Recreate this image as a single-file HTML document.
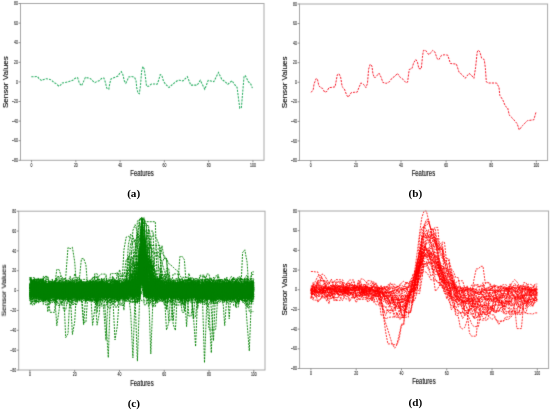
<!DOCTYPE html><html><head><meta charset="utf-8"><style>html,body{margin:0;padding:0;background:#fff;width:550px;height:411px;overflow:hidden}svg{display:block;will-change:transform}</style></head><body>
<svg width="550" height="411" viewBox="0 0 550 411" font-family="Liberation Sans, sans-serif">
<defs><filter id="bl" color-interpolation-filters="sRGB" filterUnits="userSpaceOnUse" x="0" y="0" width="550" height="411"><feConvolveMatrix order="3" kernelMatrix="0.01 0.08 0.01 0.08 0.64 0.08 0.01 0.08 0.01" divisor="1" edgeMode="duplicate"/></filter></defs><g filter="url(#bl)">
<rect width="550" height="411" fill="#fff"/>
<polyline points="31.3,76.8 34.6,76.7 37.5,76.5 39.3,78.9 41.5,80.5 43.7,79.5 46.2,78.7 49.2,79.2 51.4,80.0 53.9,82.4 56.1,83.6 58.7,86.0 60.5,85.1 62.3,82.9 65.2,82.5 68.4,81.7 72.7,80.3 75.6,78.0 77.6,77.7 79.5,83.4 81.6,85.7 83.3,82.1 85.4,77.4 88.0,77.9 90.5,78.6 92.7,80.9 94.8,82.6 97.3,81.3 99.9,80.4 101.5,78.5 103.9,78.0 105.4,82.4 106.8,88.2 108.8,89.2 109.7,83.8 110.9,79.0 113.1,78.0 115.6,77.0 118.0,76.1 119.5,73.6 121.4,71.7 122.9,74.6 124.3,80.9 125.8,83.2 127.3,80.4 128.7,77.0 131.1,76.5 134.5,77.3 136.0,80.4 136.8,88.2 138.0,93.1 139.3,93.8 140.5,85.7 141.6,71.4 142.9,66.5 144.3,69.2 145.4,76.9 146.5,86.2 148.7,86.2 151.4,84.0 154.7,84.0 156.9,84.4 158.5,80.7 160.2,74.7 161.8,75.3 163.5,81.3 165.7,84.4 169.0,87.6 171.7,85.1 174.4,82.9 177.7,80.4 179.9,80.2 182.9,80.9 187.3,76.6 190.8,85.1 197.2,85.1 200.3,80.4 204.8,89.3 208.2,80.4 213.8,81.7 218.5,72.5 221.7,79.3 224.7,81.4 227.8,84.3 232.0,80.7 234.7,84.7 237.1,87.4 238.7,100.1 239.8,108.2 241.4,107.5 242.7,92.1 244.1,76.0 245.4,75.8 248.1,81.4 250.8,84.1 252.4,88.1" fill="none" stroke="#2aae62" stroke-width="1.05" stroke-dasharray="2.2,1.1"/>
<polyline points="311.1,92.4 313.2,89.7 314.1,83.8 316.2,78.5 317.5,79.5 318.8,85.5 320.5,87.6 322.6,88.4 324.7,92.3 326.9,91.4 329.0,87.6 331.8,87.4 335.1,86.8 337.3,74.8 338.9,73.7 340.6,77.0 342.2,86.8 344.4,89.0 346.6,95.0 348.2,97.2 351.0,92.8 354.2,92.3 357.1,92.2 359.3,86.7 360.9,82.9 363.7,84.5 365.9,87.6 367.5,83.4 368.6,69.2 370.2,64.3 371.9,65.9 373.0,74.1 374.6,78.0 376.8,75.8 379.0,73.1 381.2,77.4 382.8,82.4 386.1,83.4 389.4,81.8 392.1,78.0 394.9,76.3 397.4,73.4 400.5,77.7 403.2,79.4 405.9,82.7 407.6,82.1 409.2,69.5 412.0,68.4 413.6,63.0 415.8,59.5 417.4,61.9 418.9,68.7 421.3,68.7 422.4,57.5 423.4,50.4 425.6,50.4 428.9,54.8 432.7,50.4 434.9,52.0 437.1,58.6 438.8,59.7 441.5,55.3 444.2,54.8 447.7,55.1 450.4,63.5 456.4,64.1 459.1,72.3 461.9,74.5 465.2,78.3 469.0,73.4 471.2,75.0 473.9,78.3 475.6,67.4 477.2,52.0 478.3,50.1 479.9,52.0 481.6,58.1 484.3,59.7 485.4,68.4 486.3,81.9 488.7,83.0 496.6,83.0 499.0,87.4 499.8,95.3 502.9,100.1 505.3,106.1 507.7,108.0 509.3,115.1 513.2,119.0 517.2,123.8 519.2,129.8 522.7,125.4 527.5,120.6 533.8,119.8 536.2,111.5" fill="none" stroke="#f71c2c" stroke-width="1.0" stroke-dasharray="2.2,1.1"/>
<g fill="none" stroke="#008000" stroke-width="0.9" stroke-dasharray="2,1">
<polyline points="29.9,289.0 32.1,291.5 34.4,292.4 36.6,289.3 38.9,288.2 41.1,291.5 43.3,291.5 45.6,291.5 47.8,295.0 50.0,297.1 52.3,291.6 54.5,294.9 56.8,294.9 59.0,294.9 61.2,294.9 63.5,294.9 65.7,294.9 68.0,291.6 70.2,291.6 72.4,292.0 74.7,292.0 76.9,292.0 79.2,288.7 81.4,291.4 83.6,288.8 85.9,288.8 88.1,291.8 90.4,294.1 92.6,290.5 94.8,289.3 97.1,288.2 99.3,288.2 101.5,288.2 103.8,288.2 106.0,288.2 108.3,288.2 110.5,288.2 112.7,292.4 115.0,292.4 117.2,286.8 119.5,288.1 121.7,288.1 123.9,288.1 126.2,294.8 128.4,289.7 130.7,290.1 132.9,296.8 135.1,296.8 137.4,291.3 139.6,283.6 141.8,270.9 144.1,290.8 146.3,290.8 148.6,293.7 150.8,289.9 153.0,289.9 155.3,289.9 157.5,291.9 159.8,287.4 162.0,287.4 164.2,290.9 166.5,288.2 168.7,284.9 171.0,284.9 173.2,284.9 175.4,284.9 177.7,289.0 179.9,289.0 182.2,289.0 184.4,289.0 186.6,294.4 188.9,294.4 191.1,287.5 193.3,287.5 195.6,294.6 197.8,296.0 200.1,290.3 202.3,284.2 204.5,284.2 206.8,296.5 209.0,294.2 211.3,294.2 213.5,294.2 215.7,289.1 218.0,289.1 220.2,290.8 222.5,290.8 224.7,292.6 226.9,293.8 229.2,290.3 231.4,290.0 233.7,291.6 235.9,293.2 238.1,293.2 240.4,293.2 242.6,287.6 244.8,287.6 247.1,295.5 249.3,287.2 251.6,286.7 253.8,286.7"/>
<polyline points="29.9,290.8 32.1,290.8 34.4,290.8 36.6,290.8 38.9,290.8 41.1,290.8 43.3,300.8 45.6,300.8 47.8,283.6 50.0,283.6 52.3,286.8 54.5,286.8 56.8,276.8 59.0,276.8 61.2,276.4 63.5,285.1 65.7,285.1 68.0,283.2 70.2,282.6 72.4,283.1 74.7,283.1 76.9,288.1 79.2,288.1 81.4,291.1 83.6,289.8 85.9,288.1 88.1,287.1 90.4,287.1 92.6,287.1 94.8,283.3 97.1,284.6 99.3,284.6 101.5,284.6 103.8,284.6 106.0,284.6 108.3,285.8 110.5,285.1 112.7,286.4 115.0,289.3 117.2,289.3 119.5,289.5 121.7,289.5 123.9,289.5 126.2,288.8 128.4,287.6 130.7,290.4 132.9,292.9 135.1,289.5 137.4,289.5 139.6,289.5 141.8,272.6 144.1,272.6 146.3,289.9 148.6,289.9 150.8,288.8 153.0,286.4 155.3,286.4 157.5,290.5 159.8,286.0 162.0,281.6 164.2,282.4 166.5,283.0 168.7,282.0 171.0,283.7 173.2,283.7 175.4,283.7 177.7,285.8 179.9,285.8 182.2,286.1 184.4,289.1 186.6,289.1 188.9,284.1 191.1,278.0 193.3,278.0 195.6,285.5 197.8,285.5 200.1,285.5 202.3,285.5 204.5,290.5 206.8,295.3 209.0,295.3 211.3,295.3 213.5,295.3 215.7,295.3 218.0,296.6 220.2,291.4 222.5,282.4 224.7,278.7 226.9,278.7 229.2,282.9 231.4,282.9 233.7,282.9 235.9,288.6 238.1,288.6 240.4,286.9 242.6,285.2 244.8,285.6 247.1,285.6 249.3,294.1 251.6,294.1 253.8,288.5"/>
<polyline points="29.9,288.0 32.1,281.1 34.4,286.1 36.6,286.1 38.9,284.8 41.1,293.2 43.3,291.1 45.6,279.3 47.8,279.3 50.0,288.7 52.3,288.7 54.5,289.8 56.8,286.3 59.0,290.8 61.2,290.8 63.5,295.4 65.7,295.4 68.0,295.4 70.2,296.2 72.4,296.2 74.7,296.2 76.9,287.1 79.2,287.1 81.4,284.5 83.6,284.5 85.9,284.5 88.1,284.5 90.4,284.5 92.6,287.1 94.8,297.5 97.1,294.1 99.3,285.4 101.5,286.9 103.8,286.9 106.0,286.9 108.3,286.9 110.5,286.9 112.7,286.9 115.0,292.5 117.2,292.5 119.5,287.4 121.7,282.9 123.9,282.9 126.2,291.4 128.4,285.7 130.7,272.7 132.9,280.6 135.1,280.6 137.4,280.6 139.6,280.6 141.8,220.3 144.1,280.3 146.3,276.8 148.6,276.8 150.8,276.8 153.0,286.1 155.3,286.1 157.5,285.2 159.8,280.2 162.0,284.2 164.2,284.2 166.5,280.6 168.7,286.0 171.0,288.0 173.2,291.9 175.4,291.9 177.7,292.0 179.9,302.3 182.2,302.3 184.4,302.3 186.6,288.0 188.9,288.0 191.1,284.6 193.3,286.1 195.6,300.7 197.8,289.3 200.1,289.3 202.3,278.0 204.5,276.5 206.8,279.5 209.0,279.5 211.3,299.4 213.5,285.1 215.7,286.8 218.0,282.3 220.2,287.7 222.5,286.8 224.7,286.8 226.9,285.7 229.2,285.7 231.4,285.5 233.7,284.9 235.9,284.9 238.1,285.8 240.4,287.1 242.6,283.2 244.8,284.7 247.1,284.7 249.3,290.2 251.6,278.3 253.8,287.0"/>
<polyline points="29.9,280.5 32.1,280.5 34.4,280.5 36.6,288.1 38.9,288.1 41.1,288.4 43.3,284.9 45.6,288.4 47.8,293.6 50.0,293.6 52.3,293.6 54.5,293.6 56.8,294.2 59.0,294.2 61.2,289.7 63.5,289.7 65.7,289.7 68.0,284.7 70.2,280.9 72.4,288.1 74.7,288.1 76.9,288.9 79.2,291.1 81.4,291.1 83.6,292.0 85.9,292.0 88.1,292.0 90.4,292.0 92.6,292.3 94.8,292.3 97.1,292.3 99.3,287.6 101.5,293.9 103.8,293.9 106.0,286.7 108.3,286.7 110.5,286.7 112.7,288.8 115.0,290.8 117.2,290.8 119.5,290.8 121.7,290.8 123.9,282.1 126.2,279.9 128.4,284.9 130.7,287.6 132.9,288.8 135.1,294.5 137.4,294.5 139.6,285.8 141.8,257.7 144.1,257.7 146.3,286.8 148.6,292.0 150.8,296.7 153.0,286.7 155.3,286.7 157.5,287.5 159.8,287.5 162.0,286.5 164.2,286.5 166.5,286.5 168.7,281.5 171.0,281.5 173.2,281.5 175.4,281.5 177.7,292.6 179.9,292.6 182.2,292.6 184.4,289.9 186.6,286.7 188.9,286.7 191.1,296.6 193.3,292.7 195.6,291.7 197.8,289.8 200.1,289.8 202.3,289.8 204.5,289.8 206.8,288.5 209.0,290.2 211.3,288.4 213.5,283.8 215.7,286.3 218.0,286.3 220.2,291.7 222.5,291.7 224.7,284.2 226.9,284.2 229.2,289.1 231.4,293.1 233.7,294.4 235.9,294.4 238.1,287.6 240.4,287.5 242.6,287.5 244.8,285.2 247.1,285.2 249.3,285.2 251.6,284.3 253.8,287.8"/>
<polyline points="29.9,298.2 32.1,298.2 34.4,298.2 36.6,284.1 38.9,284.8 41.1,284.8 43.3,291.5 45.6,291.5 47.8,292.1 50.0,288.7 52.3,288.7 54.5,292.5 56.8,292.5 59.0,292.5 61.2,292.5 63.5,288.1 65.7,289.6 68.0,289.0 70.2,299.5 72.4,296.3 74.7,291.3 76.9,291.3 79.2,291.3 81.4,298.6 83.6,298.6 85.9,298.6 88.1,296.3 90.4,296.3 92.6,282.2 94.8,290.1 97.1,290.1 99.3,290.1 101.5,290.1 103.8,290.1 106.0,290.1 108.3,290.1 110.5,295.8 112.7,284.6 115.0,288.5 117.2,300.7 119.5,287.3 121.7,287.3 123.9,293.6 126.2,287.5 128.4,287.5 130.7,291.8 132.9,299.2 135.1,290.6 137.4,301.5 139.6,301.5 141.8,241.8 144.1,269.3 146.3,269.3 148.6,269.3 150.8,290.2 153.0,292.3 155.3,287.1 157.5,287.1 159.8,287.1 162.0,287.1 164.2,287.1 166.5,287.1 168.7,287.1 171.0,280.6 173.2,280.6 175.4,282.6 177.7,282.6 179.9,282.6 182.2,283.3 184.4,283.3 186.6,283.3 188.9,282.3 191.1,283.0 193.3,283.0 195.6,298.7 197.8,298.7 200.1,286.7 202.3,295.1 204.5,295.1 206.8,295.1 209.0,295.1 211.3,296.8 213.5,296.8 215.7,295.4 218.0,292.4 220.2,292.4 222.5,285.8 224.7,297.7 226.9,297.7 229.2,291.8 231.4,288.2 233.7,288.6 235.9,288.6 238.1,290.3 240.4,290.3 242.6,288.9 244.8,288.9 247.1,294.5 249.3,291.4 251.6,287.9 253.8,279.4"/>
<polyline points="29.9,290.5 32.1,290.5 34.4,285.2 36.6,285.2 38.9,298.0 41.1,298.0 43.3,283.6 45.6,283.6 47.8,283.6 50.0,283.6 52.3,283.6 54.5,293.9 56.8,284.9 59.0,284.9 61.2,291.6 63.5,291.6 65.7,292.4 68.0,288.0 70.2,288.0 72.4,294.1 74.7,294.1 76.9,294.1 79.2,294.1 81.4,292.2 83.6,282.5 85.9,282.5 88.1,282.5 90.4,290.8 92.6,297.4 94.8,295.8 97.1,295.8 99.3,293.8 101.5,293.8 103.8,293.8 106.0,293.8 108.3,287.8 110.5,287.8 112.7,287.8 115.0,287.8 117.2,293.3 119.5,284.8 121.7,285.3 123.9,293.7 126.2,293.7 128.4,291.1 130.7,288.5 132.9,287.4 135.1,291.0 137.4,285.7 139.6,284.8 141.8,278.4 144.1,278.4 146.3,291.4 148.6,291.4 150.8,291.4 153.0,282.9 155.3,287.8 157.5,287.8 159.8,293.8 162.0,293.8 164.2,293.8 166.5,296.6 168.7,296.6 171.0,296.6 173.2,296.6 175.4,295.8 177.7,296.7 179.9,296.5 182.2,296.5 184.4,290.9 186.6,290.9 188.9,290.9 191.1,290.9 193.3,288.2 195.6,291.4 197.8,291.4 200.1,291.4 202.3,294.3 204.5,294.3 206.8,301.1 209.0,286.4 211.3,296.2 213.5,295.4 215.7,286.3 218.0,290.8 220.2,292.9 222.5,292.9 224.7,301.1 226.9,292.2 229.2,292.2 231.4,295.7 233.7,287.3 235.9,298.2 238.1,297.1 240.4,290.8 242.6,290.8 244.8,289.9 247.1,296.9 249.3,299.9 251.6,303.9 253.8,303.9"/>
<polyline points="29.9,294.3 32.1,290.2 34.4,289.4 36.6,289.4 38.9,296.3 41.1,290.5 43.3,292.3 45.6,288.3 47.8,297.5 50.0,297.5 52.3,295.1 54.5,283.7 56.8,289.8 59.0,292.9 61.2,292.9 63.5,289.9 65.7,290.8 68.0,294.7 70.2,292.6 72.4,292.2 74.7,292.2 76.9,297.8 79.2,297.8 81.4,288.3 83.6,289.3 85.9,289.3 88.1,289.0 90.4,289.0 92.6,289.0 94.8,289.0 97.1,289.0 99.3,289.0 101.5,291.1 103.8,287.3 106.0,287.3 108.3,290.4 110.5,291.0 112.7,292.8 115.0,292.8 117.2,288.8 119.5,288.8 121.7,288.8 123.9,288.8 126.2,288.8 128.4,288.8 130.7,288.8 132.9,288.8 135.1,289.5 137.4,289.5 139.6,290.5 141.8,269.1 144.1,280.1 146.3,280.1 148.6,291.2 150.8,291.2 153.0,292.3 155.3,292.3 157.5,294.6 159.8,294.6 162.0,292.7 164.2,292.7 166.5,292.7 168.7,292.7 171.0,294.2 173.2,291.9 175.4,291.1 177.7,289.8 179.9,290.3 182.2,290.2 184.4,289.1 186.6,289.1 188.9,294.1 191.1,294.1 193.3,294.1 195.6,298.1 197.8,298.1 200.1,292.7 202.3,286.5 204.5,289.4 206.8,290.4 209.0,287.1 211.3,297.1 213.5,302.3 215.7,295.8 218.0,293.5 220.2,293.5 222.5,283.7 224.7,283.7 226.9,283.7 229.2,284.3 231.4,284.3 233.7,289.4 235.9,282.2 238.1,291.3 240.4,294.6 242.6,293.1 244.8,293.1 247.1,291.5 249.3,292.8 251.6,291.2 253.8,291.6"/>
<polyline points="29.9,284.2 32.1,284.2 34.4,286.8 36.6,294.2 38.9,294.2 41.1,286.7 43.3,286.7 45.6,289.7 47.8,289.7 50.0,289.7 52.3,289.7 54.5,284.9 56.8,288.5 59.0,285.6 61.2,285.6 63.5,288.3 65.7,283.9 68.0,287.0 70.2,287.0 72.4,287.0 74.7,287.0 76.9,288.9 79.2,288.9 81.4,292.1 83.6,294.3 85.9,294.3 88.1,296.0 90.4,283.1 92.6,287.9 94.8,287.9 97.1,285.1 99.3,288.5 101.5,288.5 103.8,294.3 106.0,290.5 108.3,290.6 110.5,287.9 112.7,289.8 115.0,296.7 117.2,299.2 119.5,294.7 121.7,294.7 123.9,286.8 126.2,286.8 128.4,299.8 130.7,302.8 132.9,295.0 135.1,292.1 137.4,292.1 139.6,263.9 141.8,254.4 144.1,276.4 146.3,288.8 148.6,288.8 150.8,289.2 153.0,289.2 155.3,281.0 157.5,281.0 159.8,281.0 162.0,281.0 164.2,291.5 166.5,291.5 168.7,291.5 171.0,291.5 173.2,288.2 175.4,288.2 177.7,300.1 179.9,300.1 182.2,300.1 184.4,284.2 186.6,290.7 188.9,290.7 191.1,290.7 193.3,288.3 195.6,299.6 197.8,299.6 200.1,299.6 202.3,287.5 204.5,286.6 206.8,286.6 209.0,281.3 211.3,292.7 213.5,295.7 215.7,295.7 218.0,283.8 220.2,287.5 222.5,287.5 224.7,291.8 226.9,293.4 229.2,283.7 231.4,280.6 233.7,282.5 235.9,282.5 238.1,295.7 240.4,295.7 242.6,295.7 244.8,287.1 247.1,288.5 249.3,288.5 251.6,288.5 253.8,289.3"/>
<polyline points="29.9,280.9 32.1,280.9 34.4,294.3 36.6,294.3 38.9,290.4 41.1,285.2 43.3,286.7 45.6,288.0 47.8,288.0 50.0,288.0 52.3,288.0 54.5,288.0 56.8,295.8 59.0,295.8 61.2,294.5 63.5,294.5 65.7,294.5 68.0,294.5 70.2,294.5 72.4,293.6 74.7,289.8 76.9,292.7 79.2,292.7 81.4,289.9 83.6,291.4 85.9,291.4 88.1,293.6 90.4,299.1 92.6,302.0 94.8,302.0 97.1,302.0 99.3,288.9 101.5,293.6 103.8,288.8 106.0,288.8 108.3,286.3 110.5,286.3 112.7,286.3 115.0,285.0 117.2,285.0 119.5,287.0 121.7,285.5 123.9,285.5 126.2,293.9 128.4,286.3 130.7,286.3 132.9,286.3 135.1,291.1 137.4,279.8 139.6,277.1 141.8,276.4 144.1,273.7 146.3,274.5 148.6,274.5 150.8,274.5 153.0,274.5 155.3,286.2 157.5,286.2 159.8,288.4 162.0,288.4 164.2,288.4 166.5,286.0 168.7,286.0 171.0,290.2 173.2,290.2 175.4,290.2 177.7,286.1 179.9,284.9 182.2,284.9 184.4,284.9 186.6,284.9 188.9,285.9 191.1,285.9 193.3,279.9 195.6,279.9 197.8,288.4 200.1,282.1 202.3,282.1 204.5,286.7 206.8,285.6 209.0,291.5 211.3,291.5 213.5,291.9 215.7,291.9 218.0,291.9 220.2,290.9 222.5,290.9 224.7,292.3 226.9,292.3 229.2,292.3 231.4,290.1 233.7,290.1 235.9,290.1 238.1,290.1 240.4,291.8 242.6,291.8 244.8,290.1 247.1,290.1 249.3,295.1 251.6,295.1 253.8,295.1"/>
<polyline points="29.9,299.1 32.1,290.4 34.4,288.3 36.6,288.3 38.9,285.3 41.1,286.3 43.3,286.3 45.6,292.9 47.8,292.9 50.0,292.9 52.3,284.2 54.5,284.2 56.8,290.3 59.0,289.8 61.2,289.3 63.5,289.3 65.7,289.3 68.0,289.3 70.2,289.3 72.4,289.3 74.7,289.5 76.9,288.4 79.2,294.4 81.4,282.8 83.6,282.7 85.9,282.7 88.1,281.6 90.4,281.6 92.6,281.6 94.8,281.6 97.1,281.6 99.3,281.3 101.5,281.3 103.8,281.3 106.0,288.3 108.3,288.3 110.5,293.5 112.7,293.5 115.0,281.2 117.2,281.2 119.5,280.7 121.7,287.8 123.9,293.9 126.2,279.4 128.4,289.8 130.7,284.0 132.9,279.2 135.1,279.2 137.4,279.2 139.6,279.2 141.8,261.5 144.1,282.5 146.3,282.5 148.6,282.5 150.8,280.2 153.0,280.2 155.3,283.2 157.5,283.2 159.8,283.2 162.0,283.2 164.2,281.8 166.5,281.8 168.7,283.0 171.0,283.0 173.2,283.0 175.4,294.8 177.7,297.7 179.9,297.7 182.2,297.7 184.4,297.7 186.6,293.5 188.9,291.0 191.1,285.4 193.3,288.7 195.6,288.7 197.8,281.7 200.1,281.7 202.3,281.7 204.5,281.7 206.8,287.0 209.0,287.0 211.3,287.2 213.5,290.9 215.7,290.9 218.0,290.9 220.2,289.4 222.5,289.4 224.7,283.4 226.9,292.2 229.2,286.3 231.4,289.1 233.7,286.4 235.9,286.4 238.1,294.5 240.4,294.5 242.6,294.5 244.8,294.5 247.1,298.8 249.3,293.4 251.6,294.5 253.8,290.1"/>
<polyline points="29.9,296.3 32.1,300.7 34.4,291.6 36.6,293.4 38.9,293.4 41.1,294.8 43.3,295.0 45.6,295.0 47.8,294.1 50.0,304.1 52.3,295.9 54.5,302.7 56.8,297.0 59.0,291.5 61.2,296.3 63.5,297.4 65.7,297.4 68.0,297.4 70.2,297.4 72.4,297.4 74.7,297.4 76.9,297.4 79.2,297.4 81.4,300.8 83.6,292.5 85.9,301.4 88.1,293.2 90.4,300.1 92.6,285.8 94.8,302.9 97.1,289.1 99.3,289.1 101.5,289.1 103.8,289.1 106.0,289.1 108.3,289.1 110.5,303.4 112.7,298.4 115.0,301.4 117.2,300.7 119.5,300.7 121.7,285.8 123.9,294.0 126.2,296.3 128.4,296.7 130.7,291.6 132.9,291.6 135.1,291.6 137.4,288.1 139.6,288.1 141.8,275.3 144.1,275.3 146.3,286.4 148.6,296.4 150.8,293.4 153.0,293.4 155.3,291.4 157.5,289.0 159.8,289.0 162.0,289.0 164.2,289.0 166.5,290.3 168.7,294.6 171.0,294.6 173.2,305.0 175.4,305.0 177.7,305.0 179.9,305.0 182.2,305.0 184.4,305.0 186.6,289.6 188.9,297.5 191.1,291.4 193.3,295.6 195.6,295.6 197.8,295.2 200.1,289.7 202.3,300.6 204.5,297.1 206.8,297.1 209.0,297.1 211.3,303.3 213.5,303.3 215.7,303.3 218.0,303.3 220.2,294.6 222.5,294.6 224.7,294.6 226.9,294.6 229.2,294.6 231.4,302.5 233.7,297.2 235.9,287.4 238.1,294.5 240.4,292.2 242.6,292.2 244.8,292.2 247.1,294.1 249.3,294.1 251.6,294.1 253.8,296.6"/>
<polyline points="29.9,301.1 32.1,301.1 34.4,291.5 36.6,291.5 38.9,291.5 41.1,290.9 43.3,290.9 45.6,290.9 47.8,290.9 50.0,290.9 52.3,296.3 54.5,296.3 56.8,296.3 59.0,283.7 61.2,283.7 63.5,289.1 65.7,285.9 68.0,285.9 70.2,285.9 72.4,284.0 74.7,284.8 76.9,284.8 79.2,289.9 81.4,289.9 83.6,289.9 85.9,291.5 88.1,291.5 90.4,288.9 92.6,291.0 94.8,291.0 97.1,291.0 99.3,291.5 101.5,291.5 103.8,279.4 106.0,276.4 108.3,289.0 110.5,291.2 112.7,292.3 115.0,292.3 117.2,292.3 119.5,292.3 121.7,290.1 123.9,290.1 126.2,295.4 128.4,287.8 130.7,278.7 132.9,273.9 135.1,273.9 137.4,273.9 139.6,279.3 141.8,269.7 144.1,269.7 146.3,290.2 148.6,290.2 150.8,295.7 153.0,293.6 155.3,290.9 157.5,290.9 159.8,295.9 162.0,294.5 164.2,294.5 166.5,286.0 168.7,290.6 171.0,290.6 173.2,295.7 175.4,292.1 177.7,289.8 179.9,290.4 182.2,290.4 184.4,290.4 186.6,290.4 188.9,290.4 191.1,288.6 193.3,292.0 195.6,289.4 197.8,289.4 200.1,297.1 202.3,294.8 204.5,283.9 206.8,283.9 209.0,283.9 211.3,288.4 213.5,288.4 215.7,283.5 218.0,296.6 220.2,293.0 222.5,290.3 224.7,290.3 226.9,290.3 229.2,287.7 231.4,287.7 233.7,290.9 235.9,290.6 238.1,291.3 240.4,288.5 242.6,288.5 244.8,288.5 247.1,294.2 249.3,283.5 251.6,283.5 253.8,285.4"/>
<polyline points="29.9,286.8 32.1,286.8 34.4,286.8 36.6,286.8 38.9,285.6 41.1,291.2 43.3,293.6 45.6,294.0 47.8,296.5 50.0,296.5 52.3,296.5 54.5,289.3 56.8,289.3 59.0,289.3 61.2,292.0 63.5,292.0 65.7,297.5 68.0,297.5 70.2,294.3 72.4,294.3 74.7,295.3 76.9,293.8 79.2,295.9 81.4,291.5 83.6,291.5 85.9,295.5 88.1,291.4 90.4,291.4 92.6,289.7 94.8,289.7 97.1,289.7 99.3,289.7 101.5,287.1 103.8,287.1 106.0,293.6 108.3,293.6 110.5,286.0 112.7,286.0 115.0,286.0 117.2,286.0 119.5,284.7 121.7,284.7 123.9,284.2 126.2,284.2 128.4,284.2 130.7,288.8 132.9,289.8 135.1,289.8 137.4,290.7 139.6,289.9 141.8,279.0 144.1,290.7 146.3,289.1 148.6,289.1 150.8,295.8 153.0,295.8 155.3,289.9 157.5,289.9 159.8,286.1 162.0,286.1 164.2,286.1 166.5,286.1 168.7,286.2 171.0,286.2 173.2,286.2 175.4,297.0 177.7,297.0 179.9,287.8 182.2,285.0 184.4,292.9 186.6,287.5 188.9,287.5 191.1,287.8 193.3,287.8 195.6,288.9 197.8,286.0 200.1,287.4 202.3,287.4 204.5,290.2 206.8,292.8 209.0,292.8 211.3,292.8 213.5,290.2 215.7,290.2 218.0,295.8 220.2,298.8 222.5,290.8 224.7,290.8 226.9,290.8 229.2,290.8 231.4,290.8 233.7,291.8 235.9,295.1 238.1,301.9 240.4,296.2 242.6,291.8 244.8,299.0 247.1,289.0 249.3,289.0 251.6,289.0 253.8,282.1"/>
<polyline points="29.9,277.2 32.1,284.6 34.4,287.6 36.6,288.7 38.9,287.3 41.1,287.3 43.3,287.3 45.6,287.3 47.8,292.3 50.0,290.4 52.3,292.3 54.5,295.4 56.8,295.4 59.0,295.4 61.2,296.1 63.5,287.6 65.7,287.6 68.0,288.6 70.2,288.1 72.4,288.1 74.7,288.1 76.9,293.6 79.2,293.6 81.4,293.6 83.6,292.6 85.9,291.8 88.1,291.8 90.4,291.8 92.6,291.8 94.8,290.5 97.1,292.5 99.3,285.6 101.5,285.6 103.8,285.6 106.0,285.6 108.3,285.6 110.5,285.6 112.7,285.6 115.0,282.4 117.2,286.7 119.5,290.6 121.7,288.7 123.9,295.4 126.2,291.0 128.4,291.0 130.7,288.6 132.9,296.1 135.1,296.1 137.4,296.1 139.6,291.9 141.8,260.2 144.1,289.1 146.3,290.4 148.6,290.4 150.8,290.4 153.0,285.0 155.3,285.0 157.5,285.0 159.8,286.2 162.0,290.6 164.2,290.0 166.5,290.0 168.7,290.0 171.0,289.3 173.2,293.2 175.4,293.2 177.7,293.2 179.9,292.3 182.2,291.7 184.4,286.4 186.6,286.4 188.9,288.4 191.1,288.4 193.3,302.3 195.6,302.3 197.8,303.5 200.1,293.2 202.3,293.2 204.5,293.2 206.8,293.2 209.0,293.2 211.3,283.9 213.5,283.9 215.7,292.7 218.0,295.3 220.2,295.3 222.5,295.3 224.7,293.0 226.9,290.2 229.2,290.2 231.4,290.2 233.7,287.6 235.9,294.9 238.1,296.3 240.4,296.3 242.6,296.3 244.8,296.3 247.1,292.5 249.3,291.8 251.6,291.8 253.8,297.7"/>
<polyline points="29.9,297.8 32.1,289.7 34.4,294.7 36.6,293.1 38.9,293.1 41.1,287.3 43.3,287.3 45.6,287.3 47.8,295.7 50.0,293.9 52.3,293.9 54.5,292.4 56.8,290.4 59.0,290.4 61.2,296.1 63.5,285.5 65.7,300.0 68.0,291.1 70.2,292.3 72.4,292.3 74.7,290.3 76.9,290.3 79.2,290.3 81.4,290.3 83.6,290.3 85.9,286.3 88.1,289.7 90.4,283.5 92.6,287.0 94.8,287.0 97.1,287.0 99.3,294.3 101.5,293.9 103.8,293.9 106.0,288.6 108.3,284.3 110.5,285.9 112.7,290.4 115.0,290.4 117.2,292.8 119.5,292.8 121.7,292.8 123.9,287.7 126.2,293.5 128.4,293.2 130.7,293.2 132.9,293.2 135.1,293.2 137.4,301.2 139.6,283.2 141.8,261.1 144.1,285.6 146.3,285.6 148.6,299.0 150.8,281.0 153.0,289.9 155.3,289.9 157.5,289.9 159.8,289.9 162.0,289.2 164.2,292.5 166.5,289.7 168.7,285.3 171.0,285.3 173.2,294.7 175.4,294.7 177.7,289.4 179.9,290.9 182.2,280.5 184.4,289.5 186.6,289.5 188.9,289.5 191.1,289.5 193.3,317.0 195.6,317.0 197.8,293.8 200.1,292.1 202.3,292.1 204.5,288.9 206.8,287.9 209.0,287.1 211.3,289.4 213.5,288.6 215.7,292.5 218.0,291.9 220.2,291.9 222.5,299.4 224.7,288.9 226.9,277.1 229.2,318.8 231.4,285.2 233.7,298.4 235.9,298.4 238.1,283.2 240.4,283.2 242.6,295.1 244.8,297.6 247.1,297.6 249.3,288.5 251.6,288.5 253.8,291.2"/>
<polyline points="29.9,290.6 32.1,290.6 34.4,295.5 36.6,295.5 38.9,295.5 41.1,295.5 43.3,295.5 45.6,299.5 47.8,288.4 50.0,296.8 52.3,295.2 54.5,295.2 56.8,291.6 59.0,291.6 61.2,292.3 63.5,292.3 65.7,291.6 68.0,297.5 70.2,307.9 72.4,297.3 74.7,297.3 76.9,297.3 79.2,298.0 81.4,290.7 83.6,286.9 85.9,286.9 88.1,286.9 90.4,286.9 92.6,294.0 94.8,294.0 97.1,291.0 99.3,291.0 101.5,291.0 103.8,294.8 106.0,294.8 108.3,295.9 110.5,285.6 112.7,277.4 115.0,286.8 117.2,286.8 119.5,292.4 121.7,292.4 123.9,283.8 126.2,283.8 128.4,283.8 130.7,293.5 132.9,291.0 135.1,291.0 137.4,291.8 139.6,295.3 141.8,274.9 144.1,285.1 146.3,285.1 148.6,285.1 150.8,287.4 153.0,290.0 155.3,290.0 157.5,303.5 159.8,295.5 162.0,300.7 164.2,300.9 166.5,291.9 168.7,288.9 171.0,288.9 173.2,300.5 175.4,300.5 177.7,295.7 179.9,298.5 182.2,298.5 184.4,289.6 186.6,289.6 188.9,289.6 191.1,281.4 193.3,281.4 195.6,294.2 197.8,291.5 200.1,291.5 202.3,298.9 204.5,296.4 206.8,296.4 209.0,296.4 211.3,297.3 213.5,301.1 215.7,301.1 218.0,291.7 220.2,291.7 222.5,301.1 224.7,301.1 226.9,285.7 229.2,292.1 231.4,296.3 233.7,296.3 235.9,296.3 238.1,296.3 240.4,296.3 242.6,293.9 244.8,293.9 247.1,293.9 249.3,299.0 251.6,290.2 253.8,290.2"/>
<polyline points="29.9,277.7 32.1,277.7 34.4,277.7 36.6,293.8 38.9,294.9 41.1,292.8 43.3,291.6 45.6,288.8 47.8,285.3 50.0,285.3 52.3,283.6 54.5,292.6 56.8,292.6 59.0,283.8 61.2,283.8 63.5,285.9 65.7,285.9 68.0,285.9 70.2,285.9 72.4,285.5 74.7,285.5 76.9,290.3 79.2,287.3 81.4,285.8 83.6,291.3 85.9,284.6 88.1,285.4 90.4,285.4 92.6,277.9 94.8,277.9 97.1,287.8 99.3,287.8 101.5,287.8 103.8,287.8 106.0,288.8 108.3,287.4 110.5,282.5 112.7,284.1 115.0,289.1 117.2,281.6 119.5,285.3 121.7,285.3 123.9,283.6 126.2,283.6 128.4,284.2 130.7,284.2 132.9,284.2 135.1,294.6 137.4,294.6 139.6,293.4 141.8,263.6 144.1,294.2 146.3,289.9 148.6,283.0 150.8,282.3 153.0,281.8 155.3,281.8 157.5,281.8 159.8,278.6 162.0,278.6 164.2,278.6 166.5,291.2 168.7,287.9 171.0,289.5 173.2,298.9 175.4,298.9 177.7,289.1 179.9,289.1 182.2,284.1 184.4,284.1 186.6,284.1 188.9,284.1 191.1,284.1 193.3,280.7 195.6,282.3 197.8,290.9 200.1,296.8 202.3,291.3 204.5,291.3 206.8,291.3 209.0,278.2 211.3,278.2 213.5,285.4 215.7,286.1 218.0,286.1 220.2,286.1 222.5,286.1 224.7,302.4 226.9,302.4 229.2,302.4 231.4,288.8 233.7,288.8 235.9,295.7 238.1,295.7 240.4,283.9 242.6,283.9 244.8,287.8 247.1,287.8 249.3,286.1 251.6,286.1 253.8,286.1"/>
<polyline points="29.9,286.8 32.1,286.1 34.4,291.7 36.6,294.1 38.9,294.1 41.1,293.6 43.3,293.6 45.6,291.0 47.8,294.2 50.0,293.6 52.3,293.6 54.5,293.6 56.8,292.1 59.0,291.3 61.2,291.3 63.5,291.3 65.7,291.3 68.0,291.3 70.2,291.3 72.4,293.1 74.7,289.8 76.9,290.1 79.2,290.1 81.4,290.1 83.6,291.2 85.9,292.0 88.1,299.1 90.4,299.1 92.6,299.1 94.8,299.1 97.1,299.1 99.3,290.9 101.5,292.4 103.8,292.4 106.0,295.5 108.3,290.7 110.5,291.9 112.7,291.9 115.0,290.4 117.2,290.4 119.5,290.4 121.7,293.2 123.9,290.9 126.2,283.6 128.4,281.3 130.7,281.3 132.9,284.4 135.1,277.5 137.4,276.7 139.6,267.3 141.8,235.7 144.1,263.2 146.3,266.0 148.6,271.4 150.8,278.5 153.0,278.5 155.3,284.6 157.5,280.9 159.8,280.9 162.0,289.5 164.2,293.6 166.5,293.6 168.7,293.6 171.0,293.6 173.2,297.4 175.4,296.5 177.7,296.5 179.9,296.5 182.2,290.9 184.4,290.9 186.6,290.9 188.9,301.6 191.1,291.7 193.3,291.7 195.6,290.6 197.8,290.6 200.1,292.3 202.3,289.9 204.5,289.9 206.8,289.9 209.0,293.5 211.3,290.5 213.5,287.4 215.7,287.4 218.0,287.4 220.2,294.3 222.5,289.1 224.7,289.1 226.9,289.1 229.2,289.1 231.4,299.1 233.7,299.1 235.9,299.1 238.1,299.1 240.4,299.1 242.6,299.1 244.8,299.1 247.1,294.7 249.3,294.7 251.6,288.1 253.8,288.4"/>
<polyline points="29.9,282.9 32.1,287.6 34.4,288.6 36.6,288.6 38.9,291.9 41.1,291.9 43.3,291.9 45.6,291.9 47.8,294.5 50.0,294.5 52.3,295.0 54.5,292.4 56.8,288.7 59.0,280.2 61.2,280.2 63.5,280.2 65.7,287.8 68.0,287.8 70.2,284.7 72.4,289.5 74.7,289.5 76.9,294.8 79.2,294.8 81.4,298.2 83.6,289.8 85.9,289.8 88.1,300.5 90.4,299.8 92.6,299.8 94.8,299.8 97.1,289.9 99.3,288.0 101.5,288.0 103.8,288.0 106.0,288.0 108.3,288.0 110.5,288.0 112.7,288.0 115.0,288.7 117.2,285.6 119.5,288.1 121.7,290.8 123.9,295.2 126.2,288.5 128.4,288.5 130.7,288.5 132.9,280.1 135.1,276.6 137.4,276.6 139.6,252.0 141.8,228.7 144.1,228.7 146.3,257.4 148.6,263.7 150.8,280.2 153.0,280.2 155.3,284.2 157.5,288.6 159.8,278.4 162.0,278.4 164.2,287.0 166.5,294.3 168.7,294.3 171.0,284.8 173.2,287.3 175.4,278.7 177.7,278.7 179.9,278.7 182.2,290.5 184.4,292.7 186.6,290.2 188.9,285.0 191.1,285.0 193.3,291.1 195.6,291.1 197.8,291.1 200.1,288.4 202.3,288.4 204.5,288.4 206.8,290.9 209.0,290.9 211.3,290.9 213.5,292.9 215.7,284.4 218.0,284.4 220.2,284.4 222.5,284.4 224.7,294.3 226.9,294.3 229.2,291.0 231.4,287.1 233.7,290.3 235.9,293.7 238.1,293.7 240.4,290.5 242.6,294.1 244.8,291.3 247.1,291.3 249.3,291.3 251.6,289.9 253.8,290.7"/>
<polyline points="29.9,290.4 32.1,290.4 34.4,288.5 36.6,290.1 38.9,290.1 41.1,294.0 43.3,294.0 45.6,298.2 47.8,298.2 50.0,295.2 52.3,289.3 54.5,291.7 56.8,292.2 59.0,294.8 61.2,294.8 63.5,294.8 65.7,294.8 68.0,294.8 70.2,295.7 72.4,295.7 74.7,283.1 76.9,283.1 79.2,283.1 81.4,283.1 83.6,283.1 85.9,297.1 88.1,292.2 90.4,295.0 92.6,295.0 94.8,300.0 97.1,300.0 99.3,293.8 101.5,289.9 103.8,289.9 106.0,297.3 108.3,296.1 110.5,295.2 112.7,299.5 115.0,299.5 117.2,299.5 119.5,298.7 121.7,305.4 123.9,305.4 126.2,293.4 128.4,293.4 130.7,293.4 132.9,301.5 135.1,301.5 137.4,301.5 139.6,301.5 141.8,244.4 144.1,269.5 146.3,269.5 148.6,272.4 150.8,273.5 153.0,290.3 155.3,290.3 157.5,293.8 159.8,288.6 162.0,288.6 164.2,291.9 166.5,293.6 168.7,293.6 171.0,293.6 173.2,287.2 175.4,287.2 177.7,290.4 179.9,283.0 182.2,288.7 184.4,295.8 186.6,295.8 188.9,295.8 191.1,295.8 193.3,289.5 195.6,288.1 197.8,286.7 200.1,290.8 202.3,293.4 204.5,293.4 206.8,293.4 209.0,292.4 211.3,292.4 213.5,292.8 215.7,292.8 218.0,292.8 220.2,292.8 222.5,289.7 224.7,290.8 226.9,290.8 229.2,288.6 231.4,293.2 233.7,298.6 235.9,298.6 238.1,298.6 240.4,298.6 242.6,298.6 244.8,298.6 247.1,292.6 249.3,292.6 251.6,290.8 253.8,290.8"/>
<polyline points="29.9,279.1 32.1,283.3 34.4,283.3 36.6,283.3 38.9,293.1 41.1,293.1 43.3,289.7 45.6,288.6 47.8,290.1 50.0,288.2 52.3,279.6 54.5,289.7 56.8,289.8 59.0,289.8 61.2,289.8 63.5,293.4 65.7,295.6 68.0,291.1 70.2,289.7 72.4,289.7 74.7,292.7 76.9,292.7 79.2,292.7 81.4,292.7 83.6,292.7 85.9,292.7 88.1,287.5 90.4,289.4 92.6,294.0 94.8,290.3 97.1,290.3 99.3,290.3 101.5,290.3 103.8,290.3 106.0,290.5 108.3,290.5 110.5,290.5 112.7,290.5 115.0,292.0 117.2,292.0 119.5,286.2 121.7,291.0 123.9,294.3 126.2,294.3 128.4,287.4 130.7,284.5 132.9,284.5 135.1,284.5 137.4,284.5 139.6,284.5 141.8,274.5 144.1,289.8 146.3,288.1 148.6,288.5 150.8,288.9 153.0,292.7 155.3,291.1 157.5,291.5 159.8,291.5 162.0,291.5 164.2,291.5 166.5,291.5 168.7,289.9 171.0,289.9 173.2,293.8 175.4,293.8 177.7,290.6 179.9,288.5 182.2,287.1 184.4,289.8 186.6,293.1 188.9,289.1 191.1,289.1 193.3,289.1 195.6,289.1 197.8,289.1 200.1,289.1 202.3,282.3 204.5,282.3 206.8,282.3 209.0,282.3 211.3,290.6 213.5,290.6 215.7,290.6 218.0,279.7 220.2,279.7 222.5,288.3 224.7,290.1 226.9,288.6 229.2,288.6 231.4,288.6 233.7,285.0 235.9,288.1 238.1,284.0 240.4,290.5 242.6,290.5 244.8,290.5 247.1,290.5 249.3,290.5 251.6,290.5 253.8,290.5"/>
<polyline points="29.9,292.7 32.1,287.4 34.4,286.3 36.6,286.5 38.9,288.4 41.1,284.8 43.3,284.8 45.6,288.8 47.8,285.5 50.0,282.7 52.3,284.0 54.5,284.0 56.8,284.0 59.0,284.0 61.2,284.0 63.5,284.0 65.7,284.0 68.0,290.3 70.2,285.7 72.4,285.7 74.7,297.1 76.9,290.9 79.2,290.9 81.4,290.9 83.6,295.1 85.9,292.6 88.1,288.9 90.4,288.8 92.6,292.6 94.8,292.1 97.1,291.4 99.3,291.4 101.5,289.1 103.8,289.1 106.0,286.7 108.3,289.3 110.5,289.3 112.7,290.5 115.0,290.5 117.2,290.5 119.5,286.9 121.7,285.0 123.9,285.1 126.2,286.3 128.4,286.3 130.7,286.3 132.9,290.7 135.1,281.2 137.4,286.3 139.6,261.7 141.8,227.7 144.1,227.7 146.3,264.7 148.6,264.7 150.8,287.2 153.0,284.8 155.3,281.8 157.5,281.8 159.8,285.4 162.0,285.4 164.2,291.9 166.5,291.9 168.7,293.7 171.0,287.4 173.2,287.4 175.4,290.0 177.7,290.0 179.9,290.0 182.2,281.8 184.4,281.8 186.6,284.3 188.9,291.1 191.1,291.1 193.3,291.1 195.6,284.7 197.8,290.6 200.1,285.7 202.3,293.4 204.5,293.4 206.8,293.4 209.0,290.1 211.3,290.1 213.5,279.1 215.7,286.2 218.0,286.1 220.2,288.3 222.5,294.2 224.7,290.8 226.9,286.1 229.2,286.1 231.4,287.4 233.7,287.4 235.9,287.7 238.1,287.6 240.4,287.6 242.6,287.6 244.8,287.6 247.1,293.0 249.3,293.0 251.6,293.0 253.8,293.0"/>
<polyline points="29.9,290.3 32.1,293.4 34.4,293.4 36.6,296.1 38.9,285.8 41.1,285.8 43.3,285.5 45.6,285.5 47.8,291.2 50.0,290.7 52.3,290.7 54.5,290.7 56.8,290.7 59.0,287.9 61.2,287.9 63.5,288.1 65.7,280.1 68.0,280.1 70.2,283.0 72.4,282.5 74.7,282.5 76.9,285.5 79.2,285.5 81.4,285.5 83.6,285.5 85.9,289.1 88.1,293.7 90.4,293.7 92.6,293.7 94.8,290.2 97.1,290.2 99.3,297.4 101.5,297.4 103.8,285.3 106.0,292.6 108.3,292.6 110.5,292.6 112.7,292.6 115.0,287.8 117.2,287.8 119.5,282.9 121.7,290.0 123.9,299.0 126.2,299.0 128.4,299.0 130.7,289.9 132.9,286.0 135.1,292.4 137.4,291.2 139.6,291.2 141.8,262.2 144.1,287.8 146.3,287.8 148.6,294.7 150.8,294.7 153.0,284.6 155.3,284.6 157.5,284.6 159.8,289.8 162.0,288.3 164.2,288.3 166.5,294.0 168.7,294.0 171.0,289.0 173.2,290.5 175.4,291.0 177.7,295.1 179.9,295.5 182.2,292.4 184.4,287.1 186.6,287.8 188.9,287.8 191.1,287.8 193.3,287.8 195.6,287.8 197.8,279.4 200.1,285.4 202.3,283.0 204.5,290.3 206.8,290.3 209.0,293.9 211.3,293.9 213.5,293.9 215.7,293.9 218.0,293.9 220.2,284.3 222.5,285.6 224.7,285.6 226.9,285.6 229.2,285.6 231.4,289.7 233.7,289.7 235.9,289.7 238.1,289.7 240.4,289.7 242.6,293.4 244.8,293.4 247.1,286.7 249.3,292.2 251.6,292.2 253.8,292.2"/>
<polyline points="29.9,290.6 32.1,290.3 34.4,290.3 36.6,285.7 38.9,297.5 41.1,288.1 43.3,288.1 45.6,296.2 47.8,296.2 50.0,293.4 52.3,293.4 54.5,293.4 56.8,296.6 59.0,296.6 61.2,296.6 63.5,287.0 65.7,287.0 68.0,287.0 70.2,292.0 72.4,292.0 74.7,295.3 76.9,287.9 79.2,291.3 81.4,291.3 83.6,289.7 85.9,293.8 88.1,290.4 90.4,300.3 92.6,300.3 94.8,292.0 97.1,291.9 99.3,290.8 101.5,290.8 103.8,290.8 106.0,291.1 108.3,289.6 110.5,300.7 112.7,295.5 115.0,294.6 117.2,292.6 119.5,292.6 121.7,299.5 123.9,299.5 126.2,301.9 128.4,297.7 130.7,296.3 132.9,296.3 135.1,296.3 137.4,296.3 139.6,293.2 141.8,222.5 144.1,288.4 146.3,288.4 148.6,288.4 150.8,282.2 153.0,282.9 155.3,282.9 157.5,292.2 159.8,297.2 162.0,297.2 164.2,297.2 166.5,297.2 168.7,297.2 171.0,297.2 173.2,294.1 175.4,294.1 177.7,299.4 179.9,299.4 182.2,303.9 184.4,293.3 186.6,294.4 188.9,286.8 191.1,286.8 193.3,286.8 195.6,287.8 197.8,295.4 200.1,295.4 202.3,295.4 204.5,293.3 206.8,289.8 209.0,292.7 211.3,292.7 213.5,288.5 215.7,288.5 218.0,288.5 220.2,287.9 222.5,287.9 224.7,288.2 226.9,293.6 229.2,293.0 231.4,291.5 233.7,291.5 235.9,294.2 238.1,294.2 240.4,294.2 242.6,294.2 244.8,294.2 247.1,294.2 249.3,295.6 251.6,295.6 253.8,295.6"/>
<polyline points="29.9,279.6 32.1,279.6 34.4,279.6 36.6,287.7 38.9,287.7 41.1,287.7 43.3,296.2 45.6,292.5 47.8,293.5 50.0,295.2 52.3,286.5 54.5,285.0 56.8,287.4 59.0,285.7 61.2,283.9 63.5,283.9 65.7,283.9 68.0,297.0 70.2,289.9 72.4,289.9 74.7,289.9 76.9,287.7 79.2,287.7 81.4,287.7 83.6,287.7 85.9,287.7 88.1,293.0 90.4,293.0 92.6,293.0 94.8,293.7 97.1,288.4 99.3,286.4 101.5,286.4 103.8,289.9 106.0,291.1 108.3,291.4 110.5,287.6 112.7,287.6 115.0,286.6 117.2,286.6 119.5,295.4 121.7,291.5 123.9,298.8 126.2,298.8 128.4,294.2 130.7,294.2 132.9,294.2 135.1,294.2 137.4,294.2 139.6,294.2 141.8,257.8 144.1,257.8 146.3,257.8 148.6,257.8 150.8,257.8 153.0,291.9 155.3,291.9 157.5,291.9 159.8,284.6 162.0,284.6 164.2,284.6 166.5,284.6 168.7,289.7 171.0,289.7 173.2,297.2 175.4,294.9 177.7,294.9 179.9,294.9 182.2,296.9 184.4,296.9 186.6,292.3 188.9,295.4 191.1,295.4 193.3,287.5 195.6,287.5 197.8,302.0 200.1,302.0 202.3,302.0 204.5,282.9 206.8,288.2 209.0,296.3 211.3,287.1 213.5,287.1 215.7,287.3 218.0,287.3 220.2,293.2 222.5,291.1 224.7,291.1 226.9,291.1 229.2,293.9 231.4,297.1 233.7,297.1 235.9,290.9 238.1,289.7 240.4,286.3 242.6,286.3 244.8,286.3 247.1,290.6 249.3,290.6 251.6,290.6 253.8,287.6"/>
<polyline points="29.9,287.0 32.1,287.0 34.4,287.1 36.6,287.1 38.9,285.4 41.1,280.7 43.3,289.6 45.6,290.2 47.8,285.8 50.0,283.4 52.3,284.5 54.5,284.5 56.8,284.5 59.0,289.5 61.2,289.5 63.5,285.1 65.7,285.1 68.0,283.3 70.2,283.3 72.4,287.6 74.7,292.3 76.9,292.3 79.2,292.3 81.4,289.6 83.6,289.6 85.9,294.6 88.1,293.7 90.4,291.3 92.6,294.8 94.8,294.8 97.1,288.8 99.3,288.8 101.5,288.0 103.8,289.8 106.0,289.8 108.3,293.5 110.5,288.6 112.7,285.3 115.0,288.2 117.2,288.2 119.5,289.8 121.7,296.3 123.9,294.0 126.2,294.0 128.4,289.7 130.7,289.7 132.9,289.7 135.1,289.7 137.4,291.8 139.6,291.8 141.8,257.2 144.1,257.2 146.3,290.2 148.6,283.4 150.8,284.8 153.0,282.1 155.3,283.4 157.5,283.4 159.8,290.3 162.0,290.3 164.2,290.3 166.5,268.5 168.7,268.5 171.0,286.0 173.2,286.9 175.4,287.9 177.7,287.2 179.9,287.2 182.2,291.9 184.4,293.4 186.6,293.4 188.9,284.6 191.1,287.6 193.3,289.2 195.6,286.0 197.8,286.0 200.1,286.0 202.3,295.2 204.5,297.6 206.8,291.4 209.0,290.6 211.3,290.6 213.5,290.6 215.7,290.0 218.0,289.6 220.2,289.6 222.5,300.2 224.7,294.0 226.9,292.0 229.2,292.0 231.4,292.8 233.7,292.8 235.9,292.8 238.1,289.5 240.4,292.9 242.6,292.6 244.8,292.6 247.1,292.6 249.3,292.6 251.6,292.4 253.8,292.4"/>
<polyline points="29.9,295.1 32.1,289.7 34.4,289.7 36.6,289.7 38.9,289.7 41.1,289.7 43.3,289.7 45.6,289.6 47.8,289.6 50.0,292.1 52.3,291.0 54.5,292.9 56.8,292.9 59.0,290.8 61.2,290.8 63.5,284.4 65.7,289.3 68.0,294.5 70.2,290.4 72.4,292.2 74.7,287.0 76.9,287.0 79.2,296.2 81.4,296.2 83.6,296.2 85.9,296.2 88.1,299.7 90.4,300.5 92.6,291.8 94.8,285.6 97.1,285.9 99.3,285.9 101.5,285.9 103.8,296.3 106.0,297.9 108.3,287.8 110.5,287.8 112.7,287.8 115.0,287.8 117.2,287.8 119.5,290.7 121.7,290.7 123.9,291.3 126.2,291.3 128.4,294.3 130.7,294.3 132.9,289.2 135.1,294.3 137.4,296.3 139.6,296.3 141.8,255.7 144.1,281.7 146.3,292.2 148.6,292.3 150.8,298.0 153.0,298.0 155.3,298.0 157.5,292.7 159.8,291.0 162.0,291.0 164.2,292.8 166.5,298.5 168.7,298.5 171.0,295.5 173.2,295.5 175.4,295.5 177.7,292.8 179.9,294.2 182.2,294.2 184.4,294.2 186.6,288.6 188.9,289.3 191.1,293.7 193.3,287.7 195.6,296.8 197.8,290.9 200.1,291.4 202.3,291.4 204.5,298.8 206.8,298.8 209.0,296.3 211.3,292.7 213.5,292.7 215.7,292.4 218.0,293.8 220.2,296.1 222.5,298.5 224.7,294.6 226.9,290.1 229.2,288.4 231.4,293.4 233.7,289.2 235.9,296.9 238.1,296.9 240.4,296.9 242.6,296.9 244.8,296.7 247.1,297.1 249.3,294.4 251.6,294.4 253.8,294.4"/>
<polyline points="29.9,292.8 32.1,292.8 34.4,292.6 36.6,292.6 38.9,291.5 41.1,291.5 43.3,290.9 45.6,289.2 47.8,289.2 50.0,292.9 52.3,284.7 54.5,284.7 56.8,284.7 59.0,296.3 61.2,296.3 63.5,296.0 65.7,287.7 68.0,287.7 70.2,287.7 72.4,287.7 74.7,289.1 76.9,289.1 79.2,287.9 81.4,287.9 83.6,287.9 85.9,287.9 88.1,287.9 90.4,287.9 92.6,287.9 94.8,287.9 97.1,295.1 99.3,292.9 101.5,292.9 103.8,292.9 106.0,292.9 108.3,292.9 110.5,291.1 112.7,291.1 115.0,289.1 117.2,295.2 119.5,299.8 121.7,297.4 123.9,297.4 126.2,289.6 128.4,295.5 130.7,288.6 132.9,292.2 135.1,292.2 137.4,293.2 139.6,284.6 141.8,257.4 144.1,257.4 146.3,292.2 148.6,292.2 150.8,284.9 153.0,293.5 155.3,293.5 157.5,293.5 159.8,295.6 162.0,284.8 164.2,295.7 166.5,295.7 168.7,295.6 171.0,295.6 173.2,295.6 175.4,295.6 177.7,295.6 179.9,290.1 182.2,291.2 184.4,291.2 186.6,291.2 188.9,288.9 191.1,288.9 193.3,291.9 195.6,291.9 197.8,292.5 200.1,296.8 202.3,292.8 204.5,292.8 206.8,286.4 209.0,294.2 211.3,292.8 213.5,292.8 215.7,287.6 218.0,287.6 220.2,290.0 222.5,282.5 224.7,290.1 226.9,290.1 229.2,280.4 231.4,293.1 233.7,287.2 235.9,289.2 238.1,289.2 240.4,289.2 242.6,289.2 244.8,289.2 247.1,289.2 249.3,287.3 251.6,291.4 253.8,290.1"/>
<polyline points="29.9,289.9 32.1,287.9 34.4,287.9 36.6,287.9 38.9,292.0 41.1,288.4 43.3,280.8 45.6,288.6 47.8,288.6 50.0,294.9 52.3,285.2 54.5,285.3 56.8,285.6 59.0,289.7 61.2,287.6 63.5,289.2 65.7,289.2 68.0,288.9 70.2,288.9 72.4,294.5 74.7,291.1 76.9,300.9 79.2,290.0 81.4,286.0 83.6,289.7 85.9,289.7 88.1,292.9 90.4,290.8 92.6,293.0 94.8,291.4 97.1,291.3 99.3,291.3 101.5,293.0 103.8,293.0 106.0,293.0 108.3,293.0 110.5,293.0 112.7,289.7 115.0,289.7 117.2,289.8 119.5,289.8 121.7,290.0 123.9,290.0 126.2,290.0 128.4,284.2 130.7,294.7 132.9,294.0 135.1,263.5 137.4,263.5 139.6,263.5 141.8,244.3 144.1,249.2 146.3,237.4 148.6,237.4 150.8,276.3 153.0,276.3 155.3,276.3 157.5,288.1 159.8,295.7 162.0,290.6 164.2,288.5 166.5,289.6 168.7,289.6 171.0,289.6 173.2,282.5 175.4,283.8 177.7,289.3 179.9,282.1 182.2,282.1 184.4,282.1 186.6,290.2 188.9,295.2 191.1,295.2 193.3,295.2 195.6,291.9 197.8,291.9 200.1,285.7 202.3,295.5 204.5,296.5 206.8,296.5 209.0,296.5 211.3,296.5 213.5,291.6 215.7,295.7 218.0,295.7 220.2,295.7 222.5,295.7 224.7,285.3 226.9,291.2 229.2,287.5 231.4,287.5 233.7,287.5 235.9,287.5 238.1,286.1 240.4,286.0 242.6,286.0 244.8,290.8 247.1,290.8 249.3,287.5 251.6,283.8 253.8,283.8"/>
<polyline points="29.9,289.0 32.1,296.0 34.4,296.0 36.6,294.9 38.9,290.5 41.1,290.5 43.3,295.2 45.6,295.2 47.8,288.8 50.0,283.4 52.3,283.4 54.5,283.4 56.8,283.4 59.0,292.8 61.2,292.8 63.5,292.8 65.7,292.8 68.0,292.8 70.2,286.3 72.4,285.1 74.7,296.3 76.9,296.3 79.2,283.3 81.4,289.7 83.6,283.5 85.9,283.5 88.1,283.5 90.4,283.5 92.6,283.5 94.8,290.8 97.1,290.8 99.3,294.5 101.5,294.5 103.8,296.0 106.0,297.7 108.3,297.7 110.5,297.7 112.7,291.9 115.0,291.9 117.2,297.8 119.5,297.8 121.7,295.3 123.9,286.2 126.2,286.2 128.4,290.2 130.7,292.0 132.9,288.0 135.1,286.2 137.4,292.0 139.6,292.0 141.8,259.4 144.1,286.0 146.3,286.0 148.6,288.4 150.8,290.5 153.0,296.8 155.3,296.8 157.5,296.8 159.8,296.8 162.0,296.8 164.2,291.9 166.5,294.9 168.7,294.9 171.0,294.9 173.2,294.9 175.4,297.9 177.7,297.9 179.9,290.5 182.2,290.5 184.4,290.5 186.6,290.5 188.9,290.5 191.1,292.7 193.3,298.2 195.6,299.5 197.8,284.8 200.1,275.2 202.3,275.2 204.5,275.2 206.8,285.1 209.0,285.1 211.3,285.1 213.5,285.1 215.7,293.1 218.0,290.4 220.2,288.0 222.5,288.0 224.7,288.0 226.9,288.0 229.2,289.7 231.4,291.3 233.7,301.3 235.9,301.3 238.1,301.3 240.4,296.5 242.6,296.5 244.8,288.3 247.1,288.3 249.3,293.5 251.6,293.5 253.8,293.5"/>
<polyline points="29.9,290.3 32.1,290.7 34.4,290.7 36.6,287.2 38.9,292.9 41.1,292.9 43.3,292.9 45.6,284.3 47.8,284.3 50.0,290.4 52.3,292.6 54.5,292.5 56.8,292.5 59.0,292.5 61.2,289.7 63.5,289.7 65.7,289.7 68.0,288.1 70.2,288.1 72.4,287.1 74.7,288.4 76.9,289.7 79.2,289.7 81.4,289.7 83.6,288.3 85.9,288.3 88.1,291.2 90.4,290.7 92.6,289.7 94.8,292.6 97.1,292.6 99.3,285.6 101.5,285.0 103.8,287.2 106.0,295.7 108.3,289.9 110.5,289.9 112.7,289.9 115.0,289.9 117.2,289.9 119.5,286.7 121.7,286.7 123.9,286.7 126.2,286.7 128.4,286.7 130.7,292.6 132.9,292.6 135.1,282.4 137.4,280.8 139.6,278.2 141.8,250.0 144.1,270.5 146.3,270.5 148.6,270.5 150.8,275.3 153.0,282.2 155.3,282.2 157.5,292.3 159.8,292.3 162.0,286.6 164.2,289.9 166.5,294.8 168.7,294.8 171.0,284.6 173.2,293.0 175.4,293.0 177.7,292.4 179.9,287.6 182.2,291.2 184.4,288.0 186.6,289.1 188.9,293.6 191.1,293.6 193.3,294.4 195.6,294.4 197.8,287.3 200.1,290.8 202.3,290.8 204.5,290.8 206.8,290.6 209.0,290.8 211.3,290.8 213.5,290.8 215.7,290.8 218.0,289.8 220.2,289.7 222.5,289.7 224.7,290.7 226.9,290.7 229.2,289.3 231.4,287.0 233.7,287.0 235.9,287.0 238.1,287.0 240.4,291.0 242.6,291.0 244.8,291.0 247.1,289.9 249.3,289.9 251.6,284.9 253.8,284.9"/>
<polyline points="29.9,284.2 32.1,284.2 34.4,282.2 36.6,282.2 38.9,288.9 41.1,292.3 43.3,292.3 45.6,292.3 47.8,292.3 50.0,287.1 52.3,287.9 54.5,287.9 56.8,287.9 59.0,289.1 61.2,289.1 63.5,286.1 65.7,286.1 68.0,293.4 70.2,290.7 72.4,287.9 74.7,292.1 76.9,284.7 79.2,282.3 81.4,282.3 83.6,282.3 85.9,296.6 88.1,296.6 90.4,281.1 92.6,281.1 94.8,285.3 97.1,285.3 99.3,285.3 101.5,285.3 103.8,285.3 106.0,283.4 108.3,280.1 110.5,280.1 112.7,280.2 115.0,291.5 117.2,291.5 119.5,286.1 121.7,286.1 123.9,286.5 126.2,289.8 128.4,281.4 130.7,292.6 132.9,292.6 135.1,292.6 137.4,281.6 139.6,282.8 141.8,246.3 144.1,246.3 146.3,286.2 148.6,290.8 150.8,278.1 153.0,278.1 155.3,291.5 157.5,288.4 159.8,283.7 162.0,283.7 164.2,278.6 166.5,278.6 168.7,288.3 171.0,288.3 173.2,288.3 175.4,288.3 177.7,288.3 179.9,288.3 182.2,288.3 184.4,288.3 186.6,288.3 188.9,288.3 191.1,288.3 193.3,319.2 195.6,290.0 197.8,290.0 200.1,290.0 202.3,290.0 204.5,290.0 206.8,288.2 209.0,293.9 211.3,290.9 213.5,290.9 215.7,290.9 218.0,286.0 220.2,283.6 222.5,283.6 224.7,283.6 226.9,283.6 229.2,283.6 231.4,287.9 233.7,287.9 235.9,285.8 238.1,285.8 240.4,285.6 242.6,285.6 244.8,282.3 247.1,284.8 249.3,284.8 251.6,284.8 253.8,289.2"/>
<polyline points="29.9,282.8 32.1,282.8 34.4,279.4 36.6,279.4 38.9,279.4 41.1,279.4 43.3,278.6 45.6,291.1 47.8,286.1 50.0,286.1 52.3,286.1 54.5,287.9 56.8,285.7 59.0,286.4 61.2,286.4 63.5,286.4 65.7,293.7 68.0,293.7 70.2,286.1 72.4,287.7 74.7,287.7 76.9,287.7 79.2,291.9 81.4,295.6 83.6,295.6 85.9,284.3 88.1,284.3 90.4,295.9 92.6,295.4 94.8,290.3 97.1,290.7 99.3,289.1 101.5,292.5 103.8,296.6 106.0,296.6 108.3,284.7 110.5,284.4 112.7,291.3 115.0,285.7 117.2,286.3 119.5,286.3 121.7,286.3 123.9,287.4 126.2,287.4 128.4,287.4 130.7,292.9 132.9,292.9 135.1,284.2 137.4,284.2 139.6,282.5 141.8,256.8 144.1,256.8 146.3,256.8 148.6,272.1 150.8,279.6 153.0,279.6 155.3,279.6 157.5,294.4 159.8,294.4 162.0,286.5 164.2,286.5 166.5,286.5 168.7,285.6 171.0,293.3 173.2,293.3 175.4,293.3 177.7,288.4 179.9,288.4 182.2,284.5 184.4,284.5 186.6,295.7 188.9,289.4 191.1,289.4 193.3,288.7 195.6,288.7 197.8,288.7 200.1,288.7 202.3,281.5 204.5,289.2 206.8,281.4 209.0,285.1 211.3,285.1 213.5,285.1 215.7,285.1 218.0,291.6 220.2,284.5 222.5,282.6 224.7,291.7 226.9,291.7 229.2,291.7 231.4,288.6 233.7,288.6 235.9,288.6 238.1,277.9 240.4,279.4 242.6,279.4 244.8,279.4 247.1,279.4 249.3,284.3 251.6,285.5 253.8,285.5"/>
<polyline points="29.9,283.8 32.1,289.0 34.4,285.2 36.6,290.1 38.9,293.5 41.1,293.5 43.3,288.9 45.6,288.6 47.8,288.9 50.0,291.0 52.3,291.0 54.5,291.0 56.8,291.0 59.0,291.0 61.2,293.9 63.5,289.2 65.7,289.2 68.0,289.2 70.2,282.3 72.4,290.3 74.7,290.3 76.9,290.1 79.2,291.9 81.4,291.9 83.6,291.9 85.9,291.9 88.1,287.2 90.4,287.2 92.6,292.4 94.8,273.7 97.1,273.7 99.3,282.5 101.5,294.8 103.8,294.8 106.0,283.4 108.3,294.4 110.5,294.4 112.7,294.4 115.0,292.7 117.2,292.7 119.5,288.3 121.7,288.3 123.9,288.1 126.2,288.1 128.4,288.1 130.7,267.2 132.9,267.2 135.1,248.4 137.4,232.8 139.6,240.6 141.8,218.2 144.1,241.1 146.3,241.1 148.6,232.9 150.8,249.0 153.0,249.0 155.3,249.0 157.5,249.0 159.8,249.0 162.0,289.0 164.2,289.0 166.5,290.5 168.7,284.1 171.0,284.1 173.2,284.1 175.4,292.1 177.7,287.3 179.9,287.3 182.2,289.3 184.4,289.3 186.6,289.3 188.9,289.3 191.1,293.0 193.3,288.7 195.6,287.7 197.8,292.1 200.1,292.1 202.3,289.3 204.5,289.3 206.8,291.5 209.0,291.5 211.3,291.5 213.5,291.5 215.7,291.5 218.0,291.5 220.2,291.5 222.5,291.5 224.7,291.5 226.9,291.5 229.2,291.5 231.4,291.5 233.7,291.5 235.9,291.5 238.1,290.3 240.4,277.6 242.6,297.8 244.8,297.8 247.1,297.8 249.3,297.8 251.6,292.8 253.8,282.4"/>
<polyline points="29.9,290.3 32.1,290.6 34.4,285.9 36.6,285.9 38.9,285.9 41.1,284.8 43.3,284.8 45.6,297.6 47.8,292.7 50.0,292.7 52.3,284.6 54.5,280.6 56.8,285.8 59.0,293.9 61.2,293.9 63.5,293.9 65.7,286.5 68.0,290.5 70.2,297.0 72.4,295.1 74.7,293.9 76.9,296.9 79.2,292.2 81.4,292.2 83.6,285.4 85.9,285.4 88.1,285.4 90.4,290.0 92.6,290.0 94.8,286.6 97.1,293.8 99.3,293.8 101.5,280.7 103.8,282.3 106.0,284.4 108.3,281.4 110.5,281.4 112.7,293.7 115.0,290.9 117.2,290.9 119.5,288.9 121.7,286.9 123.9,287.4 126.2,284.0 128.4,287.6 130.7,287.6 132.9,287.6 135.1,293.4 137.4,290.8 139.6,290.8 141.8,256.1 144.1,284.2 146.3,295.0 148.6,292.1 150.8,292.1 153.0,292.1 155.3,292.1 157.5,282.7 159.8,289.6 162.0,292.9 164.2,291.1 166.5,291.1 168.7,295.3 171.0,295.3 173.2,295.3 175.4,297.5 177.7,297.5 179.9,297.5 182.2,297.5 184.4,289.5 186.6,286.5 188.9,286.5 191.1,291.3 193.3,291.3 195.6,291.3 197.8,291.3 200.1,291.3 202.3,284.2 204.5,293.5 206.8,291.3 209.0,291.3 211.3,295.9 213.5,289.3 215.7,285.9 218.0,285.9 220.2,295.5 222.5,295.5 224.7,295.5 226.9,289.0 229.2,289.0 231.4,284.7 233.7,282.4 235.9,282.5 238.1,278.3 240.4,278.3 242.6,286.2 244.8,285.6 247.1,285.6 249.3,285.6 251.6,285.6 253.8,297.3"/>
<polyline points="29.9,304.3 32.1,303.0 34.4,294.7 36.6,295.1 38.9,291.7 41.1,290.7 43.3,290.7 45.6,290.7 47.8,290.7 50.0,290.7 52.3,294.2 54.5,294.2 56.8,297.8 59.0,282.0 61.2,289.8 63.5,296.2 65.7,296.2 68.0,296.2 70.2,293.8 72.4,293.8 74.7,293.8 76.9,293.8 79.2,293.8 81.4,293.8 83.6,293.8 85.9,293.8 88.1,301.1 90.4,301.1 92.6,301.1 94.8,291.4 97.1,291.4 99.3,291.4 101.5,288.0 103.8,288.0 106.0,288.0 108.3,288.0 110.5,294.1 112.7,286.7 115.0,286.7 117.2,300.9 119.5,298.6 121.7,298.6 123.9,287.1 126.2,287.1 128.4,281.1 130.7,281.6 132.9,294.5 135.1,302.3 137.4,302.3 139.6,292.7 141.8,265.3 144.1,293.2 146.3,293.2 148.6,293.2 150.8,293.2 153.0,293.7 155.3,293.7 157.5,282.8 159.8,294.9 162.0,294.9 164.2,291.8 166.5,288.3 168.7,288.2 171.0,287.1 173.2,284.9 175.4,282.5 177.7,282.5 179.9,282.5 182.2,282.5 184.4,282.5 186.6,280.7 188.9,283.6 191.1,283.6 193.3,282.6 195.6,282.6 197.8,280.4 200.1,291.1 202.3,291.1 204.5,286.6 206.8,286.6 209.0,286.6 211.3,299.2 213.5,299.2 215.7,294.9 218.0,291.2 220.2,291.2 222.5,288.5 224.7,288.5 226.9,288.5 229.2,288.5 231.4,286.4 233.7,289.9 235.9,289.9 238.1,289.9 240.4,296.9 242.6,296.9 244.8,292.3 247.1,293.9 249.3,297.4 251.6,297.4 253.8,293.3"/>
<polyline points="29.9,295.1 32.1,289.2 34.4,286.6 36.6,289.1 38.9,291.5 41.1,291.5 43.3,291.5 45.6,284.0 47.8,284.0 50.0,291.3 52.3,283.1 54.5,293.6 56.8,291.0 59.0,291.0 61.2,291.0 63.5,291.0 65.7,298.2 68.0,296.4 70.2,296.4 72.4,291.0 74.7,293.6 76.9,293.6 79.2,293.6 81.4,298.5 83.6,298.5 85.9,298.5 88.1,298.5 90.4,293.5 92.6,287.2 94.8,287.2 97.1,288.1 99.3,288.1 101.5,282.1 103.8,284.5 106.0,293.6 108.3,289.4 110.5,285.9 112.7,285.2 115.0,287.7 117.2,287.7 119.5,287.7 121.7,287.7 123.9,292.0 126.2,292.0 128.4,292.4 130.7,292.4 132.9,292.4 135.1,274.4 137.4,274.4 139.6,274.4 141.8,231.1 144.1,231.1 146.3,231.1 148.6,231.1 150.8,231.1 153.0,231.1 155.3,288.3 157.5,288.3 159.8,287.1 162.0,286.7 164.2,287.3 166.5,288.6 168.7,286.8 171.0,288.5 173.2,288.5 175.4,287.9 177.7,284.9 179.9,287.8 182.2,287.8 184.4,287.8 186.6,288.3 188.9,288.0 191.1,288.0 193.3,288.3 195.6,288.3 197.8,288.3 200.1,294.9 202.3,294.9 204.5,287.1 206.8,287.1 209.0,287.1 211.3,284.0 213.5,284.0 215.7,284.0 218.0,289.8 220.2,289.8 222.5,300.2 224.7,289.2 226.9,287.0 229.2,289.1 231.4,288.5 233.7,285.2 235.9,285.2 238.1,285.2 240.4,290.1 242.6,287.1 244.8,284.0 247.1,307.3 249.3,307.3 251.6,289.9 253.8,289.9"/>
<polyline points="29.9,289.9 32.1,289.9 34.4,289.9 36.6,289.9 38.9,294.9 41.1,294.9 43.3,292.2 45.6,292.2 47.8,285.2 50.0,284.2 52.3,286.0 54.5,290.7 56.8,290.8 59.0,290.8 61.2,286.8 63.5,292.9 65.7,292.9 68.0,287.3 70.2,287.3 72.4,287.3 74.7,288.2 76.9,291.7 79.2,285.7 81.4,289.7 83.6,290.5 85.9,290.5 88.1,291.7 90.4,291.7 92.6,290.7 94.8,285.3 97.1,285.3 99.3,288.0 101.5,288.0 103.8,288.0 106.0,288.0 108.3,288.9 110.5,294.9 112.7,292.4 115.0,289.3 117.2,287.9 119.5,289.7 121.7,290.2 123.9,283.3 126.2,283.3 128.4,283.3 130.7,274.6 132.9,274.6 135.1,274.6 137.4,274.6 139.6,274.6 141.8,259.8 144.1,275.0 146.3,285.5 148.6,285.5 150.8,287.9 153.0,290.4 155.3,290.4 157.5,290.4 159.8,290.4 162.0,293.9 164.2,293.9 166.5,293.9 168.7,290.7 171.0,290.3 173.2,290.3 175.4,290.3 177.7,290.3 179.9,288.0 182.2,288.0 184.4,288.0 186.6,288.0 188.9,284.3 191.1,283.1 193.3,283.1 195.6,283.1 197.8,290.6 200.1,292.3 202.3,292.3 204.5,292.3 206.8,289.4 209.0,289.4 211.3,292.9 213.5,288.3 215.7,288.3 218.0,288.3 220.2,298.4 222.5,298.4 224.7,289.6 226.9,285.7 229.2,285.7 231.4,286.7 233.7,289.7 235.9,289.7 238.1,289.7 240.4,289.1 242.6,287.7 244.8,287.7 247.1,287.7 249.3,288.7 251.6,288.0 253.8,295.2"/>
<polyline points="29.9,291.7 32.1,288.8 34.4,287.3 36.6,289.3 38.9,289.3 41.1,286.8 43.3,278.0 45.6,277.2 47.8,277.2 50.0,289.0 52.3,289.0 54.5,289.4 56.8,286.3 59.0,285.9 61.2,285.9 63.5,282.4 65.7,288.9 68.0,288.9 70.2,293.5 72.4,288.2 74.7,292.0 76.9,296.1 79.2,296.1 81.4,296.1 83.6,282.8 85.9,284.0 88.1,284.0 90.4,284.0 92.6,284.0 94.8,284.0 97.1,282.4 99.3,282.0 101.5,282.0 103.8,292.0 106.0,296.0 108.3,296.0 110.5,291.0 112.7,289.9 115.0,289.9 117.2,283.4 119.5,286.6 121.7,285.8 123.9,287.1 126.2,287.1 128.4,286.4 130.7,286.4 132.9,286.4 135.1,286.4 137.4,286.4 139.6,277.1 141.8,264.8 144.1,281.3 146.3,281.3 148.6,281.3 150.8,285.0 153.0,285.7 155.3,285.7 157.5,285.7 159.8,285.7 162.0,287.3 164.2,287.1 166.5,287.1 168.7,285.7 171.0,285.7 173.2,285.7 175.4,285.7 177.7,288.7 179.9,287.8 182.2,284.1 184.4,284.1 186.6,284.1 188.9,282.8 191.1,285.3 193.3,280.3 195.6,280.3 197.8,280.3 200.1,280.3 202.3,280.3 204.5,280.3 206.8,283.6 209.0,283.4 211.3,283.4 213.5,283.4 215.7,283.4 218.0,293.1 220.2,290.0 222.5,287.7 224.7,290.7 226.9,293.0 229.2,293.0 231.4,293.0 233.7,290.8 235.9,292.7 238.1,292.7 240.4,283.3 242.6,283.3 244.8,304.0 247.1,304.0 249.3,304.0 251.6,284.2 253.8,280.8"/>
<polyline points="29.9,294.4 32.1,294.3 34.4,294.3 36.6,287.0 38.9,287.6 41.1,295.2 43.3,299.6 45.6,299.5 47.8,299.2 50.0,299.2 52.3,296.5 54.5,297.1 56.8,293.0 59.0,288.2 61.2,289.6 63.5,294.1 65.7,294.1 68.0,294.1 70.2,294.1 72.4,295.4 74.7,295.4 76.9,295.7 79.2,295.7 81.4,296.5 83.6,293.4 85.9,293.4 88.1,293.2 90.4,293.2 92.6,294.5 94.8,294.2 97.1,294.2 99.3,294.2 101.5,291.7 103.8,294.6 106.0,294.6 108.3,308.0 110.5,308.0 112.7,297.2 115.0,297.2 117.2,295.6 119.5,296.6 121.7,296.4 123.9,296.3 126.2,296.3 128.4,294.7 130.7,294.1 132.9,287.4 135.1,287.2 137.4,288.7 139.6,279.5 141.8,259.0 144.1,259.0 146.3,287.0 148.6,287.0 150.8,287.0 153.0,300.4 155.3,300.4 157.5,291.1 159.8,295.7 162.0,297.2 164.2,286.1 166.5,286.1 168.7,286.1 171.0,286.1 173.2,286.1 175.4,295.2 177.7,295.2 179.9,288.1 182.2,288.1 184.4,288.1 186.6,288.1 188.9,288.1 191.1,288.1 193.3,297.7 195.6,295.3 197.8,295.3 200.1,295.3 202.3,291.8 204.5,291.8 206.8,287.1 209.0,288.4 211.3,288.4 213.5,300.1 215.7,300.1 218.0,287.1 220.2,284.7 222.5,284.7 224.7,284.7 226.9,288.8 229.2,292.8 231.4,291.7 233.7,296.0 235.9,296.4 238.1,293.0 240.4,291.8 242.6,290.1 244.8,289.9 247.1,289.9 249.3,289.9 251.6,289.9 253.8,291.4"/>
<polyline points="29.9,288.4 32.1,289.7 34.4,289.7 36.6,284.0 38.9,287.0 41.1,287.0 43.3,287.0 45.6,287.0 47.8,291.4 50.0,295.6 52.3,294.7 54.5,291.4 56.8,291.4 59.0,288.9 61.2,291.2 63.5,291.2 65.7,291.2 68.0,293.7 70.2,293.7 72.4,287.8 74.7,287.8 76.9,287.8 79.2,287.8 81.4,287.8 83.6,286.4 85.9,286.4 88.1,286.4 90.4,292.2 92.6,291.1 94.8,289.5 97.1,287.9 99.3,291.7 101.5,293.2 103.8,291.6 106.0,288.4 108.3,286.7 110.5,285.5 112.7,285.5 115.0,287.1 117.2,287.6 119.5,287.6 121.7,286.9 123.9,286.9 126.2,286.9 128.4,295.1 130.7,295.7 132.9,294.9 135.1,294.9 137.4,294.9 139.6,280.7 141.8,263.2 144.1,263.2 146.3,263.2 148.6,263.2 150.8,263.2 153.0,292.1 155.3,288.9 157.5,287.2 159.8,287.2 162.0,287.9 164.2,287.9 166.5,294.4 168.7,294.4 171.0,291.7 173.2,291.7 175.4,291.7 177.7,291.2 179.9,291.2 182.2,291.2 184.4,294.4 186.6,293.0 188.9,290.7 191.1,293.8 193.3,293.8 195.6,296.2 197.8,296.2 200.1,295.2 202.3,295.2 204.5,287.2 206.8,290.4 209.0,284.6 211.3,284.6 213.5,291.2 215.7,290.9 218.0,290.9 220.2,290.9 222.5,297.6 224.7,297.6 226.9,290.0 229.2,288.1 231.4,290.2 233.7,296.5 235.9,293.6 238.1,293.6 240.4,293.6 242.6,284.6 244.8,287.0 247.1,290.4 249.3,290.4 251.6,290.4 253.8,289.0"/>
<polyline points="29.9,287.8 32.1,284.0 34.4,284.0 36.6,282.7 38.9,288.1 41.1,284.7 43.3,284.7 45.6,280.3 47.8,282.4 50.0,282.4 52.3,294.0 54.5,294.0 56.8,294.0 59.0,294.0 61.2,294.0 63.5,293.5 65.7,293.5 68.0,285.4 70.2,285.4 72.4,285.4 74.7,285.4 76.9,301.3 79.2,301.3 81.4,284.5 83.6,284.5 85.9,288.6 88.1,288.6 90.4,292.9 92.6,290.0 94.8,288.6 97.1,288.6 99.3,288.0 101.5,279.0 103.8,287.8 106.0,287.8 108.3,283.6 110.5,283.6 112.7,292.5 115.0,297.7 117.2,295.9 119.5,287.4 121.7,286.0 123.9,310.2 126.2,284.8 128.4,282.6 130.7,282.6 132.9,275.9 135.1,275.1 137.4,275.1 139.6,275.1 141.8,268.3 144.1,268.3 146.3,268.3 148.6,293.2 150.8,293.2 153.0,290.3 155.3,279.0 157.5,279.0 159.8,287.8 162.0,290.7 164.2,281.0 166.5,281.0 168.7,296.7 171.0,294.2 173.2,288.0 175.4,288.0 177.7,288.0 179.9,288.0 182.2,294.5 184.4,294.5 186.6,286.7 188.9,286.7 191.1,288.3 193.3,288.3 195.6,288.3 197.8,282.6 200.1,295.0 202.3,287.1 204.5,291.5 206.8,291.5 209.0,291.5 211.3,291.5 213.5,285.4 215.7,285.0 218.0,286.3 220.2,289.9 222.5,285.2 224.7,285.2 226.9,285.2 229.2,285.2 231.4,288.0 233.7,288.0 235.9,293.6 238.1,293.6 240.4,283.8 242.6,283.8 244.8,288.3 247.1,288.3 249.3,288.3 251.6,283.9 253.8,283.9"/>
<polyline points="29.9,293.5 32.1,291.1 34.4,291.3 36.6,287.6 38.9,287.6 41.1,287.6 43.3,284.7 45.6,287.5 47.8,287.5 50.0,292.2 52.3,292.2 54.5,292.5 56.8,292.5 59.0,292.5 61.2,292.5 63.5,301.0 65.7,297.7 68.0,297.7 70.2,297.7 72.4,300.8 74.7,300.8 76.9,295.7 79.2,295.7 81.4,295.7 83.6,285.7 85.9,285.7 88.1,285.8 90.4,285.8 92.6,285.6 94.8,285.8 97.1,290.0 99.3,290.0 101.5,285.2 103.8,288.5 106.0,288.5 108.3,288.5 110.5,297.4 112.7,295.4 115.0,289.4 117.2,289.4 119.5,289.4 121.7,289.4 123.9,289.4 126.2,289.4 128.4,289.4 130.7,302.4 132.9,302.4 135.1,302.4 137.4,302.4 139.6,282.5 141.8,260.3 144.1,279.6 146.3,293.5 148.6,293.5 150.8,293.5 153.0,293.5 155.3,293.5 157.5,293.5 159.8,294.2 162.0,294.2 164.2,286.4 166.5,283.7 168.7,289.2 171.0,289.2 173.2,289.2 175.4,289.6 177.7,290.5 179.9,296.3 182.2,295.4 184.4,295.4 186.6,290.0 188.9,290.7 191.1,290.7 193.3,284.6 195.6,284.6 197.8,284.6 200.1,284.6 202.3,284.7 204.5,284.7 206.8,284.7 209.0,284.7 211.3,287.5 213.5,292.4 215.7,292.4 218.0,292.4 220.2,291.7 222.5,293.6 224.7,293.6 226.9,293.6 229.2,293.6 231.4,299.2 233.7,299.2 235.9,292.8 238.1,286.1 240.4,293.8 242.6,293.8 244.8,296.7 247.1,296.2 249.3,287.9 251.6,287.9 253.8,287.9"/>
<polyline points="29.9,280.2 32.1,280.2 34.4,284.2 36.6,290.2 38.9,290.2 41.1,290.2 43.3,290.2 45.6,300.5 47.8,286.8 50.0,295.8 52.3,286.8 54.5,281.5 56.8,289.0 59.0,289.0 61.2,289.0 63.5,289.2 65.7,289.2 68.0,289.2 70.2,289.9 72.4,289.9 74.7,294.6 76.9,285.9 79.2,286.6 81.4,286.6 83.6,286.6 85.9,286.9 88.1,289.2 90.4,285.0 92.6,285.0 94.8,288.8 97.1,288.8 99.3,285.4 101.5,289.5 103.8,295.2 106.0,286.5 108.3,286.9 110.5,286.9 112.7,286.6 115.0,286.6 117.2,289.3 119.5,289.3 121.7,292.2 123.9,292.2 126.2,284.4 128.4,284.4 130.7,272.3 132.9,272.3 135.1,272.3 137.4,271.0 139.6,271.0 141.8,244.3 144.1,244.3 146.3,279.5 148.6,279.5 150.8,279.5 153.0,279.5 155.3,279.5 157.5,279.5 159.8,279.5 162.0,295.6 164.2,284.5 166.5,288.8 168.7,290.7 171.0,295.1 173.2,285.7 175.4,285.7 177.7,285.7 179.9,285.7 182.2,291.2 184.4,291.2 186.6,294.5 188.9,294.7 191.1,294.7 193.3,285.1 195.6,285.1 197.8,285.1 200.1,288.7 202.3,287.7 204.5,289.2 206.8,290.0 209.0,286.9 211.3,290.0 213.5,288.8 215.7,283.9 218.0,287.2 220.2,287.2 222.5,286.0 224.7,286.0 226.9,286.0 229.2,291.5 231.4,291.5 233.7,293.4 235.9,284.2 238.1,282.2 240.4,283.2 242.6,283.2 244.8,283.2 247.1,283.2 249.3,286.4 251.6,289.2 253.8,291.7"/>
<polyline points="29.9,294.8 32.1,294.8 34.4,291.6 36.6,291.6 38.9,291.6 41.1,291.6 43.3,289.2 45.6,291.6 47.8,291.6 50.0,286.5 52.3,290.3 54.5,290.4 56.8,282.3 59.0,282.3 61.2,292.1 63.5,291.7 65.7,285.2 68.0,285.2 70.2,285.2 72.4,285.7 74.7,285.7 76.9,285.7 79.2,294.4 81.4,294.4 83.6,294.4 85.9,294.4 88.1,294.4 90.4,291.9 92.6,285.9 94.8,290.3 97.1,290.3 99.3,286.8 101.5,289.0 103.8,292.0 106.0,292.0 108.3,292.0 110.5,292.0 112.7,291.1 115.0,291.1 117.2,294.8 119.5,283.3 121.7,283.3 123.9,283.3 126.2,294.1 128.4,294.1 130.7,285.9 132.9,289.9 135.1,287.2 137.4,287.2 139.6,279.4 141.8,249.7 144.1,249.7 146.3,296.4 148.6,292.2 150.8,286.6 153.0,286.6 155.3,286.6 157.5,286.6 159.8,290.7 162.0,295.1 164.2,295.1 166.5,288.8 168.7,294.9 171.0,294.9 173.2,290.9 175.4,293.0 177.7,293.0 179.9,296.7 182.2,287.5 184.4,293.3 186.6,289.7 188.9,289.7 191.1,286.8 193.3,289.1 195.6,289.1 197.8,298.3 200.1,299.4 202.3,287.7 204.5,287.7 206.8,298.6 209.0,288.5 211.3,286.0 213.5,284.0 215.7,284.0 218.0,284.0 220.2,299.5 222.5,281.5 224.7,281.5 226.9,286.2 229.2,292.0 231.4,291.9 233.7,291.9 235.9,291.9 238.1,292.6 240.4,292.6 242.6,292.6 244.8,292.6 247.1,290.5 249.3,293.4 251.6,282.6 253.8,282.6"/>
<polyline points="29.9,300.8 32.1,290.0 34.4,290.0 36.6,290.0 38.9,292.3 41.1,296.8 43.3,291.6 45.6,291.6 47.8,291.6 50.0,291.3 52.3,291.3 54.5,291.3 56.8,291.3 59.0,292.9 61.2,292.9 63.5,291.6 65.7,291.6 68.0,291.1 70.2,294.4 72.4,294.4 74.7,289.3 76.9,293.5 79.2,288.9 81.4,293.7 83.6,293.2 85.9,291.6 88.1,297.1 90.4,297.1 92.6,297.1 94.8,290.6 97.1,288.9 99.3,281.8 101.5,281.8 103.8,281.8 106.0,292.9 108.3,291.7 110.5,290.9 112.7,287.1 115.0,287.1 117.2,289.1 119.5,280.2 121.7,294.5 123.9,298.3 126.2,298.3 128.4,291.3 130.7,291.3 132.9,288.7 135.1,288.7 137.4,293.5 139.6,285.4 141.8,263.4 144.1,293.5 146.3,293.5 148.6,293.5 150.8,290.4 153.0,296.7 155.3,298.8 157.5,286.1 159.8,290.6 162.0,290.6 164.2,290.6 166.5,290.6 168.7,289.1 171.0,289.1 173.2,289.5 175.4,290.0 177.7,290.0 179.9,290.0 182.2,287.6 184.4,287.6 186.6,287.6 188.9,293.4 191.1,286.7 193.3,289.8 195.6,292.8 197.8,292.8 200.1,292.8 202.3,292.5 204.5,292.5 206.8,287.9 209.0,289.5 211.3,294.1 213.5,293.7 215.7,290.0 218.0,294.7 220.2,290.5 222.5,290.5 224.7,296.2 226.9,300.3 229.2,294.4 231.4,291.0 233.7,291.0 235.9,291.0 238.1,291.0 240.4,291.0 242.6,289.5 244.8,292.2 247.1,284.5 249.3,284.5 251.6,294.4 253.8,292.8"/>
<polyline points="29.9,293.8 32.1,293.8 34.4,293.8 36.6,297.2 38.9,297.2 41.1,294.9 43.3,294.9 45.6,297.2 47.8,290.4 50.0,290.4 52.3,284.4 54.5,287.5 56.8,292.1 59.0,292.1 61.2,292.1 63.5,292.1 65.7,292.1 68.0,292.1 70.2,292.1 72.4,293.9 74.7,293.9 76.9,293.9 79.2,289.6 81.4,289.6 83.6,288.1 85.9,288.1 88.1,291.3 90.4,293.0 92.6,293.0 94.8,293.0 97.1,293.0 99.3,293.0 101.5,292.5 103.8,292.5 106.0,292.5 108.3,292.5 110.5,292.5 112.7,292.5 115.0,293.2 117.2,293.2 119.5,293.2 121.7,291.2 123.9,291.2 126.2,291.2 128.4,293.5 130.7,289.9 132.9,287.7 135.1,287.7 137.4,287.7 139.6,287.7 141.8,258.0 144.1,269.4 146.3,266.5 148.6,266.5 150.8,266.5 153.0,266.5 155.3,300.4 157.5,300.4 159.8,295.3 162.0,295.3 164.2,292.7 166.5,289.1 168.7,289.1 171.0,294.6 173.2,294.6 175.4,296.2 177.7,296.2 179.9,296.2 182.2,296.2 184.4,296.2 186.6,296.2 188.9,296.2 191.1,296.2 193.3,296.2 195.6,289.1 197.8,293.1 200.1,289.6 202.3,289.6 204.5,289.6 206.8,297.8 209.0,291.9 211.3,290.5 213.5,290.5 215.7,289.1 218.0,287.7 220.2,287.7 222.5,288.7 224.7,290.8 226.9,296.4 229.2,296.4 231.4,291.5 233.7,288.0 235.9,288.0 238.1,293.2 240.4,291.0 242.6,294.7 244.8,294.7 247.1,299.4 249.3,293.6 251.6,294.3 253.8,291.6"/>
<polyline points="29.9,282.6 32.1,282.4 34.4,285.3 36.6,279.5 38.9,279.5 41.1,279.5 43.3,279.5 45.6,276.5 47.8,289.1 50.0,289.1 52.3,289.1 54.5,281.4 56.8,279.6 59.0,278.6 61.2,291.9 63.5,291.9 65.7,291.9 68.0,288.6 70.2,288.6 72.4,288.6 74.7,288.6 76.9,288.6 79.2,290.7 81.4,290.7 83.6,290.7 85.9,284.5 88.1,289.4 90.4,286.8 92.6,286.8 94.8,286.8 97.1,289.3 99.3,289.3 101.5,289.3 103.8,289.3 106.0,284.6 108.3,282.3 110.5,279.4 112.7,279.4 115.0,281.3 117.2,281.3 119.5,288.5 121.7,288.5 123.9,288.5 126.2,292.7 128.4,286.7 130.7,286.7 132.9,285.7 135.1,281.4 137.4,281.2 139.6,274.2 141.8,272.1 144.1,277.7 146.3,285.2 148.6,288.9 150.8,288.9 153.0,290.1 155.3,290.1 157.5,277.2 159.8,282.3 162.0,282.3 164.2,282.3 166.5,282.3 168.7,278.3 171.0,283.6 173.2,281.8 175.4,280.6 177.7,280.6 179.9,285.8 182.2,285.8 184.4,285.8 186.6,279.7 188.9,279.7 191.1,278.2 193.3,288.0 195.6,288.0 197.8,281.8 200.1,276.5 202.3,276.5 204.5,276.5 206.8,282.2 209.0,282.2 211.3,282.2 213.5,295.2 215.7,291.0 218.0,291.0 220.2,284.0 222.5,285.1 224.7,280.5 226.9,280.5 229.2,280.5 231.4,287.2 233.7,282.7 235.9,286.5 238.1,289.5 240.4,292.1 242.6,284.9 244.8,284.9 247.1,286.7 249.3,288.6 251.6,288.9 253.8,288.9"/>
<polyline points="29.9,293.2 32.1,288.4 34.4,288.4 36.6,291.4 38.9,291.4 41.1,291.4 43.3,291.4 45.6,292.4 47.8,292.4 50.0,294.2 52.3,294.2 54.5,288.2 56.8,295.0 59.0,295.0 61.2,290.6 63.5,290.6 65.7,290.6 68.0,294.7 70.2,295.0 72.4,295.0 74.7,295.0 76.9,286.3 79.2,286.3 81.4,295.4 83.6,297.9 85.9,288.8 88.1,288.8 90.4,293.3 92.6,293.3 94.8,291.7 97.1,293.4 99.3,295.8 101.5,285.3 103.8,288.6 106.0,296.2 108.3,296.2 110.5,296.2 112.7,286.4 115.0,286.4 117.2,290.1 119.5,291.1 121.7,291.1 123.9,291.1 126.2,291.2 128.4,291.2 130.7,291.2 132.9,291.2 135.1,281.2 137.4,286.4 139.6,281.1 141.8,256.5 144.1,270.6 146.3,282.9 148.6,278.2 150.8,278.2 153.0,292.0 155.3,293.3 157.5,287.6 159.8,287.6 162.0,287.6 164.2,287.6 166.5,287.6 168.7,287.6 171.0,287.6 173.2,289.5 175.4,290.7 177.7,290.7 179.9,290.7 182.2,301.7 184.4,289.4 186.6,289.4 188.9,289.4 191.1,289.4 193.3,289.4 195.6,289.4 197.8,289.4 200.1,289.4 202.3,299.2 204.5,295.8 206.8,298.3 209.0,298.2 211.3,296.0 213.5,294.1 215.7,292.9 218.0,296.4 220.2,295.5 222.5,293.1 224.7,291.1 226.9,291.1 229.2,291.1 231.4,289.9 233.7,289.9 235.9,289.9 238.1,291.2 240.4,291.2 242.6,295.0 244.8,295.0 247.1,288.7 249.3,292.2 251.6,288.2 253.8,291.5"/>
<polyline points="29.9,296.9 32.1,296.9 34.4,302.7 36.6,302.7 38.9,302.7 41.1,288.2 43.3,280.4 45.6,288.6 47.8,294.6 50.0,296.2 52.3,290.9 54.5,284.5 56.8,284.5 59.0,297.5 61.2,297.5 63.5,293.9 65.7,293.9 68.0,293.9 70.2,293.9 72.4,293.9 74.7,291.0 76.9,291.0 79.2,298.9 81.4,301.8 83.6,300.4 85.9,294.2 88.1,294.2 90.4,289.7 92.6,289.7 94.8,289.7 97.1,301.4 99.3,296.1 101.5,296.1 103.8,296.1 106.0,295.3 108.3,294.6 110.5,294.6 112.7,297.1 115.0,301.1 117.2,301.1 119.5,301.1 121.7,288.5 123.9,288.5 126.2,293.9 128.4,293.9 130.7,293.9 132.9,282.9 135.1,282.9 137.4,290.4 139.6,290.4 141.8,243.3 144.1,243.3 146.3,243.3 148.6,243.3 150.8,243.3 153.0,285.9 155.3,285.9 157.5,285.9 159.8,285.9 162.0,282.5 164.2,292.4 166.5,303.1 168.7,300.5 171.0,300.5 173.2,300.5 175.4,293.0 177.7,293.0 179.9,287.4 182.2,287.4 184.4,287.4 186.6,287.4 188.9,287.4 191.1,290.2 193.3,297.1 195.6,291.7 197.8,291.7 200.1,286.4 202.3,285.6 204.5,285.6 206.8,301.0 209.0,291.9 211.3,291.9 213.5,291.0 215.7,291.0 218.0,290.5 220.2,297.2 222.5,288.2 224.7,288.2 226.9,291.2 229.2,291.2 231.4,291.2 233.7,289.3 235.9,289.3 238.1,289.3 240.4,293.3 242.6,284.9 244.8,297.6 247.1,287.3 249.3,296.2 251.6,296.2 253.8,296.2"/>
<polyline points="29.9,285.1 32.1,285.1 34.4,291.5 36.6,288.7 38.9,288.8 41.1,289.2 43.3,287.2 45.6,287.2 47.8,311.9 50.0,296.7 52.3,296.7 54.5,296.7 56.8,282.3 59.0,282.3 61.2,282.3 63.5,282.3 65.7,281.2 68.0,281.2 70.2,281.2 72.4,281.2 74.7,281.2 76.9,281.2 79.2,281.2 81.4,281.2 83.6,295.9 85.9,289.9 88.1,289.9 90.4,281.0 92.6,281.0 94.8,281.7 97.1,289.6 99.3,290.8 101.5,279.0 103.8,279.0 106.0,279.0 108.3,285.2 110.5,285.2 112.7,285.2 115.0,293.5 117.2,291.8 119.5,291.8 121.7,290.1 123.9,293.5 126.2,293.5 128.4,293.5 130.7,293.5 132.9,285.2 135.1,285.2 137.4,285.2 139.6,285.2 141.8,218.9 144.1,218.9 146.3,283.3 148.6,283.8 150.8,282.5 153.0,282.5 155.3,294.3 157.5,296.5 159.8,296.5 162.0,280.4 164.2,280.4 166.5,287.6 168.7,287.6 171.0,287.9 173.2,287.9 175.4,287.0 177.7,287.3 179.9,287.3 182.2,287.3 184.4,287.3 186.6,287.3 188.9,287.3 191.1,287.3 193.3,287.3 195.6,281.9 197.8,284.5 200.1,291.9 202.3,296.8 204.5,299.6 206.8,299.6 209.0,287.0 211.3,287.5 213.5,287.5 215.7,287.5 218.0,288.8 220.2,282.7 222.5,287.8 224.7,287.8 226.9,287.8 229.2,291.4 231.4,287.4 233.7,287.4 235.9,284.1 238.1,284.1 240.4,284.1 242.6,285.4 244.8,281.3 247.1,281.3 249.3,281.3 251.6,281.3 253.8,281.3"/>
<polyline points="29.9,286.5 32.1,286.5 34.4,284.4 36.6,286.7 38.9,292.3 41.1,292.3 43.3,292.3 45.6,292.3 47.8,288.3 50.0,288.3 52.3,283.2 54.5,283.2 56.8,289.6 59.0,289.6 61.2,289.6 63.5,289.6 65.7,295.3 68.0,295.3 70.2,289.6 72.4,289.6 74.7,293.6 76.9,293.6 79.2,298.1 81.4,297.2 83.6,297.6 85.9,293.3 88.1,291.5 90.4,291.5 92.6,288.2 94.8,287.7 97.1,291.0 99.3,291.0 101.5,291.0 103.8,298.7 106.0,299.6 108.3,293.9 110.5,291.8 112.7,295.4 115.0,293.2 117.2,293.2 119.5,293.2 121.7,288.3 123.9,288.8 126.2,291.8 128.4,291.3 130.7,291.3 132.9,298.1 135.1,289.1 137.4,289.1 139.6,289.9 141.8,254.3 144.1,254.3 146.3,254.3 148.6,291.8 150.8,291.8 153.0,291.8 155.3,300.1 157.5,296.6 159.8,296.8 162.0,296.8 164.2,296.8 166.5,296.8 168.7,292.8 171.0,294.9 173.2,294.9 175.4,300.0 177.7,300.0 179.9,289.5 182.2,289.5 184.4,289.5 186.6,287.1 188.9,289.8 191.1,294.7 193.3,294.7 195.6,294.2 197.8,308.2 200.1,293.2 202.3,293.2 204.5,293.2 206.8,297.5 209.0,298.3 211.3,294.0 213.5,285.9 215.7,285.9 218.0,285.9 220.2,289.8 222.5,291.2 224.7,291.2 226.9,291.2 229.2,288.6 231.4,279.3 233.7,279.3 235.9,279.3 238.1,279.3 240.4,279.3 242.6,290.6 244.8,294.6 247.1,307.0 249.3,293.2 251.6,293.2 253.8,291.1"/>
<polyline points="29.9,287.7 32.1,287.7 34.4,282.9 36.6,279.2 38.9,281.8 41.1,281.8 43.3,288.0 45.6,294.2 47.8,294.2 50.0,295.3 52.3,295.3 54.5,288.3 56.8,292.7 59.0,292.7 61.2,298.1 63.5,298.1 65.7,298.1 68.0,288.6 70.2,287.3 72.4,283.6 74.7,283.6 76.9,283.6 79.2,287.0 81.4,289.2 83.6,289.2 85.9,299.0 88.1,293.3 90.4,293.3 92.6,293.3 94.8,293.3 97.1,293.3 99.3,288.3 101.5,294.4 103.8,294.4 106.0,294.4 108.3,284.3 110.5,284.3 112.7,284.3 115.0,293.5 117.2,284.2 119.5,283.2 121.7,289.2 123.9,289.2 126.2,289.2 128.4,275.4 130.7,275.4 132.9,275.4 135.1,275.4 137.4,275.4 139.6,275.4 141.8,245.5 144.1,275.0 146.3,288.2 148.6,288.2 150.8,288.2 153.0,288.2 155.3,288.2 157.5,289.6 159.8,291.6 162.0,287.9 164.2,287.9 166.5,282.4 168.7,286.1 171.0,286.1 173.2,273.9 175.4,273.9 177.7,273.9 179.9,283.0 182.2,292.9 184.4,291.4 186.6,291.4 188.9,284.6 191.1,284.6 193.3,283.3 195.6,283.3 197.8,289.1 200.1,289.1 202.3,293.3 204.5,293.3 206.8,292.7 209.0,290.6 211.3,290.2 213.5,290.2 215.7,290.0 218.0,288.9 220.2,288.9 222.5,288.9 224.7,288.9 226.9,288.9 229.2,288.9 231.4,288.9 233.7,288.9 235.9,285.3 238.1,285.3 240.4,285.3 242.6,282.7 244.8,283.6 247.1,283.6 249.3,299.1 251.6,299.1 253.8,299.1"/>
<polyline points="29.9,286.9 32.1,285.4 34.4,286.2 36.6,289.7 38.9,286.3 41.1,289.5 43.3,289.5 45.6,289.5 47.8,289.5 50.0,294.1 52.3,294.1 54.5,292.9 56.8,297.2 59.0,297.5 61.2,303.7 63.5,296.6 65.7,292.5 68.0,283.9 70.2,283.9 72.4,292.2 74.7,292.2 76.9,292.2 79.2,292.2 81.4,285.5 83.6,285.5 85.9,285.5 88.1,290.3 90.4,290.7 92.6,290.6 94.8,287.7 97.1,287.7 99.3,287.7 101.5,292.8 103.8,285.5 106.0,292.1 108.3,292.1 110.5,281.5 112.7,281.5 115.0,281.5 117.2,299.1 119.5,296.1 121.7,286.7 123.9,286.7 126.2,286.7 128.4,286.7 130.7,288.5 132.9,288.5 135.1,294.5 137.4,294.5 139.6,294.5 141.8,237.4 144.1,237.4 146.3,285.9 148.6,285.9 150.8,284.3 153.0,284.2 155.3,284.2 157.5,287.9 159.8,287.9 162.0,291.6 164.2,289.4 166.5,290.4 168.7,283.7 171.0,283.0 173.2,283.0 175.4,283.0 177.7,283.0 179.9,291.8 182.2,295.0 184.4,291.0 186.6,283.7 188.9,285.9 191.1,286.5 193.3,286.5 195.6,286.5 197.8,286.5 200.1,284.1 202.3,287.1 204.5,289.5 206.8,296.4 209.0,296.0 211.3,301.1 213.5,293.9 215.7,293.9 218.0,293.9 220.2,292.6 222.5,286.9 224.7,290.8 226.9,290.8 229.2,281.4 231.4,285.3 233.7,285.3 235.9,285.3 238.1,285.9 240.4,285.0 242.6,285.0 244.8,288.2 247.1,292.6 249.3,292.5 251.6,289.5 253.8,289.5"/>
<polyline points="29.9,292.1 32.1,292.1 34.4,292.1 36.6,289.4 38.9,289.4 41.1,297.7 43.3,297.7 45.6,297.7 47.8,297.7 50.0,286.7 52.3,286.7 54.5,286.7 56.8,286.7 59.0,286.7 61.2,292.9 63.5,295.0 65.7,291.4 68.0,292.2 70.2,292.2 72.4,292.2 74.7,292.2 76.9,292.2 79.2,292.2 81.4,296.5 83.6,291.0 85.9,291.0 88.1,291.0 90.4,291.0 92.6,291.0 94.8,283.8 97.1,284.6 99.3,287.8 101.5,293.5 103.8,294.8 106.0,294.8 108.3,289.7 110.5,289.7 112.7,289.7 115.0,289.7 117.2,289.7 119.5,293.6 121.7,298.5 123.9,298.5 126.2,295.3 128.4,294.2 130.7,294.4 132.9,294.4 135.1,278.1 137.4,280.9 139.6,272.4 141.8,260.3 144.1,260.3 146.3,260.3 148.6,260.3 150.8,281.4 153.0,285.6 155.3,291.0 157.5,290.4 159.8,290.4 162.0,290.4 164.2,288.4 166.5,288.4 168.7,288.4 171.0,288.4 173.2,294.2 175.4,290.8 177.7,290.8 179.9,296.6 182.2,296.6 184.4,289.1 186.6,291.3 188.9,296.7 191.1,290.8 193.3,290.8 195.6,290.8 197.8,290.8 200.1,292.9 202.3,292.9 204.5,292.9 206.8,281.1 209.0,281.1 211.3,281.1 213.5,281.1 215.7,281.1 218.0,289.5 220.2,292.0 222.5,292.0 224.7,292.0 226.9,293.8 229.2,290.7 231.4,286.7 233.7,290.3 235.9,298.9 238.1,290.0 240.4,289.3 242.6,289.3 244.8,286.6 247.1,286.6 249.3,286.6 251.6,286.6 253.8,296.5"/>
<polyline points="29.9,287.3 32.1,287.3 34.4,287.3 36.6,290.5 38.9,289.2 41.1,289.2 43.3,280.8 45.6,286.7 47.8,293.4 50.0,291.8 52.3,291.8 54.5,291.8 56.8,290.0 59.0,290.0 61.2,290.0 63.5,291.4 65.7,292.5 68.0,292.5 70.2,293.9 72.4,296.3 74.7,299.6 76.9,292.5 79.2,292.5 81.4,280.6 83.6,284.7 85.9,286.9 88.1,288.3 90.4,280.8 92.6,277.4 94.8,277.4 97.1,277.4 99.3,287.3 101.5,285.0 103.8,285.0 106.0,288.0 108.3,288.0 110.5,293.9 112.7,293.9 115.0,284.6 117.2,282.0 119.5,282.0 121.7,291.3 123.9,291.3 126.2,299.1 128.4,285.0 130.7,284.2 132.9,276.4 135.1,261.8 137.4,220.9 139.6,220.9 141.8,217.3 144.1,225.5 146.3,225.5 148.6,225.5 150.8,287.1 153.0,287.1 155.3,289.4 157.5,288.4 159.8,291.8 162.0,299.2 164.2,299.2 166.5,290.9 168.7,281.3 171.0,281.0 173.2,281.0 175.4,281.0 177.7,284.6 179.9,286.6 182.2,284.0 184.4,284.0 186.6,284.2 188.9,273.3 191.1,280.3 193.3,287.2 195.6,288.7 197.8,288.7 200.1,288.7 202.3,282.9 204.5,282.9 206.8,282.9 209.0,298.3 211.3,298.3 213.5,292.2 215.7,289.1 218.0,289.1 220.2,289.6 222.5,294.1 224.7,296.5 226.9,296.5 229.2,296.5 231.4,295.6 233.7,297.6 235.9,302.9 238.1,298.6 240.4,298.6 242.6,300.5 244.8,300.5 247.1,294.5 249.3,294.5 251.6,282.1 253.8,282.1"/>
<polyline points="29.9,287.4 32.1,291.0 34.4,291.0 36.6,284.4 38.9,285.8 41.1,285.8 43.3,285.8 45.6,285.8 47.8,284.2 50.0,284.2 52.3,284.0 54.5,286.7 56.8,287.1 59.0,282.9 61.2,278.8 63.5,278.8 65.7,278.8 68.0,287.6 70.2,287.6 72.4,287.6 74.7,292.3 76.9,290.6 79.2,292.2 81.4,284.6 83.6,287.0 85.9,286.3 88.1,286.7 90.4,288.6 92.6,288.6 94.8,288.6 97.1,288.6 99.3,279.3 101.5,279.3 103.8,279.3 106.0,285.1 108.3,285.1 110.5,288.8 112.7,295.0 115.0,294.4 117.2,293.1 119.5,292.2 121.7,292.2 123.9,284.2 126.2,284.7 128.4,286.3 130.7,281.5 132.9,281.0 135.1,281.0 137.4,282.2 139.6,246.6 141.8,256.3 144.1,268.5 146.3,278.6 148.6,282.6 150.8,285.6 153.0,291.5 155.3,291.5 157.5,291.5 159.8,293.4 162.0,293.4 164.2,293.4 166.5,284.0 168.7,280.5 171.0,284.7 173.2,284.7 175.4,284.7 177.7,285.0 179.9,285.0 182.2,285.0 184.4,286.2 186.6,286.2 188.9,286.2 191.1,286.2 193.3,289.6 195.6,289.6 197.8,289.6 200.1,289.6 202.3,287.3 204.5,287.3 206.8,283.7 209.0,283.7 211.3,283.7 213.5,290.3 215.7,290.3 218.0,284.5 220.2,283.1 222.5,286.7 224.7,278.6 226.9,281.8 229.2,281.8 231.4,281.8 233.7,281.8 235.9,281.8 238.1,284.2 240.4,285.6 242.6,285.5 244.8,285.5 247.1,290.5 249.3,290.5 251.6,287.7 253.8,287.7"/>
<polyline points="29.9,291.5 32.1,291.5 34.4,291.2 36.6,291.2 38.9,280.7 41.1,280.7 43.3,280.7 45.6,280.7 47.8,288.7 50.0,285.0 52.3,285.0 54.5,285.0 56.8,303.2 59.0,303.2 61.2,303.2 63.5,303.2 65.7,303.2 68.0,303.2 70.2,296.6 72.4,296.6 74.7,296.6 76.9,299.2 79.2,299.2 81.4,299.2 83.6,290.7 85.9,300.1 88.1,288.2 90.4,288.2 92.6,287.9 94.8,287.9 97.1,296.6 99.3,296.6 101.5,285.0 103.8,295.6 106.0,295.6 108.3,295.6 110.5,295.6 112.7,292.7 115.0,294.0 117.2,289.7 119.5,289.7 121.7,289.7 123.9,295.7 126.2,295.6 128.4,295.6 130.7,295.6 132.9,288.7 135.1,288.7 137.4,290.4 139.6,290.4 141.8,252.5 144.1,288.1 146.3,288.1 148.6,288.1 150.8,288.1 153.0,296.0 155.3,296.0 157.5,293.1 159.8,293.1 162.0,293.1 164.2,289.7 166.5,289.7 168.7,293.1 171.0,299.1 173.2,299.1 175.4,291.9 177.7,286.3 179.9,300.0 182.2,300.0 184.4,291.9 186.6,291.9 188.9,293.0 191.1,292.5 193.3,287.4 195.6,284.5 197.8,284.5 200.1,284.5 202.3,290.6 204.5,292.0 206.8,295.8 209.0,329.3 211.3,329.3 213.5,329.3 215.7,329.3 218.0,291.2 220.2,291.2 222.5,295.6 224.7,296.7 226.9,296.7 229.2,297.1 231.4,297.1 233.7,283.2 235.9,290.3 238.1,284.8 240.4,284.8 242.6,296.7 244.8,289.5 247.1,289.5 249.3,293.8 251.6,301.4 253.8,301.2"/>
<polyline points="29.9,289.2 32.1,289.8 34.4,289.8 36.6,289.8 38.9,285.4 41.1,288.0 43.3,287.2 45.6,287.2 47.8,287.2 50.0,293.2 52.3,293.2 54.5,289.9 56.8,289.9 59.0,285.3 61.2,285.5 63.5,285.5 65.7,293.1 68.0,297.2 70.2,297.2 72.4,290.6 74.7,290.6 76.9,284.7 79.2,286.0 81.4,285.2 83.6,291.3 85.9,291.3 88.1,291.3 90.4,295.3 92.6,295.3 94.8,295.3 97.1,288.5 99.3,288.5 101.5,287.9 103.8,287.9 106.0,287.9 108.3,287.9 110.5,298.2 112.7,298.2 115.0,295.6 117.2,300.0 119.5,299.0 121.7,299.0 123.9,287.5 126.2,287.9 128.4,287.9 130.7,290.3 132.9,288.0 135.1,288.0 137.4,288.0 139.6,300.7 141.8,273.1 144.1,293.3 146.3,292.5 148.6,287.9 150.8,287.9 153.0,292.0 155.3,291.3 157.5,291.3 159.8,293.0 162.0,289.5 164.2,289.9 166.5,289.9 168.7,287.8 171.0,287.1 173.2,288.2 175.4,292.5 177.7,291.9 179.9,298.3 182.2,298.3 184.4,298.3 186.6,298.3 188.9,298.3 191.1,288.0 193.3,289.4 195.6,296.9 197.8,295.2 200.1,295.2 202.3,295.2 204.5,289.9 206.8,288.1 209.0,288.1 211.3,287.4 213.5,287.4 215.7,287.4 218.0,289.1 220.2,284.3 222.5,284.3 224.7,284.3 226.9,284.3 229.2,285.8 231.4,285.8 233.7,286.6 235.9,290.0 238.1,290.3 240.4,296.3 242.6,296.3 244.8,288.0 247.1,288.0 249.3,288.0 251.6,288.4 253.8,290.2"/>
<polyline points="29.9,280.1 32.1,281.4 34.4,281.4 36.6,281.4 38.9,281.4 41.1,301.1 43.3,299.9 45.6,299.9 47.8,284.5 50.0,284.5 52.3,284.5 54.5,284.5 56.8,284.5 59.0,284.5 61.2,284.5 63.5,284.5 65.7,287.8 68.0,287.4 70.2,287.1 72.4,288.3 74.7,288.3 76.9,281.8 79.2,282.7 81.4,282.7 83.6,286.5 85.9,288.7 88.1,288.9 90.4,288.9 92.6,283.5 94.8,283.5 97.1,283.1 99.3,283.1 101.5,283.1 103.8,289.4 106.0,287.7 108.3,282.8 110.5,286.1 112.7,290.0 115.0,292.7 117.2,291.2 119.5,290.4 121.7,284.4 123.9,284.4 126.2,287.4 128.4,287.4 130.7,292.9 132.9,293.0 135.1,293.0 137.4,293.0 139.6,293.0 141.8,260.1 144.1,290.1 146.3,290.1 148.6,290.1 150.8,288.3 153.0,286.9 155.3,287.9 157.5,287.9 159.8,289.6 162.0,289.6 164.2,289.6 166.5,284.7 168.7,286.8 171.0,286.8 173.2,287.7 175.4,283.7 177.7,287.8 179.9,286.4 182.2,280.7 184.4,280.7 186.6,280.7 188.9,280.7 191.1,280.7 193.3,280.7 195.6,282.0 197.8,296.2 200.1,296.2 202.3,296.2 204.5,288.5 206.8,291.4 209.0,291.4 211.3,291.4 213.5,290.9 215.7,290.9 218.0,290.9 220.2,289.7 222.5,289.7 224.7,289.7 226.9,293.4 229.2,286.9 231.4,284.6 233.7,291.6 235.9,291.6 238.1,287.7 240.4,287.7 242.6,302.3 244.8,302.3 247.1,287.8 249.3,287.8 251.6,286.4 253.8,294.5"/>
<polyline points="29.9,278.6 32.1,278.6 34.4,294.2 36.6,294.2 38.9,294.2 41.1,294.2 43.3,294.2 45.6,300.3 47.8,294.6 50.0,294.6 52.3,294.4 54.5,294.4 56.8,294.4 59.0,294.4 61.2,294.4 63.5,294.4 65.7,294.4 68.0,292.1 70.2,292.1 72.4,292.9 74.7,292.9 76.9,294.6 79.2,290.3 81.4,289.6 83.6,289.6 85.9,291.1 88.1,284.3 90.4,299.1 92.6,287.3 94.8,287.7 97.1,287.7 99.3,287.7 101.5,287.7 103.8,287.7 106.0,294.6 108.3,291.9 110.5,291.4 112.7,291.4 115.0,291.4 117.2,291.4 119.5,297.4 121.7,290.7 123.9,289.0 126.2,289.0 128.4,291.4 130.7,295.1 132.9,298.6 135.1,298.6 137.4,288.4 139.6,288.4 141.8,270.0 144.1,270.0 146.3,294.0 148.6,306.5 150.8,298.5 153.0,303.8 155.3,303.8 157.5,278.4 159.8,278.4 162.0,290.4 164.2,290.4 166.5,298.0 168.7,298.0 171.0,298.0 173.2,298.0 175.4,291.1 177.7,291.1 179.9,291.1 182.2,302.0 184.4,302.0 186.6,302.0 188.9,302.0 191.1,302.0 193.3,296.2 195.6,293.4 197.8,293.4 200.1,290.1 202.3,290.1 204.5,287.1 206.8,287.1 209.0,297.2 211.3,294.4 213.5,294.4 215.7,294.3 218.0,296.3 220.2,296.3 222.5,286.8 224.7,286.7 226.9,286.7 229.2,286.7 231.4,286.7 233.7,293.9 235.9,291.1 238.1,291.1 240.4,291.6 242.6,300.9 244.8,300.9 247.1,300.9 249.3,300.9 251.6,300.9 253.8,300.9"/>
<polyline points="29.9,287.9 32.1,287.9 34.4,287.9 36.6,284.6 38.9,296.5 41.1,296.5 43.3,296.5 45.6,286.4 47.8,289.1 50.0,286.4 52.3,282.8 54.5,295.1 56.8,291.2 59.0,291.2 61.2,291.2 63.5,310.1 65.7,310.1 68.0,296.7 70.2,293.3 72.4,293.3 74.7,293.3 76.9,293.3 79.2,293.3 81.4,284.6 83.6,284.6 85.9,284.6 88.1,284.6 90.4,300.5 92.6,286.7 94.8,286.7 97.1,301.2 99.3,301.2 101.5,301.2 103.8,298.8 106.0,295.3 108.3,302.3 110.5,302.3 112.7,292.5 115.0,292.5 117.2,295.6 119.5,288.8 121.7,291.2 123.9,291.2 126.2,284.3 128.4,284.3 130.7,284.3 132.9,284.3 135.1,288.9 137.4,288.9 139.6,292.5 141.8,280.5 144.1,294.2 146.3,293.3 148.6,293.3 150.8,293.3 153.0,293.3 155.3,293.3 157.5,293.3 159.8,293.3 162.0,293.3 164.2,293.3 166.5,293.3 168.7,293.3 171.0,293.3 173.2,287.8 175.4,293.9 177.7,293.9 179.9,293.9 182.2,304.1 184.4,304.1 186.6,294.4 188.9,294.4 191.1,296.6 193.3,296.8 195.6,296.8 197.8,296.8 200.1,296.8 202.3,296.8 204.5,296.8 206.8,286.3 209.0,290.5 211.3,290.5 213.5,290.5 215.7,290.5 218.0,291.8 220.2,291.8 222.5,291.8 224.7,291.8 226.9,298.9 229.2,298.9 231.4,291.8 233.7,297.6 235.9,297.6 238.1,297.6 240.4,299.2 242.6,296.3 244.8,288.0 247.1,288.0 249.3,288.0 251.6,288.0 253.8,288.0"/>
<polyline points="29.9,286.5 32.1,286.5 34.4,282.2 36.6,290.7 38.9,290.7 41.1,290.7 43.3,290.7 45.6,289.7 47.8,288.4 50.0,294.8 52.3,294.8 54.5,293.4 56.8,290.6 59.0,290.6 61.2,290.4 63.5,290.4 65.7,282.4 68.0,284.4 70.2,284.4 72.4,286.9 74.7,286.9 76.9,286.9 79.2,286.9 81.4,286.9 83.6,288.0 85.9,288.0 88.1,284.9 90.4,284.9 92.6,291.7 94.8,291.7 97.1,290.0 99.3,290.9 101.5,290.9 103.8,285.8 106.0,294.6 108.3,291.8 110.5,290.0 112.7,295.5 115.0,295.5 117.2,295.5 119.5,295.5 121.7,285.2 123.9,285.1 126.2,289.4 128.4,289.4 130.7,287.2 132.9,287.2 135.1,296.5 137.4,289.6 139.6,290.7 141.8,254.2 144.1,275.9 146.3,275.9 148.6,287.7 150.8,291.4 153.0,286.9 155.3,286.9 157.5,292.7 159.8,285.6 162.0,285.6 164.2,285.6 166.5,289.3 168.7,286.0 171.0,286.0 173.2,287.7 175.4,287.7 177.7,287.7 179.9,285.9 182.2,296.6 184.4,296.6 186.6,296.6 188.9,288.6 191.1,284.5 193.3,284.5 195.6,284.5 197.8,284.5 200.1,280.7 202.3,280.7 204.5,280.7 206.8,279.1 209.0,285.2 211.3,285.5 213.5,285.5 215.7,285.5 218.0,285.5 220.2,286.6 222.5,289.2 224.7,289.2 226.9,289.2 229.2,286.5 231.4,286.5 233.7,286.8 235.9,291.6 238.1,283.9 240.4,289.0 242.6,289.0 244.8,289.0 247.1,284.6 249.3,284.6 251.6,284.6 253.8,287.3"/>
<polyline points="29.9,287.4 32.1,286.1 34.4,285.6 36.6,285.6 38.9,296.5 41.1,292.6 43.3,289.0 45.6,289.0 47.8,289.0 50.0,296.3 52.3,291.4 54.5,291.4 56.8,293.8 59.0,293.8 61.2,284.9 63.5,282.1 65.7,280.7 68.0,292.0 70.2,292.0 72.4,292.5 74.7,296.8 76.9,296.8 79.2,296.8 81.4,288.7 83.6,288.0 85.9,293.4 88.1,293.4 90.4,290.8 92.6,290.8 94.8,283.5 97.1,283.5 99.3,289.6 101.5,289.6 103.8,293.4 106.0,293.1 108.3,293.1 110.5,293.1 112.7,298.9 115.0,291.4 117.2,290.6 119.5,290.6 121.7,287.7 123.9,287.7 126.2,287.7 128.4,287.6 130.7,289.6 132.9,295.0 135.1,295.0 137.4,292.2 139.6,292.2 141.8,231.3 144.1,256.8 146.3,266.0 148.6,268.4 150.8,265.5 153.0,274.1 155.3,287.3 157.5,287.3 159.8,287.3 162.0,284.3 164.2,284.3 166.5,284.3 168.7,284.3 171.0,295.3 173.2,295.3 175.4,291.8 177.7,290.5 179.9,291.4 182.2,291.4 184.4,291.2 186.6,291.1 188.9,293.0 191.1,282.8 193.3,286.1 195.6,294.6 197.8,294.4 200.1,287.1 202.3,281.9 204.5,286.8 206.8,286.8 209.0,284.3 211.3,289.4 213.5,289.4 215.7,289.4 218.0,289.4 220.2,294.0 222.5,294.0 224.7,289.8 226.9,285.0 229.2,290.3 231.4,292.7 233.7,292.7 235.9,284.6 238.1,284.6 240.4,285.0 242.6,285.0 244.8,285.0 247.1,285.0 249.3,294.3 251.6,293.2 253.8,293.2"/>
<polyline points="29.9,295.7 32.1,295.7 34.4,282.2 36.6,286.7 38.9,283.4 41.1,283.4 43.3,283.4 45.6,283.4 47.8,283.4 50.0,283.3 52.3,283.3 54.5,287.7 56.8,285.5 59.0,298.6 61.2,298.6 63.5,293.7 65.7,291.7 68.0,289.6 70.2,293.8 72.4,293.9 74.7,295.4 76.9,295.3 79.2,295.3 81.4,295.3 83.6,295.7 85.9,295.7 88.1,294.3 90.4,298.3 92.6,289.0 94.8,287.9 97.1,296.9 99.3,292.9 101.5,292.9 103.8,285.8 106.0,293.7 108.3,291.8 110.5,291.8 112.7,291.8 115.0,291.8 117.2,272.6 119.5,283.6 121.7,287.9 123.9,288.5 126.2,297.9 128.4,297.9 130.7,297.9 132.9,288.7 135.1,288.7 137.4,288.7 139.6,288.7 141.8,247.7 144.1,274.6 146.3,285.2 148.6,285.2 150.8,292.1 153.0,292.1 155.3,293.4 157.5,293.4 159.8,293.4 162.0,289.6 164.2,300.1 166.5,293.7 168.7,293.7 171.0,291.7 173.2,291.7 175.4,291.7 177.7,285.0 179.9,285.0 182.2,285.0 184.4,298.3 186.6,298.3 188.9,296.4 191.1,284.6 193.3,284.6 195.6,284.6 197.8,284.6 200.1,288.3 202.3,288.3 204.5,288.3 206.8,292.9 209.0,285.2 211.3,290.5 213.5,281.1 215.7,275.9 218.0,275.9 220.2,286.8 222.5,286.8 224.7,287.2 226.9,287.2 229.2,293.0 231.4,293.0 233.7,293.0 235.9,293.0 238.1,293.0 240.4,285.8 242.6,285.8 244.8,286.2 247.1,292.8 249.3,290.4 251.6,290.4 253.8,284.9"/>
<polyline points="29.9,280.9 32.1,281.1 34.4,279.0 36.6,279.5 38.9,279.5 41.1,287.7 43.3,287.7 45.6,287.7 47.8,287.7 50.0,284.6 52.3,284.6 54.5,284.2 56.8,283.2 59.0,283.0 61.2,279.8 63.5,282.0 65.7,282.0 68.0,295.2 70.2,295.2 72.4,290.6 74.7,285.2 76.9,285.2 79.2,285.2 81.4,289.3 83.6,287.9 85.9,292.1 88.1,291.1 90.4,295.3 92.6,295.3 94.8,297.2 97.1,297.2 99.3,287.2 101.5,288.6 103.8,289.8 106.0,287.1 108.3,285.1 110.5,283.1 112.7,279.1 115.0,279.1 117.2,289.1 119.5,291.4 121.7,291.4 123.9,285.6 126.2,280.2 128.4,280.2 130.7,284.3 132.9,284.3 135.1,284.3 137.4,291.3 139.6,291.3 141.8,273.1 144.1,273.1 146.3,273.1 148.6,285.9 150.8,285.9 153.0,285.9 155.3,285.9 157.5,285.9 159.8,276.7 162.0,276.7 164.2,276.7 166.5,276.7 168.7,286.8 171.0,286.8 173.2,287.4 175.4,290.3 177.7,290.3 179.9,283.4 182.2,288.5 184.4,293.0 186.6,295.3 188.9,295.3 191.1,295.3 193.3,295.3 195.6,295.3 197.8,283.8 200.1,283.8 202.3,287.4 204.5,287.4 206.8,288.0 209.0,293.2 211.3,288.8 213.5,288.8 215.7,288.8 218.0,284.0 220.2,286.6 222.5,287.1 224.7,287.3 226.9,287.3 229.2,280.4 231.4,279.5 233.7,278.3 235.9,282.0 238.1,286.4 240.4,286.4 242.6,279.6 244.8,283.5 247.1,284.5 249.3,287.2 251.6,287.2 253.8,287.2"/>
<polyline points="29.9,294.0 32.1,294.0 34.4,294.0 36.6,290.9 38.9,287.9 41.1,289.1 43.3,289.1 45.6,293.9 47.8,294.9 50.0,294.9 52.3,291.8 54.5,297.5 56.8,297.5 59.0,290.1 61.2,284.8 63.5,287.4 65.7,287.4 68.0,282.8 70.2,282.8 72.4,282.8 74.7,282.8 76.9,287.5 79.2,289.6 81.4,289.6 83.6,290.8 85.9,290.8 88.1,290.8 90.4,297.7 92.6,289.3 94.8,286.5 97.1,288.2 99.3,289.9 101.5,289.9 103.8,289.9 106.0,289.9 108.3,290.3 110.5,293.2 112.7,293.2 115.0,287.3 117.2,287.3 119.5,296.0 121.7,296.0 123.9,296.3 126.2,301.3 128.4,301.3 130.7,272.5 132.9,288.1 135.1,288.1 137.4,274.1 139.6,275.7 141.8,265.1 144.1,265.1 146.3,287.3 148.6,283.4 150.8,283.4 153.0,302.1 155.3,298.5 157.5,298.5 159.8,298.5 162.0,298.5 164.2,298.5 166.5,291.4 168.7,291.4 171.0,291.4 173.2,292.8 175.4,292.8 177.7,292.8 179.9,290.2 182.2,289.6 184.4,289.6 186.6,289.6 188.9,293.8 191.1,293.5 193.3,296.5 195.6,295.7 197.8,292.9 200.1,292.9 202.3,287.2 204.5,281.5 206.8,281.5 209.0,281.5 211.3,281.5 213.5,281.5 215.7,290.8 218.0,289.4 220.2,289.4 222.5,282.7 224.7,282.7 226.9,282.7 229.2,282.7 231.4,282.7 233.7,292.9 235.9,297.0 238.1,297.0 240.4,287.4 242.6,288.6 244.8,288.6 247.1,288.6 249.3,288.6 251.6,281.5 253.8,290.5"/>
<polyline points="29.9,287.3 32.1,287.3 34.4,289.6 36.6,294.3 38.9,294.3 41.1,295.6 43.3,295.6 45.6,290.7 47.8,287.5 50.0,296.0 52.3,292.2 54.5,292.2 56.8,305.4 59.0,305.4 61.2,305.4 63.5,288.0 65.7,295.7 68.0,295.7 70.2,290.4 72.4,290.4 74.7,296.2 76.9,285.1 79.2,292.0 81.4,293.8 83.6,288.0 85.9,288.0 88.1,288.0 90.4,294.3 92.6,294.3 94.8,286.5 97.1,286.5 99.3,294.9 101.5,284.5 103.8,284.5 106.0,292.9 108.3,292.9 110.5,282.6 112.7,294.3 115.0,294.3 117.2,295.9 119.5,295.9 121.7,286.5 123.9,295.2 126.2,295.2 128.4,289.0 130.7,292.2 132.9,286.5 135.1,286.5 137.4,285.7 139.6,282.1 141.8,221.9 144.1,276.7 146.3,290.0 148.6,290.0 150.8,298.4 153.0,289.1 155.3,284.9 157.5,286.5 159.8,289.3 162.0,289.3 164.2,289.3 166.5,296.5 168.7,294.1 171.0,296.6 173.2,296.6 175.4,293.9 177.7,292.5 179.9,292.5 182.2,289.6 184.4,289.6 186.6,298.8 188.9,289.9 191.1,294.2 193.3,294.2 195.6,297.9 197.8,295.3 200.1,295.3 202.3,282.1 204.5,282.1 206.8,282.1 209.0,279.2 211.3,279.2 213.5,280.8 215.7,280.8 218.0,280.8 220.2,280.8 222.5,280.8 224.7,289.4 226.9,289.4 229.2,287.8 231.4,291.4 233.7,285.2 235.9,291.2 238.1,290.7 240.4,290.7 242.6,289.2 244.8,284.9 247.1,293.7 249.3,295.3 251.6,295.3 253.8,288.7"/>
<polyline points="29.9,287.7 32.1,287.7 34.4,295.5 36.6,295.1 38.9,295.1 41.1,295.1 43.3,295.1 45.6,299.0 47.8,299.0 50.0,302.8 52.3,299.7 54.5,299.7 56.8,299.7 59.0,293.3 61.2,293.3 63.5,293.6 65.7,289.7 68.0,289.7 70.2,289.7 72.4,289.7 74.7,293.4 76.9,291.3 79.2,287.3 81.4,287.3 83.6,287.3 85.9,287.4 88.1,292.6 90.4,298.5 92.6,296.8 94.8,294.1 97.1,294.1 99.3,287.9 101.5,289.3 103.8,289.3 106.0,289.7 108.3,289.7 110.5,289.7 112.7,294.1 115.0,297.6 117.2,297.6 119.5,297.6 121.7,288.9 123.9,288.9 126.2,288.9 128.4,293.8 130.7,287.1 132.9,287.1 135.1,294.9 137.4,294.9 139.6,283.8 141.8,259.3 144.1,287.1 146.3,294.4 148.6,294.4 150.8,294.4 153.0,294.4 155.3,282.1 157.5,282.1 159.8,291.0 162.0,285.1 164.2,285.1 166.5,289.8 168.7,289.8 171.0,290.0 173.2,290.0 175.4,296.5 177.7,296.5 179.9,290.1 182.2,294.3 184.4,294.3 186.6,295.6 188.9,300.1 191.1,300.1 193.3,294.0 195.6,294.0 197.8,298.7 200.1,293.7 202.3,291.7 204.5,298.3 206.8,304.8 209.0,304.8 211.3,296.0 213.5,291.1 215.7,291.1 218.0,291.1 220.2,279.5 222.5,279.5 224.7,279.5 226.9,279.5 229.2,282.8 231.4,282.8 233.7,282.8 235.9,282.8 238.1,303.7 240.4,300.0 242.6,297.6 244.8,297.6 247.1,301.2 249.3,297.3 251.6,297.3 253.8,292.1"/>
<polyline points="29.9,288.9 32.1,291.1 34.4,291.1 36.6,291.1 38.9,279.8 41.1,279.8 43.3,284.5 45.6,287.3 47.8,285.4 50.0,280.4 52.3,282.7 54.5,286.5 56.8,298.3 59.0,298.3 61.2,298.3 63.5,298.3 65.7,298.3 68.0,287.9 70.2,294.7 72.4,289.8 74.7,293.3 76.9,299.0 79.2,294.5 81.4,294.5 83.6,286.1 85.9,286.1 88.1,285.6 90.4,287.7 92.6,289.6 94.8,289.3 97.1,289.3 99.3,289.3 101.5,289.3 103.8,281.9 106.0,281.9 108.3,288.2 110.5,288.0 112.7,287.4 115.0,287.4 117.2,287.4 119.5,292.0 121.7,292.0 123.9,282.5 126.2,282.5 128.4,289.5 130.7,294.8 132.9,290.7 135.1,289.9 137.4,289.9 139.6,289.9 141.8,261.8 144.1,280.9 146.3,280.9 148.6,281.8 150.8,289.7 153.0,289.7 155.3,283.9 157.5,283.9 159.8,283.9 162.0,283.9 164.2,283.9 166.5,283.9 168.7,291.2 171.0,294.2 173.2,288.1 175.4,289.8 177.7,289.8 179.9,288.3 182.2,285.9 184.4,285.9 186.6,285.9 188.9,287.6 191.1,287.6 193.3,287.6 195.6,287.3 197.8,287.3 200.1,287.3 202.3,287.3 204.5,279.4 206.8,283.9 209.0,283.9 211.3,286.3 213.5,286.3 215.7,281.8 218.0,280.4 220.2,280.4 222.5,290.5 224.7,287.8 226.9,287.8 229.2,295.4 231.4,295.4 233.7,292.0 235.9,292.0 238.1,292.0 240.4,292.0 242.6,292.0 244.8,285.7 247.1,285.4 249.3,285.4 251.6,288.6 253.8,288.3"/>
<polyline points="29.9,296.7 32.1,292.7 34.4,292.7 36.6,292.7 38.9,291.7 41.1,290.7 43.3,297.0 45.6,300.7 47.8,294.0 50.0,287.0 52.3,287.0 54.5,286.0 56.8,292.7 59.0,292.7 61.2,292.7 63.5,292.7 65.7,289.0 68.0,289.0 70.2,289.0 72.4,293.0 74.7,288.0 76.9,299.0 79.2,295.6 81.4,295.6 83.6,292.9 85.9,292.1 88.1,292.1 90.4,292.1 92.6,290.6 94.8,296.2 97.1,292.8 99.3,292.8 101.5,292.8 103.8,298.2 106.0,301.0 108.3,287.6 110.5,287.6 112.7,294.2 115.0,291.6 117.2,285.3 119.5,286.3 121.7,284.7 123.9,284.7 126.2,288.6 128.4,291.1 130.7,285.3 132.9,285.9 135.1,291.3 137.4,291.3 139.6,276.7 141.8,227.0 144.1,244.6 146.3,244.6 148.6,250.7 150.8,275.2 153.0,289.2 155.3,289.2 157.5,289.2 159.8,289.2 162.0,289.2 164.2,289.2 166.5,292.2 168.7,298.7 171.0,292.3 173.2,296.1 175.4,288.1 177.7,288.1 179.9,293.5 182.2,296.6 184.4,296.6 186.6,296.6 188.9,296.6 191.1,296.6 193.3,295.3 195.6,295.3 197.8,287.9 200.1,286.8 202.3,286.8 204.5,297.4 206.8,288.4 209.0,284.8 211.3,284.8 213.5,285.4 215.7,285.4 218.0,285.4 220.2,293.5 222.5,293.5 224.7,293.5 226.9,293.5 229.2,293.5 231.4,294.9 233.7,294.9 235.9,289.9 238.1,291.8 240.4,291.8 242.6,291.8 244.8,291.8 247.1,288.2 249.3,289.2 251.6,296.9 253.8,295.0"/>
<polyline points="29.9,287.5 32.1,287.5 34.4,294.8 36.6,294.8 38.9,294.8 41.1,297.9 43.3,294.4 45.6,294.4 47.8,292.0 50.0,292.2 52.3,291.0 54.5,291.5 56.8,290.0 59.0,286.2 61.2,286.2 63.5,293.9 65.7,293.9 68.0,298.2 70.2,288.2 72.4,283.7 74.7,283.7 76.9,286.5 79.2,291.6 81.4,292.2 83.6,287.6 85.9,287.6 88.1,287.6 90.4,289.4 92.6,289.4 94.8,295.6 97.1,290.4 99.3,290.4 101.5,294.3 103.8,294.3 106.0,291.0 108.3,291.0 110.5,291.0 112.7,291.0 115.0,287.4 117.2,287.4 119.5,287.4 121.7,290.1 123.9,290.1 126.2,298.4 128.4,294.1 130.7,294.1 132.9,294.1 135.1,294.1 137.4,294.1 139.6,258.8 141.8,227.1 144.1,267.2 146.3,271.6 148.6,265.9 150.8,265.9 153.0,281.1 155.3,281.1 157.5,281.1 159.8,281.1 162.0,281.1 164.2,293.9 166.5,293.9 168.7,302.8 171.0,302.8 173.2,302.8 175.4,302.8 177.7,282.5 179.9,282.5 182.2,283.8 184.4,290.7 186.6,295.2 188.9,292.6 191.1,292.6 193.3,292.6 195.6,292.6 197.8,289.0 200.1,293.8 202.3,293.1 204.5,293.1 206.8,286.7 209.0,287.6 211.3,287.6 213.5,287.6 215.7,289.5 218.0,289.5 220.2,289.5 222.5,288.7 224.7,290.9 226.9,290.9 229.2,290.9 231.4,294.8 233.7,292.8 235.9,292.8 238.1,288.3 240.4,291.7 242.6,291.7 244.8,295.3 247.1,295.3 249.3,311.6 251.6,311.6 253.8,311.6"/>
<polyline points="29.9,292.4 32.1,292.4 34.4,292.4 36.6,290.8 38.9,290.8 41.1,291.3 43.3,289.0 45.6,292.0 47.8,291.3 50.0,291.3 52.3,291.3 54.5,285.7 56.8,284.5 59.0,287.0 61.2,287.0 63.5,287.0 65.7,287.0 68.0,287.0 70.2,287.0 72.4,292.2 74.7,292.2 76.9,287.7 79.2,292.2 81.4,292.5 83.6,290.9 85.9,289.9 88.1,289.9 90.4,289.9 92.6,295.3 94.8,295.3 97.1,295.3 99.3,295.3 101.5,287.8 103.8,289.4 106.0,292.7 108.3,292.7 110.5,292.7 112.7,292.7 115.0,292.7 117.2,292.7 119.5,292.7 121.7,289.3 123.9,289.3 126.2,289.3 128.4,289.3 130.7,292.9 132.9,292.9 135.1,292.9 137.4,292.9 139.6,276.3 141.8,255.2 144.1,275.5 146.3,275.5 148.6,275.5 150.8,275.5 153.0,275.5 155.3,288.4 157.5,285.6 159.8,284.5 162.0,286.1 164.2,286.1 166.5,286.1 168.7,286.1 171.0,292.0 173.2,292.0 175.4,292.0 177.7,293.6 179.9,295.1 182.2,295.1 184.4,295.1 186.6,295.1 188.9,295.1 191.1,286.7 193.3,291.0 195.6,290.8 197.8,288.7 200.1,288.7 202.3,286.7 204.5,286.7 206.8,286.7 209.0,287.5 211.3,287.5 213.5,287.5 215.7,287.5 218.0,287.5 220.2,287.5 222.5,287.5 224.7,293.6 226.9,292.5 229.2,294.3 231.4,294.3 233.7,294.3 235.9,294.3 238.1,294.3 240.4,292.0 242.6,291.5 244.8,285.6 247.1,289.1 249.3,296.4 251.6,296.4 253.8,288.7"/>
<polyline points="29.9,293.6 32.1,290.5 34.4,285.4 36.6,285.4 38.9,285.4 41.1,285.4 43.3,285.4 45.6,285.4 47.8,287.3 50.0,287.3 52.3,287.3 54.5,288.6 56.8,288.6 59.0,288.6 61.2,283.1 63.5,301.1 65.7,301.1 68.0,301.1 70.2,292.6 72.4,292.6 74.7,292.6 76.9,283.3 79.2,283.3 81.4,291.4 83.6,291.4 85.9,291.4 88.1,288.0 90.4,288.0 92.6,291.6 94.8,292.1 97.1,292.1 99.3,292.1 101.5,292.9 103.8,296.0 106.0,302.5 108.3,302.5 110.5,298.6 112.7,304.4 115.0,295.8 117.2,295.8 119.5,295.8 121.7,295.8 123.9,295.8 126.2,295.0 128.4,294.7 130.7,288.4 132.9,288.4 135.1,288.4 137.4,288.4 139.6,284.4 141.8,262.1 144.1,262.1 146.3,284.9 148.6,289.1 150.8,289.1 153.0,293.9 155.3,293.9 157.5,289.6 159.8,289.6 162.0,289.6 164.2,289.6 166.5,289.6 168.7,289.6 171.0,290.4 173.2,290.4 175.4,290.4 177.7,290.4 179.9,291.4 182.2,291.4 184.4,291.4 186.6,291.4 188.9,295.2 191.1,279.5 193.3,288.8 195.6,288.8 197.8,288.8 200.1,288.8 202.3,288.8 204.5,291.0 206.8,291.0 209.0,281.5 211.3,281.5 213.5,304.0 215.7,304.0 218.0,293.4 220.2,293.4 222.5,289.6 224.7,289.6 226.9,282.6 229.2,291.5 231.4,291.5 233.7,285.9 235.9,285.5 238.1,285.5 240.4,293.0 242.6,293.0 244.8,279.0 247.1,279.0 249.3,284.8 251.6,284.8 253.8,289.1"/>
<polyline points="29.9,295.9 32.1,295.9 34.4,290.0 36.6,290.0 38.9,290.0 41.1,290.0 43.3,290.0 45.6,298.5 47.8,298.5 50.0,298.5 52.3,291.7 54.5,289.4 56.8,290.9 59.0,294.3 61.2,294.3 63.5,287.1 65.7,292.5 68.0,292.5 70.2,288.9 72.4,279.8 74.7,279.8 76.9,279.8 79.2,279.8 81.4,279.8 83.6,293.2 85.9,293.2 88.1,295.0 90.4,295.0 92.6,291.1 94.8,293.7 97.1,293.7 99.3,293.9 101.5,293.9 103.8,293.9 106.0,294.2 108.3,294.2 110.5,289.6 112.7,284.9 115.0,284.9 117.2,291.6 119.5,296.4 121.7,294.4 123.9,294.4 126.2,294.4 128.4,294.4 130.7,287.9 132.9,285.7 135.1,285.7 137.4,285.7 139.6,285.7 141.8,276.0 144.1,291.5 146.3,291.5 148.6,291.5 150.8,291.5 153.0,295.5 155.3,295.5 157.5,294.0 159.8,296.1 162.0,292.6 164.2,288.7 166.5,288.7 168.7,288.7 171.0,290.4 173.2,290.4 175.4,290.4 177.7,290.4 179.9,287.3 182.2,287.3 184.4,285.3 186.6,285.3 188.9,285.3 191.1,291.1 193.3,291.1 195.6,287.1 197.8,287.1 200.1,287.1 202.3,289.4 204.5,291.0 206.8,291.0 209.0,291.0 211.3,291.0 213.5,291.0 215.7,286.5 218.0,288.1 220.2,288.1 222.5,288.1 224.7,292.2 226.9,288.9 229.2,288.9 231.4,288.9 233.7,287.0 235.9,299.0 238.1,297.4 240.4,291.0 242.6,291.0 244.8,291.0 247.1,292.1 249.3,292.1 251.6,292.1 253.8,292.1"/>
<polyline points="29.9,280.0 32.1,280.9 34.4,280.9 36.6,280.9 38.9,294.2 41.1,294.2 43.3,288.5 45.6,287.6 47.8,287.6 50.0,287.6 52.3,288.9 54.5,292.2 56.8,300.0 59.0,292.9 61.2,292.9 63.5,292.9 65.7,285.6 68.0,285.6 70.2,285.6 72.4,285.6 74.7,290.8 76.9,293.2 79.2,293.7 81.4,296.1 83.6,296.1 85.9,291.3 88.1,300.2 90.4,296.3 92.6,296.3 94.8,300.9 97.1,300.9 99.3,290.7 101.5,290.7 103.8,292.5 106.0,292.5 108.3,298.4 110.5,289.0 112.7,289.7 115.0,298.6 117.2,298.6 119.5,298.6 121.7,298.6 123.9,297.1 126.2,291.0 128.4,291.0 130.7,288.3 132.9,294.2 135.1,294.2 137.4,294.2 139.6,294.2 141.8,265.8 144.1,265.8 146.3,265.8 148.6,289.8 150.8,289.0 153.0,289.0 155.3,293.3 157.5,288.6 159.8,291.2 162.0,291.2 164.2,292.1 166.5,293.3 168.7,293.3 171.0,292.9 173.2,296.1 175.4,296.1 177.7,290.3 179.9,286.3 182.2,286.3 184.4,286.3 186.6,294.0 188.9,288.7 191.1,288.2 193.3,288.2 195.6,299.3 197.8,293.9 200.1,292.3 202.3,292.3 204.5,292.3 206.8,285.5 209.0,289.4 211.3,289.4 213.5,289.4 215.7,295.7 218.0,295.7 220.2,295.7 222.5,291.0 224.7,300.3 226.9,300.3 229.2,292.9 231.4,292.9 233.7,295.7 235.9,295.7 238.1,295.7 240.4,298.5 242.6,298.5 244.8,297.2 247.1,297.5 249.3,297.5 251.6,288.9 253.8,290.1"/>
<polyline points="29.9,286.3 32.1,286.3 34.4,286.3 36.6,291.0 38.9,291.0 41.1,293.0 43.3,293.0 45.6,293.0 47.8,297.3 50.0,297.3 52.3,281.5 54.5,284.2 56.8,284.2 59.0,284.2 61.2,284.2 63.5,284.2 65.7,286.4 68.0,286.4 70.2,288.4 72.4,283.5 74.7,288.1 76.9,289.7 79.2,289.7 81.4,296.4 83.6,296.4 85.9,285.8 88.1,285.8 90.4,284.1 92.6,284.1 94.8,291.1 97.1,291.1 99.3,296.1 101.5,296.1 103.8,296.1 106.0,293.5 108.3,293.9 110.5,293.9 112.7,293.9 115.0,293.5 117.2,293.5 119.5,299.3 121.7,295.2 123.9,291.5 126.2,291.5 128.4,291.5 130.7,281.9 132.9,291.3 135.1,286.6 137.4,289.5 139.6,287.6 141.8,266.7 144.1,266.7 146.3,266.7 148.6,281.1 150.8,281.1 153.0,293.3 155.3,293.3 157.5,293.3 159.8,284.1 162.0,286.9 164.2,286.9 166.5,286.9 168.7,286.9 171.0,286.9 173.2,290.5 175.4,290.1 177.7,286.7 179.9,291.3 182.2,286.7 184.4,286.7 186.6,286.7 188.9,290.3 191.1,287.9 193.3,285.5 195.6,285.5 197.8,294.8 200.1,294.5 202.3,294.4 204.5,294.4 206.8,294.4 209.0,290.0 211.3,291.5 213.5,292.2 215.7,292.8 218.0,286.5 220.2,286.5 222.5,292.5 224.7,292.5 226.9,292.5 229.2,292.5 231.4,292.5 233.7,284.2 235.9,291.4 238.1,294.4 240.4,292.3 242.6,292.3 244.8,292.3 247.1,290.0 249.3,294.4 251.6,290.6 253.8,289.1"/>
<polyline points="29.9,292.0 32.1,289.6 34.4,289.6 36.6,299.0 38.9,298.8 41.1,294.1 43.3,294.1 45.6,289.4 47.8,289.4 50.0,289.4 52.3,295.1 54.5,288.1 56.8,288.1 59.0,291.6 61.2,291.6 63.5,288.9 65.7,290.6 68.0,290.6 70.2,302.3 72.4,304.3 74.7,296.3 76.9,296.3 79.2,296.3 81.4,296.3 83.6,296.3 85.9,296.3 88.1,289.0 90.4,289.0 92.6,289.0 94.8,290.4 97.1,290.4 99.3,300.4 101.5,299.4 103.8,294.7 106.0,294.7 108.3,295.8 110.5,292.4 112.7,295.2 115.0,295.2 117.2,294.4 119.5,304.9 121.7,304.9 123.9,298.2 126.2,300.8 128.4,291.1 130.7,291.1 132.9,281.1 135.1,281.1 137.4,267.6 139.6,267.6 141.8,249.0 144.1,266.8 146.3,266.8 148.6,289.0 150.8,289.0 153.0,289.0 155.3,301.9 157.5,301.1 159.8,296.0 162.0,290.3 164.2,290.9 166.5,292.3 168.7,292.3 171.0,299.8 173.2,299.8 175.4,292.5 177.7,294.2 179.9,299.1 182.2,299.1 184.4,311.0 186.6,298.9 188.9,295.8 191.1,295.8 193.3,295.8 195.6,298.3 197.8,298.3 200.1,298.3 202.3,298.6 204.5,298.6 206.8,298.6 209.0,298.6 211.3,299.7 213.5,286.2 215.7,302.1 218.0,302.1 220.2,302.1 222.5,297.7 224.7,300.8 226.9,300.8 229.2,295.3 231.4,295.3 233.7,287.9 235.9,286.3 238.1,286.3 240.4,293.2 242.6,293.2 244.8,291.2 247.1,291.2 249.3,293.2 251.6,290.4 253.8,290.4"/>
<polyline points="29.9,298.2 32.1,298.2 34.4,289.9 36.6,289.9 38.9,287.7 41.1,290.0 43.3,290.0 45.6,290.0 47.8,297.0 50.0,297.0 52.3,297.0 54.5,297.0 56.8,284.9 59.0,285.1 61.2,284.6 63.5,284.6 65.7,284.6 68.0,291.7 70.2,295.4 72.4,295.4 74.7,287.8 76.9,286.9 79.2,289.5 81.4,286.6 83.6,290.3 85.9,290.3 88.1,290.3 90.4,290.3 92.6,290.3 94.8,285.7 97.1,285.7 99.3,293.3 101.5,293.1 103.8,293.1 106.0,293.1 108.3,290.1 110.5,295.4 112.7,295.4 115.0,295.4 117.2,295.4 119.5,295.4 121.7,292.3 123.9,289.0 126.2,288.7 128.4,290.3 130.7,290.3 132.9,289.5 135.1,289.5 137.4,289.5 139.6,289.5 141.8,240.0 144.1,277.5 146.3,277.5 148.6,296.6 150.8,296.6 153.0,296.6 155.3,296.6 157.5,287.5 159.8,287.5 162.0,292.3 164.2,292.3 166.5,298.5 168.7,296.4 171.0,296.4 173.2,296.4 175.4,296.4 177.7,296.4 179.9,291.9 182.2,289.0 184.4,292.9 186.6,287.8 188.9,287.8 191.1,297.3 193.3,297.3 195.6,286.8 197.8,296.4 200.1,296.4 202.3,296.4 204.5,290.0 206.8,290.0 209.0,290.0 211.3,290.0 213.5,290.0 215.7,287.0 218.0,287.0 220.2,287.0 222.5,297.3 224.7,290.5 226.9,290.5 229.2,290.5 231.4,293.2 233.7,294.3 235.9,291.8 238.1,287.8 240.4,287.9 242.6,287.9 244.8,287.9 247.1,287.9 249.3,287.6 251.6,297.4 253.8,296.2"/>
<polyline points="29.9,295.5 32.1,290.2 34.4,298.4 36.6,298.4 38.9,298.4 41.1,290.2 43.3,290.2 45.6,290.7 47.8,290.7 50.0,300.8 52.3,291.7 54.5,291.7 56.8,299.0 59.0,295.1 61.2,295.1 63.5,297.9 65.7,297.9 68.0,289.9 70.2,289.9 72.4,289.9 74.7,296.6 76.9,297.8 79.2,297.8 81.4,294.3 83.6,294.3 85.9,294.3 88.1,294.3 90.4,295.5 92.6,295.0 94.8,295.0 97.1,295.0 99.3,294.6 101.5,294.6 103.8,294.6 106.0,287.0 108.3,287.0 110.5,287.0 112.7,297.0 115.0,289.5 117.2,294.3 119.5,294.3 121.7,294.3 123.9,291.8 126.2,291.8 128.4,291.1 130.7,290.8 132.9,290.8 135.1,303.3 137.4,303.3 139.6,289.7 141.8,256.6 144.1,282.9 146.3,286.7 148.6,276.2 150.8,276.2 153.0,290.6 155.3,290.6 157.5,290.6 159.8,275.2 162.0,285.3 164.2,285.3 166.5,286.4 168.7,291.0 171.0,291.0 173.2,291.0 175.4,291.0 177.7,294.1 179.9,296.9 182.2,296.9 184.4,290.5 186.6,290.5 188.9,285.9 191.1,293.2 193.3,293.2 195.6,293.2 197.8,292.7 200.1,292.7 202.3,292.7 204.5,291.7 206.8,291.7 209.0,291.7 211.3,291.7 213.5,289.1 215.7,287.7 218.0,286.3 220.2,287.1 222.5,287.1 224.7,287.1 226.9,295.5 229.2,295.5 231.4,301.4 233.7,296.5 235.9,296.5 238.1,291.4 240.4,291.4 242.6,288.9 244.8,290.8 247.1,292.6 249.3,292.6 251.6,292.6 253.8,292.6"/>
<polyline points="29.9,288.8 32.1,285.8 34.4,285.8 36.6,289.4 38.9,283.6 41.1,283.6 43.3,283.6 45.6,283.6 47.8,289.4 50.0,289.2 52.3,284.5 54.5,285.1 56.8,288.3 59.0,288.3 61.2,288.3 63.5,291.7 65.7,291.7 68.0,288.5 70.2,281.0 72.4,281.0 74.7,283.2 76.9,283.2 79.2,286.7 81.4,291.1 83.6,286.7 85.9,286.7 88.1,286.7 90.4,290.9 92.6,292.1 94.8,292.1 97.1,283.9 99.3,283.9 101.5,291.8 103.8,291.8 106.0,290.3 108.3,290.3 110.5,284.3 112.7,285.4 115.0,290.7 117.2,290.7 119.5,289.8 121.7,287.9 123.9,285.2 126.2,285.2 128.4,289.5 130.7,286.2 132.9,285.4 135.1,288.9 137.4,288.9 139.6,288.9 141.8,256.3 144.1,256.3 146.3,256.3 148.6,256.3 150.8,287.9 153.0,289.1 155.3,289.1 157.5,289.1 159.8,290.7 162.0,287.3 164.2,288.2 166.5,308.9 168.7,292.4 171.0,287.4 173.2,282.7 175.4,291.8 177.7,288.1 179.9,288.1 182.2,287.1 184.4,285.7 186.6,290.1 188.9,285.1 191.1,285.1 193.3,289.1 195.6,285.8 197.8,285.8 200.1,282.9 202.3,282.9 204.5,285.2 206.8,285.2 209.0,285.2 211.3,279.4 213.5,283.6 215.7,283.6 218.0,283.6 220.2,283.6 222.5,283.6 224.7,281.2 226.9,289.5 229.2,289.5 231.4,284.7 233.7,284.7 235.9,284.7 238.1,286.8 240.4,286.8 242.6,286.8 244.8,286.8 247.1,284.8 249.3,285.6 251.6,286.5 253.8,287.5"/>
<polyline points="29.9,289.4 32.1,284.7 34.4,284.7 36.6,296.6 38.9,296.6 41.1,297.8 43.3,287.9 45.6,287.9 47.8,287.9 50.0,292.7 52.3,292.7 54.5,280.8 56.8,280.8 59.0,280.8 61.2,280.8 63.5,290.2 65.7,284.3 68.0,290.6 70.2,290.6 72.4,290.2 74.7,286.6 76.9,288.8 79.2,290.4 81.4,290.4 83.6,289.3 85.9,289.0 88.1,289.0 90.4,289.0 92.6,290.0 94.8,290.0 97.1,283.0 99.3,294.2 101.5,288.2 103.8,288.2 106.0,296.9 108.3,297.1 110.5,284.9 112.7,276.0 115.0,282.2 117.2,282.2 119.5,292.1 121.7,293.1 123.9,293.1 126.2,293.1 128.4,293.1 130.7,293.1 132.9,293.1 135.1,293.1 137.4,293.1 139.6,293.1 141.8,272.3 144.1,288.0 146.3,288.0 148.6,286.1 150.8,286.1 153.0,286.1 155.3,289.4 157.5,289.4 159.8,289.4 162.0,294.1 164.2,294.1 166.5,294.1 168.7,294.1 171.0,294.1 173.2,292.0 175.4,297.3 177.7,290.1 179.9,290.2 182.2,286.6 184.4,286.6 186.6,286.6 188.9,286.6 191.1,286.6 193.3,286.6 195.6,285.6 197.8,285.6 200.1,285.6 202.3,289.1 204.5,290.9 206.8,290.9 209.0,290.9 211.3,290.9 213.5,288.7 215.7,292.3 218.0,293.6 220.2,287.3 222.5,287.3 224.7,287.3 226.9,287.3 229.2,281.1 231.4,284.2 233.7,286.7 235.9,286.7 238.1,284.2 240.4,284.2 242.6,284.2 244.8,284.2 247.1,282.6 249.3,282.6 251.6,302.7 253.8,289.3"/>
<polyline points="29.9,288.5 32.1,288.5 34.4,288.5 36.6,283.9 38.9,283.9 41.1,291.7 43.3,290.6 45.6,290.6 47.8,294.3 50.0,291.2 52.3,290.5 54.5,290.5 56.8,289.8 59.0,283.3 61.2,283.3 63.5,283.3 65.7,283.3 68.0,293.4 70.2,286.7 72.4,286.7 74.7,273.8 76.9,278.1 79.2,278.1 81.4,290.5 83.6,290.1 85.9,293.6 88.1,299.9 90.4,299.9 92.6,299.9 94.8,299.9 97.1,285.1 99.3,281.6 101.5,281.4 103.8,279.5 106.0,287.7 108.3,285.7 110.5,290.8 112.7,288.6 115.0,282.2 117.2,282.2 119.5,282.2 121.7,282.2 123.9,282.5 126.2,279.8 128.4,279.8 130.7,279.8 132.9,279.8 135.1,272.1 137.4,272.1 139.6,278.8 141.8,248.8 144.1,276.7 146.3,291.1 148.6,291.1 150.8,295.5 153.0,288.6 155.3,288.6 157.5,288.6 159.8,288.6 162.0,286.2 164.2,284.0 166.5,274.0 168.7,274.0 171.0,282.9 173.2,282.9 175.4,282.9 177.7,282.9 179.9,282.9 182.2,281.0 184.4,281.0 186.6,300.6 188.9,296.2 191.1,287.3 193.3,286.6 195.6,286.6 197.8,287.1 200.1,286.1 202.3,286.1 204.5,286.1 206.8,291.0 209.0,291.8 211.3,291.8 213.5,286.7 215.7,283.0 218.0,287.0 220.2,291.9 222.5,294.9 224.7,294.9 226.9,286.9 229.2,286.9 231.4,281.4 233.7,281.4 235.9,288.1 238.1,288.1 240.4,279.6 242.6,279.6 244.8,279.6 247.1,289.4 249.3,286.6 251.6,289.7 253.8,298.9"/>
<polyline points="29.9,287.8 32.1,287.8 34.4,289.6 36.6,286.6 38.9,292.1 41.1,288.0 43.3,297.7 45.6,297.7 47.8,297.7 50.0,286.1 52.3,295.4 54.5,291.6 56.8,291.6 59.0,291.6 61.2,299.1 63.5,298.6 65.7,298.6 68.0,298.6 70.2,289.7 72.4,297.8 74.7,284.3 76.9,284.3 79.2,293.0 81.4,293.0 83.6,295.2 85.9,292.9 88.1,292.9 90.4,297.0 92.6,297.0 94.8,297.0 97.1,297.0 99.3,297.0 101.5,297.0 103.8,286.8 106.0,289.7 108.3,286.7 110.5,289.6 112.7,294.6 115.0,279.0 117.2,287.2 119.5,287.2 121.7,287.2 123.9,287.2 126.2,287.2 128.4,287.2 130.7,291.1 132.9,291.1 135.1,291.1 137.4,295.2 139.6,295.2 141.8,279.4 144.1,294.4 146.3,297.9 148.6,297.9 150.8,297.9 153.0,292.6 155.3,285.1 157.5,288.7 159.8,284.9 162.0,284.9 164.2,295.7 166.5,295.7 168.7,295.7 171.0,295.7 173.2,295.7 175.4,294.0 177.7,296.2 179.9,286.6 182.2,286.9 184.4,286.9 186.6,286.9 188.9,286.9 191.1,290.3 193.3,290.3 195.6,290.3 197.8,286.9 200.1,293.2 202.3,302.1 204.5,304.9 206.8,289.1 209.0,289.1 211.3,300.3 213.5,296.6 215.7,280.9 218.0,280.9 220.2,290.8 222.5,284.4 224.7,284.4 226.9,289.1 229.2,290.6 231.4,290.6 233.7,290.6 235.9,293.2 238.1,298.8 240.4,298.2 242.6,298.2 244.8,298.2 247.1,278.7 249.3,293.8 251.6,293.8 253.8,283.2"/>
<polyline points="29.9,298.1 32.1,293.5 34.4,293.5 36.6,293.5 38.9,293.2 41.1,288.0 43.3,281.1 45.6,291.2 47.8,297.0 50.0,300.6 52.3,300.6 54.5,291.5 56.8,291.5 59.0,291.5 61.2,291.5 63.5,289.4 65.7,293.3 68.0,293.3 70.2,289.3 72.4,296.2 74.7,296.2 76.9,296.2 79.2,295.6 81.4,282.8 83.6,283.0 85.9,283.0 88.1,294.9 90.4,294.9 92.6,294.9 94.8,289.9 97.1,284.9 99.3,293.3 101.5,292.8 103.8,294.3 106.0,298.1 108.3,298.1 110.5,292.6 112.7,295.8 115.0,293.2 117.2,287.2 119.5,286.5 121.7,287.9 123.9,287.9 126.2,285.7 128.4,291.2 130.7,293.9 132.9,291.3 135.1,291.1 137.4,291.1 139.6,291.1 141.8,262.2 144.1,279.0 146.3,284.9 148.6,278.3 150.8,283.1 153.0,288.7 155.3,283.8 157.5,286.0 159.8,290.5 162.0,294.3 164.2,294.3 166.5,295.3 168.7,295.3 171.0,291.6 173.2,287.6 175.4,290.0 177.7,291.6 179.9,291.6 182.2,288.9 184.4,288.9 186.6,288.9 188.9,279.7 191.1,279.7 193.3,296.3 195.6,298.6 197.8,297.3 200.1,295.7 202.3,289.9 204.5,285.9 206.8,285.9 209.0,285.9 211.3,290.0 213.5,290.0 215.7,290.0 218.0,290.0 220.2,290.0 222.5,290.0 224.7,290.0 226.9,293.1 229.2,293.1 231.4,285.1 233.7,285.1 235.9,285.1 238.1,285.1 240.4,284.9 242.6,284.9 244.8,287.2 247.1,292.7 249.3,294.9 251.6,290.4 253.8,291.6"/>
<polyline points="29.9,284.0 32.1,293.6 34.4,293.6 36.6,294.8 38.9,294.8 41.1,287.9 43.3,287.9 45.6,292.0 47.8,289.3 50.0,289.3 52.3,295.1 54.5,290.7 56.8,290.7 59.0,290.7 61.2,290.7 63.5,292.6 65.7,292.6 68.0,294.3 70.2,294.3 72.4,291.3 74.7,295.1 76.9,299.9 79.2,299.9 81.4,298.5 83.6,294.4 85.9,294.4 88.1,288.0 90.4,288.0 92.6,293.5 94.8,293.5 97.1,303.2 99.3,296.0 101.5,300.4 103.8,286.5 106.0,286.5 108.3,286.5 110.5,286.5 112.7,289.9 115.0,290.7 117.2,290.7 119.5,289.1 121.7,289.1 123.9,284.7 126.2,298.0 128.4,298.0 130.7,298.0 132.9,289.6 135.1,289.6 137.4,287.4 139.6,287.4 141.8,253.3 144.1,291.4 146.3,291.4 148.6,293.5 150.8,291.5 153.0,289.8 155.3,295.1 157.5,294.5 159.8,285.6 162.0,297.3 164.2,290.7 166.5,287.1 168.7,286.5 171.0,286.5 173.2,297.6 175.4,297.6 177.7,295.6 179.9,293.4 182.2,293.4 184.4,293.4 186.6,293.4 188.9,293.4 191.1,293.4 193.3,293.4 195.6,294.3 197.8,294.3 200.1,294.3 202.3,295.8 204.5,293.6 206.8,293.6 209.0,293.5 211.3,293.5 213.5,293.5 215.7,293.5 218.0,292.7 220.2,292.7 222.5,300.3 224.7,300.3 226.9,294.2 229.2,290.6 231.4,290.6 233.7,292.4 235.9,297.6 238.1,297.6 240.4,294.5 242.6,291.4 244.8,291.4 247.1,289.6 249.3,293.8 251.6,293.8 253.8,293.8"/>
<polyline points="29.9,294.0 32.1,289.3 34.4,289.3 36.6,288.4 38.9,288.4 41.1,286.9 43.3,291.3 45.6,291.3 47.8,291.3 50.0,292.9 52.3,292.9 54.5,292.9 56.8,295.5 59.0,295.5 61.2,297.1 63.5,297.1 65.7,291.3 68.0,299.5 70.2,294.4 72.4,294.4 74.7,294.4 76.9,294.4 79.2,294.4 81.4,292.5 83.6,295.5 85.9,291.5 88.1,291.5 90.4,291.5 92.6,291.5 94.8,291.5 97.1,291.6 99.3,291.6 101.5,291.6 103.8,291.6 106.0,292.7 108.3,292.7 110.5,292.0 112.7,292.0 115.0,299.0 117.2,299.0 119.5,286.2 121.7,286.2 123.9,286.2 126.2,292.6 128.4,292.6 130.7,292.6 132.9,286.2 135.1,287.9 137.4,287.9 139.6,287.9 141.8,252.7 144.1,252.7 146.3,284.3 148.6,289.0 150.8,289.0 153.0,296.4 155.3,291.2 157.5,291.2 159.8,290.2 162.0,290.2 164.2,290.2 166.5,290.2 168.7,294.5 171.0,291.2 173.2,291.2 175.4,292.0 177.7,293.8 179.9,295.0 182.2,312.3 184.4,312.3 186.6,289.4 188.9,294.1 191.1,294.1 193.3,294.1 195.6,282.9 197.8,287.7 200.1,295.5 202.3,296.7 204.5,296.7 206.8,296.7 209.0,296.7 211.3,296.7 213.5,299.5 215.7,299.5 218.0,299.5 220.2,289.5 222.5,289.5 224.7,290.5 226.9,286.1 229.2,289.4 231.4,291.6 233.7,285.9 235.9,290.2 238.1,294.6 240.4,294.6 242.6,294.6 244.8,288.1 247.1,288.1 249.3,288.1 251.6,288.1 253.8,289.9"/>
<polyline points="29.9,283.7 32.1,283.7 34.4,283.7 36.6,285.1 38.9,283.3 41.1,288.3 43.3,288.3 45.6,290.1 47.8,290.1 50.0,290.1 52.3,283.9 54.5,283.9 56.8,291.9 59.0,292.2 61.2,292.2 63.5,287.3 65.7,287.8 68.0,287.8 70.2,286.5 72.4,289.4 74.7,289.4 76.9,292.1 79.2,291.9 81.4,291.9 83.6,282.1 85.9,282.1 88.1,282.1 90.4,282.5 92.6,289.1 94.8,291.5 97.1,291.5 99.3,285.1 101.5,284.5 103.8,284.5 106.0,294.3 108.3,294.3 110.5,284.6 112.7,286.3 115.0,290.6 117.2,293.5 119.5,289.9 121.7,289.9 123.9,289.3 126.2,289.4 128.4,291.6 130.7,292.2 132.9,292.2 135.1,292.2 137.4,275.6 139.6,276.5 141.8,254.7 144.1,254.7 146.3,278.4 148.6,287.8 150.8,287.8 153.0,287.2 155.3,287.2 157.5,285.2 159.8,285.2 162.0,287.4 164.2,290.9 166.5,290.9 168.7,290.9 171.0,292.7 173.2,292.7 175.4,291.6 177.7,291.6 179.9,291.6 182.2,291.6 184.4,295.1 186.6,295.1 188.9,288.1 191.1,288.1 193.3,286.3 195.6,285.9 197.8,285.9 200.1,290.8 202.3,290.8 204.5,293.6 206.8,293.6 209.0,291.0 211.3,291.0 213.5,285.2 215.7,289.5 218.0,289.5 220.2,289.5 222.5,289.5 224.7,285.1 226.9,285.1 229.2,285.1 231.4,288.3 233.7,291.6 235.9,295.2 238.1,290.9 240.4,290.9 242.6,295.8 244.8,295.8 247.1,284.5 249.3,282.5 251.6,284.2 253.8,284.2"/>
<polyline points="29.9,284.7 32.1,289.5 34.4,290.6 36.6,295.8 38.9,297.7 41.1,291.3 43.3,291.0 45.6,291.0 47.8,297.5 50.0,297.5 52.3,288.6 54.5,295.5 56.8,295.5 59.0,295.5 61.2,295.5 63.5,295.5 65.7,288.7 68.0,299.0 70.2,292.6 72.4,296.4 74.7,295.3 76.9,295.3 79.2,292.0 81.4,292.0 83.6,292.0 85.9,288.5 88.1,288.5 90.4,288.5 92.6,294.2 94.8,294.2 97.1,294.2 99.3,293.2 101.5,295.3 103.8,291.8 106.0,291.8 108.3,291.8 110.5,294.0 112.7,286.7 115.0,286.7 117.2,281.7 119.5,292.3 121.7,292.3 123.9,294.0 126.2,293.6 128.4,290.0 130.7,290.0 132.9,284.8 135.1,284.8 137.4,294.9 139.6,294.9 141.8,223.5 144.1,273.6 146.3,287.4 148.6,287.4 150.8,290.2 153.0,287.2 155.3,287.2 157.5,287.9 159.8,287.9 162.0,287.9 164.2,292.5 166.5,289.9 168.7,289.7 171.0,289.7 173.2,289.7 175.4,283.0 177.7,297.9 179.9,297.9 182.2,297.8 184.4,289.1 186.6,289.1 188.9,285.7 191.1,285.7 193.3,289.5 195.6,289.5 197.8,289.5 200.1,294.5 202.3,294.5 204.5,288.7 206.8,294.6 209.0,294.4 211.3,294.7 213.5,294.7 215.7,279.9 218.0,279.9 220.2,296.4 222.5,296.4 224.7,295.1 226.9,287.5 229.2,290.0 231.4,290.0 233.7,300.5 235.9,300.1 238.1,294.4 240.4,294.4 242.6,294.4 244.8,292.3 247.1,292.3 249.3,292.3 251.6,288.5 253.8,289.9"/>
<polyline points="29.9,285.7 32.1,281.2 34.4,281.2 36.6,281.2 38.9,289.8 41.1,287.4 43.3,287.4 45.6,287.4 47.8,287.4 50.0,288.0 52.3,288.0 54.5,288.0 56.8,286.3 59.0,286.3 61.2,286.3 63.5,287.9 65.7,287.9 68.0,293.1 70.2,293.1 72.4,283.8 74.7,283.8 76.9,283.8 79.2,291.0 81.4,289.2 83.6,289.2 85.9,290.8 88.1,293.6 90.4,293.6 92.6,293.6 94.8,292.7 97.1,292.0 99.3,292.3 101.5,286.3 103.8,286.3 106.0,285.5 108.3,290.0 110.5,293.9 112.7,291.7 115.0,287.0 117.2,287.0 119.5,287.0 121.7,291.4 123.9,284.7 126.2,284.7 128.4,284.7 130.7,257.1 132.9,257.1 135.1,256.7 137.4,256.7 139.6,270.2 141.8,221.7 144.1,281.3 146.3,281.3 148.6,284.4 150.8,283.0 153.0,283.0 155.3,283.0 157.5,283.0 159.8,292.7 162.0,292.7 164.2,292.7 166.5,292.7 168.7,286.7 171.0,289.0 173.2,289.0 175.4,289.7 177.7,289.7 179.9,289.7 182.2,289.7 184.4,289.7 186.6,291.3 188.9,291.3 191.1,291.3 193.3,293.1 195.6,288.5 197.8,288.5 200.1,286.3 202.3,286.3 204.5,289.8 206.8,289.8 209.0,285.8 211.3,285.5 213.5,285.5 215.7,291.3 218.0,291.3 220.2,284.9 222.5,290.6 224.7,290.6 226.9,292.8 229.2,292.8 231.4,290.6 233.7,290.6 235.9,290.6 238.1,290.6 240.4,290.6 242.6,290.8 244.8,288.3 247.1,288.3 249.3,288.3 251.6,288.3 253.8,284.8"/>
<polyline points="29.9,294.4 32.1,294.4 34.4,292.6 36.6,292.2 38.9,294.6 41.1,287.9 43.3,290.7 45.6,290.7 47.8,294.7 50.0,291.0 52.3,291.0 54.5,286.5 56.8,286.5 59.0,291.5 61.2,298.5 63.5,298.5 65.7,290.0 68.0,290.0 70.2,294.6 72.4,294.6 74.7,295.0 76.9,291.2 79.2,289.1 81.4,289.1 83.6,289.1 85.9,294.7 88.1,286.8 90.4,294.5 92.6,294.5 94.8,275.7 97.1,277.3 99.3,285.5 101.5,294.5 103.8,291.6 106.0,290.1 108.3,294.3 110.5,294.3 112.7,294.9 115.0,294.9 117.2,290.5 119.5,293.0 121.7,293.0 123.9,282.4 126.2,284.8 128.4,284.8 130.7,284.8 132.9,295.6 135.1,299.3 137.4,299.3 139.6,299.3 141.8,267.8 144.1,267.8 146.3,297.8 148.6,288.7 150.8,288.7 153.0,288.7 155.3,299.3 157.5,299.3 159.8,299.3 162.0,299.3 164.2,297.2 166.5,301.5 168.7,301.5 171.0,301.5 173.2,293.7 175.4,293.7 177.7,293.7 179.9,290.4 182.2,290.4 184.4,290.4 186.6,292.0 188.9,292.6 191.1,291.5 193.3,279.2 195.6,281.2 197.8,294.3 200.1,294.3 202.3,295.2 204.5,295.2 206.8,289.2 209.0,285.2 211.3,285.2 213.5,294.5 215.7,288.7 218.0,288.0 220.2,288.0 222.5,297.9 224.7,295.2 226.9,291.9 229.2,297.8 231.4,297.8 233.7,297.8 235.9,295.9 238.1,295.9 240.4,295.9 242.6,301.5 244.8,297.0 247.1,287.2 249.3,287.2 251.6,291.2 253.8,296.8"/>
<polyline points="29.9,288.5 32.1,288.5 34.4,295.8 36.6,295.8 38.9,295.8 41.1,296.8 43.3,289.7 45.6,295.3 47.8,286.8 50.0,294.3 52.3,294.3 54.5,294.3 56.8,294.3 59.0,299.2 61.2,288.2 63.5,288.4 65.7,287.5 68.0,288.2 70.2,281.9 72.4,282.8 74.7,282.8 76.9,290.4 79.2,290.4 81.4,290.4 83.6,290.4 85.9,294.1 88.1,285.0 90.4,280.6 92.6,284.9 94.8,284.9 97.1,284.9 99.3,284.9 101.5,284.9 103.8,282.7 106.0,282.7 108.3,294.2 110.5,294.2 112.7,284.5 115.0,296.0 117.2,286.2 119.5,288.9 121.7,288.9 123.9,288.9 126.2,293.9 128.4,293.9 130.7,293.9 132.9,293.9 135.1,293.9 137.4,294.2 139.6,294.2 141.8,263.1 144.1,263.1 146.3,263.1 148.6,263.1 150.8,288.9 153.0,288.9 155.3,285.4 157.5,285.4 159.8,285.4 162.0,288.9 164.2,288.9 166.5,288.4 168.7,287.3 171.0,283.2 173.2,283.2 175.4,295.5 177.7,295.5 179.9,279.4 182.2,292.1 184.4,301.4 186.6,301.4 188.9,301.4 191.1,283.4 193.3,283.4 195.6,286.5 197.8,288.0 200.1,284.7 202.3,284.7 204.5,284.7 206.8,288.2 209.0,288.2 211.3,288.2 213.5,295.4 215.7,283.4 218.0,283.4 220.2,295.7 222.5,295.7 224.7,291.3 226.9,301.5 229.2,291.1 231.4,291.1 233.7,291.1 235.9,291.1 238.1,288.6 240.4,282.0 242.6,282.0 244.8,282.0 247.1,282.0 249.3,285.5 251.6,297.1 253.8,297.1"/>
<polyline points="29.9,287.3 32.1,287.3 34.4,285.3 36.6,285.3 38.9,286.5 41.1,286.5 43.3,290.0 45.6,297.5 47.8,297.5 50.0,297.5 52.3,296.3 54.5,283.5 56.8,282.6 59.0,282.6 61.2,282.6 63.5,291.3 65.7,291.4 68.0,291.4 70.2,291.4 72.4,290.9 74.7,297.4 76.9,297.4 79.2,297.4 81.4,297.4 83.6,294.4 85.9,288.1 88.1,288.1 90.4,292.4 92.6,292.4 94.8,292.4 97.1,292.4 99.3,292.3 101.5,292.3 103.8,284.9 106.0,290.4 108.3,290.4 110.5,288.8 112.7,288.8 115.0,282.8 117.2,291.1 119.5,291.1 121.7,285.2 123.9,284.2 126.2,284.2 128.4,284.2 130.7,284.2 132.9,284.2 135.1,284.2 137.4,284.2 139.6,284.2 141.8,235.4 144.1,257.8 146.3,267.9 148.6,260.4 150.8,260.4 153.0,278.3 155.3,278.3 157.5,278.3 159.8,288.4 162.0,288.4 164.2,288.4 166.5,288.4 168.7,288.1 171.0,288.1 173.2,288.1 175.4,283.0 177.7,291.6 179.9,286.1 182.2,286.1 184.4,286.1 186.6,286.1 188.9,287.0 191.1,287.0 193.3,289.2 195.6,297.0 197.8,290.3 200.1,290.3 202.3,288.7 204.5,288.7 206.8,287.0 209.0,287.0 211.3,287.0 213.5,287.0 215.7,290.7 218.0,290.8 220.2,291.6 222.5,291.6 224.7,294.4 226.9,294.4 229.2,285.0 231.4,291.1 233.7,291.1 235.9,291.1 238.1,290.3 240.4,285.4 242.6,284.1 244.8,278.1 247.1,275.0 249.3,282.3 251.6,290.0 253.8,290.0"/>
<polyline points="29.9,288.8 32.1,288.8 34.4,288.8 36.6,295.3 38.9,295.3 41.1,292.8 43.3,292.8 45.6,292.8 47.8,293.0 50.0,293.0 52.3,293.0 54.5,289.5 56.8,289.5 59.0,289.0 61.2,284.8 63.5,291.2 65.7,291.2 68.0,291.2 70.2,291.2 72.4,286.6 74.7,286.6 76.9,286.6 79.2,292.4 81.4,292.4 83.6,300.7 85.9,300.7 88.1,287.9 90.4,281.5 92.6,281.5 94.8,281.5 97.1,281.5 99.3,295.3 101.5,291.9 103.8,293.2 106.0,291.8 108.3,291.8 110.5,295.5 112.7,295.5 115.0,295.5 117.2,295.5 119.5,295.5 121.7,290.0 123.9,284.7 126.2,284.7 128.4,284.7 130.7,294.7 132.9,268.8 135.1,268.8 137.4,254.5 139.6,254.5 141.8,249.8 144.1,249.8 146.3,245.3 148.6,260.1 150.8,276.9 153.0,281.3 155.3,293.3 157.5,296.4 159.8,297.0 162.0,297.0 164.2,297.0 166.5,289.9 168.7,289.6 171.0,289.6 173.2,289.6 175.4,289.6 177.7,285.1 179.9,285.1 182.2,296.7 184.4,295.0 186.6,296.9 188.9,296.9 191.1,295.3 193.3,297.5 195.6,297.5 197.8,281.2 200.1,285.9 202.3,285.9 204.5,285.9 206.8,285.9 209.0,285.9 211.3,285.9 213.5,289.5 215.7,289.5 218.0,289.5 220.2,292.0 222.5,292.0 224.7,292.0 226.9,289.1 229.2,289.1 231.4,289.1 233.7,295.0 235.9,293.6 238.1,292.1 240.4,296.1 242.6,294.4 244.8,295.3 247.1,295.3 249.3,294.5 251.6,294.5 253.8,294.5"/>
<polyline points="29.9,288.5 32.1,290.1 34.4,291.0 36.6,289.7 38.9,291.0 41.1,291.0 43.3,283.9 45.6,283.9 47.8,289.9 50.0,289.9 52.3,289.9 54.5,289.7 56.8,288.8 59.0,292.3 61.2,290.2 63.5,283.8 65.7,283.6 68.0,283.6 70.2,283.6 72.4,283.6 74.7,292.2 76.9,292.2 79.2,292.2 81.4,292.2 83.6,292.2 85.9,287.8 88.1,287.8 90.4,288.0 92.6,288.0 94.8,288.0 97.1,306.0 99.3,306.0 101.5,306.0 103.8,306.0 106.0,306.0 108.3,296.3 110.5,296.3 112.7,296.3 115.0,296.3 117.2,296.4 119.5,296.4 121.7,296.4 123.9,292.9 126.2,290.0 128.4,290.2 130.7,290.2 132.9,290.2 135.1,288.5 137.4,288.5 139.6,288.5 141.8,268.7 144.1,268.7 146.3,287.7 148.6,287.7 150.8,287.7 153.0,287.7 155.3,287.7 157.5,287.7 159.8,292.3 162.0,292.3 164.2,288.3 166.5,288.3 168.7,285.8 171.0,285.8 173.2,285.8 175.4,288.1 177.7,279.7 179.9,279.7 182.2,279.7 184.4,298.5 186.6,297.0 188.9,297.0 191.1,297.0 193.3,286.5 195.6,282.2 197.8,282.2 200.1,285.4 202.3,296.2 204.5,296.2 206.8,291.7 209.0,289.2 211.3,289.2 213.5,289.2 215.7,289.2 218.0,289.2 220.2,289.2 222.5,289.2 224.7,289.8 226.9,295.9 229.2,288.6 231.4,288.6 233.7,288.6 235.9,288.6 238.1,297.0 240.4,288.8 242.6,286.9 244.8,288.9 247.1,288.9 249.3,292.5 251.6,286.4 253.8,282.0"/>
<polyline points="29.9,292.8 32.1,292.8 34.4,289.0 36.6,287.2 38.9,287.4 41.1,287.4 43.3,294.9 45.6,280.4 47.8,290.5 50.0,290.5 52.3,287.8 54.5,287.8 56.8,290.4 59.0,290.1 61.2,296.4 63.5,290.7 65.7,290.7 68.0,290.7 70.2,290.7 72.4,291.4 74.7,291.6 76.9,289.9 79.2,289.9 81.4,289.9 83.6,292.1 85.9,292.1 88.1,292.1 90.4,284.0 92.6,289.1 94.8,287.9 97.1,291.1 99.3,291.1 101.5,291.1 103.8,291.1 106.0,291.1 108.3,287.4 110.5,286.9 112.7,286.9 115.0,290.3 117.2,290.3 119.5,294.3 121.7,294.3 123.9,287.2 126.2,287.2 128.4,286.1 130.7,283.5 132.9,283.5 135.1,283.5 137.4,283.5 139.6,283.5 141.8,225.9 144.1,225.9 146.3,279.2 148.6,279.2 150.8,279.2 153.0,282.3 155.3,282.3 157.5,282.3 159.8,293.9 162.0,293.9 164.2,293.9 166.5,293.9 168.7,293.9 171.0,279.2 173.2,279.2 175.4,291.7 177.7,286.0 179.9,285.7 182.2,299.9 184.4,290.6 186.6,288.8 188.9,290.5 191.1,295.4 193.3,295.4 195.6,295.4 197.8,295.4 200.1,293.3 202.3,293.3 204.5,293.3 206.8,293.3 209.0,293.3 211.3,293.3 213.5,293.3 215.7,293.3 218.0,289.3 220.2,279.0 222.5,290.1 224.7,292.1 226.9,294.4 229.2,294.4 231.4,287.0 233.7,287.0 235.9,287.0 238.1,287.0 240.4,287.0 242.6,287.0 244.8,286.1 247.1,286.1 249.3,286.1 251.6,298.1 253.8,288.5"/>
<polyline points="29.9,290.3 32.1,291.2 34.4,291.2 36.6,301.5 38.9,301.5 41.1,301.5 43.3,301.5 45.6,294.0 47.8,294.9 50.0,293.0 52.3,295.9 54.5,297.7 56.8,297.7 59.0,292.0 61.2,292.0 63.5,289.9 65.7,289.9 68.0,289.9 70.2,289.9 72.4,294.2 74.7,299.5 76.9,301.8 79.2,291.5 81.4,291.5 83.6,291.5 85.9,290.8 88.1,288.9 90.4,288.9 92.6,291.9 94.8,291.9 97.1,291.9 99.3,295.6 101.5,293.1 103.8,293.1 106.0,292.8 108.3,295.0 110.5,293.4 112.7,293.4 115.0,292.8 117.2,292.8 119.5,291.1 121.7,291.1 123.9,284.5 126.2,284.5 128.4,295.0 130.7,295.0 132.9,288.2 135.1,294.4 137.4,299.1 139.6,295.9 141.8,276.1 144.1,295.0 146.3,296.9 148.6,296.9 150.8,290.7 153.0,290.7 155.3,291.1 157.5,291.1 159.8,291.1 162.0,291.1 164.2,291.1 166.5,294.8 168.7,289.3 171.0,288.8 173.2,288.8 175.4,288.8 177.7,288.8 179.9,295.6 182.2,295.6 184.4,295.6 186.6,295.6 188.9,290.7 191.1,290.7 193.3,290.7 195.6,290.7 197.8,290.7 200.1,290.7 202.3,290.7 204.5,290.7 206.8,290.7 209.0,292.0 211.3,292.0 213.5,283.7 215.7,289.3 218.0,289.3 220.2,292.1 222.5,292.1 224.7,292.1 226.9,288.2 229.2,288.4 231.4,292.4 233.7,292.4 235.9,292.4 238.1,289.2 240.4,289.2 242.6,298.4 244.8,293.8 247.1,293.8 249.3,294.5 251.6,292.6 253.8,291.4"/>
<polyline points="29.9,295.7 32.1,295.7 34.4,295.7 36.6,286.1 38.9,281.0 41.1,288.5 43.3,285.6 45.6,285.6 47.8,283.0 50.0,283.0 52.3,287.1 54.5,283.0 56.8,283.0 59.0,283.0 61.2,291.9 63.5,290.1 65.7,286.6 68.0,288.5 70.2,279.2 72.4,278.3 74.7,292.3 76.9,293.8 79.2,290.9 81.4,290.9 83.6,290.9 85.9,290.9 88.1,290.9 90.4,290.6 92.6,290.6 94.8,291.5 97.1,289.7 99.3,295.7 101.5,290.1 103.8,290.2 106.0,289.5 108.3,289.5 110.5,289.5 112.7,294.8 115.0,298.7 117.2,301.1 119.5,296.7 121.7,289.3 123.9,290.7 126.2,289.6 128.4,289.0 130.7,283.3 132.9,283.3 135.1,283.3 137.4,286.8 139.6,286.8 141.8,260.2 144.1,260.2 146.3,295.3 148.6,297.1 150.8,297.1 153.0,284.7 155.3,279.4 157.5,292.5 159.8,292.5 162.0,292.5 164.2,292.5 166.5,289.0 168.7,289.0 171.0,296.3 173.2,296.3 175.4,283.5 177.7,288.9 179.9,288.9 182.2,291.0 184.4,294.2 186.6,293.4 188.9,293.4 191.1,291.3 193.3,291.3 195.6,289.6 197.8,289.6 200.1,296.0 202.3,296.0 204.5,291.8 206.8,292.1 209.0,293.3 211.3,294.1 213.5,295.8 215.7,295.8 218.0,291.5 220.2,294.6 222.5,294.6 224.7,287.5 226.9,287.5 229.2,288.6 231.4,288.6 233.7,292.6 235.9,292.6 238.1,286.7 240.4,288.6 242.6,289.1 244.8,289.1 247.1,289.1 249.3,289.1 251.6,289.1 253.8,289.1"/>
<polyline points="29.9,290.7 32.1,290.7 34.4,286.8 36.6,286.8 38.9,287.4 41.1,287.4 43.3,287.4 45.6,288.6 47.8,292.6 50.0,298.5 52.3,298.5 54.5,294.9 56.8,291.0 59.0,290.9 61.2,286.7 63.5,285.1 65.7,285.1 68.0,285.1 70.2,287.1 72.4,287.1 74.7,287.1 76.9,287.3 79.2,287.3 81.4,284.4 83.6,283.6 85.9,286.5 88.1,291.1 90.4,293.1 92.6,292.4 94.8,292.4 97.1,293.6 99.3,293.6 101.5,287.0 103.8,286.5 106.0,286.5 108.3,286.5 110.5,286.5 112.7,294.8 115.0,295.3 117.2,295.3 119.5,290.6 121.7,290.6 123.9,290.6 126.2,290.6 128.4,290.6 130.7,288.8 132.9,288.8 135.1,300.6 137.4,301.3 139.6,299.6 141.8,273.2 144.1,273.2 146.3,286.3 148.6,286.3 150.8,296.4 153.0,294.4 155.3,294.4 157.5,290.9 159.8,295.5 162.0,292.3 164.2,292.3 166.5,284.6 168.7,284.6 171.0,284.6 173.2,292.7 175.4,288.5 177.7,294.2 179.9,294.2 182.2,283.6 184.4,288.5 186.6,288.5 188.9,288.5 191.1,291.4 193.3,287.6 195.6,284.1 197.8,288.1 200.1,288.1 202.3,288.1 204.5,293.8 206.8,293.8 209.0,288.8 211.3,288.8 213.5,288.8 215.7,288.8 218.0,288.8 220.2,294.6 222.5,294.6 224.7,290.3 226.9,290.4 229.2,290.4 231.4,288.6 233.7,294.0 235.9,294.4 238.1,286.6 240.4,286.6 242.6,286.6 244.8,300.0 247.1,294.0 249.3,281.1 251.6,281.1 253.8,286.0"/>
<polyline points="29.9,286.5 32.1,289.7 34.4,289.7 36.6,288.4 38.9,290.9 41.1,280.5 43.3,280.5 45.6,288.1 47.8,288.1 50.0,284.3 52.3,284.3 54.5,284.3 56.8,296.3 59.0,294.9 61.2,294.9 63.5,294.9 65.7,281.6 68.0,288.2 70.2,284.0 72.4,288.1 74.7,290.9 76.9,289.6 79.2,289.6 81.4,290.3 83.6,297.8 85.9,282.7 88.1,290.1 90.4,290.1 92.6,290.0 94.8,294.2 97.1,294.2 99.3,292.4 101.5,292.4 103.8,292.4 106.0,288.2 108.3,288.2 110.5,288.2 112.7,281.0 115.0,281.0 117.2,281.0 119.5,295.8 121.7,295.8 123.9,295.8 126.2,294.3 128.4,293.2 130.7,294.1 132.9,290.3 135.1,276.3 137.4,276.3 139.6,267.9 141.8,246.8 144.1,246.8 146.3,283.4 148.6,283.4 150.8,283.4 153.0,288.2 155.3,299.8 157.5,299.8 159.8,283.2 162.0,288.8 164.2,288.1 166.5,284.4 168.7,285.8 171.0,285.8 173.2,288.5 175.4,292.4 177.7,286.6 179.9,285.2 182.2,285.2 184.4,287.6 186.6,287.6 188.9,290.4 191.1,292.7 193.3,285.4 195.6,285.4 197.8,285.4 200.1,291.0 202.3,291.0 204.5,291.0 206.8,282.9 209.0,282.9 211.3,282.9 213.5,288.0 215.7,288.3 218.0,283.5 220.2,283.5 222.5,283.5 224.7,283.5 226.9,283.5 229.2,285.3 231.4,285.3 233.7,284.3 235.9,284.3 238.1,291.7 240.4,291.7 242.6,293.9 244.8,287.7 247.1,289.9 249.3,287.9 251.6,280.7 253.8,280.7"/>
<polyline points="29.9,291.9 32.1,291.9 34.4,291.9 36.6,292.4 38.9,292.4 41.1,292.4 43.3,297.3 45.6,297.3 47.8,295.0 50.0,291.1 52.3,285.0 54.5,292.5 56.8,291.5 59.0,291.7 61.2,291.7 63.5,299.5 65.7,296.1 68.0,301.0 70.2,294.8 72.4,298.6 74.7,292.8 76.9,292.8 79.2,295.2 81.4,291.1 83.6,289.7 85.9,289.7 88.1,289.7 90.4,297.3 92.6,297.3 94.8,297.3 97.1,297.3 99.3,292.3 101.5,290.0 103.8,288.5 106.0,288.5 108.3,288.5 110.5,296.5 112.7,296.5 115.0,296.5 117.2,296.5 119.5,296.7 121.7,296.7 123.9,287.8 126.2,278.8 128.4,278.8 130.7,278.8 132.9,278.8 135.1,278.8 137.4,278.8 139.6,275.4 141.8,260.3 144.1,279.2 146.3,291.0 148.6,290.2 150.8,290.2 153.0,289.5 155.3,297.4 157.5,297.4 159.8,297.4 162.0,291.4 164.2,293.3 166.5,290.6 168.7,295.8 171.0,294.6 173.2,294.6 175.4,294.5 177.7,297.9 179.9,290.1 182.2,297.8 184.4,297.8 186.6,297.8 188.9,289.7 191.1,289.3 193.3,288.6 195.6,289.3 197.8,289.3 200.1,293.0 202.3,294.9 204.5,294.9 206.8,284.6 209.0,288.2 211.3,290.8 213.5,288.3 215.7,288.3 218.0,290.5 220.2,291.6 222.5,291.6 224.7,293.2 226.9,293.2 229.2,293.2 231.4,290.8 233.7,292.9 235.9,292.9 238.1,292.9 240.4,292.9 242.6,297.6 244.8,297.6 247.1,297.1 249.3,297.1 251.6,292.6 253.8,291.4"/>
<polyline points="29.9,293.4 32.1,293.8 34.4,296.5 36.6,296.5 38.9,296.5 41.1,293.0 43.3,293.0 45.6,291.9 47.8,289.6 50.0,296.3 52.3,292.6 54.5,295.0 56.8,293.9 59.0,293.9 61.2,293.9 63.5,287.7 65.7,292.5 68.0,292.5 70.2,295.8 72.4,287.5 74.7,290.2 76.9,292.9 79.2,296.0 81.4,293.5 83.6,287.7 85.9,287.7 88.1,296.0 90.4,296.0 92.6,295.1 94.8,289.8 97.1,289.8 99.3,289.8 101.5,289.8 103.8,289.8 106.0,286.1 108.3,286.1 110.5,290.5 112.7,292.6 115.0,296.9 117.2,294.4 119.5,294.4 121.7,294.4 123.9,294.4 126.2,294.4 128.4,294.4 130.7,286.1 132.9,286.1 135.1,286.1 137.4,286.1 139.6,293.0 141.8,268.2 144.1,268.2 146.3,298.5 148.6,292.2 150.8,290.3 153.0,293.6 155.3,293.6 157.5,293.6 159.8,293.6 162.0,291.4 164.2,293.0 166.5,293.0 168.7,296.5 171.0,296.5 173.2,285.2 175.4,294.1 177.7,294.1 179.9,293.2 182.2,294.8 184.4,294.8 186.6,293.6 188.9,295.0 191.1,294.9 193.3,294.9 195.6,288.8 197.8,288.8 200.1,288.8 202.3,289.4 204.5,286.8 206.8,288.3 209.0,290.6 211.3,290.6 213.5,295.8 215.7,290.1 218.0,289.0 220.2,287.1 222.5,303.4 224.7,298.6 226.9,301.3 229.2,287.8 231.4,287.8 233.7,298.1 235.9,291.0 238.1,291.0 240.4,297.4 242.6,296.3 244.8,293.1 247.1,293.1 249.3,293.1 251.6,293.0 253.8,293.0"/>
<polyline points="29.9,296.0 32.1,293.9 34.4,299.4 36.6,302.4 38.9,298.9 41.1,298.9 43.3,298.9 45.6,298.9 47.8,287.2 50.0,290.6 52.3,290.6 54.5,288.9 56.8,293.3 59.0,293.3 61.2,293.3 63.5,293.3 65.7,292.5 68.0,292.7 70.2,292.7 72.4,292.7 74.7,294.1 76.9,294.1 79.2,294.2 81.4,295.7 83.6,295.7 85.9,296.6 88.1,296.6 90.4,296.6 92.6,296.6 94.8,296.6 97.1,294.5 99.3,298.8 101.5,298.8 103.8,298.8 106.0,290.4 108.3,287.5 110.5,287.7 112.7,287.7 115.0,287.7 117.2,285.3 119.5,288.4 121.7,288.4 123.9,294.2 126.2,292.5 128.4,292.0 130.7,296.7 132.9,296.7 135.1,296.7 137.4,292.3 139.6,292.3 141.8,264.8 144.1,295.3 146.3,295.3 148.6,297.9 150.8,297.9 153.0,298.7 155.3,290.4 157.5,290.4 159.8,298.7 162.0,298.7 164.2,298.7 166.5,287.6 168.7,287.6 171.0,296.3 173.2,294.7 175.4,294.7 177.7,294.7 179.9,294.7 182.2,294.7 184.4,284.4 186.6,284.4 188.9,284.4 191.1,284.4 193.3,284.4 195.6,289.7 197.8,289.7 200.1,293.9 202.3,293.1 204.5,293.1 206.8,291.2 209.0,291.2 211.3,292.4 213.5,298.4 215.7,292.2 218.0,292.2 220.2,299.4 222.5,299.4 224.7,299.4 226.9,299.4 229.2,299.4 231.4,299.4 233.7,299.4 235.9,288.3 238.1,288.3 240.4,290.1 242.6,289.4 244.8,289.4 247.1,289.4 249.3,290.7 251.6,290.7 253.8,291.1"/>
<polyline points="29.9,288.7 32.1,281.4 34.4,281.4 36.6,289.0 38.9,281.7 41.1,281.7 43.3,278.5 45.6,288.2 47.8,294.9 50.0,292.0 52.3,292.0 54.5,288.3 56.8,291.5 59.0,291.5 61.2,294.9 63.5,296.8 65.7,300.8 68.0,297.7 70.2,297.7 72.4,291.9 74.7,291.9 76.9,282.6 79.2,282.6 81.4,285.5 83.6,285.5 85.9,285.5 88.1,291.2 90.4,294.3 92.6,294.3 94.8,294.3 97.1,294.3 99.3,294.3 101.5,294.3 103.8,294.3 106.0,291.4 108.3,291.4 110.5,291.4 112.7,293.1 115.0,293.2 117.2,294.6 119.5,289.2 121.7,289.2 123.9,289.2 126.2,279.5 128.4,287.5 130.7,287.5 132.9,287.5 135.1,287.5 137.4,294.7 139.6,294.7 141.8,259.0 144.1,259.0 146.3,292.2 148.6,292.2 150.8,292.2 153.0,292.2 155.3,292.2 157.5,281.7 159.8,288.6 162.0,288.6 164.2,287.9 166.5,286.6 168.7,286.6 171.0,289.0 173.2,289.0 175.4,294.0 177.7,292.9 179.9,292.9 182.2,292.9 184.4,292.9 186.6,292.9 188.9,292.9 191.1,291.3 193.3,293.9 195.6,293.9 197.8,293.9 200.1,291.4 202.3,294.9 204.5,296.9 206.8,296.9 209.0,296.4 211.3,288.8 213.5,285.7 215.7,291.4 218.0,298.1 220.2,299.8 222.5,299.8 224.7,292.9 226.9,292.9 229.2,292.9 231.4,292.9 233.7,292.9 235.9,284.0 238.1,284.0 240.4,293.4 242.6,292.7 244.8,296.9 247.1,299.5 249.3,299.5 251.6,271.9 253.8,271.9"/>
<polyline points="29.9,295.0 32.1,302.1 34.4,301.3 36.6,301.3 38.9,301.3 41.1,288.1 43.3,291.9 45.6,291.2 47.8,294.3 50.0,289.2 52.3,289.2 54.5,289.2 56.8,298.1 59.0,295.8 61.2,295.8 63.5,292.6 65.7,292.6 68.0,289.4 70.2,291.8 72.4,291.1 74.7,291.1 76.9,297.1 79.2,297.1 81.4,286.7 83.6,281.5 85.9,281.5 88.1,291.3 90.4,291.3 92.6,291.3 94.8,291.3 97.1,291.3 99.3,291.3 101.5,291.3 103.8,296.6 106.0,291.8 108.3,291.8 110.5,285.8 112.7,285.8 115.0,296.8 117.2,296.8 119.5,286.6 121.7,286.6 123.9,286.6 126.2,294.0 128.4,294.0 130.7,294.0 132.9,297.0 135.1,297.0 137.4,297.0 139.6,273.9 141.8,245.0 144.1,276.5 146.3,291.2 148.6,291.2 150.8,291.2 153.0,290.9 155.3,288.1 157.5,286.5 159.8,286.9 162.0,288.8 164.2,288.8 166.5,293.0 168.7,296.9 171.0,293.5 173.2,288.5 175.4,288.5 177.7,288.5 179.9,292.8 182.2,292.8 184.4,292.8 186.6,296.2 188.9,296.2 191.1,296.2 193.3,296.2 195.6,296.2 197.8,296.2 200.1,291.9 202.3,290.2 204.5,290.2 206.8,286.7 209.0,291.5 211.3,291.9 213.5,291.9 215.7,296.0 218.0,296.0 220.2,296.0 222.5,288.9 224.7,289.4 226.9,294.8 229.2,294.3 231.4,294.3 233.7,289.7 235.9,289.7 238.1,289.7 240.4,289.6 242.6,286.4 244.8,289.6 247.1,289.6 249.3,289.6 251.6,289.6 253.8,287.3"/>
<polyline points="29.9,284.2 32.1,282.4 34.4,287.8 36.6,287.8 38.9,288.2 41.1,288.2 43.3,286.6 45.6,289.4 47.8,289.4 50.0,289.4 52.3,289.4 54.5,286.8 56.8,269.5 59.0,269.5 61.2,276.2 63.5,278.5 65.7,278.5 68.0,283.4 70.2,291.7 72.4,291.4 74.7,291.4 76.9,278.4 79.2,276.9 81.4,284.9 83.6,289.5 85.9,288.0 88.1,288.0 90.4,282.6 92.6,282.6 94.8,282.6 97.1,293.0 99.3,292.0 101.5,292.0 103.8,284.5 106.0,284.5 108.3,286.6 110.5,294.7 112.7,292.6 115.0,290.7 117.2,282.4 119.5,283.6 121.7,283.6 123.9,283.6 126.2,273.4 128.4,289.9 130.7,296.0 132.9,286.8 135.1,281.2 137.4,281.2 139.6,269.8 141.8,242.7 144.1,242.7 146.3,281.3 148.6,293.5 150.8,294.2 153.0,294.2 155.3,284.7 157.5,284.7 159.8,274.8 162.0,274.8 164.2,274.8 166.5,283.3 168.7,289.2 171.0,289.2 173.2,282.0 175.4,284.5 177.7,281.7 179.9,281.7 182.2,287.9 184.4,285.1 186.6,285.1 188.9,285.1 191.1,285.1 193.3,285.1 195.6,285.1 197.8,285.1 200.1,285.1 202.3,281.8 204.5,281.2 206.8,278.9 209.0,278.9 211.3,290.0 213.5,290.0 215.7,289.2 218.0,294.9 220.2,294.9 222.5,294.9 224.7,294.9 226.9,294.9 229.2,294.9 231.4,294.9 233.7,294.9 235.9,280.0 238.1,276.9 240.4,276.9 242.6,279.5 244.8,278.9 247.1,278.9 249.3,278.9 251.6,278.9 253.8,278.9"/>
<polyline points="29.9,283.7 32.1,283.7 34.4,283.7 36.6,283.7 38.9,285.7 41.1,285.7 43.3,289.6 45.6,289.6 47.8,289.6 50.0,289.2 52.3,289.2 54.5,289.2 56.8,286.6 59.0,285.2 61.2,291.7 63.5,291.7 65.7,291.7 68.0,291.7 70.2,291.7 72.4,291.7 74.7,291.7 76.9,284.6 79.2,292.4 81.4,292.4 83.6,289.1 85.9,289.1 88.1,288.6 90.4,290.6 92.6,290.6 94.8,290.6 97.1,290.6 99.3,305.9 101.5,295.9 103.8,295.9 106.0,290.9 108.3,290.9 110.5,288.5 112.7,288.5 115.0,288.0 117.2,288.0 119.5,288.0 121.7,288.0 123.9,293.4 126.2,295.1 128.4,299.8 130.7,299.8 132.9,290.4 135.1,286.4 137.4,286.4 139.6,275.0 141.8,234.9 144.1,259.4 146.3,259.4 148.6,259.4 150.8,278.3 153.0,291.2 155.3,289.2 157.5,289.2 159.8,283.2 162.0,283.2 164.2,283.2 166.5,287.3 168.7,287.3 171.0,287.3 173.2,287.3 175.4,287.3 177.7,288.6 179.9,286.5 182.2,292.6 184.4,292.6 186.6,294.2 188.9,283.6 191.1,283.6 193.3,291.2 195.6,291.2 197.8,290.3 200.1,290.3 202.3,290.9 204.5,286.7 206.8,284.4 209.0,299.3 211.3,299.3 213.5,285.3 215.7,285.4 218.0,283.8 220.2,285.9 222.5,289.6 224.7,291.6 226.9,291.6 229.2,291.6 231.4,291.6 233.7,290.6 235.9,290.6 238.1,289.5 240.4,288.8 242.6,286.9 244.8,284.6 247.1,289.2 249.3,289.2 251.6,289.2 253.8,289.2"/>
<polyline points="29.9,285.4 32.1,285.0 34.4,287.2 36.6,288.9 38.9,296.2 41.1,288.3 43.3,288.3 45.6,288.3 47.8,288.3 50.0,288.3 52.3,288.3 54.5,295.8 56.8,295.8 59.0,295.8 61.2,295.8 63.5,295.4 65.7,290.2 68.0,291.2 70.2,285.2 72.4,292.1 74.7,287.2 76.9,285.0 79.2,285.0 81.4,289.0 83.6,289.0 85.9,289.0 88.1,290.0 90.4,293.9 92.6,293.9 94.8,293.9 97.1,293.9 99.3,299.3 101.5,299.3 103.8,286.8 106.0,286.8 108.3,295.4 110.5,295.4 112.7,288.5 115.0,288.8 117.2,292.8 119.5,292.8 121.7,290.3 123.9,290.3 126.2,290.1 128.4,290.1 130.7,292.4 132.9,292.4 135.1,295.8 137.4,286.9 139.6,286.9 141.8,264.6 144.1,278.4 146.3,276.8 148.6,277.8 150.8,277.8 153.0,290.7 155.3,290.7 157.5,286.9 159.8,286.9 162.0,293.6 164.2,293.6 166.5,293.6 168.7,292.6 171.0,296.7 173.2,296.7 175.4,291.1 177.7,294.0 179.9,292.8 182.2,292.8 184.4,288.9 186.6,290.8 188.9,287.0 191.1,287.0 193.3,290.6 195.6,290.6 197.8,301.0 200.1,301.0 202.3,301.0 204.5,289.2 206.8,289.2 209.0,289.2 211.3,303.2 213.5,294.6 215.7,294.4 218.0,294.4 220.2,294.4 222.5,291.3 224.7,291.3 226.9,291.3 229.2,291.3 231.4,291.3 233.7,291.3 235.9,296.9 238.1,298.9 240.4,298.9 242.6,298.9 244.8,283.4 247.1,283.4 249.3,283.4 251.6,283.4 253.8,294.7"/>
<polyline points="29.9,294.3 32.1,294.3 34.4,278.2 36.6,287.2 38.9,291.9 41.1,287.4 43.3,276.4 45.6,276.4 47.8,276.4 50.0,287.2 52.3,287.2 54.5,287.2 56.8,287.2 59.0,288.1 61.2,285.8 63.5,285.8 65.7,285.8 68.0,294.2 70.2,294.2 72.4,282.9 74.7,282.9 76.9,282.9 79.2,282.9 81.4,281.7 83.6,281.7 85.9,288.6 88.1,288.6 90.4,286.5 92.6,286.5 94.8,281.4 97.1,312.6 99.3,287.2 101.5,289.9 103.8,289.8 106.0,289.8 108.3,289.8 110.5,287.2 112.7,287.2 115.0,283.5 117.2,287.7 119.5,287.7 121.7,287.7 123.9,284.1 126.2,283.1 128.4,283.1 130.7,283.1 132.9,286.8 135.1,286.8 137.4,280.9 139.6,278.9 141.8,258.6 144.1,283.0 146.3,283.0 148.6,293.8 150.8,292.2 153.0,292.2 155.3,294.6 157.5,290.3 159.8,290.3 162.0,287.9 164.2,287.1 166.5,282.3 168.7,285.4 171.0,285.4 173.2,285.4 175.4,285.4 177.7,284.8 179.9,289.8 182.2,289.8 184.4,289.8 186.6,289.8 188.9,277.5 191.1,285.2 193.3,285.2 195.6,288.2 197.8,288.2 200.1,286.4 202.3,286.4 204.5,287.7 206.8,286.8 209.0,289.4 211.3,289.4 213.5,292.3 215.7,292.3 218.0,274.5 220.2,281.5 222.5,281.5 224.7,281.5 226.9,285.7 229.2,291.8 231.4,291.8 233.7,291.8 235.9,291.8 238.1,291.8 240.4,286.3 242.6,286.5 244.8,287.9 247.1,288.6 249.3,286.9 251.6,286.9 253.8,284.6"/>
<polyline points="29.9,289.8 32.1,289.1 34.4,297.4 36.6,286.3 38.9,293.3 41.1,293.3 43.3,289.0 45.6,286.6 47.8,285.9 50.0,295.5 52.3,290.0 54.5,290.0 56.8,290.0 59.0,290.0 61.2,290.0 63.5,290.0 65.7,286.1 68.0,288.0 70.2,288.0 72.4,288.0 74.7,288.0 76.9,288.0 79.2,284.8 81.4,284.8 83.6,284.8 85.9,290.5 88.1,290.5 90.4,296.9 92.6,284.5 94.8,286.8 97.1,286.8 99.3,286.8 101.5,281.2 103.8,285.6 106.0,283.5 108.3,283.5 110.5,293.0 112.7,293.0 115.0,285.5 117.2,285.5 119.5,292.4 121.7,300.2 123.9,300.2 126.2,285.6 128.4,289.5 130.7,289.4 132.9,290.3 135.1,290.3 137.4,290.3 139.6,290.0 141.8,273.1 144.1,284.2 146.3,289.8 148.6,289.8 150.8,293.5 153.0,288.8 155.3,288.8 157.5,293.8 159.8,288.1 162.0,288.1 164.2,288.1 166.5,289.8 168.7,289.8 171.0,289.8 173.2,294.5 175.4,295.6 177.7,287.3 179.9,287.3 182.2,292.3 184.4,282.8 186.6,288.0 188.9,289.0 191.1,287.5 193.3,287.5 195.6,292.6 197.8,292.6 200.1,292.6 202.3,292.6 204.5,292.6 206.8,292.6 209.0,292.6 211.3,278.1 213.5,291.8 215.7,284.1 218.0,294.5 220.2,294.5 222.5,294.5 224.7,298.8 226.9,298.8 229.2,298.8 231.4,298.8 233.7,298.8 235.9,288.2 238.1,288.2 240.4,288.2 242.6,290.2 244.8,279.9 247.1,284.1 249.3,292.1 251.6,285.0 253.8,285.0"/>
<polyline points="29.9,279.1 32.1,281.8 34.4,281.8 36.6,289.0 38.9,285.4 41.1,285.4 43.3,285.4 45.6,285.4 47.8,289.5 50.0,286.3 52.3,286.3 54.5,303.0 56.8,303.0 59.0,284.0 61.2,286.7 63.5,286.7 65.7,283.5 68.0,283.5 70.2,283.5 72.4,283.5 74.7,283.5 76.9,283.5 79.2,283.5 81.4,283.5 83.6,286.2 85.9,286.1 88.1,287.6 90.4,287.6 92.6,287.6 94.8,288.2 97.1,290.1 99.3,291.9 101.5,292.0 103.8,287.7 106.0,287.0 108.3,287.0 110.5,287.0 112.7,286.3 115.0,286.3 117.2,285.0 119.5,285.0 121.7,288.1 123.9,286.6 126.2,289.9 128.4,289.5 130.7,285.0 132.9,285.0 135.1,275.2 137.4,273.5 139.6,273.5 141.8,218.7 144.1,246.4 146.3,255.9 148.6,262.5 150.8,262.5 153.0,273.4 155.3,278.4 157.5,281.8 159.8,286.5 162.0,286.5 164.2,288.0 166.5,289.0 168.7,289.0 171.0,290.0 173.2,290.0 175.4,288.5 177.7,286.6 179.9,286.6 182.2,286.6 184.4,291.4 186.6,290.5 188.9,288.9 191.1,282.9 193.3,278.7 195.6,278.7 197.8,278.7 200.1,300.9 202.3,300.9 204.5,288.4 206.8,288.4 209.0,284.8 211.3,284.8 213.5,284.8 215.7,284.8 218.0,284.8 220.2,284.3 222.5,284.3 224.7,284.3 226.9,284.3 229.2,284.3 231.4,280.6 233.7,282.1 235.9,284.7 238.1,284.3 240.4,284.3 242.6,283.2 244.8,283.2 247.1,283.2 249.3,285.9 251.6,285.9 253.8,284.6"/>
<polyline points="29.9,292.0 32.1,294.4 34.4,291.1 36.6,290.2 38.9,290.2 41.1,290.2 43.3,287.8 45.6,287.8 47.8,287.8 50.0,287.8 52.3,291.7 54.5,289.9 56.8,290.2 59.0,290.2 61.2,295.3 63.5,290.7 65.7,290.7 68.0,290.4 70.2,291.2 72.4,293.5 74.7,295.4 76.9,295.4 79.2,297.3 81.4,297.8 83.6,298.2 85.9,291.2 88.1,285.4 90.4,285.4 92.6,291.0 94.8,294.8 97.1,294.8 99.3,292.0 101.5,286.4 103.8,289.9 106.0,289.9 108.3,298.9 110.5,295.3 112.7,298.2 115.0,298.2 117.2,292.8 119.5,292.8 121.7,292.8 123.9,292.8 126.2,288.8 128.4,281.1 130.7,291.5 132.9,291.5 135.1,296.0 137.4,294.1 139.6,282.9 141.8,257.2 144.1,275.3 146.3,275.3 148.6,286.3 150.8,286.3 153.0,286.3 155.3,286.3 157.5,286.3 159.8,286.3 162.0,286.3 164.2,289.4 166.5,290.7 168.7,290.6 171.0,289.9 173.2,289.9 175.4,281.7 177.7,285.9 179.9,285.9 182.2,285.9 184.4,279.8 186.6,279.8 188.9,288.8 191.1,288.9 193.3,288.9 195.6,288.9 197.8,290.9 200.1,290.9 202.3,290.9 204.5,286.3 206.8,284.9 209.0,290.7 211.3,290.7 213.5,290.7 215.7,290.7 218.0,288.2 220.2,299.5 222.5,299.5 224.7,296.5 226.9,296.5 229.2,290.1 231.4,290.1 233.7,290.1 235.9,290.1 238.1,290.1 240.4,289.9 242.6,292.3 244.8,292.3 247.1,292.3 249.3,289.7 251.6,293.9 253.8,293.9"/>
<polyline points="29.9,295.9 32.1,290.7 34.4,290.7 36.6,290.7 38.9,290.5 41.1,290.5 43.3,295.5 45.6,287.4 47.8,299.4 50.0,289.9 52.3,289.9 54.5,289.9 56.8,289.9 59.0,289.9 61.2,296.5 63.5,296.5 65.7,298.7 68.0,289.8 70.2,289.8 72.4,293.2 74.7,291.2 76.9,291.2 79.2,287.3 81.4,287.3 83.6,287.3 85.9,298.4 88.1,293.8 90.4,284.7 92.6,284.7 94.8,300.5 97.1,300.5 99.3,300.5 101.5,290.9 103.8,295.3 106.0,295.3 108.3,295.3 110.5,289.0 112.7,290.8 115.0,290.8 117.2,297.8 119.5,289.3 121.7,290.0 123.9,290.0 126.2,294.1 128.4,289.9 130.7,283.5 132.9,284.8 135.1,281.7 137.4,281.7 139.6,271.9 141.8,238.2 144.1,264.1 146.3,272.6 148.6,288.5 150.8,288.5 153.0,290.7 155.3,290.7 157.5,293.5 159.8,278.0 162.0,278.0 164.2,286.7 166.5,290.4 168.7,287.0 171.0,281.9 173.2,281.9 175.4,294.5 177.7,294.5 179.9,297.0 182.2,295.5 184.4,291.6 186.6,291.6 188.9,293.0 191.1,297.0 193.3,297.3 195.6,297.3 197.8,294.2 200.1,294.2 202.3,294.2 204.5,294.2 206.8,294.2 209.0,293.0 211.3,293.2 213.5,294.0 215.7,294.0 218.0,294.1 220.2,286.3 222.5,291.6 224.7,291.6 226.9,284.2 229.2,292.7 231.4,292.7 233.7,294.8 235.9,295.8 238.1,287.5 240.4,287.4 242.6,288.9 244.8,290.4 247.1,290.4 249.3,290.4 251.6,295.8 253.8,294.9"/>
<polyline points="29.9,292.5 32.1,292.5 34.4,282.1 36.6,282.1 38.9,281.0 41.1,281.0 43.3,292.9 45.6,293.2 47.8,293.2 50.0,286.9 52.3,286.9 54.5,280.7 56.8,294.2 59.0,289.6 61.2,283.8 63.5,283.8 65.7,283.8 68.0,283.8 70.2,283.8 72.4,287.7 74.7,287.7 76.9,288.3 79.2,288.3 81.4,289.2 83.6,288.5 85.9,288.4 88.1,292.4 90.4,296.9 92.6,295.0 94.8,294.2 97.1,294.2 99.3,294.2 101.5,295.3 103.8,291.9 106.0,291.9 108.3,291.9 110.5,286.8 112.7,286.8 115.0,290.9 117.2,290.9 119.5,290.9 121.7,289.0 123.9,289.8 126.2,289.8 128.4,286.6 130.7,286.6 132.9,286.6 135.1,285.8 137.4,286.2 139.6,286.2 141.8,261.3 144.1,281.5 146.3,281.5 148.6,281.5 150.8,287.7 153.0,289.1 155.3,289.1 157.5,284.7 159.8,284.5 162.0,286.6 164.2,286.9 166.5,286.9 168.7,286.9 171.0,286.9 173.2,285.7 175.4,288.4 177.7,288.4 179.9,288.4 182.2,294.8 184.4,294.8 186.6,286.8 188.9,286.4 191.1,286.4 193.3,286.4 195.6,286.4 197.8,288.2 200.1,293.4 202.3,292.4 204.5,292.4 206.8,286.1 209.0,286.1 211.3,286.1 213.5,286.1 215.7,288.1 218.0,289.8 220.2,289.6 222.5,290.2 224.7,292.2 226.9,296.0 229.2,296.0 231.4,296.0 233.7,291.5 235.9,291.5 238.1,292.8 240.4,292.8 242.6,292.7 244.8,292.7 247.1,295.0 249.3,295.0 251.6,288.4 253.8,288.4"/>
<polyline points="29.9,298.7 32.1,292.0 34.4,293.5 36.6,298.1 38.9,294.7 41.1,294.7 43.3,291.3 45.6,291.3 47.8,290.1 50.0,290.1 52.3,286.6 54.5,286.6 56.8,287.3 59.0,287.3 61.2,292.8 63.5,289.6 65.7,289.6 68.0,289.6 70.2,289.6 72.4,289.6 74.7,289.6 76.9,290.3 79.2,290.3 81.4,290.0 83.6,284.5 85.9,284.1 88.1,284.1 90.4,284.1 92.6,291.9 94.8,290.5 97.1,289.6 99.3,289.6 101.5,292.7 103.8,293.8 106.0,293.8 108.3,287.6 110.5,282.0 112.7,282.0 115.0,282.0 117.2,283.6 119.5,287.0 121.7,287.0 123.9,293.7 126.2,289.9 128.4,293.4 130.7,293.4 132.9,293.4 135.1,287.5 137.4,287.0 139.6,287.0 141.8,257.9 144.1,272.8 146.3,272.8 148.6,287.0 150.8,292.9 153.0,292.9 155.3,292.9 157.5,287.9 159.8,287.5 162.0,287.5 164.2,289.8 166.5,292.6 168.7,291.2 171.0,291.2 173.2,291.2 175.4,291.2 177.7,293.1 179.9,284.9 182.2,284.9 184.4,291.1 186.6,288.9 188.9,286.6 191.1,287.7 193.3,290.0 195.6,290.0 197.8,290.0 200.1,290.0 202.3,290.0 204.5,293.3 206.8,291.6 209.0,291.6 211.3,292.3 213.5,288.6 215.7,290.1 218.0,287.4 220.2,292.3 222.5,292.3 224.7,292.3 226.9,283.8 229.2,283.8 231.4,283.8 233.7,283.8 235.9,295.9 238.1,297.2 240.4,297.2 242.6,297.2 244.8,297.2 247.1,286.9 249.3,293.4 251.6,293.4 253.8,294.4"/>
<polyline points="29.9,293.2 32.1,294.4 34.4,294.4 36.6,294.4 38.9,289.6 41.1,289.6 43.3,289.6 45.6,289.6 47.8,289.6 50.0,289.6 52.3,289.6 54.5,289.6 56.8,287.3 59.0,294.0 61.2,290.2 63.5,290.2 65.7,289.8 68.0,296.4 70.2,299.4 72.4,299.4 74.7,294.5 76.9,296.1 79.2,296.1 81.4,291.0 83.6,291.0 85.9,291.0 88.1,288.7 90.4,288.7 92.6,292.2 94.8,292.2 97.1,292.6 99.3,291.9 101.5,291.9 103.8,295.4 106.0,296.4 108.3,289.0 110.5,289.0 112.7,289.0 115.0,291.2 117.2,295.5 119.5,295.5 121.7,295.5 123.9,292.9 126.2,292.9 128.4,292.9 130.7,285.8 132.9,285.8 135.1,288.9 137.4,280.3 139.6,267.6 141.8,240.8 144.1,254.7 146.3,254.7 148.6,267.9 150.8,280.2 153.0,286.9 155.3,286.9 157.5,293.3 159.8,293.3 162.0,294.0 164.2,294.0 166.5,294.0 168.7,295.7 171.0,295.7 173.2,295.7 175.4,295.7 177.7,289.8 179.9,286.9 182.2,286.9 184.4,286.9 186.6,291.9 188.9,285.1 191.1,285.1 193.3,285.1 195.6,288.9 197.8,289.4 200.1,290.9 202.3,290.9 204.5,290.9 206.8,290.9 209.0,290.9 211.3,290.9 213.5,299.9 215.7,296.3 218.0,296.3 220.2,293.3 222.5,289.3 224.7,289.3 226.9,292.8 229.2,298.8 231.4,298.8 233.7,295.1 235.9,287.1 238.1,284.7 240.4,288.7 242.6,288.7 244.8,285.2 247.1,287.1 249.3,294.8 251.6,294.8 253.8,294.8"/>
<polyline points="29.9,290.9 32.1,290.2 34.4,290.2 36.6,289.6 38.9,285.3 41.1,288.8 43.3,288.8 45.6,293.4 47.8,294.1 50.0,289.9 52.3,292.6 54.5,292.6 56.8,290.1 59.0,290.1 61.2,290.1 63.5,290.1 65.7,290.1 68.0,295.8 70.2,292.4 72.4,292.4 74.7,292.4 76.9,288.3 79.2,290.4 81.4,296.5 83.6,298.0 85.9,298.0 88.1,298.0 90.4,289.6 92.6,289.6 94.8,295.6 97.1,295.6 99.3,294.4 101.5,293.8 103.8,293.8 106.0,293.8 108.3,293.8 110.5,293.8 112.7,293.4 115.0,288.4 117.2,288.4 119.5,288.4 121.7,295.5 123.9,294.6 126.2,287.2 128.4,291.4 130.7,291.4 132.9,288.0 135.1,288.0 137.4,264.5 139.6,262.1 141.8,235.7 144.1,235.7 146.3,273.6 148.6,273.6 150.8,287.5 153.0,287.5 155.3,287.1 157.5,281.1 159.8,281.1 162.0,281.1 164.2,288.5 166.5,292.0 168.7,290.8 171.0,290.8 173.2,297.0 175.4,289.5 177.7,281.6 179.9,290.5 182.2,290.5 184.4,290.5 186.6,282.5 188.9,282.5 191.1,282.5 193.3,282.5 195.6,287.4 197.8,284.0 200.1,298.9 202.3,293.5 204.5,293.5 206.8,293.5 209.0,293.5 211.3,289.6 213.5,289.6 215.7,289.6 218.0,290.6 220.2,291.5 222.5,291.5 224.7,287.9 226.9,287.9 229.2,292.0 231.4,292.0 233.7,292.0 235.9,307.0 238.1,291.3 240.4,291.3 242.6,291.3 244.8,289.0 247.1,289.1 249.3,289.1 251.6,288.0 253.8,288.0"/>
<polyline points="29.9,284.2 32.1,291.5 34.4,291.6 36.6,285.4 38.9,289.3 41.1,290.3 43.3,289.0 45.6,292.4 47.8,294.5 50.0,312.3 52.3,312.3 54.5,312.3 56.8,288.6 59.0,288.6 61.2,283.6 63.5,286.4 65.7,291.2 68.0,291.2 70.2,291.2 72.4,291.2 74.7,291.2 76.9,296.8 79.2,296.8 81.4,289.2 83.6,289.2 85.9,289.2 88.1,298.1 90.4,300.3 92.6,300.3 94.8,299.4 97.1,299.4 99.3,291.4 101.5,288.9 103.8,295.5 106.0,295.5 108.3,294.3 110.5,294.3 112.7,294.3 115.0,294.3 117.2,294.3 119.5,291.9 121.7,291.9 123.9,289.8 126.2,288.6 128.4,288.6 130.7,288.6 132.9,278.9 135.1,285.6 137.4,293.0 139.6,275.3 141.8,221.7 144.1,221.7 146.3,221.7 148.6,221.7 150.8,221.7 153.0,221.7 155.3,221.7 157.5,291.1 159.8,291.1 162.0,289.1 164.2,289.1 166.5,289.1 168.7,289.1 171.0,296.4 173.2,292.1 175.4,286.6 177.7,289.6 179.9,296.1 182.2,296.1 184.4,299.2 186.6,299.2 188.9,287.1 191.1,286.1 193.3,286.1 195.6,286.1 197.8,286.1 200.1,281.8 202.3,279.3 204.5,288.5 206.8,288.5 209.0,292.3 211.3,286.4 213.5,286.4 215.7,286.4 218.0,295.7 220.2,290.1 222.5,290.1 224.7,284.9 226.9,284.9 229.2,284.9 231.4,284.9 233.7,292.8 235.9,292.8 238.1,293.5 240.4,293.5 242.6,293.5 244.8,292.2 247.1,293.8 249.3,293.8 251.6,293.8 253.8,290.4"/>
<polyline points="29.9,294.5 32.1,294.5 34.4,283.6 36.6,283.6 38.9,287.5 41.1,287.5 43.3,278.0 45.6,290.2 47.8,288.0 50.0,281.7 52.3,281.7 54.5,297.4 56.8,297.4 59.0,294.5 61.2,289.7 63.5,287.7 65.7,283.0 68.0,282.0 70.2,282.0 72.4,290.6 74.7,290.3 76.9,290.3 79.2,290.3 81.4,290.9 83.6,289.9 85.9,294.1 88.1,291.5 90.4,291.5 92.6,291.5 94.8,291.5 97.1,291.5 99.3,291.5 101.5,291.5 103.8,287.8 106.0,286.2 108.3,286.2 110.5,286.2 112.7,292.1 115.0,292.1 117.2,286.1 119.5,286.1 121.7,284.3 123.9,287.2 126.2,287.3 128.4,292.1 130.7,282.6 132.9,292.0 135.1,292.0 137.4,292.0 139.6,284.1 141.8,272.3 144.1,272.3 146.3,272.3 148.6,286.4 150.8,295.0 153.0,289.1 155.3,293.7 157.5,293.7 159.8,284.5 162.0,284.5 164.2,284.5 166.5,291.3 168.7,283.1 171.0,288.3 173.2,291.8 175.4,286.0 177.7,286.0 179.9,287.6 182.2,287.6 184.4,278.7 186.6,290.0 188.9,290.0 191.1,287.8 193.3,293.4 195.6,288.7 197.8,288.7 200.1,291.7 202.3,295.0 204.5,283.3 206.8,283.3 209.0,294.7 211.3,289.2 213.5,294.2 215.7,289.8 218.0,291.7 220.2,291.7 222.5,291.7 224.7,282.7 226.9,289.0 229.2,289.0 231.4,289.0 233.7,289.7 235.9,291.1 238.1,291.1 240.4,291.1 242.6,291.1 244.8,289.8 247.1,290.9 249.3,285.0 251.6,288.6 253.8,288.6"/>
<polyline points="29.9,287.6 32.1,297.2 34.4,293.5 36.6,293.5 38.9,293.5 41.1,289.7 43.3,289.7 45.6,289.7 47.8,289.7 50.0,289.7 52.3,285.7 54.5,288.2 56.8,294.4 59.0,294.4 61.2,294.4 63.5,294.4 65.7,285.1 68.0,286.5 70.2,292.8 72.4,292.8 74.7,292.8 76.9,286.0 79.2,286.3 81.4,294.0 83.6,290.4 85.9,295.6 88.1,292.8 90.4,292.8 92.6,292.8 94.8,283.3 97.1,283.3 99.3,295.7 101.5,295.7 103.8,291.3 106.0,291.3 108.3,297.7 110.5,300.4 112.7,296.6 115.0,296.6 117.2,295.3 119.5,287.2 121.7,287.2 123.9,287.4 126.2,287.4 128.4,287.4 130.7,289.6 132.9,289.6 135.1,289.6 137.4,289.6 139.6,289.6 141.8,268.6 144.1,288.3 146.3,288.3 148.6,292.9 150.8,292.9 153.0,294.7 155.3,289.2 157.5,289.2 159.8,289.2 162.0,289.2 164.2,289.2 166.5,288.8 168.7,288.8 171.0,288.8 173.2,288.8 175.4,288.8 177.7,288.8 179.9,289.0 182.2,283.0 184.4,283.0 186.6,283.0 188.9,277.9 191.1,289.3 193.3,289.3 195.6,297.7 197.8,297.7 200.1,297.7 202.3,297.7 204.5,297.7 206.8,299.1 209.0,299.1 211.3,299.1 213.5,291.8 215.7,288.5 218.0,288.5 220.2,290.0 222.5,290.0 224.7,289.1 226.9,293.5 229.2,294.6 231.4,297.5 233.7,291.2 235.9,294.2 238.1,294.2 240.4,294.2 242.6,294.2 244.8,294.2 247.1,289.4 249.3,289.4 251.6,289.4 253.8,289.7"/>
<polyline points="29.9,291.6 32.1,293.3 34.4,293.3 36.6,293.3 38.9,295.9 41.1,295.9 43.3,294.8 45.6,294.8 47.8,293.2 50.0,293.6 52.3,292.3 54.5,294.3 56.8,294.3 59.0,294.3 61.2,293.2 63.5,296.9 65.7,296.9 68.0,296.9 70.2,290.9 72.4,289.3 74.7,289.3 76.9,290.2 79.2,290.2 81.4,290.2 83.6,288.1 85.9,286.3 88.1,286.3 90.4,286.3 92.6,293.6 94.8,295.0 97.1,304.7 99.3,296.7 101.5,296.7 103.8,296.7 106.0,286.1 108.3,280.9 110.5,280.9 112.7,280.9 115.0,307.0 117.2,307.0 119.5,297.1 121.7,288.8 123.9,293.4 126.2,293.4 128.4,293.4 130.7,293.4 132.9,291.2 135.1,288.2 137.4,288.2 139.6,288.2 141.8,258.9 144.1,258.9 146.3,258.9 148.6,258.9 150.8,288.9 153.0,291.3 155.3,291.3 157.5,291.4 159.8,291.1 162.0,293.6 164.2,293.6 166.5,288.9 168.7,320.4 171.0,320.4 173.2,294.5 175.4,291.7 177.7,294.6 179.9,293.5 182.2,290.1 184.4,292.6 186.6,292.6 188.9,290.1 191.1,290.1 193.3,290.1 195.6,290.1 197.8,290.1 200.1,290.1 202.3,290.1 204.5,293.4 206.8,293.0 209.0,298.5 211.3,298.5 213.5,292.7 215.7,292.7 218.0,292.7 220.2,292.7 222.5,292.5 224.7,292.5 226.9,292.5 229.2,291.8 231.4,291.8 233.7,291.8 235.9,296.9 238.1,291.1 240.4,291.1 242.6,291.1 244.8,294.2 247.1,298.0 249.3,299.0 251.6,291.5 253.8,291.5"/>
<polyline points="29.9,298.5 32.1,304.9 34.4,304.9 36.6,298.0 38.9,298.0 41.1,294.5 43.3,301.1 45.6,295.0 47.8,292.3 50.0,284.0 52.3,284.0 54.5,286.5 56.8,286.5 59.0,292.5 61.2,292.5 63.5,290.8 65.7,290.8 68.0,290.8 70.2,290.8 72.4,291.4 74.7,291.4 76.9,299.2 79.2,299.2 81.4,292.1 83.6,290.6 85.9,289.1 88.1,284.0 90.4,284.0 92.6,297.4 94.8,297.4 97.1,297.4 99.3,297.4 101.5,297.4 103.8,297.4 106.0,297.4 108.3,302.2 110.5,298.0 112.7,291.7 115.0,291.7 117.2,290.5 119.5,290.5 121.7,285.6 123.9,283.3 126.2,283.3 128.4,284.3 130.7,286.5 132.9,286.5 135.1,297.1 137.4,297.1 139.6,271.9 141.8,244.5 144.1,255.8 146.3,255.8 148.6,255.8 150.8,255.8 153.0,255.8 155.3,294.0 157.5,294.0 159.8,289.0 162.0,289.0 164.2,305.0 166.5,298.9 168.7,293.1 171.0,293.1 173.2,293.1 175.4,293.1 177.7,293.1 179.9,286.9 182.2,286.9 184.4,289.5 186.6,289.5 188.9,289.5 191.1,289.4 193.3,289.4 195.6,285.6 197.8,285.6 200.1,301.9 202.3,301.9 204.5,301.9 206.8,295.9 209.0,295.9 211.3,295.9 213.5,285.9 215.7,289.2 218.0,293.3 220.2,293.3 222.5,293.3 224.7,293.3 226.9,290.5 229.2,291.6 231.4,291.6 233.7,293.8 235.9,295.1 238.1,293.1 240.4,293.1 242.6,293.1 244.8,285.4 247.1,285.0 249.3,285.0 251.6,285.0 253.8,299.6"/>
<polyline points="29.9,295.2 32.1,291.0 34.4,291.0 36.6,286.1 38.9,291.5 41.1,299.4 43.3,293.7 45.6,293.7 47.8,285.2 50.0,285.2 52.3,285.2 54.5,282.8 56.8,282.8 59.0,282.8 61.2,282.8 63.5,282.8 65.7,282.8 68.0,282.8 70.2,287.5 72.4,287.5 74.7,283.8 76.9,286.4 79.2,285.2 81.4,283.9 83.6,292.2 85.9,291.4 88.1,285.8 90.4,285.8 92.6,285.8 94.8,285.8 97.1,285.8 99.3,292.9 101.5,290.1 103.8,291.3 106.0,291.3 108.3,291.3 110.5,289.4 112.7,289.4 115.0,291.7 117.2,290.9 119.5,296.4 121.7,296.4 123.9,294.5 126.2,284.5 128.4,284.5 130.7,294.0 132.9,302.1 135.1,299.8 137.4,299.8 139.6,299.8 141.8,218.9 144.1,218.9 146.3,259.7 148.6,270.3 150.8,273.4 153.0,273.4 155.3,273.4 157.5,293.6 159.8,290.3 162.0,289.8 164.2,289.8 166.5,289.8 168.7,300.2 171.0,300.2 173.2,287.6 175.4,287.6 177.7,289.3 179.9,286.0 182.2,284.1 184.4,291.8 186.6,283.3 188.9,278.0 191.1,282.0 193.3,289.8 195.6,288.1 197.8,288.1 200.1,297.0 202.3,296.5 204.5,294.8 206.8,293.6 209.0,293.6 211.3,300.2 213.5,303.4 215.7,296.1 218.0,286.8 220.2,286.8 222.5,286.8 224.7,286.8 226.9,286.8 229.2,292.0 231.4,289.2 233.7,285.7 235.9,285.7 238.1,285.7 240.4,287.9 242.6,287.9 244.8,295.0 247.1,293.7 249.3,293.7 251.6,293.7 253.8,292.5"/>
<polyline points="29.9,288.0 32.1,287.0 34.4,287.5 36.6,288.9 38.9,288.9 41.1,282.7 43.3,284.8 45.6,284.8 47.8,289.0 50.0,289.0 52.3,289.0 54.5,288.4 56.8,289.0 59.0,289.0 61.2,288.8 63.5,293.9 65.7,293.9 68.0,287.5 70.2,287.5 72.4,289.2 74.7,289.2 76.9,293.6 79.2,293.6 81.4,293.6 83.6,294.6 85.9,294.6 88.1,294.6 90.4,292.3 92.6,292.3 94.8,292.3 97.1,292.3 99.3,292.1 101.5,287.9 103.8,286.2 106.0,286.2 108.3,288.5 110.5,285.8 112.7,285.8 115.0,285.8 117.2,296.1 119.5,289.7 121.7,289.7 123.9,293.8 126.2,293.8 128.4,293.8 130.7,291.6 132.9,287.0 135.1,290.1 137.4,290.1 139.6,290.1 141.8,223.3 144.1,223.3 146.3,223.3 148.6,286.8 150.8,286.8 153.0,281.9 155.3,289.5 157.5,295.1 159.8,295.1 162.0,285.8 164.2,283.1 166.5,283.1 168.7,283.1 171.0,283.1 173.2,283.1 175.4,283.1 177.7,290.8 179.9,287.3 182.2,293.5 184.4,298.4 186.6,294.2 188.9,293.1 191.1,289.8 193.3,289.8 195.6,302.2 197.8,302.2 200.1,302.2 202.3,295.6 204.5,295.6 206.8,295.6 209.0,292.0 211.3,292.0 213.5,286.7 215.7,287.1 218.0,287.1 220.2,292.0 222.5,292.0 224.7,291.6 226.9,291.6 229.2,289.7 231.4,289.7 233.7,289.7 235.9,291.2 238.1,291.2 240.4,291.5 242.6,291.5 244.8,291.5 247.1,292.6 249.3,292.6 251.6,294.5 253.8,287.7"/>
<polyline points="29.9,290.1 32.1,288.3 34.4,288.3 36.6,289.6 38.9,290.8 41.1,293.5 43.3,293.5 45.6,293.5 47.8,286.6 50.0,291.5 52.3,291.5 54.5,280.4 56.8,280.4 59.0,290.6 61.2,289.2 63.5,289.2 65.7,289.2 68.0,288.1 70.2,293.8 72.4,293.8 74.7,293.8 76.9,293.8 79.2,293.8 81.4,295.8 83.6,295.8 85.9,288.9 88.1,289.8 90.4,285.3 92.6,290.0 94.8,292.1 97.1,292.1 99.3,292.1 101.5,292.1 103.8,291.0 106.0,286.8 108.3,289.1 110.5,291.7 112.7,291.7 115.0,291.7 117.2,291.0 119.5,293.3 121.7,295.2 123.9,295.2 126.2,288.8 128.4,288.8 130.7,284.2 132.9,279.0 135.1,279.0 137.4,261.3 139.6,261.3 141.8,270.2 144.1,270.2 146.3,289.4 148.6,289.4 150.8,289.4 153.0,290.4 155.3,290.4 157.5,291.7 159.8,291.7 162.0,292.1 164.2,291.5 166.5,291.5 168.7,294.5 171.0,297.6 173.2,297.6 175.4,297.6 177.7,297.6 179.9,297.6 182.2,287.6 184.4,287.6 186.6,287.6 188.9,287.6 191.1,299.5 193.3,297.1 195.6,287.8 197.8,287.8 200.1,289.1 202.3,289.1 204.5,289.1 206.8,284.7 209.0,284.7 211.3,295.9 213.5,298.6 215.7,291.3 218.0,291.0 220.2,294.1 222.5,293.8 224.7,291.2 226.9,288.2 229.2,288.2 231.4,288.2 233.7,288.2 235.9,291.2 238.1,291.2 240.4,291.2 242.6,291.6 244.8,283.2 247.1,284.4 249.3,284.4 251.6,288.7 253.8,289.4"/>
<polyline points="29.9,283.5 32.1,283.5 34.4,292.7 36.6,290.3 38.9,290.3 41.1,290.3 43.3,290.3 45.6,300.1 47.8,300.1 50.0,296.8 52.3,296.8 54.5,300.6 56.8,300.6 59.0,284.2 61.2,284.2 63.5,287.1 65.7,287.1 68.0,299.9 70.2,299.9 72.4,291.2 74.7,291.2 76.9,292.9 79.2,292.9 81.4,292.9 83.6,289.4 85.9,289.4 88.1,294.1 90.4,294.1 92.6,294.1 94.8,291.4 97.1,290.1 99.3,291.6 101.5,291.6 103.8,291.6 106.0,291.6 108.3,291.4 110.5,296.1 112.7,296.1 115.0,288.3 117.2,288.3 119.5,301.0 121.7,289.8 123.9,289.8 126.2,289.6 128.4,294.0 130.7,289.2 132.9,289.2 135.1,289.2 137.4,293.4 139.6,292.1 141.8,257.6 144.1,257.6 146.3,257.6 148.6,302.8 150.8,302.8 153.0,294.8 155.3,294.8 157.5,294.6 159.8,291.3 162.0,291.4 164.2,291.4 166.5,293.0 168.7,290.3 171.0,290.3 173.2,290.7 175.4,291.3 177.7,291.9 179.9,288.4 182.2,288.4 184.4,296.2 186.6,296.2 188.9,296.2 191.1,289.2 193.3,294.5 195.6,294.5 197.8,297.3 200.1,301.9 202.3,297.2 204.5,297.2 206.8,299.9 209.0,299.2 211.3,293.1 213.5,295.2 215.7,295.2 218.0,295.2 220.2,295.2 222.5,295.2 224.7,295.2 226.9,295.2 229.2,291.0 231.4,295.9 233.7,289.4 235.9,289.4 238.1,289.4 240.4,292.5 242.6,292.6 244.8,290.1 247.1,290.1 249.3,290.1 251.6,290.1 253.8,290.1"/>
<polyline points="29.9,292.0 32.1,296.7 34.4,296.7 36.6,290.2 38.9,287.3 41.1,287.3 43.3,287.3 45.6,290.4 47.8,290.4 50.0,290.4 52.3,290.4 54.5,291.9 56.8,287.8 59.0,284.6 61.2,284.6 63.5,297.1 65.7,291.7 68.0,289.6 70.2,286.9 72.4,286.9 74.7,286.9 76.9,291.9 79.2,291.9 81.4,291.9 83.6,285.4 85.9,285.4 88.1,285.4 90.4,297.3 92.6,297.6 94.8,293.3 97.1,293.3 99.3,293.3 101.5,293.3 103.8,289.1 106.0,284.5 108.3,284.5 110.5,292.5 112.7,291.6 115.0,294.0 117.2,294.0 119.5,281.8 121.7,286.5 123.9,289.5 126.2,289.5 128.4,289.5 130.7,288.2 132.9,283.4 135.1,283.4 137.4,283.4 139.6,273.0 141.8,250.3 144.1,268.7 146.3,268.7 148.6,268.7 150.8,283.9 153.0,293.3 155.3,296.0 157.5,296.0 159.8,296.0 162.0,289.2 164.2,289.2 166.5,290.6 168.7,290.6 171.0,290.6 173.2,320.7 175.4,295.2 177.7,286.7 179.9,286.7 182.2,286.7 184.4,290.0 186.6,290.0 188.9,290.0 191.1,293.7 193.3,296.1 195.6,289.7 197.8,292.9 200.1,292.9 202.3,290.2 204.5,296.0 206.8,296.0 209.0,296.0 211.3,293.0 213.5,284.0 215.7,284.0 218.0,284.0 220.2,284.0 222.5,284.0 224.7,286.7 226.9,286.7 229.2,286.7 231.4,286.7 233.7,286.7 235.9,286.7 238.1,292.0 240.4,288.4 242.6,288.4 244.8,293.9 247.1,293.9 249.3,297.7 251.6,292.5 253.8,296.4"/>
<polyline points="29.9,292.5 32.1,292.4 34.4,300.7 36.6,300.7 38.9,295.6 41.1,292.3 43.3,290.2 45.6,292.4 47.8,289.7 50.0,295.1 52.3,295.1 54.5,295.1 56.8,291.3 59.0,291.3 61.2,287.5 63.5,284.8 65.7,284.8 68.0,284.8 70.2,289.7 72.4,287.0 74.7,295.1 76.9,299.9 79.2,299.9 81.4,286.0 83.6,291.7 85.9,292.5 88.1,296.5 90.4,296.5 92.6,296.5 94.8,296.5 97.1,291.3 99.3,295.8 101.5,295.8 103.8,287.0 106.0,294.7 108.3,294.7 110.5,294.7 112.7,288.4 115.0,288.4 117.2,298.2 119.5,296.2 121.7,296.2 123.9,296.2 126.2,295.5 128.4,292.1 130.7,296.7 132.9,293.3 135.1,288.8 137.4,289.1 139.6,289.1 141.8,239.7 144.1,285.8 146.3,285.8 148.6,285.8 150.8,285.8 153.0,292.2 155.3,292.2 157.5,299.0 159.8,299.0 162.0,299.0 164.2,299.0 166.5,298.6 168.7,294.0 171.0,299.1 173.2,287.8 175.4,287.8 177.7,290.3 179.9,290.3 182.2,297.1 184.4,284.8 186.6,284.8 188.9,295.1 191.1,300.3 193.3,288.3 195.6,295.9 197.8,292.3 200.1,292.3 202.3,286.8 204.5,286.8 206.8,291.6 209.0,289.3 211.3,289.3 213.5,289.3 215.7,293.4 218.0,293.4 220.2,291.3 222.5,291.3 224.7,291.3 226.9,292.9 229.2,292.9 231.4,297.9 233.7,297.9 235.9,297.9 238.1,297.9 240.4,297.9 242.6,297.9 244.8,289.1 247.1,287.9 249.3,287.9 251.6,303.2 253.8,294.6"/>
<polyline points="29.9,289.9 32.1,289.9 34.4,289.9 36.6,292.1 38.9,292.1 41.1,300.4 43.3,300.4 45.6,300.4 47.8,300.4 50.0,294.3 52.3,294.3 54.5,295.6 56.8,295.6 59.0,295.6 61.2,295.3 63.5,299.3 65.7,291.3 68.0,291.3 70.2,286.2 72.4,284.3 74.7,284.3 76.9,288.7 79.2,287.3 81.4,287.3 83.6,289.4 85.9,291.9 88.1,290.2 90.4,289.7 92.6,294.8 94.8,297.5 97.1,297.5 99.3,291.6 101.5,291.3 103.8,290.7 106.0,290.7 108.3,301.2 110.5,300.3 112.7,298.0 115.0,298.0 117.2,298.0 119.5,295.0 121.7,295.0 123.9,293.9 126.2,293.9 128.4,293.9 130.7,293.3 132.9,292.9 135.1,284.2 137.4,247.7 139.6,236.5 141.8,219.6 144.1,219.6 146.3,259.7 148.6,291.3 150.8,291.3 153.0,289.0 155.3,290.1 157.5,294.2 159.8,294.7 162.0,294.7 164.2,294.7 166.5,292.7 168.7,291.0 171.0,287.2 173.2,290.9 175.4,290.9 177.7,290.9 179.9,290.9 182.2,290.9 184.4,290.9 186.6,287.6 188.9,316.1 191.1,316.1 193.3,295.3 195.6,289.2 197.8,291.3 200.1,291.3 202.3,291.3 204.5,290.2 206.8,290.2 209.0,290.2 211.3,291.9 213.5,291.9 215.7,287.5 218.0,287.5 220.2,292.4 222.5,292.4 224.7,293.4 226.9,293.4 229.2,295.3 231.4,287.9 233.7,287.9 235.9,287.9 238.1,296.0 240.4,300.4 242.6,300.4 244.8,300.4 247.1,300.4 249.3,288.8 251.6,286.0 253.8,286.0"/>
<polyline points="29.9,295.2 32.1,295.2 34.4,295.2 36.6,296.9 38.9,296.4 41.1,296.4 43.3,296.4 45.6,296.1 47.8,293.6 50.0,297.0 52.3,297.0 54.5,297.0 56.8,284.8 59.0,288.0 61.2,288.0 63.5,288.0 65.7,288.0 68.0,288.0 70.2,296.0 72.4,294.9 74.7,298.1 76.9,298.1 79.2,290.1 81.4,290.1 83.6,291.8 85.9,294.2 88.1,290.0 90.4,290.2 92.6,292.8 94.8,292.8 97.1,292.8 99.3,289.1 101.5,289.1 103.8,289.1 106.0,295.4 108.3,296.3 110.5,294.8 112.7,293.9 115.0,291.1 117.2,293.5 119.5,292.1 121.7,292.1 123.9,292.1 126.2,294.3 128.4,294.3 130.7,293.7 132.9,293.7 135.1,293.7 137.4,293.7 139.6,293.7 141.8,266.0 144.1,289.7 146.3,289.7 148.6,287.6 150.8,287.6 153.0,293.1 155.3,290.5 157.5,293.1 159.8,294.3 162.0,294.3 164.2,292.1 166.5,295.5 168.7,296.9 171.0,295.6 173.2,295.6 175.4,295.6 177.7,293.4 179.9,293.4 182.2,286.2 184.4,293.8 186.6,298.6 188.9,297.7 191.1,297.7 193.3,297.7 195.6,285.6 197.8,285.6 200.1,294.0 202.3,297.2 204.5,297.8 206.8,297.8 209.0,297.8 211.3,294.3 213.5,294.7 215.7,288.7 218.0,286.0 220.2,286.0 222.5,286.0 224.7,286.0 226.9,286.0 229.2,295.7 231.4,295.7 233.7,289.0 235.9,289.0 238.1,289.0 240.4,289.0 242.6,289.0 244.8,289.5 247.1,287.7 249.3,293.1 251.6,299.2 253.8,299.2"/>
<polyline points="29.9,288.5 32.1,290.2 34.4,290.2 36.6,301.4 38.9,301.4 41.1,288.8 43.3,287.6 45.6,290.6 47.8,290.6 50.0,290.6 52.3,283.3 54.5,283.3 56.8,283.3 59.0,283.3 61.2,296.2 63.5,295.3 65.7,295.3 68.0,301.5 70.2,291.2 72.4,291.2 74.7,287.1 76.9,287.1 79.2,287.1 81.4,296.0 83.6,298.5 85.9,286.7 88.1,286.7 90.4,286.7 92.6,295.0 94.8,293.4 97.1,296.0 99.3,296.0 101.5,295.3 103.8,295.3 106.0,288.8 108.3,291.6 110.5,291.9 112.7,291.9 115.0,298.0 117.2,292.5 119.5,292.5 121.7,294.8 123.9,288.4 126.2,291.6 128.4,291.6 130.7,291.6 132.9,298.3 135.1,289.4 137.4,289.4 139.6,289.4 141.8,265.7 144.1,304.8 146.3,304.8 148.6,286.5 150.8,286.5 153.0,305.7 155.3,306.8 157.5,294.5 159.8,294.5 162.0,294.5 164.2,294.5 166.5,290.2 168.7,295.6 171.0,291.3 173.2,291.3 175.4,291.3 177.7,296.3 179.9,296.3 182.2,296.3 184.4,296.3 186.6,296.3 188.9,295.1 191.1,295.1 193.3,293.6 195.6,294.7 197.8,301.9 200.1,291.1 202.3,291.0 204.5,288.5 206.8,297.1 209.0,293.1 211.3,287.9 213.5,293.3 215.7,293.3 218.0,299.5 220.2,287.1 222.5,288.4 224.7,297.2 226.9,288.3 229.2,288.3 231.4,288.2 233.7,288.2 235.9,307.3 238.1,307.3 240.4,296.5 242.6,296.4 244.8,299.6 247.1,291.0 249.3,293.9 251.6,293.9 253.8,296.8"/>
<polyline points="29.9,284.5 32.1,283.4 34.4,282.5 36.6,282.5 38.9,282.5 41.1,282.5 43.3,282.4 45.6,282.4 47.8,291.2 50.0,291.2 52.3,281.9 54.5,289.5 56.8,291.1 59.0,288.6 61.2,288.6 63.5,292.7 65.7,292.7 68.0,292.7 70.2,292.3 72.4,288.2 74.7,285.8 76.9,285.8 79.2,298.4 81.4,287.6 83.6,295.9 85.9,295.9 88.1,286.2 90.4,286.2 92.6,286.2 94.8,284.2 97.1,282.1 99.3,282.1 101.5,287.2 103.8,283.4 106.0,285.9 108.3,285.9 110.5,285.9 112.7,285.9 115.0,289.1 117.2,289.1 119.5,286.7 121.7,286.5 123.9,286.5 126.2,286.5 128.4,286.5 130.7,289.6 132.9,279.2 135.1,279.2 137.4,294.0 139.6,291.4 141.8,274.3 144.1,274.3 146.3,274.3 148.6,274.3 150.8,279.9 153.0,287.2 155.3,287.2 157.5,284.9 159.8,284.9 162.0,284.9 164.2,286.9 166.5,296.3 168.7,279.9 171.0,287.5 173.2,287.5 175.4,292.3 177.7,292.5 179.9,292.5 182.2,283.1 184.4,285.2 186.6,286.8 188.9,286.8 191.1,293.0 193.3,291.7 195.6,291.7 197.8,285.4 200.1,285.4 202.3,290.1 204.5,287.9 206.8,292.9 209.0,295.7 211.3,295.7 213.5,295.7 215.7,295.7 218.0,290.6 220.2,290.6 222.5,288.6 224.7,288.6 226.9,284.6 229.2,284.6 231.4,284.6 233.7,289.3 235.9,291.3 238.1,291.3 240.4,293.4 242.6,293.6 244.8,288.1 247.1,288.1 249.3,281.5 251.6,287.0 253.8,287.0"/>
<polyline points="29.9,300.6 32.1,296.3 34.4,296.4 36.6,296.4 38.9,291.8 41.1,296.9 43.3,294.0 45.6,292.6 47.8,292.1 50.0,294.5 52.3,292.4 54.5,292.4 56.8,292.4 59.0,292.4 61.2,288.8 63.5,288.6 65.7,288.7 68.0,289.4 70.2,289.4 72.4,296.8 74.7,293.7 76.9,293.7 79.2,300.4 81.4,292.8 83.6,292.8 85.9,292.8 88.1,298.7 90.4,298.7 92.6,291.8 94.8,287.9 97.1,287.9 99.3,293.9 101.5,293.9 103.8,297.0 106.0,297.0 108.3,297.0 110.5,297.0 112.7,297.0 115.0,297.0 117.2,297.0 119.5,293.4 121.7,293.4 123.9,293.4 126.2,290.4 128.4,287.1 130.7,287.1 132.9,270.5 135.1,267.9 137.4,267.9 139.6,244.5 141.8,217.8 144.1,245.5 146.3,245.5 148.6,245.5 150.8,245.5 153.0,245.5 155.3,245.5 157.5,245.5 159.8,245.5 162.0,301.1 164.2,301.1 166.5,287.4 168.7,287.4 171.0,292.7 173.2,292.7 175.4,291.3 177.7,291.3 179.9,291.3 182.2,301.1 184.4,305.3 186.6,297.9 188.9,297.9 191.1,297.9 193.3,297.3 195.6,297.3 197.8,297.7 200.1,293.6 202.3,293.6 204.5,294.6 206.8,294.6 209.0,296.0 211.3,296.0 213.5,303.2 215.7,287.7 218.0,296.2 220.2,296.2 222.5,296.2 224.7,296.2 226.9,296.2 229.2,291.2 231.4,284.7 233.7,277.0 235.9,279.4 238.1,286.9 240.4,286.9 242.6,286.9 244.8,298.6 247.1,298.6 249.3,298.6 251.6,281.1 253.8,281.1"/>
<polyline points="29.9,292.7 32.1,290.2 34.4,289.8 36.6,289.5 38.9,289.5 41.1,288.2 43.3,288.2 45.6,287.9 47.8,292.7 50.0,292.7 52.3,292.7 54.5,292.7 56.8,292.7 59.0,291.4 61.2,291.4 63.5,279.3 65.7,279.3 68.0,281.9 70.2,276.2 72.4,285.3 74.7,285.3 76.9,285.3 79.2,285.3 81.4,280.1 83.6,279.4 85.9,279.4 88.1,280.4 90.4,280.4 92.6,280.4 94.8,280.4 97.1,280.3 99.3,275.5 101.5,274.1 103.8,274.1 106.0,274.1 108.3,297.0 110.5,297.0 112.7,297.0 115.0,284.8 117.2,291.8 119.5,291.8 121.7,297.7 123.9,287.9 126.2,281.9 128.4,290.2 130.7,291.3 132.9,291.3 135.1,291.3 137.4,291.3 139.6,287.3 141.8,240.2 144.1,240.2 146.3,284.0 148.6,284.0 150.8,283.9 153.0,284.2 155.3,288.0 157.5,286.4 159.8,280.7 162.0,285.7 164.2,290.8 166.5,290.8 168.7,290.8 171.0,292.3 173.2,281.0 175.4,285.3 177.7,285.3 179.9,284.7 182.2,291.2 184.4,290.6 186.6,290.6 188.9,290.6 191.1,284.2 193.3,284.2 195.6,280.4 197.8,282.6 200.1,279.7 202.3,279.7 204.5,294.2 206.8,294.2 209.0,292.3 211.3,287.3 213.5,285.9 215.7,285.3 218.0,285.3 220.2,285.3 222.5,288.1 224.7,283.8 226.9,282.4 229.2,282.4 231.4,282.4 233.7,283.4 235.9,290.6 238.1,287.5 240.4,287.5 242.6,291.1 244.8,291.1 247.1,297.0 249.3,297.0 251.6,299.3 253.8,285.6"/>
<polyline points="29.9,291.9 32.1,291.9 34.4,284.5 36.6,284.5 38.9,289.1 41.1,288.7 43.3,287.8 45.6,286.2 47.8,285.0 50.0,286.1 52.3,289.0 54.5,289.0 56.8,292.8 59.0,292.8 61.2,292.8 63.5,296.1 65.7,291.8 68.0,287.3 70.2,287.0 72.4,287.0 74.7,294.0 76.9,293.5 79.2,293.5 81.4,285.4 83.6,285.4 85.9,285.4 88.1,288.0 90.4,290.7 92.6,288.9 94.8,288.9 97.1,289.5 99.3,289.5 101.5,293.1 103.8,293.1 106.0,290.5 108.3,290.5 110.5,290.5 112.7,290.5 115.0,288.5 117.2,288.5 119.5,294.8 121.7,293.1 123.9,293.1 126.2,292.7 128.4,292.7 130.7,289.2 132.9,289.2 135.1,289.2 137.4,293.5 139.6,293.5 141.8,276.1 144.1,276.1 146.3,276.1 148.6,296.2 150.8,301.0 153.0,301.0 155.3,301.0 157.5,301.0 159.8,301.0 162.0,301.0 164.2,289.6 166.5,289.6 168.7,291.1 171.0,291.1 173.2,293.0 175.4,290.9 177.7,290.6 179.9,290.2 182.2,290.2 184.4,289.4 186.6,285.4 188.9,291.4 191.1,291.4 193.3,288.9 195.6,285.8 197.8,285.8 200.1,289.1 202.3,289.1 204.5,294.2 206.8,294.2 209.0,286.6 211.3,286.6 213.5,291.5 215.7,291.5 218.0,291.5 220.2,291.5 222.5,291.5 224.7,289.1 226.9,289.1 229.2,290.2 231.4,287.2 233.7,288.1 235.9,288.1 238.1,288.1 240.4,291.5 242.6,294.9 244.8,292.4 247.1,294.8 249.3,294.8 251.6,294.6 253.8,294.6"/>
<polyline points="29.9,288.4 32.1,288.4 34.4,289.5 36.6,292.0 38.9,292.0 41.1,292.0 43.3,298.4 45.6,298.4 47.8,291.7 50.0,286.9 52.3,283.0 54.5,283.0 56.8,283.0 59.0,295.4 61.2,296.8 63.5,293.7 65.7,296.3 68.0,290.7 70.2,290.7 72.4,289.1 74.7,287.1 76.9,287.1 79.2,287.1 81.4,291.7 83.6,294.4 85.9,299.2 88.1,299.1 90.4,299.1 92.6,299.1 94.8,291.5 97.1,291.5 99.3,289.9 101.5,289.9 103.8,292.0 106.0,290.7 108.3,286.9 110.5,288.2 112.7,291.3 115.0,293.1 117.2,293.1 119.5,287.6 121.7,293.2 123.9,293.2 126.2,285.8 128.4,285.8 130.7,285.8 132.9,293.1 135.1,293.1 137.4,293.1 139.6,293.1 141.8,238.6 144.1,262.3 146.3,262.3 148.6,262.3 150.8,289.3 153.0,288.9 155.3,288.9 157.5,288.9 159.8,296.9 162.0,296.9 164.2,296.9 166.5,292.5 168.7,293.5 171.0,292.5 173.2,294.5 175.4,293.5 177.7,293.5 179.9,293.5 182.2,293.5 184.4,295.7 186.6,294.9 188.9,294.8 191.1,296.2 193.3,294.7 195.6,294.7 197.8,294.7 200.1,291.7 202.3,291.7 204.5,291.2 206.8,291.2 209.0,288.2 211.3,288.2 213.5,291.3 215.7,291.3 218.0,293.8 220.2,293.8 222.5,293.8 224.7,289.8 226.9,288.9 229.2,288.9 231.4,293.9 233.7,293.9 235.9,293.9 238.1,301.9 240.4,299.3 242.6,299.3 244.8,286.2 247.1,290.1 249.3,290.1 251.6,296.0 253.8,296.0"/>
<polyline points="29.9,290.4 32.1,295.7 34.4,295.7 36.6,295.7 38.9,292.4 41.1,292.4 43.3,293.8 45.6,293.8 47.8,287.2 50.0,287.2 52.3,292.4 54.5,290.1 56.8,292.9 59.0,293.2 61.2,293.8 63.5,296.0 65.7,292.2 68.0,291.7 70.2,293.4 72.4,293.4 74.7,293.4 76.9,293.4 79.2,287.0 81.4,287.0 83.6,322.3 85.9,322.3 88.1,291.0 90.4,292.4 92.6,292.4 94.8,289.4 97.1,294.4 99.3,294.4 101.5,295.8 103.8,298.4 106.0,297.1 108.3,297.1 110.5,297.1 112.7,297.1 115.0,297.1 117.2,298.7 119.5,298.7 121.7,291.7 123.9,298.3 126.2,298.3 128.4,298.3 130.7,291.4 132.9,293.1 135.1,290.5 137.4,284.7 139.6,264.9 141.8,237.9 144.1,281.3 146.3,290.7 148.6,290.0 150.8,290.0 153.0,288.4 155.3,288.4 157.5,293.0 159.8,293.4 162.0,293.4 164.2,292.5 166.5,292.1 168.7,293.0 171.0,293.0 173.2,293.0 175.4,291.5 177.7,292.3 179.9,291.3 182.2,290.0 184.4,290.0 186.6,296.1 188.9,296.1 191.1,295.3 193.3,295.3 195.6,295.3 197.8,289.6 200.1,286.8 202.3,287.4 204.5,287.4 206.8,287.4 209.0,287.4 211.3,287.3 213.5,286.2 215.7,286.0 218.0,292.6 220.2,290.7 222.5,290.7 224.7,290.7 226.9,291.7 229.2,285.5 231.4,285.5 233.7,294.0 235.9,294.0 238.1,302.8 240.4,292.0 242.6,292.0 244.8,292.8 247.1,292.8 249.3,295.9 251.6,295.9 253.8,289.7"/>
<polyline points="29.9,284.6 32.1,285.2 34.4,287.2 36.6,286.6 38.9,291.7 41.1,288.4 43.3,289.4 45.6,289.4 47.8,289.4 50.0,290.7 52.3,288.9 54.5,287.5 56.8,287.5 59.0,289.2 61.2,284.7 63.5,284.7 65.7,284.7 68.0,284.7 70.2,286.9 72.4,284.7 74.7,284.7 76.9,289.5 79.2,289.5 81.4,289.5 83.6,289.5 85.9,281.4 88.1,281.4 90.4,290.6 92.6,290.6 94.8,290.6 97.1,286.5 99.3,286.5 101.5,286.5 103.8,296.8 106.0,296.8 108.3,296.8 110.5,296.8 112.7,296.8 115.0,296.8 117.2,295.5 119.5,295.5 121.7,287.3 123.9,287.3 126.2,287.2 128.4,287.2 130.7,287.2 132.9,289.7 135.1,289.7 137.4,289.3 139.6,289.3 141.8,260.0 144.1,268.4 146.3,271.1 148.6,271.1 150.8,281.0 153.0,289.7 155.3,288.9 157.5,287.0 159.8,286.8 162.0,286.8 164.2,290.5 166.5,291.2 168.7,291.2 171.0,291.2 173.2,293.3 175.4,298.9 177.7,294.4 179.9,291.4 182.2,291.4 184.4,292.4 186.6,292.4 188.9,292.4 191.1,297.7 193.3,292.5 195.6,289.6 197.8,289.6 200.1,289.6 202.3,292.1 204.5,285.0 206.8,290.9 209.0,290.2 211.3,283.1 213.5,283.1 215.7,289.0 218.0,289.0 220.2,289.0 222.5,289.0 224.7,294.9 226.9,296.0 229.2,293.3 231.4,294.4 233.7,296.4 235.9,292.8 238.1,289.7 240.4,289.7 242.6,282.9 244.8,282.9 247.1,282.9 249.3,293.3 251.6,296.5 253.8,296.5"/>
<polyline points="29.9,285.5 32.1,287.4 34.4,287.4 36.6,287.4 38.9,295.5 41.1,295.6 43.3,292.3 45.6,292.8 47.8,290.6 50.0,283.2 52.3,279.3 54.5,283.2 56.8,286.9 59.0,286.9 61.2,288.1 63.5,296.8 65.7,298.4 68.0,298.4 70.2,284.7 72.4,284.7 74.7,284.7 76.9,287.9 79.2,289.0 81.4,289.0 83.6,290.8 85.9,290.8 88.1,293.9 90.4,293.9 92.6,291.3 94.8,282.8 97.1,279.8 99.3,285.4 101.5,288.5 103.8,284.0 106.0,282.7 108.3,283.6 110.5,283.0 112.7,283.0 115.0,283.1 117.2,287.5 119.5,287.5 121.7,287.5 123.9,287.5 126.2,294.6 128.4,287.3 130.7,287.3 132.9,287.3 135.1,284.9 137.4,284.9 139.6,254.4 141.8,249.2 144.1,256.0 146.3,265.1 148.6,265.1 150.8,281.0 153.0,281.0 155.3,281.0 157.5,281.0 159.8,293.9 162.0,294.9 164.2,294.9 166.5,291.5 168.7,291.5 171.0,289.1 173.2,289.1 175.4,289.1 177.7,289.1 179.9,279.0 182.2,283.7 184.4,290.4 186.6,288.8 188.9,288.8 191.1,290.9 193.3,292.5 195.6,292.5 197.8,286.2 200.1,291.0 202.3,291.0 204.5,289.3 206.8,289.3 209.0,288.5 211.3,287.7 213.5,285.8 215.7,289.8 218.0,290.5 220.2,289.6 222.5,293.2 224.7,293.2 226.9,293.2 229.2,293.2 231.4,283.0 233.7,284.5 235.9,284.5 238.1,283.6 240.4,288.3 242.6,288.3 244.8,282.2 247.1,282.2 249.3,287.8 251.6,286.3 253.8,286.3"/>
<polyline points="29.9,292.4 32.1,293.6 34.4,296.3 36.6,296.3 38.9,290.1 41.1,290.1 43.3,290.1 45.6,292.4 47.8,292.4 50.0,298.4 52.3,294.1 54.5,292.6 56.8,292.6 59.0,292.6 61.2,292.6 63.5,292.6 65.7,292.6 68.0,292.6 70.2,287.9 72.4,287.3 74.7,287.3 76.9,294.2 79.2,294.2 81.4,301.7 83.6,295.4 85.9,295.4 88.1,295.4 90.4,295.4 92.6,295.4 94.8,294.0 97.1,296.1 99.3,296.1 101.5,296.1 103.8,296.1 106.0,292.1 108.3,292.1 110.5,292.7 112.7,292.7 115.0,292.7 117.2,292.7 119.5,292.3 121.7,292.3 123.9,292.3 126.2,288.9 128.4,292.3 130.7,290.6 132.9,290.1 135.1,291.2 137.4,291.2 139.6,293.2 141.8,264.3 144.1,264.3 146.3,297.1 148.6,297.5 150.8,296.0 153.0,296.0 155.3,296.0 157.5,296.0 159.8,296.0 162.0,296.0 164.2,296.0 166.5,293.9 168.7,293.9 171.0,292.3 173.2,292.3 175.4,293.1 177.7,294.1 179.9,288.4 182.2,288.4 184.4,283.8 186.6,288.4 188.9,292.7 191.1,286.5 193.3,286.5 195.6,293.3 197.8,293.3 200.1,293.3 202.3,294.2 204.5,290.6 206.8,290.6 209.0,291.3 211.3,289.9 213.5,289.9 215.7,290.0 218.0,296.9 220.2,296.9 222.5,291.3 224.7,291.3 226.9,291.3 229.2,289.2 231.4,291.2 233.7,286.3 235.9,286.3 238.1,286.3 240.4,292.9 242.6,292.9 244.8,294.8 247.1,289.7 249.3,294.8 251.6,294.8 253.8,285.8"/>
<polyline points="29.9,290.9 32.1,290.9 34.4,290.9 36.6,278.4 38.9,278.4 41.1,290.9 43.3,304.4 45.6,286.7 47.8,285.2 50.0,285.2 52.3,286.8 54.5,286.8 56.8,286.8 59.0,280.7 61.2,286.7 63.5,294.1 65.7,294.1 68.0,284.0 70.2,284.0 72.4,291.8 74.7,291.8 76.9,284.7 79.2,295.5 81.4,295.5 83.6,289.0 85.9,289.0 88.1,289.0 90.4,280.3 92.6,292.0 94.8,292.0 97.1,291.2 99.3,283.7 101.5,283.7 103.8,283.7 106.0,293.9 108.3,291.5 110.5,286.2 112.7,284.1 115.0,284.1 117.2,284.1 119.5,284.1 121.7,284.1 123.9,286.1 126.2,288.8 128.4,288.8 130.7,291.1 132.9,291.1 135.1,291.1 137.4,269.7 139.6,265.6 141.8,253.6 144.1,253.6 146.3,253.6 148.6,265.5 150.8,265.5 153.0,265.5 155.3,288.4 157.5,288.4 159.8,288.4 162.0,295.1 164.2,287.3 166.5,287.3 168.7,292.3 171.0,291.0 173.2,291.0 175.4,291.0 177.7,291.0 179.9,291.0 182.2,294.4 184.4,294.4 186.6,300.8 188.9,300.8 191.1,287.6 193.3,284.1 195.6,295.3 197.8,295.3 200.1,295.3 202.3,296.6 204.5,303.8 206.8,303.8 209.0,291.6 211.3,291.8 213.5,291.8 215.7,300.8 218.0,294.1 220.2,291.7 222.5,283.8 224.7,283.8 226.9,289.5 229.2,287.4 231.4,287.4 233.7,290.9 235.9,290.5 238.1,290.5 240.4,296.4 242.6,286.5 244.8,290.6 247.1,289.6 249.3,289.6 251.6,286.9 253.8,294.7"/>
<polyline points="29.9,287.4 32.1,291.5 34.4,291.5 36.6,291.5 38.9,291.5 41.1,289.7 43.3,298.0 45.6,298.0 47.8,290.0 50.0,298.0 52.3,281.4 54.5,290.3 56.8,287.0 59.0,285.6 61.2,294.1 63.5,291.8 65.7,291.8 68.0,291.8 70.2,288.5 72.4,288.5 74.7,296.3 76.9,296.3 79.2,296.3 81.4,287.4 83.6,285.4 85.9,285.4 88.1,286.3 90.4,288.8 92.6,296.4 94.8,296.4 97.1,300.6 99.3,295.6 101.5,281.1 103.8,281.1 106.0,281.1 108.3,289.2 110.5,289.2 112.7,288.3 115.0,285.3 117.2,294.9 119.5,288.7 121.7,291.5 123.9,293.0 126.2,289.6 128.4,289.6 130.7,289.6 132.9,276.0 135.1,276.0 137.4,264.5 139.6,252.9 141.8,237.2 144.1,266.6 146.3,266.6 148.6,266.6 150.8,266.6 153.0,285.1 155.3,285.1 157.5,285.0 159.8,294.0 162.0,290.2 164.2,290.2 166.5,290.6 168.7,290.6 171.0,290.6 173.2,290.6 175.4,290.6 177.7,290.6 179.9,290.6 182.2,290.6 184.4,290.4 186.6,290.7 188.9,297.1 191.1,287.1 193.3,281.6 195.6,281.6 197.8,291.1 200.1,287.8 202.3,299.0 204.5,299.0 206.8,285.7 209.0,285.7 211.3,285.7 213.5,285.7 215.7,288.3 218.0,292.6 220.2,292.6 222.5,300.1 224.7,292.8 226.9,292.8 229.2,293.3 231.4,295.1 233.7,286.8 235.9,284.0 238.1,284.0 240.4,294.6 242.6,299.9 244.8,291.1 247.1,291.1 249.3,296.6 251.6,292.3 253.8,296.9"/>
<polyline points="29.9,294.6 32.1,292.5 34.4,298.4 36.6,300.7 38.9,295.6 41.1,297.4 43.3,290.7 45.6,286.5 47.8,289.5 50.0,289.5 52.3,294.1 54.5,289.8 56.8,289.8 59.0,288.7 61.2,296.4 63.5,296.4 65.7,296.4 68.0,285.9 70.2,287.4 72.4,287.4 74.7,293.5 76.9,293.5 79.2,296.0 81.4,296.0 83.6,289.9 85.9,301.2 88.1,291.5 90.4,286.9 92.6,286.9 94.8,286.9 97.1,295.6 99.3,283.1 101.5,283.1 103.8,283.1 106.0,295.9 108.3,295.9 110.5,297.6 112.7,297.6 115.0,297.6 117.2,298.4 119.5,289.5 121.7,289.6 123.9,289.6 126.2,291.5 128.4,291.5 130.7,291.5 132.9,291.5 135.1,286.3 137.4,289.9 139.6,276.2 141.8,246.8 144.1,246.8 146.3,246.8 148.6,288.5 150.8,288.5 153.0,284.7 155.3,284.7 157.5,290.2 159.8,290.2 162.0,289.2 164.2,298.4 166.5,297.2 168.7,280.7 171.0,280.7 173.2,290.9 175.4,285.6 177.7,285.6 179.9,285.6 182.2,285.6 184.4,294.0 186.6,284.7 188.9,284.7 191.1,284.7 193.3,285.3 195.6,286.7 197.8,295.4 200.1,295.4 202.3,294.4 204.5,290.6 206.8,290.6 209.0,290.6 211.3,291.8 213.5,290.7 215.7,290.7 218.0,289.7 220.2,298.7 222.5,297.0 224.7,294.4 226.9,284.5 229.2,296.6 231.4,292.6 233.7,305.6 235.9,305.6 238.1,290.4 240.4,290.4 242.6,290.4 244.8,295.5 247.1,295.5 249.3,292.6 251.6,292.6 253.8,293.8"/>
<polyline points="29.9,281.6 32.1,281.6 34.4,281.6 36.6,281.6 38.9,290.0 41.1,290.0 43.3,290.6 45.6,285.7 47.8,285.7 50.0,285.7 52.3,285.7 54.5,292.3 56.8,292.3 59.0,292.3 61.2,292.3 63.5,292.3 65.7,292.3 68.0,292.4 70.2,295.7 72.4,291.9 74.7,291.9 76.9,279.6 79.2,286.9 81.4,290.7 83.6,293.7 85.9,288.1 88.1,291.5 90.4,288.2 92.6,283.1 94.8,287.5 97.1,287.5 99.3,290.7 101.5,288.7 103.8,288.7 106.0,283.8 108.3,284.4 110.5,287.5 112.7,287.5 115.0,287.5 117.2,287.5 119.5,287.5 121.7,287.5 123.9,287.5 126.2,287.5 128.4,284.9 130.7,284.9 132.9,274.4 135.1,270.2 137.4,263.9 139.6,263.9 141.8,235.5 144.1,252.6 146.3,252.6 148.6,252.6 150.8,252.6 153.0,252.6 155.3,252.6 157.5,252.6 159.8,285.1 162.0,281.6 164.2,288.9 166.5,288.9 168.7,293.3 171.0,287.8 173.2,280.7 175.4,279.8 177.7,279.8 179.9,279.8 182.2,293.7 184.4,293.7 186.6,293.7 188.9,293.7 191.1,290.1 193.3,290.4 195.6,290.4 197.8,289.5 200.1,289.5 202.3,286.1 204.5,286.1 206.8,291.6 209.0,298.7 211.3,298.7 213.5,298.7 215.7,287.9 218.0,285.6 220.2,286.6 222.5,290.7 224.7,290.7 226.9,295.7 229.2,295.7 231.4,295.7 233.7,290.3 235.9,290.3 238.1,291.4 240.4,295.8 242.6,294.1 244.8,286.2 247.1,286.2 249.3,286.2 251.6,286.2 253.8,283.8"/>
<polyline points="29.9,283.0 32.1,283.0 34.4,297.6 36.6,297.6 38.9,285.2 41.1,283.6 43.3,289.2 45.6,289.4 47.8,289.4 50.0,289.4 52.3,289.4 54.5,288.5 56.8,286.4 59.0,290.9 61.2,290.9 63.5,297.1 65.7,295.7 68.0,288.4 70.2,289.3 72.4,288.1 74.7,288.1 76.9,288.0 79.2,287.3 81.4,286.3 83.6,292.1 85.9,286.3 88.1,283.2 90.4,283.2 92.6,283.2 94.8,283.2 97.1,286.3 99.3,286.9 101.5,283.3 103.8,283.9 106.0,283.9 108.3,283.9 110.5,283.9 112.7,288.2 115.0,287.1 117.2,287.1 119.5,286.6 121.7,292.6 123.9,297.0 126.2,297.2 128.4,297.2 130.7,290.1 132.9,290.1 135.1,290.1 137.4,290.1 139.6,276.8 141.8,238.7 144.1,283.0 146.3,292.6 148.6,291.0 150.8,287.0 153.0,292.2 155.3,295.5 157.5,291.9 159.8,291.9 162.0,291.9 164.2,292.8 166.5,287.5 168.7,284.8 171.0,287.5 173.2,287.5 175.4,291.8 177.7,291.8 179.9,289.0 182.2,286.7 184.4,289.3 186.6,287.1 188.9,284.6 191.1,286.4 193.3,290.3 195.6,290.3 197.8,290.7 200.1,287.2 202.3,287.2 204.5,289.9 206.8,289.9 209.0,297.1 211.3,297.1 213.5,297.1 215.7,297.1 218.0,297.1 220.2,297.1 222.5,297.1 224.7,292.3 226.9,291.8 229.2,292.4 231.4,291.6 233.7,289.6 235.9,289.6 238.1,289.6 240.4,286.5 242.6,286.5 244.8,286.5 247.1,286.5 249.3,286.5 251.6,292.9 253.8,292.0"/>
<polyline points="29.9,287.3 32.1,286.9 34.4,285.2 36.6,285.2 38.9,285.2 41.1,290.5 43.3,289.0 45.6,304.8 47.8,304.8 50.0,286.4 52.3,284.6 54.5,284.6 56.8,288.6 59.0,288.6 61.2,288.6 63.5,284.6 65.7,286.4 68.0,286.4 70.2,286.4 72.4,286.4 74.7,286.6 76.9,285.7 79.2,287.4 81.4,291.0 83.6,291.0 85.9,282.1 88.1,282.1 90.4,282.1 92.6,288.5 94.8,291.8 97.1,291.8 99.3,284.4 101.5,284.4 103.8,289.2 106.0,288.4 108.3,288.4 110.5,288.6 112.7,288.8 115.0,288.8 117.2,288.8 119.5,288.8 121.7,287.0 123.9,284.5 126.2,284.5 128.4,287.5 130.7,287.5 132.9,287.5 135.1,287.5 137.4,287.5 139.6,289.8 141.8,267.8 144.1,267.8 146.3,282.8 148.6,282.8 150.8,290.6 153.0,288.7 155.3,288.7 157.5,288.7 159.8,287.8 162.0,287.8 164.2,292.9 166.5,309.9 168.7,290.6 171.0,290.6 173.2,290.6 175.4,290.6 177.7,290.6 179.9,287.1 182.2,287.1 184.4,286.0 186.6,286.0 188.9,288.9 191.1,287.4 193.3,286.5 195.6,288.1 197.8,291.0 200.1,291.0 202.3,284.4 204.5,287.2 206.8,284.9 209.0,280.1 211.3,284.2 213.5,290.8 215.7,285.3 218.0,281.2 220.2,283.4 222.5,283.4 224.7,286.9 226.9,287.5 229.2,287.2 231.4,287.2 233.7,287.2 235.9,279.6 238.1,279.6 240.4,287.7 242.6,287.7 244.8,288.6 247.1,287.0 249.3,286.9 251.6,287.9 253.8,287.9"/>
<polyline points="29.9,288.4 32.1,290.7 34.4,294.7 36.6,291.1 38.9,291.1 41.1,289.0 43.3,289.8 45.6,289.8 47.8,289.8 50.0,289.8 52.3,289.8 54.5,289.8 56.8,289.8 59.0,291.1 61.2,288.5 63.5,288.5 65.7,288.5 68.0,288.5 70.2,291.8 72.4,293.3 74.7,297.1 76.9,295.6 79.2,295.6 81.4,295.6 83.6,291.5 85.9,293.4 88.1,292.9 90.4,295.9 92.6,295.9 94.8,295.9 97.1,289.0 99.3,289.0 101.5,289.0 103.8,289.0 106.0,296.4 108.3,296.8 110.5,296.8 112.7,291.1 115.0,291.1 117.2,294.0 119.5,294.0 121.7,294.0 123.9,294.0 126.2,291.5 128.4,291.5 130.7,291.5 132.9,294.0 135.1,294.0 137.4,279.4 139.6,279.4 141.8,252.5 144.1,252.5 146.3,260.9 148.6,258.8 150.8,264.9 153.0,264.9 155.3,273.5 157.5,276.9 159.8,291.4 162.0,291.4 164.2,296.0 166.5,296.0 168.7,295.1 171.0,292.0 173.2,292.0 175.4,287.3 177.7,287.3 179.9,297.1 182.2,297.1 184.4,300.9 186.6,300.9 188.9,293.6 191.1,293.6 193.3,293.6 195.6,293.6 197.8,293.6 200.1,293.6 202.3,290.5 204.5,290.2 206.8,294.6 209.0,296.7 211.3,290.4 213.5,293.2 215.7,296.9 218.0,296.9 220.2,292.4 222.5,293.9 224.7,297.4 226.9,298.3 229.2,298.3 231.4,293.7 233.7,297.0 235.9,298.1 238.1,296.3 240.4,296.3 242.6,294.6 244.8,294.6 247.1,294.6 249.3,294.6 251.6,296.6 253.8,296.6"/>
<polyline points="29.9,280.5 32.1,280.5 34.4,280.5 36.6,292.0 38.9,292.0 41.1,292.0 43.3,300.6 45.6,289.4 47.8,293.5 50.0,293.5 52.3,293.5 54.5,291.7 56.8,285.9 59.0,291.3 61.2,296.1 63.5,291.7 65.7,291.7 68.0,290.6 70.2,290.6 72.4,304.5 74.7,304.5 76.9,304.5 79.2,287.2 81.4,296.0 83.6,287.5 85.9,287.5 88.1,287.5 90.4,289.7 92.6,281.1 94.8,287.7 97.1,293.6 99.3,290.8 101.5,277.9 103.8,291.7 106.0,300.9 108.3,291.9 110.5,292.0 112.7,292.5 115.0,287.6 117.2,282.3 119.5,280.9 121.7,280.9 123.9,286.9 126.2,286.9 128.4,292.6 130.7,295.3 132.9,295.3 135.1,292.1 137.4,285.8 139.6,281.5 141.8,262.2 144.1,286.1 146.3,286.1 148.6,286.1 150.8,276.9 153.0,287.0 155.3,286.1 157.5,288.6 159.8,288.6 162.0,288.6 164.2,283.9 166.5,293.6 168.7,284.3 171.0,296.3 173.2,296.3 175.4,296.3 177.7,296.3 179.9,294.7 182.2,277.3 184.4,277.3 186.6,277.3 188.9,281.7 191.1,291.2 193.3,289.8 195.6,289.8 197.8,290.7 200.1,290.8 202.3,290.8 204.5,293.0 206.8,293.2 209.0,287.1 211.3,287.1 213.5,294.1 215.7,292.3 218.0,291.2 220.2,288.9 222.5,291.6 224.7,293.4 226.9,293.4 229.2,286.6 231.4,286.6 233.7,292.9 235.9,292.9 238.1,287.8 240.4,292.0 242.6,292.0 244.8,298.5 247.1,288.3 249.3,283.8 251.6,274.5 253.8,274.5"/>
<polyline points="29.9,296.9 32.1,285.0 34.4,282.2 36.6,288.9 38.9,288.9 41.1,286.2 43.3,292.5 45.6,288.9 47.8,293.3 50.0,290.4 52.3,287.2 54.5,301.2 56.8,298.3 59.0,298.3 61.2,298.3 63.5,298.3 65.7,295.9 68.0,288.8 70.2,283.6 72.4,283.6 74.7,283.6 76.9,288.0 79.2,289.2 81.4,289.2 83.6,285.1 85.9,285.1 88.1,285.7 90.4,284.0 92.6,286.9 94.8,286.9 97.1,283.2 99.3,283.2 101.5,280.2 103.8,290.2 106.0,290.2 108.3,288.3 110.5,289.1 112.7,284.6 115.0,279.6 117.2,281.7 119.5,282.4 121.7,282.4 123.9,292.9 126.2,292.9 128.4,292.9 130.7,284.9 132.9,286.7 135.1,285.7 137.4,285.7 139.6,285.7 141.8,268.0 144.1,268.0 146.3,290.6 148.6,290.6 150.8,290.6 153.0,290.6 155.3,290.6 157.5,290.6 159.8,290.6 162.0,284.1 164.2,285.7 166.5,285.7 168.7,285.7 171.0,285.1 173.2,286.6 175.4,284.5 177.7,284.5 179.9,285.8 182.2,291.9 184.4,283.7 186.6,283.7 188.9,283.7 191.1,293.7 193.3,286.7 195.6,286.7 197.8,286.7 200.1,286.7 202.3,286.7 204.5,288.3 206.8,288.3 209.0,288.3 211.3,292.9 213.5,282.0 215.7,282.0 218.0,285.3 220.2,285.6 222.5,285.6 224.7,285.6 226.9,291.9 229.2,291.9 231.4,291.9 233.7,287.5 235.9,281.0 238.1,281.0 240.4,281.0 242.6,281.0 244.8,281.0 247.1,287.9 249.3,287.9 251.6,287.9 253.8,291.7"/>
<polyline points="29.9,295.9 32.1,295.9 34.4,295.9 36.6,294.9 38.9,294.9 41.1,294.9 43.3,299.0 45.6,299.0 47.8,291.7 50.0,296.8 52.3,288.4 54.5,288.4 56.8,288.4 59.0,288.5 61.2,288.5 63.5,288.5 65.7,288.5 68.0,288.5 70.2,283.5 72.4,283.5 74.7,283.5 76.9,283.5 79.2,283.5 81.4,291.1 83.6,291.1 85.9,287.8 88.1,287.8 90.4,287.8 92.6,287.6 94.8,287.7 97.1,285.5 99.3,285.5 101.5,295.7 103.8,291.1 106.0,291.1 108.3,291.0 110.5,291.0 112.7,291.0 115.0,290.9 117.2,290.9 119.5,290.9 121.7,287.8 123.9,287.8 126.2,287.8 128.4,286.4 130.7,282.1 132.9,282.1 135.1,282.1 137.4,282.1 139.6,244.1 141.8,234.8 144.1,254.2 146.3,254.5 148.6,266.0 150.8,282.8 153.0,289.5 155.3,290.7 157.5,295.3 159.8,295.3 162.0,295.3 164.2,286.1 166.5,296.7 168.7,282.4 171.0,298.4 173.2,295.2 175.4,295.2 177.7,289.8 179.9,283.4 182.2,283.4 184.4,281.9 186.6,281.9 188.9,282.0 191.1,282.0 193.3,294.8 195.6,296.4 197.8,296.4 200.1,291.7 202.3,291.7 204.5,296.1 206.8,296.1 209.0,289.7 211.3,289.7 213.5,283.6 215.7,283.6 218.0,292.0 220.2,292.7 222.5,291.3 224.7,283.9 226.9,283.9 229.2,283.9 231.4,288.7 233.7,297.3 235.9,298.1 238.1,298.1 240.4,298.1 242.6,296.4 244.8,295.7 247.1,292.2 249.3,284.4 251.6,282.0 253.8,288.4"/>
<polyline points="29.9,297.1 32.1,296.9 34.4,296.9 36.6,296.9 38.9,288.1 41.1,285.8 43.3,295.8 45.6,291.0 47.8,294.8 50.0,294.8 52.3,291.8 54.5,291.8 56.8,291.8 59.0,291.8 61.2,287.9 63.5,293.2 65.7,293.3 68.0,292.3 70.2,292.3 72.4,292.3 74.7,280.8 76.9,280.8 79.2,280.2 81.4,280.2 83.6,293.8 85.9,297.7 88.1,297.7 90.4,297.6 92.6,297.6 94.8,297.6 97.1,297.6 99.3,297.6 101.5,284.9 103.8,296.4 106.0,292.3 108.3,292.3 110.5,292.3 112.7,285.6 115.0,285.6 117.2,285.6 119.5,269.6 121.7,276.7 123.9,276.7 126.2,259.5 128.4,259.5 130.7,252.3 132.9,252.3 135.1,252.3 137.4,252.3 139.6,249.0 141.8,240.5 144.1,240.5 146.3,258.0 148.6,247.1 150.8,261.6 153.0,261.6 155.3,265.6 157.5,265.6 159.8,268.0 162.0,283.0 164.2,283.0 166.5,297.8 168.7,297.8 171.0,290.2 173.2,290.2 175.4,286.7 177.7,293.9 179.9,284.7 182.2,284.7 184.4,283.6 186.6,283.6 188.9,283.6 191.1,283.6 193.3,283.6 195.6,283.6 197.8,294.7 200.1,294.7 202.3,294.7 204.5,294.7 206.8,294.7 209.0,294.7 211.3,289.3 213.5,289.3 215.7,289.3 218.0,289.3 220.2,291.3 222.5,287.2 224.7,291.7 226.9,292.7 229.2,292.7 231.4,292.7 233.7,294.8 235.9,294.8 238.1,294.8 240.4,283.6 242.6,290.0 244.8,295.9 247.1,295.9 249.3,294.4 251.6,294.4 253.8,289.2"/>
<polyline points="29.9,279.8 32.1,279.8 34.4,297.3 36.6,288.5 38.9,284.1 41.1,284.1 43.3,284.1 45.6,284.1 47.8,294.7 50.0,294.7 52.3,298.0 54.5,298.0 56.8,298.0 59.0,298.0 61.2,286.2 63.5,286.2 65.7,286.2 68.0,286.2 70.2,287.9 72.4,287.9 74.7,287.9 76.9,286.1 79.2,286.1 81.4,286.1 83.6,296.0 85.9,295.4 88.1,290.7 90.4,286.9 92.6,287.0 94.8,285.8 97.1,285.8 99.3,291.9 101.5,287.7 103.8,287.7 106.0,298.5 108.3,291.7 110.5,284.3 112.7,293.9 115.0,293.9 117.2,293.9 119.5,278.8 121.7,274.8 123.9,274.8 126.2,270.2 128.4,270.2 130.7,270.2 132.9,270.6 135.1,270.6 137.4,272.8 139.6,281.6 141.8,244.2 144.1,244.2 146.3,282.3 148.6,282.3 150.8,260.3 153.0,270.2 155.3,270.2 157.5,270.2 159.8,270.2 162.0,270.2 164.2,283.3 166.5,288.4 168.7,288.4 171.0,290.4 173.2,292.1 175.4,292.1 177.7,299.0 179.9,303.1 182.2,303.7 184.4,296.0 186.6,296.0 188.9,296.0 191.1,296.0 193.3,290.0 195.6,290.0 197.8,294.9 200.1,291.2 202.3,290.8 204.5,290.8 206.8,290.8 209.0,290.8 211.3,290.8 213.5,290.8 215.7,290.5 218.0,290.6 220.2,294.3 222.5,294.3 224.7,285.5 226.9,285.3 229.2,285.3 231.4,290.4 233.7,288.2 235.9,290.8 238.1,290.8 240.4,290.8 242.6,293.3 244.8,296.5 247.1,296.5 249.3,298.1 251.6,294.4 253.8,294.4"/>
<polyline points="29.9,294.4 32.1,288.1 34.4,288.1 36.6,288.1 38.9,287.3 41.1,288.9 43.3,288.9 45.6,288.9 47.8,289.6 50.0,289.6 52.3,289.6 54.5,289.6 56.8,289.6 59.0,294.2 61.2,290.7 63.5,290.7 65.7,290.7 68.0,282.1 70.2,283.1 72.4,283.1 74.7,286.7 76.9,282.8 79.2,289.5 81.4,289.5 83.6,294.9 85.9,294.9 88.1,285.9 90.4,285.9 92.6,285.2 94.8,285.2 97.1,285.2 99.3,285.2 101.5,285.2 103.8,296.4 106.0,295.8 108.3,287.9 110.5,287.7 112.7,287.7 115.0,290.5 117.2,288.9 119.5,293.8 121.7,293.9 123.9,297.4 126.2,286.9 128.4,286.9 130.7,280.4 132.9,280.4 135.1,264.6 137.4,264.6 139.6,264.6 141.8,246.1 144.1,246.1 146.3,278.7 148.6,265.6 150.8,265.6 153.0,265.6 155.3,274.1 157.5,274.1 159.8,274.1 162.0,274.1 164.2,286.4 166.5,286.4 168.7,286.4 171.0,290.8 173.2,290.8 175.4,290.8 177.7,290.8 179.9,290.8 182.2,292.1 184.4,286.3 186.6,286.3 188.9,291.9 191.1,288.2 193.3,287.1 195.6,287.1 197.8,287.1 200.1,279.3 202.3,279.4 204.5,279.4 206.8,289.4 209.0,287.1 211.3,289.2 213.5,281.6 215.7,285.6 218.0,288.9 220.2,288.9 222.5,288.9 224.7,285.7 226.9,291.2 229.2,293.5 231.4,295.9 233.7,295.9 235.9,292.8 238.1,292.8 240.4,292.8 242.6,292.8 244.8,292.8 247.1,289.7 249.3,293.1 251.6,293.1 253.8,293.1"/>
<polyline points="29.9,303.3 32.1,303.3 34.4,303.3 36.6,291.1 38.9,299.4 41.1,299.4 43.3,299.4 45.6,291.8 47.8,299.5 50.0,299.5 52.3,301.2 54.5,301.2 56.8,289.7 59.0,290.9 61.2,295.5 63.5,292.8 65.7,293.9 68.0,299.7 70.2,297.6 72.4,297.6 74.7,297.6 76.9,297.6 79.2,297.6 81.4,298.7 83.6,298.7 85.9,300.1 88.1,300.1 90.4,300.1 92.6,293.9 94.8,296.6 97.1,296.7 99.3,296.7 101.5,289.8 103.8,292.3 106.0,289.8 108.3,289.8 110.5,289.8 112.7,295.7 115.0,293.5 117.2,284.6 119.5,284.6 121.7,288.8 123.9,288.5 126.2,288.5 128.4,280.1 130.7,284.6 132.9,261.1 135.1,279.9 137.4,285.7 139.6,285.7 141.8,258.4 144.1,258.4 146.3,283.7 148.6,281.5 150.8,288.0 153.0,288.0 155.3,288.0 157.5,288.0 159.8,288.0 162.0,288.0 164.2,288.0 166.5,288.0 168.7,288.0 171.0,289.9 173.2,289.9 175.4,296.1 177.7,296.1 179.9,296.1 182.2,296.1 184.4,296.1 186.6,288.6 188.9,291.8 191.1,287.7 193.3,298.2 195.6,296.9 197.8,294.6 200.1,303.2 202.3,303.2 204.5,291.3 206.8,284.5 209.0,298.2 211.3,298.2 213.5,298.2 215.7,298.2 218.0,290.5 220.2,294.4 222.5,293.8 224.7,294.8 226.9,294.8 229.2,294.8 231.4,290.7 233.7,290.7 235.9,290.7 238.1,296.0 240.4,296.0 242.6,292.5 244.8,288.8 247.1,288.4 249.3,298.3 251.6,296.3 253.8,294.3"/>
<polyline points="29.9,288.4 32.1,280.5 34.4,280.5 36.6,280.5 38.9,280.5 41.1,280.5 43.3,299.4 45.6,287.1 47.8,287.1 50.0,287.1 52.3,287.1 54.5,287.1 56.8,287.1 59.0,288.5 61.2,288.5 63.5,288.5 65.7,284.1 68.0,280.5 70.2,280.5 72.4,286.5 74.7,286.5 76.9,286.5 79.2,286.5 81.4,284.9 83.6,284.9 85.9,284.9 88.1,291.5 90.4,291.5 92.6,286.8 94.8,286.8 97.1,285.4 99.3,288.5 101.5,288.5 103.8,285.1 106.0,280.6 108.3,280.6 110.5,280.6 112.7,280.6 115.0,280.6 117.2,280.6 119.5,280.6 121.7,280.6 123.9,280.6 126.2,280.6 128.4,265.8 130.7,243.3 132.9,243.3 135.1,239.1 137.4,249.1 139.6,221.9 141.8,249.7 144.1,249.7 146.3,255.8 148.6,255.8 150.8,266.2 153.0,268.5 155.3,255.0 157.5,255.0 159.8,258.2 162.0,245.6 164.2,258.3 166.5,258.3 168.7,282.3 171.0,284.2 173.2,284.1 175.4,284.1 177.7,288.1 179.9,288.1 182.2,288.1 184.4,292.0 186.6,292.0 188.9,287.8 191.1,297.6 193.3,297.6 195.6,289.4 197.8,290.0 200.1,290.0 202.3,290.0 204.5,286.9 206.8,286.9 209.0,298.8 211.3,298.8 213.5,298.8 215.7,290.3 218.0,292.1 220.2,292.1 222.5,288.8 224.7,288.8 226.9,288.8 229.2,285.7 231.4,286.0 233.7,288.5 235.9,288.5 238.1,291.7 240.4,291.7 242.6,289.3 244.8,289.3 247.1,291.5 249.3,291.9 251.6,297.9 253.8,297.9"/>
<polyline points="29.9,292.0 32.1,294.4 34.4,294.4 36.6,294.4 38.9,294.4 41.1,294.4 43.3,298.4 45.6,299.0 47.8,295.1 50.0,295.1 52.3,286.5 54.5,291.7 56.8,296.6 59.0,298.1 61.2,295.2 63.5,290.4 65.7,294.8 68.0,292.1 70.2,287.3 72.4,284.5 74.7,284.5 76.9,284.5 79.2,292.7 81.4,290.5 83.6,290.5 85.9,290.5 88.1,292.9 90.4,289.2 92.6,289.2 94.8,295.1 97.1,297.1 99.3,294.8 101.5,291.5 103.8,294.8 106.0,294.8 108.3,294.8 110.5,294.8 112.7,303.4 115.0,303.4 117.2,293.8 119.5,293.8 121.7,293.8 123.9,293.0 126.2,293.0 128.4,289.1 130.7,281.4 132.9,281.4 135.1,281.4 137.4,281.4 139.6,281.4 141.8,269.9 144.1,269.9 146.3,279.3 148.6,275.3 150.8,275.3 153.0,275.3 155.3,275.3 157.5,284.6 159.8,286.7 162.0,288.5 164.2,288.5 166.5,288.5 168.7,288.5 171.0,292.3 173.2,298.1 175.4,298.1 177.7,298.1 179.9,298.1 182.2,298.1 184.4,298.1 186.6,293.1 188.9,293.4 191.1,293.4 193.3,296.3 195.6,294.1 197.8,296.9 200.1,296.9 202.3,296.9 204.5,296.9 206.8,287.7 209.0,287.8 211.3,282.6 213.5,285.6 215.7,290.6 218.0,290.6 220.2,296.9 222.5,296.9 224.7,296.9 226.9,296.9 229.2,299.6 231.4,299.6 233.7,292.1 235.9,292.1 238.1,281.3 240.4,288.9 242.6,288.9 244.8,296.3 247.1,294.3 249.3,294.3 251.6,295.2 253.8,295.2"/>
<polyline points="29.9,277.5 32.1,286.3 34.4,291.6 36.6,291.6 38.9,288.5 41.1,288.5 43.3,288.5 45.6,295.0 47.8,283.7 50.0,283.7 52.3,285.2 54.5,287.9 56.8,290.8 59.0,290.8 61.2,290.8 63.5,290.8 65.7,290.8 68.0,290.8 70.2,292.9 72.4,291.8 74.7,291.4 76.9,291.4 79.2,291.4 81.4,291.4 83.6,291.4 85.9,291.4 88.1,288.8 90.4,291.8 92.6,291.8 94.8,291.8 97.1,288.9 99.3,288.5 101.5,282.9 103.8,289.8 106.0,294.8 108.3,294.8 110.5,273.6 112.7,273.6 115.0,273.6 117.2,273.2 119.5,274.5 121.7,281.7 123.9,279.4 126.2,279.4 128.4,269.3 130.7,269.3 132.9,263.1 135.1,263.1 137.4,263.1 139.6,271.9 141.8,249.7 144.1,257.7 146.3,257.7 148.6,278.7 150.8,276.0 153.0,274.4 155.3,278.0 157.5,286.2 159.8,291.9 162.0,291.2 164.2,290.8 166.5,287.6 168.7,287.6 171.0,287.6 173.2,286.6 175.4,286.5 177.7,289.2 179.9,289.2 182.2,280.7 184.4,288.8 186.6,291.5 188.9,291.4 191.1,291.4 193.3,291.4 195.6,285.1 197.8,282.2 200.1,282.2 202.3,289.6 204.5,289.6 206.8,274.0 209.0,274.0 211.3,288.3 213.5,277.2 215.7,284.8 218.0,289.0 220.2,289.0 222.5,300.2 224.7,300.2 226.9,300.2 229.2,300.2 231.4,287.7 233.7,287.0 235.9,292.2 238.1,295.6 240.4,295.4 242.6,291.2 244.8,289.4 247.1,288.0 249.3,288.0 251.6,288.0 253.8,288.0"/>
<polyline points="29.9,296.5 32.1,296.5 34.4,298.3 36.6,280.4 38.9,286.1 41.1,291.0 43.3,288.6 45.6,288.6 47.8,296.7 50.0,294.1 52.3,294.1 54.5,289.6 56.8,289.6 59.0,299.4 61.2,289.1 63.5,292.0 65.7,292.0 68.0,292.2 70.2,298.6 72.4,298.6 74.7,292.3 76.9,292.3 79.2,292.3 81.4,288.1 83.6,288.1 85.9,288.1 88.1,288.1 90.4,288.1 92.6,288.1 94.8,290.3 97.1,290.3 99.3,289.7 101.5,305.1 103.8,294.6 106.0,290.0 108.3,293.9 110.5,291.9 112.7,291.9 115.0,291.9 117.2,291.9 119.5,291.9 121.7,284.9 123.9,284.9 126.2,284.9 128.4,256.3 130.7,270.7 132.9,256.1 135.1,256.1 137.4,256.1 139.6,258.8 141.8,248.9 144.1,270.2 146.3,265.5 148.6,265.5 150.8,265.5 153.0,287.1 155.3,287.1 157.5,287.1 159.8,298.1 162.0,294.9 164.2,285.7 166.5,285.4 168.7,288.4 171.0,289.6 173.2,289.6 175.4,287.8 177.7,287.8 179.9,287.8 182.2,289.3 184.4,288.8 186.6,288.8 188.9,293.0 191.1,287.3 193.3,281.5 195.6,284.6 197.8,284.6 200.1,284.6 202.3,291.7 204.5,291.7 206.8,291.7 209.0,291.7 211.3,290.5 213.5,295.2 215.7,295.2 218.0,295.2 220.2,295.2 222.5,285.0 224.7,290.0 226.9,297.7 229.2,298.3 231.4,284.1 233.7,289.2 235.9,291.6 238.1,287.3 240.4,295.1 242.6,295.1 244.8,294.0 247.1,298.6 249.3,298.6 251.6,289.4 253.8,289.4"/>
<polyline points="29.9,284.9 32.1,290.8 34.4,290.8 36.6,290.8 38.9,290.8 41.1,290.6 43.3,291.7 45.6,289.0 47.8,289.0 50.0,289.0 52.3,289.0 54.5,289.0 56.8,289.0 59.0,299.9 61.2,299.9 63.5,291.9 65.7,292.1 68.0,290.6 70.2,289.0 72.4,294.0 74.7,290.8 76.9,292.5 79.2,292.5 81.4,284.4 83.6,283.7 85.9,283.7 88.1,283.7 90.4,289.5 92.6,285.2 94.8,285.2 97.1,287.8 99.3,282.4 101.5,292.1 103.8,297.0 106.0,297.0 108.3,297.0 110.5,294.7 112.7,290.2 115.0,290.2 117.2,289.9 119.5,289.9 121.7,290.9 123.9,294.6 126.2,289.0 128.4,289.0 130.7,276.5 132.9,276.5 135.1,277.5 137.4,277.5 139.6,277.5 141.8,261.2 144.1,285.2 146.3,281.8 148.6,281.8 150.8,281.8 153.0,279.0 155.3,279.0 157.5,279.0 159.8,279.0 162.0,274.5 164.2,274.5 166.5,274.5 168.7,274.5 171.0,286.7 173.2,289.9 175.4,286.7 177.7,291.1 179.9,287.8 182.2,287.8 184.4,287.8 186.6,288.8 188.9,288.8 191.1,288.8 193.3,288.8 195.6,288.8 197.8,291.1 200.1,289.3 202.3,294.0 204.5,293.4 206.8,293.4 209.0,282.4 211.3,282.4 213.5,289.3 215.7,294.1 218.0,293.6 220.2,291.6 222.5,291.6 224.7,291.6 226.9,290.7 229.2,290.7 231.4,290.7 233.7,290.9 235.9,290.9 238.1,287.2 240.4,287.2 242.6,290.0 244.8,294.3 247.1,294.6 249.3,294.6 251.6,290.1 253.8,289.2"/>
<polyline points="29.9,287.1 32.1,285.4 34.4,285.4 36.6,286.7 38.9,287.2 41.1,296.7 43.3,293.8 45.6,293.8 47.8,293.8 50.0,293.8 52.3,293.8 54.5,293.8 56.8,293.8 59.0,293.8 61.2,293.8 63.5,293.8 65.7,293.8 68.0,293.8 70.2,293.8 72.4,284.9 74.7,284.9 76.9,286.8 79.2,281.6 81.4,281.6 83.6,289.9 85.9,289.4 88.1,289.4 90.4,281.8 92.6,291.7 94.8,295.1 97.1,295.1 99.3,295.1 101.5,286.8 103.8,282.3 106.0,283.0 108.3,289.2 110.5,290.6 112.7,286.8 115.0,286.8 117.2,295.1 119.5,295.1 121.7,292.5 123.9,278.6 126.2,274.9 128.4,274.9 130.7,259.0 132.9,259.0 135.1,269.1 137.4,269.0 139.6,269.0 141.8,250.0 144.1,250.0 146.3,268.9 148.6,268.9 150.8,260.6 153.0,269.6 155.3,269.6 157.5,281.3 159.8,294.1 162.0,294.4 164.2,290.4 166.5,290.4 168.7,283.8 171.0,283.8 173.2,283.8 175.4,283.8 177.7,283.8 179.9,283.8 182.2,283.8 184.4,299.5 186.6,299.5 188.9,282.5 191.1,280.8 193.3,280.8 195.6,278.6 197.8,282.4 200.1,284.8 202.3,292.8 204.5,287.7 206.8,280.8 209.0,283.9 211.3,283.9 213.5,283.9 215.7,289.0 218.0,285.9 220.2,284.9 222.5,280.6 224.7,280.6 226.9,285.5 229.2,285.5 231.4,289.5 233.7,285.3 235.9,289.0 238.1,304.4 240.4,296.5 242.6,296.5 244.8,282.4 247.1,282.4 249.3,291.3 251.6,284.3 253.8,282.1"/>
<polyline points="29.9,288.9 32.1,291.2 34.4,296.6 36.6,293.5 38.9,291.4 41.1,284.3 43.3,284.0 45.6,286.0 47.8,288.7 50.0,287.6 52.3,288.0 54.5,291.6 56.8,292.9 59.0,292.5 61.2,293.7 63.5,293.9 65.7,277.5 68.0,247.5 70.2,248.7 72.4,247.3 74.7,261.8 76.9,292.5 79.2,295.0 81.4,296.3 83.6,293.2 85.9,291.5 88.1,290.9 90.4,292.0 92.6,288.6 94.8,283.6 97.1,287.5 99.3,290.8 101.5,288.1 103.8,289.1 106.0,287.9 108.3,288.3 110.5,293.6 112.7,298.3 115.0,293.6 117.2,289.7 119.5,290.6 121.7,288.3 123.9,287.2 126.2,289.6 128.4,284.7 130.7,281.9 132.9,283.1 135.1,283.5 137.4,282.3 139.6,280.9 141.8,260.8 144.1,289.5 146.3,289.7 148.6,295.1 150.8,298.3 153.0,295.3 155.3,290.0 157.5,290.6 159.8,297.8 162.0,299.6 164.2,294.5 166.5,291.8 168.7,290.1 171.0,286.7 173.2,285.1 175.4,287.5 177.7,289.5 179.9,295.2 182.2,295.8 184.4,290.4 186.6,287.1 188.9,286.4 191.1,286.5 193.3,286.1 195.6,289.0 197.8,296.6 200.1,294.8 202.3,289.4 204.5,289.8 206.8,293.7 209.0,288.9 211.3,291.0 213.5,291.5 215.7,289.1 218.0,289.4 220.2,293.4 222.5,288.8 224.7,290.1 226.9,293.7 229.2,295.4 231.4,299.5 233.7,295.5 235.9,291.8 238.1,293.3 240.4,292.8 242.6,291.5 244.8,289.3 247.1,287.0 249.3,289.7 251.6,290.7 253.8,286.4"/>
<polyline points="29.9,285.3 32.1,287.6 34.4,290.9 36.6,291.7 38.9,291.1 41.1,291.3 43.3,298.5 45.6,295.2 47.8,291.7 50.0,294.8 52.3,298.1 54.5,294.7 56.8,292.6 59.0,287.0 61.2,284.7 63.5,291.0 65.7,297.6 68.0,294.9 70.2,293.3 72.4,287.2 74.7,283.3 76.9,284.6 79.2,280.7 81.4,258.9 83.6,258.4 85.9,264.7 88.1,292.3 90.4,293.6 92.6,287.8 94.8,286.4 97.1,284.5 99.3,289.4 101.5,295.3 103.8,288.6 106.0,283.6 108.3,283.9 110.5,292.1 112.7,294.1 115.0,292.1 117.2,295.2 119.5,297.2 121.7,292.1 123.9,282.9 126.2,290.1 128.4,294.6 130.7,292.7 132.9,288.8 135.1,284.1 137.4,284.0 139.6,285.8 141.8,271.5 144.1,290.2 146.3,293.8 148.6,293.5 150.8,285.2 153.0,287.8 155.3,287.3 157.5,290.0 159.8,290.9 162.0,292.4 164.2,295.2 166.5,291.5 168.7,287.8 171.0,285.9 173.2,285.9 175.4,285.4 177.7,287.8 179.9,292.2 182.2,297.6 184.4,292.5 186.6,285.2 188.9,286.7 191.1,287.3 193.3,290.5 195.6,290.0 197.8,283.2 200.1,284.3 202.3,283.6 204.5,286.8 206.8,293.2 209.0,298.3 211.3,294.8 213.5,298.4 215.7,298.3 218.0,287.7 220.2,285.3 222.5,286.8 224.7,289.1 226.9,289.6 229.2,288.4 231.4,288.9 233.7,288.8 235.9,290.5 238.1,296.8 240.4,290.8 242.6,290.2 244.8,286.4 247.1,286.0 249.3,290.5 251.6,287.4 253.8,287.4"/>
<polyline points="29.9,295.4 32.1,290.6 34.4,287.5 36.6,286.6 38.9,289.6 41.1,290.8 43.3,291.0 45.6,294.5 47.8,293.9 50.0,291.1 52.3,294.4 54.5,293.1 56.8,325.8 59.0,310.8 61.2,290.3 63.5,294.2 65.7,292.8 68.0,291.0 70.2,288.3 72.4,288.2 74.7,287.5 76.9,283.1 79.2,286.6 81.4,291.5 83.6,293.1 85.9,292.1 88.1,290.5 90.4,284.7 92.6,286.9 94.8,291.7 97.1,294.5 99.3,295.4 101.5,291.1 103.8,285.2 106.0,285.9 108.3,289.4 110.5,292.3 112.7,295.9 115.0,290.3 117.2,288.6 119.5,286.1 121.7,289.9 123.9,292.0 126.2,291.0 128.4,290.7 130.7,286.1 132.9,287.2 135.1,288.2 137.4,289.1 139.6,290.5 141.8,265.3 144.1,286.9 146.3,283.8 148.6,287.4 150.8,289.4 153.0,291.9 155.3,292.4 157.5,290.2 159.8,285.9 162.0,287.0 164.2,286.9 166.5,290.4 168.7,294.1 171.0,296.2 173.2,287.0 175.4,282.0 177.7,286.3 179.9,284.1 182.2,286.0 184.4,290.3 186.6,289.3 188.9,292.5 191.1,290.6 193.3,286.0 195.6,289.3 197.8,292.1 200.1,287.9 202.3,292.4 204.5,292.3 206.8,291.7 209.0,292.2 211.3,295.2 213.5,294.5 215.7,286.8 218.0,292.3 220.2,297.3 222.5,299.6 224.7,291.1 226.9,283.5 229.2,279.8 231.4,276.4 233.7,280.6 235.9,286.3 238.1,287.4 240.4,284.9 242.6,288.0 244.8,290.4 247.1,292.8 249.3,288.3 251.6,283.0 253.8,287.3"/>
<polyline points="29.9,291.8 32.1,297.6 34.4,294.8 36.6,289.7 38.9,287.4 41.1,288.6 43.3,290.3 45.6,291.8 47.8,293.0 50.0,291.4 52.3,292.0 54.5,291.6 56.8,285.6 59.0,285.2 61.2,289.3 63.5,287.8 65.7,337.6 68.0,333.8 70.2,290.1 72.4,290.6 74.7,297.3 76.9,296.8 79.2,290.0 81.4,287.1 83.6,285.7 85.9,288.9 88.1,285.5 90.4,282.7 92.6,283.0 94.8,291.0 97.1,292.1 99.3,289.5 101.5,290.3 103.8,294.3 106.0,295.1 108.3,292.7 110.5,283.9 112.7,287.7 115.0,291.0 117.2,292.4 119.5,290.0 121.7,287.9 123.9,290.4 126.2,287.9 128.4,281.5 130.7,284.0 132.9,288.7 135.1,291.5 137.4,291.8 139.6,292.7 141.8,268.2 144.1,293.3 146.3,294.3 148.6,294.1 150.8,294.3 153.0,287.9 155.3,282.2 157.5,291.5 159.8,295.8 162.0,289.3 164.2,287.2 166.5,283.1 168.7,285.6 171.0,287.8 173.2,294.2 175.4,297.4 177.7,292.6 179.9,289.9 182.2,295.0 184.4,298.2 186.6,295.6 188.9,293.7 191.1,292.5 193.3,288.4 195.6,282.5 197.8,288.5 200.1,293.8 202.3,294.5 204.5,291.5 206.8,293.8 209.0,287.9 211.3,291.2 213.5,296.0 215.7,292.3 218.0,289.8 220.2,288.7 222.5,294.5 224.7,292.1 226.9,289.8 229.2,289.3 231.4,294.8 233.7,292.6 235.9,284.6 238.1,288.5 240.4,295.1 242.6,292.8 244.8,294.5 247.1,296.0 249.3,295.1 251.6,289.9 253.8,291.5"/>
<polyline points="29.9,290.1 32.1,295.0 34.4,292.2 36.6,289.5 38.9,293.9 41.1,296.8 43.3,292.7 45.6,285.7 47.8,286.5 50.0,285.3 52.3,288.3 54.5,288.5 56.8,294.5 59.0,293.0 61.2,288.4 63.5,283.6 65.7,285.3 68.0,286.5 70.2,291.6 72.4,334.5 74.7,321.8 76.9,282.4 79.2,282.8 81.4,285.2 83.6,288.1 85.9,283.2 88.1,285.6 90.4,284.9 92.6,288.6 94.8,298.3 97.1,301.7 99.3,298.8 101.5,291.5 103.8,287.0 106.0,289.0 108.3,289.4 110.5,294.7 112.7,295.4 115.0,294.6 117.2,293.1 119.5,294.7 121.7,291.7 123.9,289.3 126.2,292.6 128.4,294.9 130.7,295.0 132.9,296.8 135.1,294.8 137.4,288.8 139.6,290.3 141.8,266.0 144.1,292.8 146.3,288.4 148.6,286.3 150.8,286.0 153.0,286.3 155.3,289.4 157.5,290.9 159.8,290.0 162.0,285.8 164.2,283.8 166.5,281.7 168.7,285.4 171.0,293.9 173.2,298.6 175.4,298.5 177.7,294.9 179.9,291.5 182.2,297.4 184.4,299.7 186.6,292.8 188.9,287.0 191.1,284.7 193.3,283.7 195.6,289.3 197.8,293.0 200.1,294.2 202.3,296.6 204.5,293.0 206.8,284.3 209.0,280.0 211.3,283.1 213.5,288.2 215.7,290.9 218.0,292.5 220.2,296.4 222.5,290.1 224.7,287.5 226.9,290.3 229.2,292.9 231.4,295.7 233.7,289.3 235.9,290.7 238.1,300.3 240.4,295.8 242.6,288.4 244.8,285.6 247.1,291.7 249.3,290.0 251.6,285.1 253.8,287.5"/>
<polyline points="29.9,287.4 32.1,285.4 34.4,284.3 36.6,287.4 38.9,289.7 41.1,291.4 43.3,294.4 45.6,295.4 47.8,294.0 50.0,291.8 52.3,293.4 54.5,290.7 56.8,290.0 59.0,298.9 61.2,298.0 63.5,295.5 65.7,294.0 68.0,296.8 70.2,292.1 72.4,285.3 74.7,292.8 76.9,292.4 79.2,290.6 81.4,299.0 83.6,324.8 85.9,294.0 88.1,297.6 90.4,297.0 92.6,293.7 94.8,292.0 97.1,287.8 99.3,288.1 101.5,284.4 103.8,286.6 106.0,284.9 108.3,287.9 110.5,291.6 112.7,291.1 115.0,288.6 117.2,291.9 119.5,293.1 121.7,296.7 123.9,298.7 126.2,291.2 128.4,289.9 130.7,294.0 132.9,291.4 135.1,294.0 137.4,299.4 139.6,296.1 141.8,265.9 144.1,286.0 146.3,284.8 148.6,280.2 150.8,287.3 153.0,295.0 155.3,295.4 157.5,288.3 159.8,291.4 162.0,294.0 164.2,295.5 166.5,295.4 168.7,292.8 171.0,289.1 173.2,287.9 175.4,287.7 177.7,287.7 179.9,292.7 182.2,295.2 184.4,294.9 186.6,297.1 188.9,289.7 191.1,287.3 193.3,289.5 195.6,294.5 197.8,293.9 200.1,292.7 202.3,295.7 204.5,296.1 206.8,292.8 209.0,291.3 211.3,291.4 213.5,285.0 215.7,280.8 218.0,286.0 220.2,290.8 222.5,289.9 224.7,284.9 226.9,286.7 229.2,287.8 231.4,289.7 233.7,290.4 235.9,286.3 238.1,289.5 240.4,292.9 242.6,295.3 244.8,284.7 247.1,285.5 249.3,291.0 251.6,294.4 253.8,296.0"/>
<polyline points="29.9,286.5 32.1,285.6 34.4,290.1 36.6,292.5 38.9,293.1 41.1,291.3 43.3,291.7 45.6,291.2 47.8,290.3 50.0,292.9 52.3,295.1 54.5,294.1 56.8,292.7 59.0,288.4 61.2,286.5 63.5,293.5 65.7,299.1 68.0,292.0 70.2,291.6 72.4,294.4 74.7,290.6 76.9,286.6 79.2,295.2 81.4,297.0 83.6,296.6 85.9,302.5 88.1,295.2 90.4,288.1 92.6,325.3 94.8,308.4 97.1,291.6 99.3,288.3 101.5,281.0 103.8,284.9 106.0,287.2 108.3,293.2 110.5,291.0 112.7,289.3 115.0,292.6 117.2,298.8 119.5,293.2 121.7,285.7 123.9,288.0 126.2,291.8 128.4,291.1 130.7,295.7 132.9,290.7 135.1,289.8 137.4,294.0 139.6,297.4 141.8,273.6 144.1,291.6 146.3,284.0 148.6,285.0 150.8,287.1 153.0,287.7 155.3,291.3 157.5,293.5 159.8,301.2 162.0,296.9 164.2,293.5 166.5,292.0 168.7,290.9 171.0,289.8 173.2,291.2 175.4,288.7 177.7,289.6 179.9,287.9 182.2,288.4 184.4,287.2 186.6,289.0 188.9,292.3 191.1,292.7 193.3,295.3 195.6,292.0 197.8,290.1 200.1,291.7 202.3,290.6 204.5,286.2 206.8,283.8 209.0,285.2 211.3,291.7 213.5,292.1 215.7,287.8 218.0,289.1 220.2,293.7 222.5,284.9 224.7,286.0 226.9,292.4 229.2,289.0 231.4,291.3 233.7,293.2 235.9,295.7 238.1,295.6 240.4,293.3 242.6,292.6 244.8,294.9 247.1,293.5 249.3,294.3 251.6,294.8 253.8,295.4"/>
<polyline points="29.9,293.6 32.1,289.4 34.4,290.3 36.6,292.4 38.9,292.9 41.1,292.7 43.3,289.3 45.6,287.0 47.8,285.3 50.0,289.2 52.3,285.9 54.5,288.8 56.8,293.2 59.0,289.5 61.2,294.7 63.5,293.6 65.7,296.6 68.0,292.7 70.2,292.3 72.4,294.7 74.7,298.8 76.9,294.4 79.2,286.8 81.4,287.1 83.6,290.2 85.9,291.9 88.1,291.2 90.4,286.3 92.6,287.6 94.8,288.6 97.1,296.3 99.3,296.1 101.5,288.8 103.8,292.2 106.0,322.2 108.3,357.6 110.5,291.3 112.7,286.1 115.0,285.4 117.2,283.4 119.5,286.1 121.7,286.6 123.9,288.6 126.2,287.2 128.4,283.8 130.7,292.0 132.9,299.4 135.1,292.9 137.4,287.3 139.6,284.1 141.8,263.0 144.1,294.5 146.3,289.0 148.6,284.0 150.8,287.5 153.0,285.5 155.3,286.2 157.5,288.4 159.8,292.5 162.0,292.3 164.2,293.4 166.5,292.4 168.7,291.7 171.0,288.2 173.2,291.6 175.4,295.0 177.7,300.1 179.9,294.0 182.2,284.0 184.4,291.2 186.6,297.0 188.9,293.3 191.1,292.5 193.3,293.4 195.6,293.2 197.8,291.9 200.1,289.7 202.3,293.7 204.5,290.6 206.8,288.7 209.0,290.1 211.3,283.9 213.5,288.0 215.7,291.7 218.0,292.1 220.2,290.8 222.5,294.8 224.7,288.0 226.9,281.9 229.2,285.7 231.4,288.4 233.7,292.0 235.9,290.1 238.1,293.1 240.4,293.1 242.6,288.8 244.8,284.7 247.1,292.8 249.3,298.0 251.6,291.6 253.8,286.9"/>
<polyline points="29.9,288.3 32.1,290.6 34.4,291.3 36.6,286.9 38.9,288.6 41.1,284.8 43.3,287.1 45.6,289.8 47.8,294.9 50.0,293.5 52.3,294.0 54.5,290.2 56.8,286.0 59.0,287.6 61.2,288.2 63.5,288.5 65.7,293.7 68.0,292.6 70.2,291.5 72.4,288.4 74.7,289.6 76.9,283.3 79.2,284.1 81.4,295.8 83.6,295.8 85.9,295.1 88.1,289.3 90.4,291.4 92.6,289.0 94.8,290.0 97.1,295.3 99.3,295.8 101.5,289.3 103.8,290.9 106.0,288.5 108.3,285.2 110.5,289.3 112.7,294.7 115.0,339.9 117.2,326.7 119.5,295.3 121.7,298.4 123.9,295.8 126.2,295.8 128.4,297.5 130.7,292.5 132.9,287.2 135.1,284.8 137.4,281.1 139.6,283.6 141.8,261.6 144.1,297.1 146.3,290.8 148.6,286.3 150.8,288.1 153.0,286.8 155.3,291.6 157.5,289.5 159.8,285.0 162.0,283.2 164.2,285.9 166.5,284.0 168.7,291.5 171.0,297.3 173.2,291.4 175.4,286.1 177.7,287.8 179.9,285.0 182.2,286.8 184.4,286.5 186.6,293.1 188.9,287.6 191.1,295.2 193.3,294.8 195.6,294.6 197.8,291.2 200.1,291.3 202.3,291.0 204.5,287.4 206.8,286.6 209.0,288.9 211.3,288.7 213.5,296.7 215.7,298.4 218.0,296.3 220.2,289.5 222.5,287.3 224.7,291.8 226.9,294.9 229.2,294.8 231.4,288.2 233.7,286.3 235.9,291.3 238.1,292.4 240.4,292.3 242.6,290.8 244.8,291.9 247.1,298.7 249.3,294.4 251.6,289.6 253.8,291.1"/>
<polyline points="29.9,286.7 32.1,290.4 34.4,290.2 36.6,292.1 38.9,290.2 41.1,290.1 43.3,289.8 45.6,288.5 47.8,286.3 50.0,292.5 52.3,295.5 54.5,293.2 56.8,288.8 59.0,287.5 61.2,290.6 63.5,293.4 65.7,293.5 68.0,292.7 70.2,289.5 72.4,289.5 74.7,289.4 76.9,289.6 79.2,288.5 81.4,286.7 83.6,290.0 85.9,288.8 88.1,289.0 90.4,290.2 92.6,285.3 94.8,288.9 97.1,292.7 99.3,287.7 101.5,286.5 103.8,310.2 106.0,340.3 108.3,293.0 110.5,292.1 112.7,294.8 115.0,291.5 117.2,289.0 119.5,287.5 121.7,289.5 123.9,290.5 126.2,295.6 128.4,293.9 130.7,287.0 132.9,283.6 135.1,287.5 137.4,295.9 139.6,296.7 141.8,264.6 144.1,287.9 146.3,290.9 148.6,289.9 150.8,288.2 153.0,288.6 155.3,290.0 157.5,288.5 159.8,287.1 162.0,289.0 164.2,289.4 166.5,285.9 168.7,281.3 171.0,281.5 173.2,291.0 175.4,290.8 177.7,291.3 179.9,294.6 182.2,293.8 184.4,294.6 186.6,295.5 188.9,293.2 191.1,290.5 193.3,294.1 195.6,293.9 197.8,293.1 200.1,295.9 202.3,298.2 204.5,298.6 206.8,293.7 209.0,289.0 211.3,293.9 213.5,291.1 215.7,294.1 218.0,294.1 220.2,288.6 222.5,287.2 224.7,287.8 226.9,289.0 229.2,288.6 231.4,291.4 233.7,289.1 235.9,287.2 238.1,290.7 240.4,291.7 242.6,286.4 244.8,290.7 247.1,293.5 249.3,288.2 251.6,285.0 253.8,288.7"/>
<polyline points="29.9,288.8 32.1,289.4 34.4,289.7 36.6,287.4 38.9,285.3 41.1,283.7 43.3,289.0 45.6,292.6 47.8,291.7 50.0,284.5 52.3,288.4 54.5,286.7 56.8,287.6 59.0,293.7 61.2,292.5 63.5,288.2 65.7,290.5 68.0,293.9 70.2,289.0 72.4,284.0 74.7,286.0 76.9,285.7 79.2,282.0 81.4,280.7 83.6,287.8 85.9,292.0 88.1,291.6 90.4,293.4 92.6,295.5 94.8,293.4 97.1,292.1 99.3,287.2 101.5,292.3 103.8,300.5 106.0,296.6 108.3,291.2 110.5,293.0 112.7,294.7 115.0,294.5 117.2,293.4 119.5,290.2 121.7,292.6 123.9,293.4 126.2,290.4 128.4,293.6 130.7,312.9 132.9,357.9 135.1,295.1 137.4,294.6 139.6,296.1 141.8,264.0 144.1,287.8 146.3,290.4 148.6,284.1 150.8,283.6 153.0,284.8 155.3,289.2 157.5,287.2 159.8,286.3 162.0,283.9 164.2,288.2 166.5,287.6 168.7,289.6 171.0,287.1 173.2,291.9 175.4,296.9 177.7,297.8 179.9,292.8 182.2,288.0 184.4,294.6 186.6,295.3 188.9,292.3 191.1,290.6 193.3,288.1 195.6,285.3 197.8,291.4 200.1,295.3 202.3,290.7 204.5,291.8 206.8,291.9 209.0,288.6 211.3,283.5 213.5,284.4 215.7,289.4 218.0,291.4 220.2,290.7 222.5,295.2 224.7,298.8 226.9,294.2 229.2,289.2 231.4,292.5 233.7,291.4 235.9,284.4 238.1,281.9 240.4,284.5 242.6,290.7 244.8,288.0 247.1,284.0 249.3,285.8 251.6,290.9 253.8,292.8"/>
<polyline points="29.9,294.5 32.1,290.7 34.4,287.1 36.6,284.1 38.9,284.3 41.1,290.0 43.3,292.8 45.6,289.2 47.8,293.5 50.0,293.0 52.3,293.8 54.5,293.4 56.8,292.1 59.0,294.5 61.2,292.4 63.5,289.6 65.7,285.4 68.0,284.2 70.2,286.1 72.4,287.0 74.7,283.1 76.9,286.4 79.2,293.1 81.4,290.4 83.6,289.5 85.9,292.5 88.1,291.0 90.4,292.4 92.6,293.9 94.8,292.2 97.1,294.2 99.3,295.6 101.5,294.3 103.8,295.6 106.0,289.2 108.3,290.1 110.5,289.2 112.7,285.7 115.0,286.2 117.2,289.7 119.5,288.3 121.7,284.8 123.9,285.2 126.2,291.0 128.4,291.7 130.7,295.1 132.9,295.1 135.1,299.2 137.4,361.1 139.6,298.5 141.8,270.6 144.1,293.9 146.3,295.8 148.6,293.4 150.8,293.0 153.0,287.0 155.3,287.4 157.5,288.2 159.8,289.6 162.0,286.6 164.2,286.6 166.5,287.2 168.7,288.6 171.0,288.4 173.2,289.5 175.4,289.1 177.7,291.4 179.9,292.0 182.2,290.5 184.4,290.3 186.6,291.8 188.9,293.8 191.1,291.4 193.3,287.6 195.6,288.6 197.8,289.8 200.1,290.3 202.3,286.6 204.5,289.0 206.8,288.9 209.0,288.6 211.3,288.5 213.5,297.4 215.7,300.6 218.0,298.0 220.2,301.3 222.5,297.8 224.7,294.9 226.9,292.0 229.2,290.7 231.4,294.2 233.7,289.0 235.9,283.9 238.1,284.9 240.4,293.0 242.6,291.0 244.8,285.7 247.1,290.4 249.3,287.3 251.6,287.3 253.8,290.3"/>
<polyline points="29.9,296.2 32.1,293.8 34.4,292.3 36.6,291.7 38.9,289.9 41.1,287.3 43.3,283.8 45.6,287.2 47.8,291.7 50.0,287.0 52.3,289.6 54.5,295.7 56.8,295.7 59.0,291.8 61.2,290.1 63.5,291.4 65.7,296.1 68.0,291.4 70.2,286.3 72.4,296.1 74.7,297.7 76.9,292.3 79.2,290.7 81.4,292.4 83.6,291.3 85.9,292.3 88.1,294.2 90.4,292.6 92.6,291.7 94.8,289.4 97.1,289.3 99.3,293.5 101.5,293.8 103.8,295.4 106.0,293.4 108.3,290.3 110.5,289.4 112.7,292.1 115.0,289.9 117.2,291.0 119.5,292.4 121.7,292.9 123.9,293.1 126.2,292.1 128.4,294.5 130.7,291.6 132.9,290.6 135.1,287.2 137.4,290.5 139.6,289.5 141.8,270.8 144.1,285.3 146.3,282.4 148.6,292.2 150.8,354.0 153.0,297.7 155.3,285.8 157.5,287.6 159.8,290.3 162.0,289.5 164.2,286.6 166.5,289.3 168.7,297.9 171.0,296.7 173.2,294.8 175.4,293.3 177.7,286.3 179.9,284.9 182.2,287.5 184.4,285.8 186.6,287.8 188.9,284.7 191.1,285.3 193.3,287.5 195.6,288.3 197.8,289.5 200.1,286.8 202.3,289.0 204.5,289.2 206.8,292.7 209.0,293.1 211.3,289.9 213.5,287.3 215.7,285.0 218.0,288.1 220.2,287.9 222.5,285.2 224.7,281.9 226.9,287.9 229.2,295.1 231.4,296.7 233.7,293.1 235.9,291.9 238.1,295.7 240.4,297.0 242.6,295.3 244.8,291.2 247.1,289.6 249.3,293.4 251.6,292.8 253.8,285.2"/>
<polyline points="29.9,286.3 32.1,290.9 34.4,291.2 36.6,291.0 38.9,291.2 41.1,297.7 43.3,293.1 45.6,289.4 47.8,289.5 50.0,294.9 52.3,296.5 54.5,294.9 56.8,288.9 59.0,287.4 61.2,285.9 63.5,286.3 65.7,289.2 68.0,294.4 70.2,291.5 72.4,286.3 74.7,289.4 76.9,294.9 79.2,295.6 81.4,293.8 83.6,292.1 85.9,290.7 88.1,290.0 90.4,287.8 92.6,285.8 94.8,288.3 97.1,290.8 99.3,285.1 101.5,289.7 103.8,291.7 106.0,285.9 108.3,283.7 110.5,285.5 112.7,285.5 115.0,289.7 117.2,292.4 119.5,293.1 121.7,287.9 123.9,286.4 126.2,284.6 128.4,287.9 130.7,286.4 132.9,286.3 135.1,284.0 137.4,286.2 139.6,286.3 141.8,268.0 144.1,293.2 146.3,291.2 148.6,289.7 150.8,297.4 153.0,296.3 155.3,290.9 157.5,290.0 159.8,289.7 162.0,288.9 164.2,291.3 166.5,330.0 168.7,322.9 171.0,290.4 173.2,287.9 175.4,293.0 177.7,295.8 179.9,292.4 182.2,290.7 184.4,291.1 186.6,294.3 188.9,293.0 191.1,291.5 193.3,287.7 195.6,290.0 197.8,294.0 200.1,295.0 202.3,289.9 204.5,286.4 206.8,295.1 209.0,293.6 211.3,286.3 213.5,286.1 215.7,290.4 218.0,292.0 220.2,293.6 222.5,294.7 224.7,292.2 226.9,289.0 229.2,290.7 231.4,295.7 233.7,294.0 235.9,291.9 238.1,289.1 240.4,295.4 242.6,297.7 244.8,292.3 247.1,277.9 249.3,280.4 251.6,287.8 253.8,289.5"/>
<polyline points="29.9,291.5 32.1,290.0 34.4,290.9 36.6,291.0 38.9,289.5 41.1,287.6 43.3,295.4 45.6,290.6 47.8,291.0 50.0,295.5 52.3,296.3 54.5,296.1 56.8,289.6 59.0,286.8 61.2,286.3 63.5,286.5 65.7,296.2 68.0,297.9 70.2,293.1 72.4,288.3 74.7,289.6 76.9,293.8 79.2,291.1 81.4,289.9 83.6,294.3 85.9,289.4 88.1,285.5 90.4,284.5 92.6,286.2 94.8,293.4 97.1,300.6 99.3,299.8 101.5,296.4 103.8,292.2 106.0,288.7 108.3,289.5 110.5,288.2 112.7,287.7 115.0,294.4 117.2,291.1 119.5,286.6 121.7,282.6 123.9,280.1 126.2,285.6 128.4,292.5 130.7,291.1 132.9,292.7 135.1,291.2 137.4,293.2 139.6,293.2 141.8,261.5 144.1,292.6 146.3,291.4 148.6,290.3 150.8,289.8 153.0,293.8 155.3,297.9 157.5,298.0 159.8,290.5 162.0,262.8 164.2,258.0 166.5,259.4 168.7,286.2 171.0,288.9 173.2,287.8 175.4,288.0 177.7,285.7 179.9,287.8 182.2,289.2 184.4,288.8 186.6,293.5 188.9,292.1 191.1,290.8 193.3,291.3 195.6,290.6 197.8,293.8 200.1,294.6 202.3,286.0 204.5,288.9 206.8,293.4 209.0,296.0 211.3,292.8 213.5,293.2 215.7,294.4 218.0,287.3 220.2,288.3 222.5,294.9 224.7,291.1 226.9,291.4 229.2,288.1 231.4,286.5 233.7,285.5 235.9,285.4 238.1,285.0 240.4,290.2 242.6,292.4 244.8,292.5 247.1,289.7 249.3,283.1 251.6,285.4 253.8,285.2"/>
<polyline points="29.9,283.1 32.1,285.5 34.4,282.2 36.6,287.5 38.9,287.4 41.1,286.5 43.3,292.9 45.6,289.4 47.8,285.1 50.0,282.2 52.3,288.7 54.5,292.6 56.8,297.9 59.0,294.7 61.2,296.8 63.5,295.3 65.7,290.1 68.0,293.0 70.2,294.4 72.4,288.8 74.7,289.1 76.9,293.2 79.2,297.0 81.4,296.4 83.6,296.2 85.9,293.4 88.1,292.2 90.4,292.1 92.6,293.2 94.8,291.2 97.1,288.3 99.3,289.9 101.5,286.9 103.8,285.8 106.0,289.0 108.3,294.7 110.5,289.7 112.7,288.6 115.0,289.1 117.2,291.4 119.5,293.4 121.7,296.4 123.9,296.0 126.2,292.4 128.4,294.1 130.7,292.3 132.9,286.5 135.1,285.3 137.4,292.0 139.6,297.3 141.8,261.0 144.1,287.0 146.3,289.7 148.6,293.1 150.8,294.5 153.0,287.8 155.3,279.8 157.5,285.1 159.8,291.7 162.0,293.4 164.2,291.7 166.5,295.3 168.7,294.2 171.0,292.2 173.2,291.1 175.4,289.3 177.7,285.8 179.9,256.5 182.2,256.5 184.4,259.8 186.6,290.3 188.9,296.1 191.1,286.0 193.3,288.7 195.6,287.0 197.8,290.5 200.1,289.0 202.3,286.2 204.5,286.0 206.8,291.4 209.0,294.9 211.3,294.1 213.5,297.8 215.7,296.5 218.0,290.0 220.2,290.8 222.5,285.8 224.7,286.0 226.9,292.4 229.2,293.2 231.4,290.5 233.7,287.0 235.9,287.4 238.1,285.9 240.4,287.2 242.6,286.1 244.8,287.4 247.1,284.2 249.3,283.3 251.6,282.6 253.8,286.4"/>
<polyline points="29.9,287.9 32.1,290.6 34.4,289.6 36.6,293.5 38.9,293.8 41.1,294.6 43.3,290.3 45.6,290.0 47.8,294.2 50.0,300.3 52.3,302.9 54.5,294.9 56.8,289.2 59.0,292.6 61.2,292.2 63.5,293.1 65.7,290.8 68.0,291.7 70.2,288.6 72.4,292.7 74.7,290.7 76.9,284.7 79.2,287.4 81.4,289.9 83.6,290.4 85.9,290.6 88.1,294.8 90.4,293.8 92.6,286.7 94.8,288.4 97.1,289.6 99.3,290.0 101.5,288.5 103.8,285.9 106.0,288.4 108.3,291.2 110.5,292.4 112.7,289.1 115.0,286.8 117.2,291.2 119.5,290.9 121.7,286.3 123.9,286.6 126.2,287.3 128.4,293.5 130.7,295.4 132.9,294.4 135.1,291.9 137.4,294.3 139.6,290.2 141.8,269.5 144.1,287.3 146.3,285.4 148.6,288.5 150.8,296.2 153.0,289.3 155.3,285.9 157.5,289.0 159.8,287.1 162.0,285.9 164.2,287.7 166.5,291.1 168.7,288.1 171.0,292.2 173.2,324.4 175.4,330.4 177.7,286.3 179.9,285.2 182.2,282.5 184.4,284.2 186.6,285.3 188.9,286.2 191.1,293.2 193.3,294.0 195.6,295.6 197.8,294.0 200.1,287.2 202.3,285.7 204.5,283.1 206.8,289.0 209.0,299.7 211.3,295.4 213.5,293.0 215.7,290.9 218.0,285.7 220.2,288.7 222.5,287.2 224.7,289.5 226.9,291.5 229.2,290.5 231.4,285.1 233.7,289.6 235.9,293.8 238.1,292.9 240.4,293.7 242.6,289.1 244.8,293.9 247.1,294.0 249.3,291.8 251.6,291.9 253.8,286.5"/>
<polyline points="29.9,294.9 32.1,293.7 34.4,294.6 36.6,296.6 38.9,295.5 41.1,293.2 43.3,292.9 45.6,290.3 47.8,286.9 50.0,287.6 52.3,294.3 54.5,295.2 56.8,293.7 59.0,292.3 61.2,290.6 63.5,293.2 65.7,299.7 68.0,299.0 70.2,291.3 72.4,286.0 74.7,285.5 76.9,288.1 79.2,291.4 81.4,297.6 83.6,298.5 85.9,290.3 88.1,280.6 90.4,284.8 92.6,292.3 94.8,295.2 97.1,295.1 99.3,293.0 101.5,289.0 103.8,292.9 106.0,291.6 108.3,292.4 110.5,289.5 112.7,286.9 115.0,289.4 117.2,291.6 119.5,294.5 121.7,292.4 123.9,286.9 126.2,291.3 128.4,293.5 130.7,294.7 132.9,291.9 135.1,293.3 137.4,291.6 139.6,292.9 141.8,265.8 144.1,289.5 146.3,289.0 148.6,292.5 150.8,288.4 153.0,287.9 155.3,286.3 157.5,286.6 159.8,291.5 162.0,292.0 164.2,289.0 166.5,289.6 168.7,295.7 171.0,288.4 173.2,291.9 175.4,297.2 177.7,294.8 179.9,292.4 182.2,286.1 184.4,290.9 186.6,294.1 188.9,294.2 191.1,294.6 193.3,314.3 195.6,346.5 197.8,292.7 200.1,292.9 202.3,289.2 204.5,290.7 206.8,290.7 209.0,287.6 211.3,292.6 213.5,299.9 215.7,295.1 218.0,298.7 220.2,298.1 222.5,293.8 224.7,290.7 226.9,290.3 229.2,291.2 231.4,288.4 233.7,289.3 235.9,293.7 238.1,296.7 240.4,293.1 242.6,296.0 244.8,296.4 247.1,295.3 249.3,297.3 251.6,300.3 253.8,295.8"/>
<polyline points="29.9,286.6 32.1,287.8 34.4,290.9 36.6,289.3 38.9,289.9 41.1,292.0 43.3,294.0 45.6,291.1 47.8,291.0 50.0,287.0 52.3,288.9 54.5,289.0 56.8,293.6 59.0,297.2 61.2,293.9 63.5,294.6 65.7,292.9 68.0,290.0 70.2,284.5 72.4,289.3 74.7,291.5 76.9,289.5 79.2,285.0 81.4,288.0 83.6,288.2 85.9,283.0 88.1,284.1 90.4,291.6 92.6,295.7 94.8,290.3 97.1,290.9 99.3,292.9 101.5,289.7 103.8,290.6 106.0,293.3 108.3,288.8 110.5,286.5 112.7,285.2 115.0,287.4 117.2,285.4 119.5,288.7 121.7,290.5 123.9,289.2 126.2,289.0 128.4,291.0 130.7,286.2 132.9,286.1 135.1,285.8 137.4,287.4 139.6,287.7 141.8,266.0 144.1,296.5 146.3,297.6 148.6,291.0 150.8,284.9 153.0,290.8 155.3,288.4 157.5,286.2 159.8,289.4 162.0,288.1 164.2,285.7 166.5,280.2 168.7,285.1 171.0,293.8 173.2,294.2 175.4,295.6 177.7,294.0 179.9,294.9 182.2,293.0 184.4,285.8 186.6,286.3 188.9,286.3 191.1,283.8 193.3,283.7 195.6,289.6 197.8,295.0 200.1,288.4 202.3,293.1 204.5,362.8 206.8,302.5 209.0,296.6 211.3,295.3 213.5,290.1 215.7,292.6 218.0,293.3 220.2,292.5 222.5,289.8 224.7,295.0 226.9,292.3 229.2,288.4 231.4,291.5 233.7,296.2 235.9,296.5 238.1,288.4 240.4,287.2 242.6,289.1 244.8,289.7 247.1,287.7 249.3,290.0 251.6,295.7 253.8,291.9"/>
<polyline points="29.9,292.0 32.1,292.0 34.4,294.1 36.6,287.9 38.9,292.6 41.1,299.7 43.3,293.9 45.6,291.4 47.8,295.8 50.0,295.3 52.3,293.5 54.5,293.4 56.8,295.1 59.0,291.2 61.2,294.8 63.5,301.3 65.7,296.6 68.0,286.2 70.2,282.9 72.4,286.7 74.7,291.0 76.9,295.1 79.2,299.2 81.4,296.8 83.6,291.1 85.9,297.7 88.1,291.2 90.4,283.9 92.6,288.5 94.8,295.5 97.1,293.0 99.3,290.5 101.5,294.0 103.8,292.1 106.0,289.3 108.3,293.4 110.5,291.7 112.7,289.2 115.0,289.6 117.2,289.1 119.5,286.3 121.7,284.0 123.9,282.6 126.2,283.0 128.4,287.2 130.7,292.5 132.9,292.8 135.1,289.1 137.4,293.1 139.6,296.2 141.8,272.5 144.1,293.8 146.3,294.6 148.6,297.8 150.8,293.6 153.0,287.6 155.3,290.5 157.5,295.6 159.8,294.0 162.0,289.4 164.2,289.8 166.5,291.9 168.7,296.3 171.0,293.6 173.2,292.7 175.4,290.2 177.7,285.6 179.9,291.5 182.2,294.5 184.4,294.7 186.6,297.7 188.9,297.6 191.1,297.4 193.3,294.4 195.6,296.2 197.8,299.7 200.1,297.6 202.3,299.2 204.5,300.9 206.8,293.6 209.0,308.9 211.3,352.9 213.5,294.2 215.7,284.3 218.0,282.7 220.2,280.8 222.5,280.1 224.7,283.2 226.9,281.1 229.2,282.6 231.4,290.3 233.7,291.6 235.9,280.6 238.1,281.1 240.4,287.8 242.6,293.3 244.8,294.8 247.1,290.1 249.3,290.4 251.6,292.3 253.8,290.5"/>
<polyline points="29.9,287.3 32.1,291.4 34.4,291.4 36.6,295.8 38.9,295.5 41.1,286.5 43.3,282.6 45.6,283.2 47.8,291.7 50.0,293.7 52.3,294.0 54.5,294.2 56.8,298.4 59.0,297.7 61.2,287.2 63.5,289.2 65.7,293.9 68.0,291.3 70.2,288.2 72.4,290.7 74.7,289.1 76.9,287.7 79.2,286.7 81.4,288.3 83.6,293.2 85.9,291.8 88.1,289.5 90.4,290.0 92.6,294.1 94.8,297.4 97.1,293.0 99.3,291.9 101.5,290.9 103.8,290.8 106.0,292.4 108.3,295.0 110.5,295.6 112.7,294.0 115.0,290.5 117.2,292.3 119.5,292.5 121.7,290.6 123.9,291.4 126.2,292.8 128.4,289.9 130.7,290.3 132.9,291.2 135.1,296.1 137.4,293.4 139.6,283.2 141.8,268.7 144.1,289.8 146.3,289.3 148.6,284.5 150.8,289.6 153.0,289.3 155.3,291.2 157.5,292.5 159.8,286.1 162.0,288.6 164.2,289.2 166.5,290.1 168.7,287.1 171.0,287.7 173.2,294.2 175.4,291.3 177.7,283.3 179.9,287.8 182.2,291.7 184.4,285.8 186.6,285.3 188.9,287.9 191.1,291.6 193.3,288.4 195.6,287.8 197.8,286.7 200.1,287.6 202.3,290.0 204.5,290.4 206.8,286.9 209.0,286.1 211.3,290.8 213.5,288.2 215.7,282.8 218.0,285.9 220.2,283.9 222.5,283.7 224.7,290.7 226.9,294.6 229.2,293.9 231.4,290.3 233.7,287.4 235.9,287.0 238.1,290.9 240.4,299.5 242.6,252.6 244.8,249.8 247.1,262.2 249.3,295.1 251.6,290.2 253.8,285.5"/>
<polyline points="29.9,286.9 32.1,279.6 34.4,285.2 36.6,297.8 38.9,294.2 41.1,293.3 43.3,290.4 45.6,289.6 47.8,292.2 50.0,291.9 52.3,291.9 54.5,290.9 56.8,289.3 59.0,289.8 61.2,289.1 63.5,285.2 65.7,287.3 68.0,290.6 70.2,291.3 72.4,288.0 74.7,283.7 76.9,283.9 79.2,283.9 81.4,291.3 83.6,293.0 85.9,294.7 88.1,294.2 90.4,287.9 92.6,285.9 94.8,285.1 97.1,286.0 99.3,292.3 101.5,292.8 103.8,292.6 106.0,296.2 108.3,294.0 110.5,289.3 112.7,287.0 115.0,288.7 117.2,291.9 119.5,295.1 121.7,293.4 123.9,288.9 126.2,287.8 128.4,287.2 130.7,284.0 132.9,283.3 135.1,287.6 137.4,287.8 139.6,287.5 141.8,266.1 144.1,289.6 146.3,294.5 148.6,294.0 150.8,292.3 153.0,292.4 155.3,293.5 157.5,295.9 159.8,295.2 162.0,292.1 164.2,289.0 166.5,288.9 168.7,289.4 171.0,292.5 173.2,293.0 175.4,287.5 177.7,284.9 179.9,286.8 182.2,293.7 184.4,294.4 186.6,287.0 188.9,287.3 191.1,290.7 193.3,294.7 195.6,296.6 197.8,289.1 200.1,288.0 202.3,285.7 204.5,285.7 206.8,293.6 209.0,297.0 211.3,292.4 213.5,291.8 215.7,296.6 218.0,299.3 220.2,298.9 222.5,290.3 224.7,287.4 226.9,289.9 229.2,290.8 231.4,294.7 233.7,295.8 235.9,293.8 238.1,294.0 240.4,290.8 242.6,289.0 244.8,291.6 247.1,323.2 249.3,351.0 251.6,293.5 253.8,292.5"/>
<polyline points="29.9,285.1 32.1,287.8 34.4,292.1 36.6,294.0 38.9,296.3 41.1,295.5 43.3,284.9 45.6,282.3 47.8,281.5 50.0,280.6 52.3,284.3 54.5,286.7 56.8,288.7 59.0,288.0 61.2,293.1 63.5,297.4 65.7,297.9 68.0,294.0 70.2,288.8 72.4,287.3 74.7,286.4 76.9,285.5 79.2,288.6 81.4,291.2 83.6,288.4 85.9,285.2 88.1,290.5 90.4,289.5 92.6,284.2 94.8,287.4 97.1,292.6 99.3,291.1 101.5,287.0 103.8,285.1 106.0,286.9 108.3,289.1 110.5,286.5 112.7,282.8 115.0,286.4 117.2,293.5 119.5,295.5 121.7,292.7 123.9,287.7 126.2,287.7 128.4,289.1 130.7,288.4 132.9,291.6 135.1,292.3 137.4,290.0 139.6,291.5 141.8,271.2 144.1,288.1 146.3,286.8 148.6,291.3 150.8,290.0 153.0,289.6 155.3,292.5 157.5,290.4 159.8,288.3 162.0,291.1 164.2,293.0 166.5,291.6 168.7,290.0 171.0,292.7 173.2,294.4 175.4,297.2 177.7,296.5 179.9,291.3 182.2,291.9 184.4,292.2 186.6,288.0 188.9,291.9 191.1,288.1 193.3,283.2 195.6,280.8 197.8,287.9 200.1,291.3 202.3,293.7 204.5,290.5 206.8,284.9 209.0,283.5 211.3,308.7 213.5,340.8 215.7,286.9 218.0,289.5 220.2,285.9 222.5,290.1 224.7,293.6 226.9,288.2 229.2,287.7 231.4,290.3 233.7,283.5 235.9,286.8 238.1,294.7 240.4,292.7 242.6,294.7 244.8,296.4 247.1,291.1 249.3,288.9 251.6,291.2 253.8,290.7"/>
<polyline points="29.9,297.1 32.1,293.6 34.4,288.9 36.6,288.9 38.9,291.2 41.1,288.7 43.3,286.7 45.6,283.5 47.8,286.6 50.0,293.6 52.3,291.0 54.5,288.5 56.8,288.7 59.0,290.6 61.2,295.3 63.5,292.7 65.7,292.2 68.0,292.3 70.2,290.6 72.4,293.5 74.7,292.7 76.9,286.3 79.2,283.6 81.4,285.4 83.6,286.2 85.9,284.9 88.1,285.8 90.4,290.5 92.6,294.0 94.8,294.3 97.1,325.2 99.3,313.2 101.5,285.7 103.8,284.8 106.0,285.3 108.3,287.2 110.5,288.6 112.7,287.0 115.0,286.1 117.2,287.1 119.5,289.7 121.7,291.0 123.9,293.9 126.2,287.1 128.4,284.2 130.7,286.8 132.9,288.9 135.1,290.8 137.4,288.9 139.6,297.3 141.8,276.4 144.1,297.1 146.3,294.3 148.6,291.6 150.8,294.4 153.0,293.0 155.3,291.9 157.5,291.0 159.8,290.0 162.0,290.6 164.2,290.2 166.5,291.0 168.7,295.5 171.0,295.4 173.2,286.7 175.4,286.2 177.7,291.1 179.9,290.4 182.2,285.4 184.4,289.8 186.6,296.2 188.9,290.7 191.1,287.7 193.3,293.2 195.6,293.6 197.8,292.9 200.1,288.4 202.3,287.5 204.5,292.3 206.8,292.7 209.0,286.3 211.3,290.7 213.5,293.8 215.7,285.6 218.0,279.9 220.2,284.7 222.5,287.1 224.7,286.9 226.9,288.5 229.2,290.5 231.4,289.5 233.7,288.8 235.9,285.8 238.1,280.9 240.4,287.2 242.6,293.8 244.8,293.9 247.1,289.2 249.3,289.8 251.6,289.0 253.8,290.7"/>
<polyline points="29.9,288.5 32.1,289.8 34.4,289.5 36.6,292.3 38.9,292.2 41.1,292.1 43.3,293.2 45.6,292.9 47.8,296.2 50.0,289.3 52.3,285.1 54.5,291.4 56.8,290.6 59.0,282.0 61.2,283.8 63.5,287.5 65.7,287.3 68.0,284.8 70.2,289.7 72.4,290.2 74.7,291.9 76.9,294.1 79.2,289.0 81.4,290.2 83.6,292.4 85.9,291.5 88.1,287.0 90.4,286.2 92.6,285.8 94.8,283.3 97.1,282.7 99.3,289.5 101.5,288.2 103.8,287.1 106.0,288.2 108.3,293.6 110.5,290.8 112.7,287.8 115.0,293.9 117.2,295.7 119.5,298.8 121.7,296.4 123.9,292.5 126.2,288.5 128.4,290.2 130.7,293.8 132.9,290.9 135.1,291.8 137.4,292.0 139.6,292.9 141.8,268.0 144.1,287.3 146.3,287.4 148.6,290.8 150.8,290.2 153.0,289.2 155.3,290.2 157.5,286.8 159.8,287.4 162.0,292.5 164.2,298.6 166.5,298.6 168.7,294.9 171.0,291.6 173.2,288.7 175.4,291.2 177.7,295.5 179.9,297.4 182.2,290.6 184.4,290.6 186.6,326.7 188.9,288.9 191.1,285.9 193.3,286.5 195.6,282.9 197.8,286.9 200.1,293.4 202.3,291.2 204.5,292.3 206.8,288.8 209.0,289.5 211.3,288.3 213.5,285.4 215.7,286.6 218.0,288.3 220.2,292.2 222.5,294.4 224.7,292.0 226.9,285.6 229.2,281.4 231.4,281.1 233.7,277.9 235.9,288.6 238.1,291.5 240.4,286.9 242.6,288.3 244.8,291.9 247.1,291.4 249.3,288.5 251.6,288.7 253.8,290.0"/>
<polyline points="29.9,284.9 32.1,284.4 34.4,289.8 36.6,293.7 38.9,293.2 41.1,287.1 43.3,288.6 45.6,297.7 47.8,294.9 50.0,293.1 52.3,291.4 54.5,287.5 56.8,285.1 59.0,285.7 61.2,288.8 63.5,291.4 65.7,294.9 68.0,285.4 70.2,288.0 72.4,293.4 74.7,291.8 76.9,290.7 79.2,292.7 81.4,294.6 83.6,288.3 85.9,287.1 88.1,288.4 90.4,291.5 92.6,294.2 94.8,290.2 97.1,294.5 99.3,295.3 101.5,294.4 103.8,292.9 106.0,291.9 108.3,290.2 110.5,285.1 112.7,285.5 115.0,292.6 117.2,292.2 119.5,290.5 121.7,291.7 123.9,290.1 126.2,292.6 128.4,292.4 130.7,284.8 132.9,284.7 135.1,285.1 137.4,284.6 139.6,285.1 141.8,263.5 144.1,286.3 146.3,286.4 148.6,288.4 150.8,289.4 153.0,286.3 155.3,287.6 157.5,293.7 159.8,295.4 162.0,291.2 164.2,291.6 166.5,286.6 168.7,282.7 171.0,287.8 173.2,293.3 175.4,293.9 177.7,295.1 179.9,287.3 182.2,283.1 184.4,279.8 186.6,281.1 188.9,290.6 191.1,297.8 193.3,292.8 195.6,290.9 197.8,292.3 200.1,288.2 202.3,284.9 204.5,285.5 206.8,289.4 209.0,291.7 211.3,290.3 213.5,289.9 215.7,291.4 218.0,288.4 220.2,289.5 222.5,294.1 224.7,325.6 226.9,296.4 229.2,294.7 231.4,289.8 233.7,286.0 235.9,288.3 238.1,293.0 240.4,295.4 242.6,291.8 244.8,296.5 247.1,293.6 249.3,293.2 251.6,291.8 253.8,288.6"/>
<polyline points="29.9,284.7 32.1,282.1 34.4,280.9 36.6,282.1 38.9,288.9 41.1,294.0 43.3,293.1 45.6,292.4 47.8,293.2 50.0,292.4 52.3,290.4 54.5,291.0 56.8,291.6 59.0,291.3 61.2,293.9 63.5,295.5 65.7,295.0 68.0,297.1 70.2,300.1 72.4,301.0 74.7,295.0 76.9,288.4 79.2,287.1 81.4,289.2 83.6,290.8 85.9,293.2 88.1,294.4 90.4,298.1 92.6,301.2 94.8,296.5 97.1,289.1 99.3,287.2 101.5,290.9 103.8,294.4 106.0,295.8 108.3,296.6 110.5,295.3 112.7,291.9 115.0,290.1 117.2,292.9 119.5,297.2 121.7,291.2 123.9,250.0 126.2,237.1 128.4,236.3 130.7,237.5 132.9,245.9 135.1,281.0 137.4,288.0 139.6,291.1 141.8,294.3 144.1,294.0 146.3,290.7 148.6,291.8 150.8,295.5 153.0,298.4 155.3,299.4 157.5,296.5 159.8,291.3 162.0,287.3 164.2,286.8 166.5,290.1 168.7,292.8 171.0,290.4 173.2,289.7 175.4,292.7 177.7,294.0 179.9,291.9 182.2,288.9 184.4,284.9 186.6,280.7 188.9,279.7 191.1,285.1 193.3,288.9 195.6,287.4 197.8,287.2 200.1,290.7 202.3,294.3 204.5,295.5 206.8,293.6 209.0,288.7 211.3,284.1 213.5,284.6 215.7,291.6 218.0,298.1 220.2,298.6 222.5,295.1 224.7,293.4 226.9,296.1 229.2,300.7 231.4,302.0 233.7,299.1 235.9,292.7 238.1,288.8 240.4,288.8 242.6,288.3 244.8,287.2 247.1,289.3 249.3,292.5 251.6,294.2 253.8,293.0"/>
<polyline points="29.9,290.6 32.1,287.7 34.4,282.7 36.6,282.7 38.9,284.1 41.1,285.3 43.3,286.4 45.6,286.8 47.8,287.1 50.0,290.6 52.3,292.8 54.5,290.0 56.8,285.3 59.0,284.2 61.2,286.6 63.5,284.7 65.7,284.1 68.0,285.7 70.2,287.1 72.4,288.9 74.7,289.9 76.9,288.5 79.2,289.8 81.4,295.7 83.6,298.7 85.9,297.3 88.1,294.2 90.4,291.9 92.6,289.4 94.8,284.8 97.1,279.6 99.3,279.3 101.5,284.2 103.8,286.3 106.0,282.9 108.3,278.7 110.5,281.1 112.7,288.0 115.0,291.7 117.2,293.2 119.5,294.4 121.7,297.5 123.9,299.6 126.2,299.7 128.4,297.5 130.7,295.6 132.9,296.2 135.1,296.9 137.4,290.7 139.6,269.0 141.8,219.6 144.1,217.6 146.3,226.0 148.6,267.0 150.8,283.8 153.0,282.0 155.3,283.6 157.5,291.8 159.8,300.2 162.0,302.0 164.2,298.3 166.5,293.6 168.7,290.2 171.0,290.3 173.2,291.7 175.4,289.3 177.7,286.3 179.9,286.1 182.2,288.1 184.4,290.6 186.6,291.3 188.9,291.2 191.1,290.4 193.3,292.0 195.6,296.5 197.8,295.7 200.1,287.9 202.3,282.5 204.5,284.2 206.8,288.9 209.0,291.2 211.3,291.0 213.5,288.4 215.7,285.9 218.0,284.0 220.2,284.9 222.5,287.4 224.7,289.7 226.9,292.6 229.2,294.3 231.4,292.7 233.7,289.2 235.9,287.8 238.1,291.8 240.4,294.6 242.6,292.2 244.8,291.1 247.1,295.4 249.3,298.4 251.6,296.7 253.8,290.1"/>
<polyline points="29.9,287.9 32.1,287.0 34.4,286.4 36.6,284.7 38.9,279.5 41.1,278.6 43.3,286.5 45.6,293.8 47.8,294.5 50.0,293.0 52.3,291.0 54.5,285.9 56.8,278.3 59.0,276.4 61.2,281.0 63.5,284.2 65.7,286.5 68.0,291.2 70.2,296.4 72.4,300.4 74.7,300.9 76.9,297.2 79.2,294.0 81.4,294.1 83.6,294.5 85.9,295.0 88.1,296.0 90.4,295.4 92.6,293.5 94.8,291.7 97.1,289.9 99.3,292.1 101.5,294.7 103.8,296.6 106.0,296.6 108.3,293.8 110.5,291.1 112.7,292.7 115.0,298.5 117.2,300.0 119.5,296.1 121.7,295.4 123.9,296.0 126.2,293.6 128.4,289.8 130.7,287.3 132.9,287.1 135.1,281.2 137.4,236.9 139.6,218.2 141.8,219.0 144.1,234.5 146.3,279.4 148.6,286.4 150.8,288.8 153.0,295.7 155.3,301.0 157.5,296.9 159.8,288.7 162.0,284.4 164.2,284.6 166.5,288.9 168.7,293.2 171.0,294.8 173.2,290.7 175.4,285.7 177.7,288.6 179.9,292.4 182.2,289.7 184.4,288.1 186.6,290.7 188.9,291.4 191.1,288.5 193.3,286.2 195.6,287.9 197.8,292.6 200.1,295.7 202.3,293.7 204.5,289.7 206.8,289.6 209.0,289.3 211.3,284.8 213.5,280.6 215.7,282.1 218.0,288.5 220.2,294.1 222.5,293.9 224.7,291.1 226.9,290.7 229.2,288.2 231.4,284.3 233.7,283.5 235.9,286.1 238.1,289.6 240.4,293.0 242.6,290.9 244.8,285.9 247.1,285.8 249.3,285.7 251.6,286.3 253.8,290.0"/>
<polyline points="29.9,289.7 32.1,291.7 34.4,294.3 36.6,295.4 38.9,293.1 41.1,289.5 43.3,288.9 45.6,290.3 47.8,289.1 50.0,288.5 52.3,292.0 54.5,299.3 56.8,302.6 59.0,300.5 61.2,297.5 63.5,297.6 65.7,297.8 68.0,293.5 70.2,288.2 72.4,284.9 74.7,284.3 76.9,285.9 79.2,291.6 81.4,295.6 83.6,293.4 85.9,291.3 88.1,293.4 90.4,294.0 92.6,290.1 94.8,283.8 97.1,282.6 99.3,287.5 101.5,291.9 103.8,289.5 106.0,289.2 108.3,291.8 110.5,291.1 112.7,292.4 115.0,295.4 117.2,294.6 119.5,291.7 121.7,290.7 123.9,289.1 126.2,286.3 128.4,288.7 130.7,266.5 132.9,230.5 135.1,224.7 137.4,231.9 139.6,273.5 141.8,288.9 144.1,293.7 146.3,296.3 148.6,298.5 150.8,303.0 153.0,306.6 155.3,303.1 157.5,297.4 159.8,294.5 162.0,291.0 164.2,289.0 166.5,287.7 168.7,288.0 171.0,285.9 173.2,281.1 175.4,282.0 177.7,284.3 179.9,283.4 182.2,286.3 184.4,290.0 186.6,289.8 188.9,288.9 191.1,287.6 193.3,288.6 195.6,291.8 197.8,291.4 200.1,290.1 202.3,289.9 204.5,287.7 206.8,285.0 209.0,288.4 211.3,293.6 213.5,293.6 215.7,292.4 218.0,293.1 220.2,294.9 222.5,295.4 224.7,291.6 226.9,284.8 229.2,283.9 231.4,291.7 233.7,297.6 235.9,295.4 238.1,291.9 240.4,290.7 242.6,290.5 244.8,290.0 247.1,290.0 249.3,290.8 251.6,288.5 253.8,288.9"/>
<polyline points="29.9,293.5 32.1,298.6 34.4,297.7 36.6,292.4 38.9,291.0 41.1,291.1 43.3,289.9 45.6,291.4 47.8,295.5 50.0,293.7 52.3,288.9 54.5,291.3 56.8,294.9 59.0,296.0 61.2,295.2 63.5,292.8 65.7,291.7 68.0,289.6 70.2,285.9 72.4,281.5 74.7,280.3 76.9,282.5 79.2,284.1 81.4,287.9 83.6,291.1 85.9,289.3 88.1,286.6 90.4,286.7 92.6,288.3 94.8,287.6 97.1,283.1 99.3,282.2 101.5,289.0 103.8,296.4 106.0,297.0 108.3,294.2 110.5,289.8 112.7,287.0 115.0,286.9 117.2,284.6 119.5,286.1 121.7,289.8 123.9,289.0 126.2,287.3 128.4,286.5 130.7,285.7 132.9,289.0 135.1,291.8 137.4,286.6 139.6,286.2 141.8,293.5 144.1,281.8 146.3,239.2 148.6,228.8 150.8,237.0 153.0,279.8 155.3,294.6 157.5,296.3 159.8,289.1 162.0,286.5 164.2,292.2 166.5,298.4 168.7,299.8 171.0,298.7 173.2,301.5 175.4,305.0 177.7,303.2 179.9,300.5 182.2,296.5 184.4,290.0 186.6,286.3 188.9,287.3 191.1,292.1 193.3,298.6 195.6,300.8 197.8,297.9 200.1,297.5 202.3,297.4 204.5,294.2 206.8,289.1 209.0,283.1 211.3,283.0 213.5,289.8 215.7,291.1 218.0,287.4 220.2,287.3 222.5,289.2 224.7,289.1 226.9,290.1 229.2,295.4 231.4,298.1 233.7,295.7 235.9,295.9 238.1,296.9 240.4,292.2 242.6,287.4 244.8,284.5 247.1,284.3 249.3,287.1 251.6,288.7 253.8,286.4"/>
<polyline points="29.9,294.5 32.1,296.8 34.4,292.7 36.6,290.8 38.9,291.6 41.1,292.1 43.3,295.5 45.6,296.2 47.8,294.5 50.0,292.8 52.3,290.2 54.5,291.3 56.8,289.1 59.0,284.2 61.2,286.6 63.5,288.7 65.7,285.3 68.0,287.8 70.2,295.7 72.4,302.2 74.7,303.7 76.9,298.2 79.2,293.2 81.4,291.6 83.6,287.8 85.9,289.7 88.1,295.2 90.4,292.6 92.6,288.9 94.8,291.1 97.1,295.3 99.3,294.7 101.5,292.7 103.8,292.7 106.0,292.3 108.3,289.5 110.5,285.5 112.7,283.0 115.0,285.3 117.2,292.8 119.5,296.4 121.7,294.0 123.9,288.1 126.2,277.3 128.4,244.6 130.7,234.0 132.9,236.6 135.1,243.5 137.4,277.3 139.6,297.2 141.8,300.9 144.1,300.8 146.3,301.0 148.6,300.3 150.8,297.1 153.0,292.1 155.3,289.5 157.5,287.6 159.8,287.3 162.0,288.3 164.2,292.8 166.5,295.6 168.7,293.9 171.0,294.9 173.2,295.5 175.4,291.3 177.7,288.2 179.9,288.8 182.2,291.5 184.4,292.5 186.6,290.5 188.9,289.1 191.1,286.4 193.3,282.9 195.6,285.5 197.8,295.7 200.1,300.6 202.3,295.4 204.5,290.9 206.8,291.2 209.0,292.7 211.3,292.8 213.5,293.0 215.7,294.7 218.0,296.4 220.2,293.3 222.5,286.1 224.7,279.7 226.9,280.2 229.2,282.2 231.4,280.8 233.7,279.2 235.9,280.9 238.1,285.9 240.4,291.5 242.6,290.9 244.8,287.4 247.1,291.1 249.3,291.2 251.6,285.4 253.8,283.8"/>
<polyline points="29.9,288.7 32.1,289.4 34.4,288.8 36.6,292.4 38.9,293.0 41.1,287.2 43.3,285.1 45.6,290.0 47.8,294.2 50.0,295.6 52.3,297.1 54.5,297.9 56.8,298.4 59.0,297.3 61.2,292.7 63.5,288.5 65.7,289.4 68.0,290.3 70.2,288.5 72.4,285.7 74.7,283.1 76.9,285.4 79.2,290.6 81.4,292.8 83.6,293.2 85.9,293.2 88.1,292.5 90.4,289.7 92.6,288.1 94.8,291.8 97.1,295.2 99.3,293.3 101.5,289.2 103.8,287.5 106.0,289.8 108.3,291.1 110.5,291.1 112.7,289.5 115.0,290.0 117.2,293.0 119.5,292.5 121.7,289.5 123.9,291.1 126.2,292.1 128.4,290.0 130.7,289.5 132.9,291.7 135.1,290.5 137.4,285.6 139.6,283.0 141.8,270.1 144.1,259.3 146.3,251.5 148.6,247.5 150.8,239.2 153.0,234.5 155.3,236.7 157.5,240.5 159.8,247.6 162.0,253.4 164.2,255.8 166.5,258.8 168.7,263.5 171.0,265.2 173.2,267.2 175.4,269.4 177.7,270.8 179.9,275.3 182.2,279.0 184.4,284.3 186.6,285.3 188.9,287.8 191.1,291.8 193.3,292.3 195.6,288.2 197.8,283.2 200.1,281.5 202.3,285.4 204.5,293.1 206.8,297.8 209.0,298.6 211.3,296.9 213.5,291.5 215.7,288.0 218.0,290.0 220.2,291.4 222.5,291.8 224.7,294.7 226.9,295.5 229.2,294.2 231.4,295.0 233.7,296.1 235.9,293.9 238.1,290.7 240.4,288.9 242.6,290.1 244.8,292.5 247.1,291.4 249.3,288.8 251.6,286.8 253.8,287.7"/>
<polyline points="29.9,290.4 32.1,289.8 34.4,288.3 36.6,288.4 38.9,288.7 41.1,288.2 43.3,288.6 45.6,289.2 47.8,288.1 50.0,287.5 52.3,291.8 54.5,295.2 56.8,292.9 59.0,288.2 61.2,286.9 63.5,286.9 65.7,287.2 68.0,290.5 70.2,293.2 72.4,293.9 74.7,293.8 76.9,292.3 79.2,288.0 81.4,284.3 83.6,286.8 85.9,289.1 88.1,289.2 90.4,290.9 92.6,293.7 94.8,293.7 97.1,291.3 99.3,290.0 101.5,292.1 103.8,294.0 106.0,291.5 108.3,287.4 110.5,285.8 112.7,286.8 115.0,290.9 117.2,293.5 119.5,291.2 121.7,291.4 123.9,294.4 126.2,294.9 128.4,293.6 130.7,291.9 132.9,289.0 135.1,287.1 137.4,274.4 139.6,257.4 141.8,239.8 144.1,240.9 146.3,242.4 148.6,244.1 150.8,247.5 153.0,252.9 155.3,253.9 157.5,251.1 159.8,253.9 162.0,262.9 164.2,270.2 166.5,276.3 168.7,283.3 171.0,286.5 173.2,288.9 175.4,292.2 177.7,290.0 179.9,285.4 182.2,282.9 184.4,282.5 186.6,284.6 188.9,287.4 191.1,289.8 193.3,291.6 195.6,292.4 197.8,292.5 200.1,291.9 202.3,290.3 204.5,287.5 206.8,284.7 209.0,285.2 211.3,290.4 213.5,296.9 215.7,298.3 218.0,298.7 220.2,299.4 222.5,297.4 224.7,296.3 226.9,298.7 229.2,297.9 231.4,292.4 233.7,289.2 235.9,289.4 238.1,288.8 240.4,287.9 242.6,289.4 244.8,293.5 247.1,292.8 249.3,288.0 251.6,287.2 253.8,289.6"/>
</g><g fill="none" stroke="#ff0000" stroke-width="0.8" stroke-dasharray="2,1">
<polyline points="310.9,291.7 313.2,291.7 315.4,291.7 317.7,292.9 320.0,296.0 322.2,296.2 324.5,288.3 326.8,288.0 329.0,288.0 331.3,288.0 333.6,281.4 335.8,282.4 338.1,285.8 340.3,286.7 342.6,286.7 344.9,290.3 347.1,294.5 349.4,290.7 351.7,287.0 353.9,289.8 356.2,293.8 358.5,293.8 360.7,293.8 363.0,287.8 365.2,288.6 367.5,294.9 369.8,298.6 372.0,298.6 374.3,303.0 376.6,304.8 378.8,304.8 381.1,302.8 383.4,304.9 385.6,307.3 387.9,310.7 390.1,313.6 392.4,309.6 394.7,306.8 396.9,306.8 399.2,307.6 401.5,307.1 403.7,304.7 406.0,301.9 408.3,301.9 410.5,301.9 412.8,301.9 415.0,281.0 417.3,272.1 419.6,272.1 421.8,251.2 424.1,254.7 426.4,252.0 428.6,252.0 430.9,252.0 433.2,275.7 435.4,291.3 437.7,288.6 439.9,284.8 442.2,284.8 444.5,293.5 446.7,293.5 449.0,295.7 451.3,298.9 453.5,298.9 455.8,297.7 458.1,299.2 460.3,301.0 462.6,301.0 464.8,302.3 467.1,309.4 469.4,309.4 471.6,309.4 473.9,297.8 476.2,297.8 478.4,297.8 480.7,306.5 483.0,306.5 485.2,303.6 487.5,303.6 489.7,303.6 492.0,299.2 494.3,301.9 496.5,301.9 498.8,299.9 501.1,299.9 503.3,306.6 505.6,306.6 507.9,299.8 510.1,295.7 512.4,295.7 514.6,295.7 516.9,306.2 519.2,306.2 521.4,302.7 523.7,302.7 526.0,300.8 528.2,301.2 530.5,301.2 532.8,301.2 535.0,295.9 537.3,295.9"/>
<polyline points="310.9,297.7 313.2,293.1 315.4,292.6 317.7,292.8 320.0,292.8 322.2,294.1 324.5,290.1 326.8,294.5 329.0,294.5 331.3,293.7 333.6,293.7 335.8,293.7 338.1,293.7 340.3,291.8 342.6,293.7 344.9,296.5 347.1,293.0 349.4,292.8 351.7,292.8 353.9,298.5 356.2,296.0 358.5,296.0 360.7,296.0 363.0,296.0 365.2,291.8 367.5,291.8 369.8,291.8 372.0,286.8 374.3,291.2 376.6,291.2 378.8,291.2 381.1,300.2 383.4,296.4 385.6,297.3 387.9,297.3 390.1,295.7 392.4,295.7 394.7,295.7 396.9,300.4 399.2,299.6 401.5,296.3 403.7,294.8 406.0,295.1 408.3,287.6 410.5,279.7 412.8,277.1 415.0,277.1 417.3,266.5 419.6,266.5 421.8,266.5 424.1,246.2 426.4,251.0 428.6,251.0 430.9,248.0 433.2,244.8 435.4,257.2 437.7,257.2 439.9,284.4 442.2,280.1 444.5,280.1 446.7,291.0 449.0,291.0 451.3,300.7 453.5,300.7 455.8,300.7 458.1,305.1 460.3,302.4 462.6,302.4 464.8,302.4 467.1,303.4 469.4,303.4 471.6,303.4 473.9,303.4 476.2,303.7 478.4,300.2 480.7,298.3 483.0,294.2 485.2,298.6 487.5,294.1 489.7,294.1 492.0,295.1 494.3,300.7 496.5,300.7 498.8,298.4 501.1,298.4 503.3,295.5 505.6,294.2 507.9,294.2 510.1,292.9 512.4,295.4 514.6,297.3 516.9,297.3 519.2,294.3 521.4,290.5 523.7,295.1 526.0,295.7 528.2,295.7 530.5,291.7 532.8,291.7 535.0,293.8 537.3,293.8"/>
<polyline points="310.9,290.5 313.2,295.0 315.4,288.9 317.7,288.9 320.0,285.9 322.2,287.7 324.5,294.8 326.8,288.9 329.0,287.3 331.3,290.6 333.6,290.6 335.8,291.5 338.1,286.0 340.3,290.5 342.6,293.5 344.9,293.5 347.1,288.4 349.4,287.8 351.7,287.8 353.9,287.8 356.2,287.8 358.5,280.1 360.7,287.0 363.0,294.5 365.2,294.5 367.5,295.1 369.8,299.4 372.0,296.3 374.3,294.4 376.6,290.5 378.8,287.4 381.1,289.0 383.4,289.0 385.6,289.0 387.9,300.1 390.1,300.1 392.4,297.8 394.7,304.9 396.9,304.1 399.2,295.4 401.5,297.1 403.7,302.1 406.0,297.9 408.3,297.9 410.5,289.8 412.8,283.5 415.0,279.2 417.3,272.2 419.6,259.8 421.8,250.4 424.1,237.9 426.4,232.9 428.6,236.2 430.9,238.6 433.2,238.6 435.4,243.7 437.7,244.0 439.9,244.0 442.2,242.2 444.5,242.2 446.7,263.3 449.0,275.1 451.3,275.1 453.5,275.1 455.8,288.7 458.1,286.3 460.3,286.3 462.6,295.7 464.8,291.0 467.1,285.6 469.4,296.9 471.6,296.9 473.9,295.2 476.2,295.2 478.4,302.5 480.7,300.1 483.0,298.2 485.2,296.0 487.5,296.0 489.7,296.0 492.0,301.8 494.3,301.8 496.5,301.9 498.8,302.7 501.1,302.7 503.3,302.7 505.6,303.3 507.9,303.3 510.1,303.3 512.4,298.6 514.6,298.6 516.9,297.0 519.2,297.0 521.4,297.0 523.7,286.2 526.0,288.9 528.2,291.6 530.5,295.7 532.8,295.3 535.0,295.0 537.3,295.0"/>
<polyline points="310.9,293.6 313.2,291.0 315.4,291.0 317.7,289.4 320.0,288.9 322.2,291.6 324.5,292.7 326.8,292.7 329.0,292.7 331.3,298.3 333.6,296.1 335.8,301.0 338.1,296.9 340.3,287.7 342.6,287.7 344.9,287.7 347.1,287.7 349.4,301.7 351.7,297.8 353.9,298.0 356.2,295.3 358.5,295.3 360.7,295.9 363.0,295.9 365.2,290.5 367.5,293.4 369.8,295.5 372.0,297.0 374.3,294.9 376.6,294.9 378.8,294.9 381.1,305.6 383.4,309.2 385.6,315.5 387.9,309.9 390.1,309.9 392.4,309.7 394.7,314.1 396.9,314.1 399.2,318.9 401.5,318.9 403.7,311.6 406.0,312.3 408.3,312.3 410.5,312.3 412.8,303.4 415.0,292.6 417.3,289.1 419.6,274.0 421.8,268.0 424.1,261.5 426.4,261.5 428.6,270.2 430.9,268.8 433.2,268.8 435.4,280.3 437.7,282.5 439.9,282.5 442.2,287.2 444.5,287.2 446.7,299.1 449.0,292.2 451.3,296.4 453.5,300.6 455.8,299.2 458.1,307.1 460.3,305.1 462.6,304.4 464.8,310.5 467.1,310.5 469.4,310.5 471.6,306.3 473.9,306.3 476.2,306.3 478.4,306.3 480.7,311.8 483.0,311.8 485.2,309.1 487.5,309.1 489.7,309.0 492.0,307.2 494.3,305.2 496.5,305.2 498.8,305.2 501.1,305.2 503.3,305.2 505.6,305.2 507.9,303.3 510.1,301.0 512.4,301.0 514.6,300.6 516.9,300.6 519.2,307.2 521.4,304.8 523.7,301.0 526.0,301.0 528.2,299.7 530.5,299.7 532.8,299.2 535.0,297.4 537.3,297.4"/>
<polyline points="310.9,290.5 313.2,288.8 315.4,287.0 317.7,288.5 320.0,290.8 322.2,286.0 324.5,282.9 326.8,286.8 329.0,290.9 331.3,292.9 333.6,291.7 335.8,291.7 338.1,291.7 340.3,291.7 342.6,291.7 344.9,290.9 347.1,294.7 349.4,296.1 351.7,291.8 353.9,287.9 356.2,291.1 358.5,289.8 360.7,294.6 363.0,294.6 365.2,287.7 367.5,286.4 369.8,293.9 372.0,293.9 374.3,293.0 376.6,293.0 378.8,292.8 381.1,293.0 383.4,295.8 385.6,295.8 387.9,295.1 390.1,294.6 392.4,300.1 394.7,304.2 396.9,306.5 399.2,305.3 401.5,314.2 403.7,315.4 406.0,315.4 408.3,299.9 410.5,290.5 412.8,283.3 415.0,273.1 417.3,261.0 419.6,254.5 421.8,244.1 424.1,232.9 426.4,237.3 428.6,241.4 430.9,242.1 433.2,251.3 435.4,260.8 437.7,265.7 439.9,265.7 442.2,265.7 444.5,283.1 446.7,283.1 449.0,280.5 451.3,283.6 453.5,291.1 455.8,296.9 458.1,298.3 460.3,298.3 462.6,297.4 464.8,298.0 467.1,298.0 469.4,301.3 471.6,301.3 473.9,304.0 476.2,304.0 478.4,304.0 480.7,309.2 483.0,309.2 485.2,314.5 487.5,314.5 489.7,317.3 492.0,319.4 494.3,317.6 496.5,319.7 498.8,324.5 501.1,321.0 503.3,321.0 505.6,319.3 507.9,319.6 510.1,317.8 512.4,315.6 514.6,312.2 516.9,314.3 519.2,314.3 521.4,314.3 523.7,303.3 526.0,302.0 528.2,302.0 530.5,304.3 532.8,305.7 535.0,302.6 537.3,300.3"/>
<polyline points="310.9,296.1 313.2,300.1 315.4,300.1 317.7,300.1 320.0,300.1 322.2,296.0 324.5,295.7 326.8,295.9 329.0,303.8 331.3,290.6 333.6,298.6 335.8,293.7 338.1,292.8 340.3,297.7 342.6,300.8 344.9,293.2 347.1,293.2 349.4,293.2 351.7,293.3 353.9,297.4 356.2,302.6 358.5,298.3 360.7,293.5 363.0,298.4 365.2,292.2 367.5,302.0 369.8,300.4 372.0,300.4 374.3,300.4 376.6,290.6 378.8,290.6 381.1,299.4 383.4,301.7 385.6,295.7 387.9,302.1 390.1,306.4 392.4,296.8 394.7,309.1 396.9,304.7 399.2,303.4 401.5,301.9 403.7,301.9 406.0,298.7 408.3,301.7 410.5,291.3 412.8,293.5 415.0,293.5 417.3,293.5 419.6,293.5 421.8,279.6 424.1,263.3 426.4,264.9 428.6,266.9 430.9,276.3 433.2,273.7 435.4,266.5 437.7,273.5 439.9,273.5 442.2,288.1 444.5,287.8 446.7,286.4 449.0,294.8 451.3,285.3 453.5,281.0 455.8,289.6 458.1,301.8 460.3,296.9 462.6,292.5 464.8,301.2 467.1,301.2 469.4,298.8 471.6,289.0 473.9,289.0 476.2,309.5 478.4,301.4 480.7,301.6 483.0,301.6 485.2,305.6 487.5,306.1 489.7,306.1 492.0,306.1 494.3,310.9 496.5,310.9 498.8,310.9 501.1,306.9 503.3,311.3 505.6,313.8 507.9,311.4 510.1,315.0 512.4,311.6 514.6,304.2 516.9,304.2 519.2,301.3 521.4,300.8 523.7,300.8 526.0,301.1 528.2,301.1 530.5,300.8 532.8,306.4 535.0,300.1 537.3,301.1"/>
<polyline points="310.9,289.9 313.2,286.2 315.4,286.2 317.7,283.2 320.0,285.4 322.2,285.4 324.5,290.9 326.8,290.8 329.0,288.0 331.3,290.0 333.6,287.9 335.8,287.2 338.1,287.2 340.3,287.2 342.6,287.2 344.9,291.3 347.1,291.3 349.4,285.5 351.7,285.5 353.9,286.9 356.2,286.9 358.5,286.9 360.7,295.2 363.0,287.7 365.2,287.7 367.5,284.8 369.8,284.8 372.0,287.6 374.3,287.6 376.6,291.9 378.8,293.4 381.1,297.5 383.4,293.4 385.6,303.0 387.9,305.0 390.1,299.8 392.4,296.7 394.7,297.7 396.9,297.7 399.2,304.4 401.5,306.4 403.7,306.4 406.0,306.4 408.3,300.4 410.5,300.4 412.8,288.8 415.0,289.4 417.3,289.4 419.6,264.0 421.8,241.9 424.1,228.0 426.4,221.6 428.6,221.6 430.9,228.9 433.2,228.9 435.4,227.4 437.7,227.4 439.9,250.3 442.2,256.0 444.5,260.6 446.7,260.6 449.0,260.6 451.3,268.7 453.5,271.7 455.8,277.5 458.1,277.5 460.3,288.8 462.6,287.4 464.8,289.9 467.1,289.9 469.4,301.7 471.6,301.7 473.9,296.3 476.2,296.2 478.4,296.2 480.7,302.8 483.0,300.2 485.2,299.4 487.5,299.7 489.7,297.3 492.0,301.8 494.3,299.0 496.5,299.0 498.8,299.8 501.1,303.6 503.3,306.2 505.6,301.5 507.9,301.5 510.1,301.4 512.4,303.5 514.6,303.5 516.9,303.5 519.2,298.7 521.4,298.7 523.7,298.7 526.0,291.8 528.2,289.1 530.5,289.1 532.8,293.1 535.0,298.0 537.3,298.9"/>
<polyline points="310.9,292.6 313.2,289.6 315.4,290.4 317.7,288.6 320.0,290.0 322.2,290.0 324.5,290.2 326.8,288.3 329.0,288.3 331.3,288.3 333.6,288.3 335.8,288.3 338.1,295.4 340.3,293.0 342.6,291.4 344.9,291.5 347.1,289.4 349.4,291.6 351.7,293.4 353.9,293.4 356.2,289.0 358.5,289.0 360.7,289.0 363.0,292.3 365.2,289.4 367.5,290.4 369.8,293.9 372.0,295.9 374.3,295.9 376.6,294.2 378.8,292.2 381.1,292.2 383.4,296.4 385.6,296.4 387.9,296.4 390.1,302.6 392.4,299.0 394.7,302.5 396.9,308.3 399.2,308.4 401.5,308.4 403.7,310.8 406.0,309.8 408.3,302.7 410.5,302.7 412.8,302.7 415.0,271.0 417.3,263.3 419.6,252.4 421.8,248.8 424.1,250.2 426.4,250.2 428.6,250.2 430.9,262.3 433.2,262.3 435.4,262.3 437.7,275.2 439.9,276.1 442.2,276.1 444.5,284.2 446.7,284.2 449.0,284.2 451.3,296.5 453.5,296.5 455.8,312.5 458.1,313.8 460.3,313.4 462.6,312.2 464.8,313.2 467.1,312.0 469.4,310.8 471.6,313.5 473.9,313.5 476.2,307.1 478.4,307.1 480.7,312.8 483.0,311.5 485.2,308.4 487.5,310.6 489.7,309.0 492.0,309.0 494.3,298.1 496.5,298.2 498.8,302.2 501.1,302.2 503.3,309.0 505.6,301.9 507.9,290.6 510.1,290.2 512.4,290.2 514.6,290.2 516.9,290.2 519.2,295.5 521.4,295.5 523.7,297.4 526.0,294.3 528.2,294.3 530.5,297.0 532.8,295.1 535.0,295.1 537.3,294.6"/>
<polyline points="310.9,292.3 313.2,290.2 315.4,290.2 317.7,302.4 320.0,299.4 322.2,297.0 324.5,297.0 326.8,301.2 329.0,290.7 331.3,290.7 333.6,300.3 335.8,300.3 338.1,300.3 340.3,300.3 342.6,291.3 344.9,292.6 347.1,292.6 349.4,295.6 351.7,292.5 353.9,292.5 356.2,294.8 358.5,294.8 360.7,296.0 363.0,289.4 365.2,291.1 367.5,298.8 369.8,299.3 372.0,299.3 374.3,296.1 376.6,294.7 378.8,298.3 381.1,300.8 383.4,295.8 385.6,299.1 387.9,298.6 390.1,303.4 392.4,297.0 394.7,301.5 396.9,302.7 399.2,302.7 401.5,306.8 403.7,306.8 406.0,300.0 408.3,301.0 410.5,291.8 412.8,291.8 415.0,287.7 417.3,273.6 419.6,269.4 421.8,252.7 424.1,252.7 426.4,243.0 428.6,243.0 430.9,234.6 433.2,234.6 435.4,244.3 437.7,249.3 439.9,249.3 442.2,249.3 444.5,263.3 446.7,269.7 449.0,269.7 451.3,269.7 453.5,281.9 455.8,289.2 458.1,293.8 460.3,293.8 462.6,311.7 464.8,305.7 467.1,307.2 469.4,311.4 471.6,308.2 473.9,318.5 476.2,312.1 478.4,312.1 480.7,320.1 483.0,320.1 485.2,320.1 487.5,320.1 489.7,311.9 492.0,310.4 494.3,312.0 496.5,311.5 498.8,302.8 501.1,302.4 503.3,302.0 505.6,302.0 507.9,302.0 510.1,302.6 512.4,297.2 514.6,298.6 516.9,296.6 519.2,293.6 521.4,292.2 523.7,301.2 526.0,302.0 528.2,304.4 530.5,301.5 532.8,301.5 535.0,298.8 537.3,291.0"/>
<polyline points="310.9,292.8 313.2,293.0 315.4,295.7 317.7,292.5 320.0,290.7 322.2,296.1 324.5,296.9 326.8,296.8 329.0,292.3 331.3,292.3 333.6,289.8 335.8,289.2 338.1,289.2 340.3,289.2 342.6,293.9 344.9,293.2 347.1,294.2 349.4,294.1 351.7,294.1 353.9,294.4 356.2,289.0 358.5,289.0 360.7,294.2 363.0,295.4 365.2,293.7 367.5,293.7 369.8,293.7 372.0,293.7 374.3,290.4 376.6,290.4 378.8,290.4 381.1,297.4 383.4,295.5 385.6,299.2 387.9,302.3 390.1,302.3 392.4,302.3 394.7,302.3 396.9,302.3 399.2,302.3 401.5,302.3 403.7,302.3 406.0,311.9 408.3,312.9 410.5,312.9 412.8,295.8 415.0,288.7 417.3,288.7 419.6,258.5 421.8,254.8 424.1,251.6 426.4,256.8 428.6,256.8 430.9,256.8 433.2,256.8 435.4,267.3 437.7,267.3 439.9,267.3 442.2,268.4 444.5,268.4 446.7,268.4 449.0,286.1 451.3,295.0 453.5,295.0 455.8,295.0 458.1,301.1 460.3,301.1 462.6,301.1 464.8,301.1 467.1,301.0 469.4,301.0 471.6,306.0 473.9,300.6 476.2,303.0 478.4,305.7 480.7,305.0 483.0,305.0 485.2,305.0 487.5,305.0 489.7,305.0 492.0,308.9 494.3,307.2 496.5,300.8 498.8,300.9 501.1,301.1 503.3,301.1 505.6,311.3 507.9,311.3 510.1,311.3 512.4,311.3 514.6,311.3 516.9,311.3 519.2,301.3 521.4,302.2 523.7,300.5 526.0,300.5 528.2,302.5 530.5,302.5 532.8,302.5 535.0,297.9 537.3,297.9"/>
<polyline points="310.9,287.7 313.2,292.8 315.4,296.1 317.7,296.1 320.0,291.3 322.2,289.7 324.5,296.3 326.8,295.8 329.0,295.8 331.3,295.8 333.6,291.4 335.8,291.4 338.1,291.0 340.3,291.0 342.6,287.9 344.9,287.9 347.1,289.9 349.4,287.2 351.7,287.2 353.9,288.8 356.2,287.3 358.5,287.7 360.7,288.3 363.0,288.6 365.2,286.3 367.5,287.0 369.8,291.2 372.0,290.1 374.3,290.0 376.6,290.0 378.8,297.7 381.1,301.0 383.4,299.2 385.6,299.2 387.9,303.5 390.1,303.5 392.4,303.8 394.7,305.6 396.9,306.9 399.2,306.7 401.5,302.2 403.7,295.9 406.0,295.9 408.3,295.9 410.5,295.9 412.8,280.5 415.0,280.5 417.3,260.7 419.6,252.6 421.8,245.9 424.1,241.2 426.4,250.2 428.6,248.1 430.9,245.9 433.2,252.6 435.4,252.6 437.7,252.6 439.9,279.7 442.2,279.7 444.5,289.5 446.7,289.5 449.0,295.8 451.3,309.9 453.5,307.1 455.8,310.1 458.1,310.1 460.3,312.5 462.6,312.5 464.8,315.0 467.1,315.0 469.4,318.1 471.6,323.8 473.9,326.6 476.2,326.6 478.4,326.6 480.7,313.3 483.0,312.7 485.2,312.7 487.5,312.7 489.7,314.0 492.0,308.9 494.3,309.7 496.5,310.6 498.8,306.9 501.1,303.3 503.3,303.4 505.6,303.4 507.9,300.0 510.1,305.4 512.4,304.9 514.6,304.9 516.9,300.1 519.2,299.5 521.4,297.8 523.7,297.8 526.0,297.2 528.2,299.4 530.5,299.9 532.8,291.7 535.0,292.0 537.3,292.0"/>
<polyline points="310.9,288.8 313.2,288.8 315.4,288.8 317.7,281.3 320.0,292.8 322.2,289.6 324.5,285.8 326.8,285.7 329.0,287.8 331.3,294.8 333.6,294.8 335.8,282.1 338.1,282.1 340.3,282.1 342.6,282.1 344.9,288.2 347.1,288.3 349.4,288.3 351.7,288.3 353.9,285.7 356.2,286.2 358.5,287.3 360.7,287.3 363.0,294.0 365.2,289.0 367.5,291.3 369.8,291.0 372.0,287.8 374.3,284.1 376.6,293.4 378.8,293.4 381.1,285.1 383.4,296.5 385.6,291.3 387.9,295.3 390.1,295.3 392.4,289.8 394.7,296.0 396.9,293.2 399.2,295.7 401.5,295.7 403.7,309.6 406.0,309.6 408.3,294.6 410.5,288.2 412.8,274.3 415.0,274.3 417.3,269.7 419.6,269.7 421.8,236.1 424.1,237.0 426.4,237.8 428.6,229.6 430.9,229.6 433.2,229.6 435.4,228.9 437.7,248.5 439.9,248.5 442.2,243.4 444.5,259.2 446.7,271.8 449.0,276.9 451.3,276.3 453.5,286.6 455.8,290.3 458.1,296.7 460.3,294.4 462.6,291.0 464.8,297.7 467.1,297.7 469.4,302.8 471.6,299.8 473.9,298.9 476.2,298.9 478.4,298.9 480.7,303.8 483.0,307.1 485.2,307.1 487.5,307.1 489.7,299.4 492.0,299.4 494.3,299.6 496.5,297.0 498.8,297.0 501.1,297.0 503.3,312.4 505.6,306.9 507.9,304.6 510.1,296.7 512.4,305.5 514.6,301.4 516.9,298.3 519.2,298.3 521.4,299.4 523.7,295.1 526.0,301.6 528.2,301.6 530.5,295.8 532.8,295.8 535.0,289.8 537.3,292.5"/>
<polyline points="310.9,292.4 313.2,292.4 315.4,287.7 317.7,283.8 320.0,281.1 322.2,281.1 324.5,281.1 326.8,281.1 329.0,287.6 331.3,290.2 333.6,285.5 335.8,288.1 338.1,286.8 340.3,286.8 342.6,285.9 344.9,285.9 347.1,291.6 349.4,284.8 351.7,284.8 353.9,284.8 356.2,289.9 358.5,289.9 360.7,281.6 363.0,289.9 365.2,288.0 367.5,293.3 369.8,293.3 372.0,298.5 374.3,296.5 376.6,287.1 378.8,287.1 381.1,291.0 383.4,286.6 385.6,286.6 387.9,286.6 390.1,292.5 392.4,302.2 394.7,302.2 396.9,298.8 399.2,298.8 401.5,313.9 403.7,318.1 406.0,306.4 408.3,301.2 410.5,292.8 412.8,291.1 415.0,280.7 417.3,276.0 419.6,269.3 421.8,255.8 424.1,255.9 426.4,255.9 428.6,260.9 430.9,253.4 433.2,253.4 435.4,255.4 437.7,256.9 439.9,261.2 442.2,267.0 444.5,267.0 446.7,278.0 449.0,271.7 451.3,271.7 453.5,288.2 455.8,293.0 458.1,290.1 460.3,291.1 462.6,290.1 464.8,290.1 467.1,289.4 469.4,289.4 471.6,285.0 473.9,285.0 476.2,284.6 478.4,284.6 480.7,293.7 483.0,282.6 485.2,290.9 487.5,300.5 489.7,291.1 492.0,289.1 494.3,284.4 496.5,300.1 498.8,300.1 501.1,293.6 503.3,293.6 505.6,293.6 507.9,293.6 510.1,283.6 512.4,290.1 514.6,287.7 516.9,294.8 519.2,297.9 521.4,293.1 523.7,282.7 526.0,282.7 528.2,287.3 530.5,287.3 532.8,289.6 535.0,289.2 537.3,289.2"/>
<polyline points="310.9,289.0 313.2,287.1 315.4,287.1 317.7,287.1 320.0,287.1 322.2,293.0 324.5,293.0 326.8,288.6 329.0,289.6 331.3,291.4 333.6,291.4 335.8,290.2 338.1,290.2 340.3,284.9 342.6,288.0 344.9,289.7 347.1,289.5 349.4,284.7 351.7,282.8 353.9,289.3 356.2,295.7 358.5,289.2 360.7,285.9 363.0,292.3 365.2,293.4 367.5,294.0 369.8,294.0 372.0,283.3 374.3,283.3 376.6,283.3 378.8,296.1 381.1,292.3 383.4,295.0 385.6,295.0 387.9,296.0 390.1,296.0 392.4,295.8 394.7,295.5 396.9,295.5 399.2,299.7 401.5,299.5 403.7,299.5 406.0,296.0 408.3,296.0 410.5,289.0 412.8,289.0 415.0,289.0 417.3,289.0 419.6,262.0 421.8,262.0 424.1,225.7 426.4,225.7 428.6,222.6 430.9,229.3 433.2,237.1 435.4,237.1 437.7,252.1 439.9,263.5 442.2,278.1 444.5,288.8 446.7,293.1 449.0,301.5 451.3,305.6 453.5,306.4 455.8,306.1 458.1,312.1 460.3,312.1 462.6,318.4 464.8,314.9 467.1,312.0 469.4,314.0 471.6,314.0 473.9,318.2 476.2,318.2 478.4,315.2 480.7,315.2 483.0,313.4 485.2,313.4 487.5,310.8 489.7,307.8 492.0,305.9 494.3,305.4 496.5,304.3 498.8,304.3 501.1,304.3 503.3,294.0 505.6,299.1 507.9,294.6 510.1,293.8 512.4,293.8 514.6,296.4 516.9,297.0 519.2,297.0 521.4,296.9 523.7,296.9 526.0,287.3 528.2,289.6 530.5,295.6 532.8,293.4 535.0,294.4 537.3,295.6"/>
<polyline points="310.9,298.9 313.2,282.4 315.4,293.1 317.7,295.7 320.0,294.0 322.2,294.0 324.5,286.1 326.8,298.2 329.0,298.2 331.3,298.2 333.6,298.2 335.8,285.6 338.1,285.6 340.3,291.3 342.6,293.6 344.9,294.3 347.1,297.1 349.4,287.1 351.7,289.2 353.9,287.5 356.2,287.5 358.5,282.8 360.7,287.4 363.0,287.4 365.2,298.1 367.5,289.7 369.8,289.7 372.0,294.9 374.3,294.6 376.6,297.6 378.8,295.3 381.1,295.3 383.4,292.6 385.6,302.6 387.9,302.6 390.1,306.4 392.4,309.8 394.7,310.3 396.9,305.1 399.2,299.2 401.5,300.4 403.7,299.2 406.0,295.6 408.3,295.6 410.5,298.2 412.8,298.2 415.0,281.0 417.3,264.0 419.6,264.0 421.8,264.0 424.1,266.3 426.4,266.3 428.6,262.1 430.9,262.1 433.2,267.4 435.4,267.4 437.7,272.1 439.9,278.8 442.2,278.8 444.5,278.8 446.7,284.5 449.0,291.6 451.3,291.6 453.5,285.3 455.8,296.3 458.1,293.2 460.3,290.5 462.6,290.5 464.8,290.5 467.1,290.5 469.4,302.9 471.6,307.3 473.9,304.5 476.2,304.5 478.4,304.5 480.7,304.5 483.0,309.1 485.2,300.7 487.5,300.7 489.7,298.2 492.0,298.2 494.3,298.2 496.5,298.2 498.8,300.5 501.1,303.5 503.3,300.9 505.6,300.9 507.9,300.9 510.1,312.0 512.4,312.0 514.6,312.0 516.9,312.0 519.2,312.0 521.4,296.7 523.7,299.4 526.0,299.4 528.2,300.5 530.5,298.6 532.8,298.6 535.0,298.0 537.3,298.0"/>
<polyline points="310.9,293.9 313.2,293.9 315.4,290.7 317.7,284.4 320.0,282.5 322.2,290.1 324.5,288.5 326.8,284.2 329.0,284.2 331.3,279.0 333.6,285.5 335.8,285.5 338.1,285.5 340.3,288.3 342.6,283.0 344.9,294.6 347.1,282.9 349.4,280.0 351.7,280.0 353.9,280.0 356.2,299.3 358.5,299.3 360.7,299.3 363.0,299.3 365.2,299.3 367.5,299.3 369.8,288.7 372.0,288.7 374.3,291.5 376.6,291.5 378.8,289.4 381.1,288.4 383.4,287.1 385.6,287.9 387.9,299.9 390.1,295.1 392.4,299.6 394.7,305.0 396.9,303.6 399.2,307.1 401.5,309.2 403.7,306.1 406.0,305.8 408.3,298.4 410.5,293.5 412.8,282.6 415.0,270.6 417.3,270.6 419.6,237.2 421.8,228.0 424.1,226.4 426.4,229.8 428.6,236.9 430.9,230.6 433.2,242.0 435.4,239.2 437.7,245.5 439.9,247.1 442.2,246.8 444.5,256.6 446.7,258.7 449.0,258.7 451.3,280.5 453.5,280.5 455.8,296.8 458.1,296.8 460.3,296.8 462.6,296.8 464.8,313.9 467.1,314.4 469.4,308.7 471.6,308.7 473.9,306.2 476.2,318.0 478.4,315.4 480.7,307.4 483.0,305.2 485.2,308.0 487.5,307.8 489.7,307.8 492.0,307.2 494.3,309.6 496.5,296.8 498.8,297.0 501.1,297.0 503.3,297.0 505.6,301.6 507.9,291.8 510.1,291.8 512.4,292.9 514.6,297.5 516.9,299.5 519.2,286.8 521.4,292.1 523.7,289.9 526.0,287.6 528.2,285.7 530.5,291.8 532.8,299.7 535.0,299.7 537.3,299.7"/>
<polyline points="310.9,290.9 313.2,284.0 315.4,287.6 317.7,287.6 320.0,290.8 322.2,290.5 324.5,290.3 326.8,289.6 329.0,289.6 331.3,286.0 333.6,286.0 335.8,286.0 338.1,287.3 340.3,282.9 342.6,285.2 344.9,286.3 347.1,283.1 349.4,283.1 351.7,286.6 353.9,286.0 356.2,286.0 358.5,286.9 360.7,291.8 363.0,291.8 365.2,291.8 367.5,293.1 369.8,291.7 372.0,291.7 374.3,301.4 376.6,301.8 378.8,299.0 381.1,299.0 383.4,311.1 385.6,311.2 387.9,310.2 390.1,310.5 392.4,310.5 394.7,317.4 396.9,317.2 399.2,317.2 401.5,317.2 403.7,317.2 406.0,317.2 408.3,317.2 410.5,291.1 412.8,284.1 415.0,284.0 417.3,284.0 419.6,262.8 421.8,262.8 424.1,259.4 426.4,257.0 428.6,257.0 430.9,253.3 433.2,256.5 435.4,256.5 437.7,271.2 439.9,273.1 442.2,273.1 444.5,280.6 446.7,281.9 449.0,281.9 451.3,296.9 453.5,307.7 455.8,300.6 458.1,297.2 460.3,298.7 462.6,303.6 464.8,299.6 467.1,299.6 469.4,307.2 471.6,306.2 473.9,295.8 476.2,289.3 478.4,294.5 480.7,294.5 483.0,294.5 485.2,299.9 487.5,299.9 489.7,299.9 492.0,293.6 494.3,292.3 496.5,298.3 498.8,298.3 501.1,289.0 503.3,290.0 505.6,289.6 507.9,289.6 510.1,292.3 512.4,292.3 514.6,292.3 516.9,293.1 519.2,291.7 521.4,294.6 523.7,298.2 526.0,306.4 528.2,298.4 530.5,289.8 532.8,289.8 535.0,289.6 537.3,289.7"/>
<polyline points="310.9,289.6 313.2,289.6 315.4,289.6 317.7,293.0 320.0,293.0 322.2,293.0 324.5,287.5 326.8,287.2 329.0,287.1 331.3,284.9 333.6,290.6 335.8,292.1 338.1,291.7 340.3,291.7 342.6,289.6 344.9,291.2 347.1,293.3 349.4,293.9 351.7,293.9 353.9,295.4 356.2,295.4 358.5,298.9 360.7,298.9 363.0,293.0 365.2,292.7 367.5,290.2 369.8,290.2 372.0,290.2 374.3,290.2 376.6,290.2 378.8,294.7 381.1,298.3 383.4,296.3 385.6,292.8 387.9,292.8 390.1,292.4 392.4,294.9 394.7,300.8 396.9,297.4 399.2,302.2 401.5,302.2 403.7,301.2 406.0,296.1 408.3,296.0 410.5,296.0 412.8,288.8 415.0,285.0 417.3,272.1 419.6,272.1 421.8,251.7 424.1,253.1 426.4,241.4 428.6,236.8 430.9,236.7 433.2,236.7 435.4,243.7 437.7,253.2 439.9,268.6 442.2,268.6 444.5,268.6 446.7,268.6 449.0,273.8 451.3,273.8 453.5,283.2 455.8,288.1 458.1,295.8 460.3,304.0 462.6,309.0 464.8,305.5 467.1,298.2 469.4,298.2 471.6,298.2 473.9,305.9 476.2,312.5 478.4,313.2 480.7,313.2 483.0,318.4 485.2,318.8 487.5,312.2 489.7,313.3 492.0,314.9 494.3,314.9 496.5,321.1 498.8,321.1 501.1,321.1 503.3,321.1 505.6,317.0 507.9,317.0 510.1,316.4 512.4,313.6 514.6,313.7 516.9,313.2 519.2,312.4 521.4,305.8 523.7,303.8 526.0,303.8 528.2,306.7 530.5,304.3 532.8,300.7 535.0,300.7 537.3,299.5"/>
<polyline points="310.9,294.7 313.2,293.4 315.4,296.7 317.7,296.5 320.0,296.5 322.2,297.9 324.5,297.9 326.8,296.5 329.0,296.6 331.3,296.7 333.6,297.5 335.8,297.5 338.1,297.5 340.3,294.2 342.6,294.2 344.9,298.7 347.1,299.0 349.4,299.0 351.7,297.3 353.9,297.3 356.2,297.3 358.5,294.3 360.7,292.3 363.0,292.3 365.2,295.1 367.5,295.0 369.8,295.0 372.0,293.8 374.3,296.1 376.6,296.1 378.8,296.1 381.1,291.1 383.4,291.8 385.6,295.9 387.9,298.5 390.1,304.1 392.4,303.8 394.7,297.0 396.9,295.2 399.2,295.2 401.5,295.2 403.7,295.8 406.0,295.8 408.3,299.8 410.5,297.2 412.8,296.3 415.0,292.3 417.3,284.1 419.6,278.6 421.8,269.9 424.1,254.6 426.4,254.6 428.6,254.6 430.9,233.2 433.2,233.2 435.4,233.2 437.7,264.8 439.9,274.5 442.2,274.5 444.5,284.5 446.7,286.1 449.0,290.2 451.3,292.8 453.5,292.8 455.8,297.0 458.1,299.8 460.3,299.8 462.6,302.2 464.8,303.5 467.1,303.5 469.4,305.7 471.6,306.1 473.9,306.1 476.2,306.1 478.4,310.0 480.7,309.9 483.0,312.8 485.2,311.0 487.5,311.0 489.7,308.9 492.0,310.4 494.3,311.0 496.5,311.0 498.8,311.3 501.1,307.2 503.3,306.5 505.6,306.5 507.9,308.3 510.1,309.1 512.4,308.8 514.6,308.8 516.9,308.8 519.2,305.4 521.4,308.4 523.7,308.4 526.0,308.4 528.2,299.5 530.5,299.6 532.8,299.5 535.0,300.1 537.3,299.2"/>
<polyline points="310.9,286.5 313.2,287.7 315.4,287.7 317.7,288.9 320.0,288.2 322.2,291.1 324.5,293.5 326.8,295.4 329.0,295.4 331.3,295.2 333.6,295.1 335.8,291.5 338.1,290.4 340.3,292.3 342.6,290.6 344.9,290.6 347.1,287.3 349.4,287.3 351.7,291.0 353.9,289.3 356.2,287.4 358.5,286.4 360.7,286.7 363.0,284.5 365.2,284.5 367.5,289.8 369.8,289.8 372.0,289.6 374.3,291.3 376.6,291.1 378.8,292.9 381.1,291.5 383.4,296.3 385.6,296.3 387.9,296.3 390.1,297.5 392.4,297.5 394.7,299.2 396.9,299.2 399.2,308.3 401.5,311.3 403.7,310.3 406.0,312.1 408.3,312.1 410.5,312.1 412.8,300.2 415.0,300.2 417.3,290.3 419.6,290.3 421.8,259.7 424.1,250.6 426.4,236.6 428.6,235.4 430.9,241.7 433.2,245.2 435.4,245.2 437.7,238.2 439.9,252.9 442.2,258.3 444.5,260.5 446.7,263.5 449.0,274.1 451.3,284.8 453.5,291.0 455.8,299.7 458.1,299.6 460.3,298.2 462.6,302.1 464.8,302.1 467.1,302.3 469.4,302.3 471.6,300.4 473.9,300.4 476.2,301.7 478.4,301.7 480.7,298.1 483.0,300.1 485.2,297.6 487.5,300.1 489.7,296.1 492.0,296.7 494.3,295.8 496.5,295.8 498.8,290.7 501.1,293.5 503.3,295.6 505.6,295.6 507.9,292.2 510.1,296.7 512.4,298.7 514.6,298.7 516.9,293.9 519.2,296.1 521.4,296.1 523.7,294.7 526.0,294.7 528.2,295.9 530.5,295.9 532.8,294.1 535.0,294.1 537.3,294.1"/>
<polyline points="310.9,290.6 313.2,299.1 315.4,293.0 317.7,292.2 320.0,292.2 322.2,292.2 324.5,283.4 326.8,291.4 329.0,292.6 331.3,292.0 333.6,290.7 335.8,288.7 338.1,287.1 340.3,289.0 342.6,289.8 344.9,289.8 347.1,283.6 349.4,293.3 351.7,296.0 353.9,296.0 356.2,296.1 358.5,296.1 360.7,291.6 363.0,293.7 365.2,284.4 367.5,294.9 369.8,296.5 372.0,299.6 374.3,289.8 376.6,299.1 378.8,304.3 381.1,301.5 383.4,307.1 385.6,307.1 387.9,306.8 390.1,306.8 392.4,306.8 394.7,307.0 396.9,314.7 399.2,315.7 401.5,296.4 403.7,297.8 406.0,301.1 408.3,301.1 410.5,301.1 412.8,301.1 415.0,278.8 417.3,261.7 419.6,261.7 421.8,234.8 424.1,225.0 426.4,219.8 428.6,219.8 430.9,229.9 433.2,229.9 435.4,245.1 437.7,245.1 439.9,263.0 442.2,269.4 444.5,281.3 446.7,284.2 449.0,294.7 451.3,298.8 453.5,297.5 455.8,300.0 458.1,304.0 460.3,304.3 462.6,302.2 464.8,293.8 467.1,301.6 469.4,295.3 471.6,295.3 473.9,310.6 476.2,310.6 478.4,300.3 480.7,297.2 483.0,297.2 485.2,297.2 487.5,311.8 489.7,311.3 492.0,311.3 494.3,292.0 496.5,295.4 498.8,302.8 501.1,295.4 503.3,295.4 505.6,288.2 507.9,288.2 510.1,288.2 512.4,293.3 514.6,298.1 516.9,298.1 519.2,298.1 521.4,298.1 523.7,298.1 526.0,298.8 528.2,289.1 530.5,294.9 532.8,289.4 535.0,289.4 537.3,289.4"/>
<polyline points="310.9,289.7 313.2,289.7 315.4,289.7 317.7,285.8 320.0,287.3 322.2,287.3 324.5,293.8 326.8,291.3 329.0,286.8 331.3,285.0 333.6,285.0 335.8,287.7 338.1,287.7 340.3,291.1 342.6,290.2 344.9,288.8 347.1,289.3 349.4,289.9 351.7,289.5 353.9,290.6 356.2,290.6 358.5,290.3 360.7,289.2 363.0,288.9 365.2,288.9 367.5,288.9 369.8,288.9 372.0,288.9 374.3,291.8 376.6,291.8 378.8,298.9 381.1,298.9 383.4,315.9 385.6,323.0 387.9,329.9 390.1,337.3 392.4,344.6 394.7,344.6 396.9,344.2 399.2,334.5 401.5,324.1 403.7,324.1 406.0,300.3 408.3,296.9 410.5,293.5 412.8,287.9 415.0,282.1 417.3,275.7 419.6,268.8 421.8,261.5 424.1,254.4 426.4,257.6 428.6,262.2 430.9,266.0 433.2,269.1 435.4,271.3 437.7,271.3 439.9,279.4 442.2,279.4 444.5,285.3 446.7,290.4 449.0,290.4 451.3,298.3 453.5,297.4 455.8,296.4 458.1,296.6 460.3,296.6 462.6,301.0 464.8,301.0 467.1,301.0 469.4,299.6 471.6,298.4 473.9,299.3 476.2,299.3 478.4,299.2 480.7,298.0 483.0,297.5 485.2,298.4 487.5,298.4 489.7,300.5 492.0,300.5 494.3,297.5 496.5,297.5 498.8,295.3 501.1,294.9 503.3,295.9 505.6,296.4 507.9,296.4 510.1,295.8 512.4,298.7 514.6,299.7 516.9,299.4 519.2,298.4 521.4,297.3 523.7,295.6 526.0,292.9 528.2,291.8 530.5,293.0 532.8,293.0 535.0,292.0 537.3,291.9"/>
<polyline points="310.9,289.3 313.2,288.6 315.4,287.0 317.7,285.2 320.0,285.7 322.2,287.2 324.5,287.2 326.8,287.4 329.0,288.0 331.3,288.6 333.6,289.9 335.8,292.3 338.1,293.7 340.3,291.9 342.6,291.9 344.9,286.5 347.1,286.5 349.4,289.9 351.7,291.4 353.9,290.0 356.2,290.0 358.5,290.0 360.7,284.9 363.0,284.9 365.2,286.9 367.5,286.9 369.8,293.2 372.0,292.1 374.3,291.0 376.6,290.2 378.8,289.7 381.1,291.2 383.4,291.2 385.6,291.3 387.9,288.9 390.1,288.9 392.4,286.0 394.7,287.1 396.9,287.1 399.2,294.1 401.5,294.1 403.7,287.0 406.0,283.6 408.3,283.6 410.5,281.3 412.8,281.3 415.0,268.4 417.3,251.8 419.6,233.1 421.8,217.6 424.1,211.0 426.4,211.0 428.6,220.4 430.9,229.7 433.2,229.7 435.4,241.2 437.7,248.3 439.9,248.3 442.2,248.3 444.5,263.8 446.7,263.8 449.0,263.8 451.3,282.4 453.5,286.0 455.8,286.5 458.1,288.0 460.3,288.0 462.6,288.0 464.8,293.6 467.1,293.6 469.4,294.8 471.6,293.4 473.9,291.8 476.2,291.8 478.4,294.8 480.7,293.5 483.0,288.3 485.2,283.6 487.5,282.0 489.7,284.3 492.0,287.5 494.3,287.5 496.5,290.6 498.8,290.6 501.1,292.8 503.3,293.7 505.6,289.7 507.9,287.1 510.1,286.7 512.4,286.7 514.6,285.7 516.9,285.9 519.2,289.4 521.4,294.1 523.7,296.1 526.0,295.1 528.2,292.3 530.5,290.4 532.8,290.4 535.0,290.4 537.3,290.2"/>
<polyline points="310.9,289.1 313.2,291.0 315.4,291.0 317.7,281.0 320.0,281.0 322.2,273.9 324.5,275.5 326.8,279.4 329.0,282.7 331.3,286.2 333.6,286.2 335.8,291.2 338.1,291.5 340.3,291.5 342.6,291.5 344.9,291.5 347.1,285.6 349.4,285.6 351.7,282.1 353.9,282.1 356.2,286.9 358.5,286.4 360.7,286.4 363.0,286.4 365.2,286.4 367.5,286.0 369.8,288.6 372.0,288.6 374.3,293.0 376.6,294.1 378.8,293.7 381.1,292.5 383.4,292.5 385.6,292.5 387.9,292.5 390.1,294.8 392.4,294.8 394.7,290.1 396.9,290.1 399.2,287.3 401.5,287.3 403.7,290.2 406.0,291.7 408.3,291.7 410.5,291.7 412.8,291.7 415.0,289.5 417.3,283.3 419.6,277.2 421.8,273.1 424.1,271.3 426.4,272.4 428.6,275.2 430.9,279.8 433.2,279.8 435.4,280.0 437.7,281.1 439.9,285.3 442.2,285.3 444.5,292.0 446.7,292.8 449.0,292.8 451.3,296.2 453.5,294.9 455.8,295.1 458.1,295.1 460.3,299.4 462.6,301.7 464.8,301.5 467.1,301.5 469.4,298.5 471.6,301.5 473.9,303.2 476.2,300.7 478.4,296.7 480.7,296.7 483.0,296.7 485.2,296.7 487.5,296.7 489.7,293.7 492.0,295.9 494.3,297.6 496.5,298.8 498.8,297.8 501.1,296.3 503.3,297.4 505.6,298.0 507.9,298.0 510.1,295.2 512.4,294.7 514.6,294.7 516.9,291.3 519.2,288.7 521.4,288.7 523.7,289.3 526.0,285.4 528.2,284.3 530.5,284.4 532.8,285.4 535.0,289.5 537.3,294.0"/>
<polyline points="310.9,290.6 313.2,287.1 315.4,281.2 317.7,276.5 320.0,274.9 322.2,278.1 324.5,283.9 326.8,289.0 329.0,289.0 331.3,289.0 333.6,289.0 335.8,289.0 338.1,294.4 340.3,294.5 342.6,292.5 344.9,290.2 347.1,290.7 349.4,291.9 351.7,292.5 353.9,292.3 356.2,290.2 358.5,290.2 360.7,290.2 363.0,290.2 365.2,288.0 367.5,288.0 369.8,288.0 372.0,294.6 374.3,294.6 376.6,294.6 378.8,288.3 381.1,288.3 383.4,288.3 385.6,288.3 387.9,288.3 390.1,286.4 392.4,288.8 394.7,288.8 396.9,291.7 399.2,291.7 401.5,289.8 403.7,286.5 406.0,282.6 408.3,282.6 410.5,281.8 412.8,282.5 415.0,282.5 417.3,271.8 419.6,265.4 421.8,261.2 424.1,256.1 426.4,252.1 428.6,252.9 430.9,257.4 433.2,261.2 435.4,262.6 437.7,264.3 439.9,264.3 442.2,272.8 444.5,272.8 446.7,278.6 449.0,279.6 451.3,279.6 453.5,284.3 455.8,288.2 458.1,291.9 460.3,296.2 462.6,296.2 464.8,296.2 467.1,299.1 469.4,299.1 471.6,299.1 473.9,299.1 476.2,300.9 478.4,304.7 480.7,307.1 483.0,305.7 485.2,305.3 487.5,307.7 489.7,307.7 492.0,307.7 494.3,312.5 496.5,312.5 498.8,310.9 501.1,310.9 503.3,313.1 505.6,314.2 507.9,313.0 510.1,313.0 512.4,310.7 514.6,311.1 516.9,313.1 519.2,312.8 521.4,312.8 523.7,312.8 526.0,312.8 528.2,303.9 530.5,306.2 532.8,305.2 535.0,300.7 537.3,300.7"/>
<polyline points="310.9,271.5 313.2,271.5 315.4,271.9 317.7,271.9 320.0,278.4 322.2,278.4 324.5,281.7 326.8,282.8 329.0,282.7 331.3,282.2 333.6,282.2 335.8,279.5 338.1,279.8 340.3,279.8 342.6,279.8 344.9,284.4 347.1,284.0 349.4,283.4 351.7,285.5 353.9,285.5 356.2,288.6 358.5,284.4 360.7,279.0 363.0,279.0 365.2,281.0 367.5,283.9 369.8,283.8 372.0,281.9 374.3,282.2 376.6,286.1 378.8,289.0 381.1,289.7 383.4,289.7 385.6,287.4 387.9,284.8 390.1,284.8 392.4,284.2 394.7,284.2 396.9,286.4 399.2,286.4 401.5,282.7 403.7,281.3 406.0,282.9 408.3,283.7 410.5,283.7 412.8,279.8 415.0,277.6 417.3,272.4 419.6,265.3 421.8,265.3 424.1,255.6 426.4,253.0 428.6,253.9 430.9,254.7 433.2,253.9 435.4,257.2 437.7,257.2 439.9,269.1 442.2,270.9 444.5,271.3 446.7,273.0 449.0,277.1 451.3,281.0 453.5,281.0 455.8,282.7 458.1,281.0 460.3,280.8 462.6,280.8 464.8,288.1 467.1,288.1 469.4,288.8 471.6,290.9 473.9,292.1 476.2,292.0 478.4,292.0 480.7,293.8 483.0,291.7 485.2,290.1 487.5,290.4 489.7,290.2 492.0,290.2 494.3,291.2 496.5,292.3 498.8,290.3 501.1,286.5 503.3,287.3 505.6,287.3 507.9,291.1 510.1,287.8 512.4,287.8 514.6,283.6 516.9,285.5 519.2,285.8 521.4,285.4 523.7,286.6 526.0,288.7 528.2,289.6 530.5,289.6 532.8,288.3 535.0,284.0 537.3,284.0"/>
<polyline points="310.9,290.4 313.2,291.5 315.4,292.3 317.7,293.0 320.0,293.0 322.2,292.8 324.5,292.8 326.8,288.8 329.0,288.8 331.3,289.5 333.6,289.6 335.8,290.7 338.1,290.7 340.3,290.7 342.6,288.0 344.9,288.0 347.1,290.7 349.4,292.9 351.7,294.5 353.9,294.6 356.2,293.7 358.5,292.8 360.7,292.1 363.0,291.3 365.2,290.9 367.5,291.2 369.8,290.8 372.0,288.2 374.3,288.2 376.6,288.2 378.8,290.9 381.1,299.5 383.4,314.8 385.6,331.9 387.9,343.9 390.1,343.9 392.4,343.9 394.7,348.2 396.9,344.8 399.2,339.0 401.5,325.1 403.7,325.1 406.0,296.5 408.3,293.2 410.5,291.5 412.8,291.5 415.0,291.5 417.3,273.4 419.6,263.7 421.8,255.8 424.1,250.7 426.4,249.6 428.6,250.9 430.9,250.9 433.2,257.3 435.4,261.1 437.7,265.5 439.9,270.5 442.2,270.5 444.5,278.6 446.7,281.6 449.0,286.4 451.3,290.0 453.5,289.8 455.8,288.0 458.1,288.1 460.3,288.1 462.6,289.7 464.8,289.3 467.1,289.3 469.4,291.6 471.6,291.0 473.9,291.0 476.2,288.3 478.4,286.6 480.7,285.2 483.0,285.4 485.2,288.2 487.5,292.6 489.7,296.0 492.0,296.7 494.3,295.5 496.5,294.5 498.8,294.2 501.1,294.0 503.3,293.4 505.6,291.5 507.9,288.7 510.1,286.9 512.4,286.9 514.6,288.1 516.9,288.4 519.2,287.0 521.4,287.0 523.7,287.0 526.0,287.8 528.2,288.1 530.5,287.7 532.8,286.9 535.0,286.9 537.3,288.2"/>
<polyline points="310.9,289.2 313.2,289.9 315.4,289.9 317.7,290.6 320.0,289.5 322.2,288.6 324.5,288.6 326.8,288.3 329.0,288.8 331.3,290.1 333.6,291.2 335.8,291.3 338.1,290.9 340.3,289.2 342.6,289.2 344.9,289.2 347.1,287.7 349.4,288.8 351.7,290.1 353.9,289.6 356.2,288.0 358.5,288.3 360.7,288.3 363.0,291.3 365.2,292.5 367.5,291.8 369.8,289.8 372.0,289.8 374.3,290.1 376.6,296.4 378.8,296.4 381.1,315.2 383.4,315.2 385.6,319.0 387.9,317.7 390.1,317.1 392.4,317.1 394.7,316.7 396.9,314.8 399.2,310.0 401.5,310.0 403.7,310.0 406.0,310.0 408.3,291.5 410.5,291.5 412.8,288.0 415.0,282.1 417.3,273.9 419.6,264.9 421.8,264.9 424.1,255.5 426.4,255.5 428.6,255.5 430.9,260.3 433.2,261.3 435.4,261.3 437.7,264.8 439.9,268.6 442.2,272.9 444.5,277.9 446.7,282.6 449.0,282.6 451.3,285.2 453.5,286.2 455.8,287.5 458.1,289.2 460.3,290.3 462.6,289.6 464.8,287.8 467.1,287.2 469.4,288.5 471.6,288.5 473.9,288.5 476.2,289.8 478.4,289.9 480.7,290.1 483.0,290.3 485.2,290.3 487.5,290.4 489.7,289.8 492.0,287.8 494.3,285.8 496.5,285.6 498.8,286.7 501.1,286.7 503.3,288.1 505.6,289.0 507.9,289.0 510.1,292.0 512.4,292.1 514.6,290.3 516.9,288.3 519.2,288.3 521.4,288.3 523.7,288.3 526.0,289.6 528.2,289.2 530.5,290.2 532.8,290.2 535.0,292.1 537.3,292.1"/>
<polyline points="310.9,293.9 313.2,291.3 315.4,285.8 317.7,280.3 320.0,280.3 322.2,280.6 324.5,280.6 326.8,290.1 329.0,294.4 331.3,294.4 333.6,294.4 335.8,292.4 338.1,292.4 340.3,290.4 342.6,290.3 344.9,290.3 347.1,290.8 349.4,290.3 351.7,290.3 353.9,289.8 356.2,289.7 358.5,290.9 360.7,291.3 363.0,291.3 365.2,291.3 367.5,287.0 369.8,287.4 372.0,287.2 374.3,287.2 376.6,287.2 378.8,287.2 381.1,288.9 383.4,288.3 385.6,287.5 387.9,287.4 390.1,287.9 392.4,287.8 394.7,287.8 396.9,287.8 399.2,289.5 401.5,289.5 403.7,289.0 406.0,287.7 408.3,287.7 410.5,286.8 412.8,282.5 415.0,275.0 417.3,266.4 419.6,266.4 421.8,250.4 424.1,247.6 426.4,248.9 428.6,248.9 430.9,252.9 433.2,253.7 435.4,257.3 437.7,262.6 439.9,267.8 442.2,272.3 444.5,272.3 446.7,281.2 449.0,283.5 451.3,285.6 453.5,288.2 455.8,288.2 458.1,290.0 460.3,290.0 462.6,287.3 464.8,287.3 467.1,288.3 469.4,289.2 471.6,290.2 473.9,290.2 476.2,293.2 478.4,292.9 480.7,291.5 483.0,291.5 485.2,289.0 487.5,288.1 489.7,288.9 492.0,290.7 494.3,291.7 496.5,292.1 498.8,291.9 501.1,289.9 503.3,288.2 505.6,288.8 507.9,288.8 510.1,289.9 512.4,289.9 514.6,288.9 516.9,288.9 519.2,290.6 521.4,291.0 523.7,291.0 526.0,289.8 528.2,289.8 530.5,290.6 532.8,292.6 535.0,294.0 537.3,293.3"/>
<polyline points="310.9,293.0 313.2,291.2 315.4,291.2 317.7,291.2 320.0,287.6 322.2,288.3 324.5,287.8 326.8,288.8 329.0,291.6 331.3,293.4 333.6,293.4 335.8,293.4 338.1,285.9 340.3,285.9 342.6,287.0 344.9,287.5 347.1,287.7 349.4,289.0 351.7,289.0 353.9,292.7 356.2,292.7 358.5,292.4 360.7,292.4 363.0,292.4 365.2,287.2 367.5,280.7 369.8,280.7 372.0,281.4 374.3,287.6 376.6,287.6 378.8,287.6 381.1,287.6 383.4,287.6 385.6,290.3 387.9,290.3 390.1,282.9 392.4,284.7 394.7,287.4 396.9,286.9 399.2,285.0 401.5,285.1 403.7,286.7 406.0,286.7 408.3,292.0 410.5,293.5 412.8,291.0 415.0,284.4 417.3,284.4 419.6,267.9 421.8,261.2 424.1,256.3 426.4,254.4 428.6,255.5 430.9,259.1 433.2,259.1 435.4,265.7 437.7,265.7 439.9,271.9 442.2,276.2 444.5,279.7 446.7,282.1 449.0,283.4 451.3,283.3 453.5,282.9 455.8,284.5 458.1,287.4 460.3,288.3 462.6,288.0 464.8,289.3 467.1,289.3 469.4,289.3 471.6,288.6 473.9,286.2 476.2,285.3 478.4,286.5 480.7,286.5 483.0,290.1 485.2,289.3 487.5,287.3 489.7,287.3 492.0,286.0 494.3,286.4 496.5,286.4 498.8,287.7 501.1,288.3 503.3,288.3 505.6,288.3 507.9,288.3 510.1,288.3 512.4,288.3 514.6,291.2 516.9,291.2 519.2,290.2 521.4,289.0 523.7,289.0 526.0,289.0 528.2,287.0 530.5,289.8 532.8,290.4 535.0,290.4 537.3,290.4"/>
<polyline points="310.9,293.5 313.2,294.1 315.4,294.1 317.7,291.6 320.0,291.6 322.2,291.4 324.5,291.3 326.8,290.5 329.0,288.6 331.3,288.6 333.6,284.9 335.8,287.1 338.1,290.2 340.3,292.0 342.6,292.0 344.9,292.8 347.1,292.4 349.4,291.6 351.7,290.0 353.9,287.5 356.2,287.5 358.5,285.7 360.7,285.7 363.0,287.5 365.2,289.8 367.5,290.6 369.8,289.0 372.0,286.7 374.3,286.2 376.6,288.0 378.8,290.8 381.1,292.9 383.4,293.2 385.6,293.2 387.9,293.2 390.1,293.2 392.4,293.2 394.7,293.2 396.9,290.0 399.2,288.3 401.5,288.3 403.7,288.9 406.0,288.7 408.3,287.5 410.5,284.7 412.8,284.7 415.0,284.7 417.3,284.7 419.6,248.7 421.8,239.9 424.1,235.4 426.4,235.8 428.6,238.8 430.9,244.2 433.2,252.2 435.4,261.1 437.7,261.1 439.9,271.3 442.2,274.6 444.5,278.6 446.7,282.1 449.0,285.5 451.3,291.4 453.5,302.4 455.8,315.5 458.1,315.5 460.3,327.5 462.6,328.9 464.8,327.4 467.1,320.6 469.4,308.1 471.6,297.1 473.9,292.9 476.2,293.3 478.4,294.5 480.7,294.5 483.0,294.5 485.2,294.5 487.5,289.8 489.7,290.4 492.0,290.4 494.3,290.7 496.5,290.7 498.8,291.3 501.1,291.1 503.3,291.1 505.6,291.1 507.9,291.7 510.1,291.7 512.4,291.7 514.6,291.5 516.9,291.5 519.2,287.6 521.4,286.2 523.7,286.2 526.0,286.2 528.2,287.7 530.5,289.2 532.8,290.4 535.0,290.6 537.3,290.2"/>
<polyline points="310.9,289.9 313.2,290.1 315.4,291.2 317.7,292.0 320.0,291.0 322.2,289.4 324.5,289.4 326.8,287.8 329.0,288.0 331.3,288.1 333.6,288.8 335.8,291.8 338.1,295.0 340.3,295.2 342.6,295.2 344.9,289.6 347.1,287.3 349.4,286.4 351.7,287.5 353.9,288.6 356.2,288.0 358.5,288.0 360.7,289.7 363.0,291.4 365.2,292.0 367.5,292.1 369.8,291.7 372.0,291.7 374.3,290.4 376.6,290.9 378.8,290.9 381.1,291.6 383.4,289.9 385.6,289.0 387.9,291.0 390.1,291.0 392.4,293.3 394.7,292.4 396.9,291.9 399.2,291.9 401.5,290.9 403.7,289.4 406.0,287.3 408.3,285.9 410.5,284.5 412.8,280.2 415.0,272.8 417.3,272.8 419.6,251.3 421.8,239.7 424.1,232.5 426.4,230.6 428.6,231.8 430.9,231.8 433.2,243.2 435.4,249.3 437.7,249.3 439.9,249.3 442.2,249.3 444.5,278.1 446.7,278.1 449.0,284.9 451.3,287.4 453.5,287.4 455.8,287.4 458.1,290.7 460.3,290.7 462.6,290.7 464.8,296.7 467.1,295.1 469.4,295.1 471.6,295.1 473.9,279.9 476.2,268.9 478.4,268.9 480.7,266.3 483.0,266.3 485.2,282.8 487.5,282.8 489.7,282.8 492.0,287.0 494.3,286.7 496.5,286.7 498.8,289.6 501.1,290.5 503.3,290.1 505.6,289.6 507.9,288.9 510.1,288.9 512.4,287.4 514.6,287.9 516.9,287.8 519.2,287.7 521.4,289.4 523.7,289.4 526.0,291.3 528.2,291.4 530.5,289.8 532.8,286.7 535.0,285.5 537.3,286.5"/>
<polyline points="310.9,290.2 313.2,291.9 315.4,293.2 317.7,292.4 320.0,290.0 322.2,288.2 324.5,288.2 326.8,288.8 329.0,288.1 331.3,287.1 333.6,287.1 335.8,289.3 338.1,289.3 340.3,289.3 342.6,289.3 344.9,290.1 347.1,290.6 349.4,290.6 351.7,287.0 353.9,286.1 356.2,287.2 358.5,289.1 360.7,289.1 363.0,290.4 365.2,289.3 367.5,287.6 369.8,287.6 372.0,287.1 374.3,287.1 376.6,287.1 378.8,293.9 381.1,293.3 383.4,292.6 385.6,292.0 387.9,291.3 390.1,288.9 392.4,288.9 394.7,288.9 396.9,286.5 399.2,286.5 401.5,290.8 403.7,290.8 406.0,289.5 408.3,289.0 410.5,289.0 412.8,291.4 415.0,289.6 417.3,284.2 419.6,276.7 421.8,276.7 424.1,264.7 426.4,262.8 428.6,263.4 430.9,263.4 433.2,265.8 435.4,265.8 437.7,268.4 439.9,270.4 442.2,274.2 444.5,274.2 446.7,280.3 449.0,281.8 451.3,284.3 453.5,284.3 455.8,284.3 458.1,290.6 460.3,293.6 462.6,299.7 464.8,310.9 467.1,310.9 469.4,333.0 471.6,336.2 473.9,336.2 476.2,336.2 478.4,314.3 480.7,314.3 483.0,314.3 485.2,314.3 487.5,314.3 489.7,288.5 492.0,288.4 494.3,291.0 496.5,292.4 498.8,290.9 501.1,290.9 503.3,290.9 505.6,289.4 507.9,289.9 510.1,289.9 512.4,287.9 514.6,287.7 516.9,287.2 519.2,286.4 521.4,287.0 523.7,290.4 526.0,293.8 528.2,293.6 530.5,291.2 532.8,289.3 535.0,288.4 537.3,288.9"/>
<polyline points="310.9,288.6 313.2,290.7 315.4,291.2 317.7,290.3 320.0,289.3 322.2,289.8 324.5,291.0 326.8,292.2 329.0,292.7 331.3,291.3 333.6,288.9 335.8,288.9 338.1,287.2 340.3,287.2 342.6,288.6 344.9,291.1 347.1,291.2 349.4,289.2 351.7,289.2 353.9,287.5 356.2,287.5 358.5,288.5 360.7,288.5 363.0,291.0 365.2,290.6 367.5,288.7 369.8,288.5 372.0,288.5 374.3,290.6 376.6,289.6 378.8,288.8 381.1,288.8 383.4,290.3 385.6,291.7 387.9,292.3 390.1,291.9 392.4,290.9 394.7,290.3 396.9,290.3 399.2,290.3 401.5,289.6 403.7,289.0 406.0,288.2 408.3,286.4 410.5,286.4 412.8,286.4 415.0,286.4 417.3,262.5 419.6,262.5 421.8,262.5 424.1,245.7 426.4,249.5 428.6,255.1 430.9,260.7 433.2,265.0 435.4,268.8 437.7,273.6 439.9,278.7 442.2,282.5 444.5,282.5 446.7,285.3 449.0,286.3 451.3,288.4 453.5,288.4 455.8,288.4 458.1,293.9 460.3,293.4 462.6,291.4 464.8,291.4 467.1,289.8 469.4,290.5 471.6,290.5 473.9,292.1 476.2,292.7 478.4,292.6 480.7,292.9 483.0,292.9 485.2,292.9 487.5,292.9 489.7,292.8 492.0,292.8 494.3,290.8 496.5,290.8 498.8,290.8 501.1,287.9 503.3,287.9 505.6,287.9 507.9,287.9 510.1,305.8 512.4,305.8 514.6,305.8 516.9,328.6 519.2,328.6 521.4,328.6 523.7,303.3 526.0,303.3 528.2,303.3 530.5,291.0 532.8,291.1 535.0,291.1 537.3,291.1"/>
<polyline points="310.9,289.0 313.2,288.0 315.4,289.5 317.7,291.7 320.0,292.5 322.2,291.9 324.5,291.9 326.8,290.4 329.0,290.0 331.3,289.6 333.6,289.6 335.8,283.9 338.1,281.7 340.3,281.7 342.6,281.7 344.9,291.7 347.1,293.2 349.4,292.5 351.7,292.5 353.9,292.5 356.2,287.3 358.5,288.7 360.7,288.7 363.0,287.1 365.2,287.1 367.5,287.1 369.8,288.6 372.0,286.8 374.3,284.4 376.6,284.9 378.8,288.4 381.1,292.0 383.4,292.0 385.6,293.5 387.9,292.3 390.1,292.3 392.4,291.4 394.7,293.2 396.9,299.3 399.2,299.3 401.5,317.3 403.7,317.3 406.0,305.0 408.3,295.0 410.5,295.0 412.8,287.1 415.0,287.1 417.3,278.9 419.6,272.5 421.8,272.5 424.1,263.4 426.4,263.4 428.6,262.4 430.9,262.4 433.2,271.7 435.4,274.5 437.7,274.5 439.9,274.5 442.2,281.3 444.5,281.3 446.7,285.1 449.0,285.1 451.3,287.3 453.5,287.3 455.8,289.8 458.1,291.9 460.3,291.9 462.6,291.3 464.8,291.9 467.1,291.9 469.4,291.7 471.6,289.7 473.9,289.0 476.2,290.1 478.4,291.4 480.7,291.3 483.0,289.7 485.2,289.7 487.5,289.7 489.7,285.8 492.0,288.6 494.3,290.3 496.5,290.3 498.8,287.2 501.1,286.4 503.3,286.9 505.6,286.9 507.9,288.2 510.1,286.2 512.4,282.2 514.6,279.6 516.9,281.7 519.2,285.9 521.4,288.4 523.7,288.7 526.0,288.7 528.2,287.9 530.5,288.9 532.8,289.8 535.0,289.8 537.3,289.3"/>
<polyline points="310.9,285.9 313.2,285.9 315.4,291.7 317.7,291.7 320.0,291.7 322.2,291.7 324.5,287.9 326.8,287.8 329.0,287.8 331.3,288.0 333.6,288.0 335.8,287.4 338.1,288.4 340.3,290.0 342.6,290.0 344.9,292.5 347.1,291.1 349.4,289.5 351.7,289.5 353.9,288.1 356.2,287.7 358.5,287.8 360.7,289.0 363.0,289.5 365.2,287.9 367.5,287.1 369.8,287.1 372.0,290.8 374.3,291.4 376.6,291.4 378.8,292.1 381.1,293.0 383.4,292.8 385.6,292.5 387.9,292.7 390.1,292.7 392.4,291.6 394.7,289.9 396.9,289.9 399.2,292.0 401.5,293.4 403.7,293.4 406.0,290.1 408.3,287.9 410.5,284.9 412.8,284.9 415.0,284.9 417.3,261.6 419.6,253.2 421.8,247.0 424.1,245.2 426.4,247.8 428.6,253.2 430.9,253.2 433.2,263.1 435.4,263.1 437.7,263.1 439.9,263.1 442.2,282.5 444.5,282.5 446.7,288.6 449.0,288.8 451.3,289.7 453.5,291.4 455.8,292.3 458.1,291.8 460.3,290.5 462.6,290.0 464.8,290.7 467.1,290.7 469.4,292.9 471.6,294.3 473.9,294.5 476.2,293.1 478.4,293.1 480.7,293.1 483.0,292.5 485.2,292.7 487.5,292.7 489.7,292.8 492.0,292.8 494.3,292.8 496.5,292.8 498.8,286.7 501.1,285.7 503.3,284.7 505.6,284.7 507.9,286.1 510.1,288.1 512.4,289.3 514.6,290.6 516.9,294.3 519.2,299.1 521.4,299.1 523.7,310.5 526.0,313.4 528.2,313.7 530.5,313.7 532.8,314.1 535.0,312.9 537.3,312.9"/>
</g>
<rect x="20.50" y="3.50" width="243.50" height="156.80" fill="none" stroke="#a8a8a8" stroke-width="1"/>
<line x1="31.57" y1="160.30" x2="31.57" y2="162.30" stroke="#777" stroke-width="0.8"/>
<text transform="translate(31.57,166.70) scale(0.76,1)" text-anchor="middle" font-size="4.6" fill="#111" stroke="#111" stroke-width="0.05">0</text>
<line x1="75.84" y1="160.30" x2="75.84" y2="162.30" stroke="#777" stroke-width="0.8"/>
<text transform="translate(75.84,166.70) scale(0.76,1)" text-anchor="middle" font-size="4.6" fill="#111" stroke="#111" stroke-width="0.05">20</text>
<line x1="120.11" y1="160.30" x2="120.11" y2="162.30" stroke="#777" stroke-width="0.8"/>
<text transform="translate(120.11,166.70) scale(0.76,1)" text-anchor="middle" font-size="4.6" fill="#111" stroke="#111" stroke-width="0.05">40</text>
<line x1="164.39" y1="160.30" x2="164.39" y2="162.30" stroke="#777" stroke-width="0.8"/>
<text transform="translate(164.39,166.70) scale(0.76,1)" text-anchor="middle" font-size="4.6" fill="#111" stroke="#111" stroke-width="0.05">60</text>
<line x1="208.66" y1="160.30" x2="208.66" y2="162.30" stroke="#777" stroke-width="0.8"/>
<text transform="translate(208.66,166.70) scale(0.76,1)" text-anchor="middle" font-size="4.6" fill="#111" stroke="#111" stroke-width="0.05">80</text>
<line x1="252.93" y1="160.30" x2="252.93" y2="162.30" stroke="#777" stroke-width="0.8"/>
<text transform="translate(252.93,166.70) scale(0.76,1)" text-anchor="middle" font-size="4.6" fill="#111" stroke="#111" stroke-width="0.05">100</text>
<line x1="18.50" y1="160.30" x2="20.50" y2="160.30" stroke="#777" stroke-width="0.8"/>
<text transform="translate(17.90,161.90) scale(0.76,1)" text-anchor="end" font-size="4.6" fill="#111" stroke="#111" stroke-width="0.05">−80</text>
<line x1="18.50" y1="140.70" x2="20.50" y2="140.70" stroke="#777" stroke-width="0.8"/>
<text transform="translate(17.90,142.30) scale(0.76,1)" text-anchor="end" font-size="4.6" fill="#111" stroke="#111" stroke-width="0.05">−60</text>
<line x1="18.50" y1="121.10" x2="20.50" y2="121.10" stroke="#777" stroke-width="0.8"/>
<text transform="translate(17.90,122.70) scale(0.76,1)" text-anchor="end" font-size="4.6" fill="#111" stroke="#111" stroke-width="0.05">−40</text>
<line x1="18.50" y1="101.50" x2="20.50" y2="101.50" stroke="#777" stroke-width="0.8"/>
<text transform="translate(17.90,103.10) scale(0.76,1)" text-anchor="end" font-size="4.6" fill="#111" stroke="#111" stroke-width="0.05">−20</text>
<line x1="18.50" y1="81.90" x2="20.50" y2="81.90" stroke="#777" stroke-width="0.8"/>
<text transform="translate(17.90,83.50) scale(0.76,1)" text-anchor="end" font-size="4.6" fill="#111" stroke="#111" stroke-width="0.05">0</text>
<line x1="18.50" y1="62.30" x2="20.50" y2="62.30" stroke="#777" stroke-width="0.8"/>
<text transform="translate(17.90,63.90) scale(0.76,1)" text-anchor="end" font-size="4.6" fill="#111" stroke="#111" stroke-width="0.05">20</text>
<line x1="18.50" y1="42.70" x2="20.50" y2="42.70" stroke="#777" stroke-width="0.8"/>
<text transform="translate(17.90,44.30) scale(0.76,1)" text-anchor="end" font-size="4.6" fill="#111" stroke="#111" stroke-width="0.05">40</text>
<line x1="18.50" y1="23.10" x2="20.50" y2="23.10" stroke="#777" stroke-width="0.8"/>
<text transform="translate(17.90,24.70) scale(0.76,1)" text-anchor="end" font-size="4.6" fill="#111" stroke="#111" stroke-width="0.05">60</text>
<line x1="18.50" y1="3.50" x2="20.50" y2="3.50" stroke="#777" stroke-width="0.8"/>
<text transform="translate(17.90,5.10) scale(0.76,1)" text-anchor="end" font-size="4.6" fill="#111" stroke="#111" stroke-width="0.05">80</text>
<rect x="299.50" y="4.00" width="248.10" height="156.50" fill="none" stroke="#a8a8a8" stroke-width="1"/>
<line x1="310.78" y1="160.50" x2="310.78" y2="162.50" stroke="#777" stroke-width="0.8"/>
<text transform="translate(310.78,166.90) scale(0.76,1)" text-anchor="middle" font-size="4.6" fill="#111" stroke="#111" stroke-width="0.05">0</text>
<line x1="355.89" y1="160.50" x2="355.89" y2="162.50" stroke="#777" stroke-width="0.8"/>
<text transform="translate(355.89,166.90) scale(0.76,1)" text-anchor="middle" font-size="4.6" fill="#111" stroke="#111" stroke-width="0.05">20</text>
<line x1="401.00" y1="160.50" x2="401.00" y2="162.50" stroke="#777" stroke-width="0.8"/>
<text transform="translate(401.00,166.90) scale(0.76,1)" text-anchor="middle" font-size="4.6" fill="#111" stroke="#111" stroke-width="0.05">40</text>
<line x1="446.10" y1="160.50" x2="446.10" y2="162.50" stroke="#777" stroke-width="0.8"/>
<text transform="translate(446.10,166.90) scale(0.76,1)" text-anchor="middle" font-size="4.6" fill="#111" stroke="#111" stroke-width="0.05">60</text>
<line x1="491.21" y1="160.50" x2="491.21" y2="162.50" stroke="#777" stroke-width="0.8"/>
<text transform="translate(491.21,166.90) scale(0.76,1)" text-anchor="middle" font-size="4.6" fill="#111" stroke="#111" stroke-width="0.05">80</text>
<line x1="536.32" y1="160.50" x2="536.32" y2="162.50" stroke="#777" stroke-width="0.8"/>
<text transform="translate(536.32,166.90) scale(0.76,1)" text-anchor="middle" font-size="4.6" fill="#111" stroke="#111" stroke-width="0.05">100</text>
<line x1="297.50" y1="160.50" x2="299.50" y2="160.50" stroke="#777" stroke-width="0.8"/>
<text transform="translate(296.90,162.10) scale(0.76,1)" text-anchor="end" font-size="4.6" fill="#111" stroke="#111" stroke-width="0.05">−80</text>
<line x1="297.50" y1="140.94" x2="299.50" y2="140.94" stroke="#777" stroke-width="0.8"/>
<text transform="translate(296.90,142.54) scale(0.76,1)" text-anchor="end" font-size="4.6" fill="#111" stroke="#111" stroke-width="0.05">−60</text>
<line x1="297.50" y1="121.38" x2="299.50" y2="121.38" stroke="#777" stroke-width="0.8"/>
<text transform="translate(296.90,122.97) scale(0.76,1)" text-anchor="end" font-size="4.6" fill="#111" stroke="#111" stroke-width="0.05">−40</text>
<line x1="297.50" y1="101.81" x2="299.50" y2="101.81" stroke="#777" stroke-width="0.8"/>
<text transform="translate(296.90,103.41) scale(0.76,1)" text-anchor="end" font-size="4.6" fill="#111" stroke="#111" stroke-width="0.05">−20</text>
<line x1="297.50" y1="82.25" x2="299.50" y2="82.25" stroke="#777" stroke-width="0.8"/>
<text transform="translate(296.90,83.85) scale(0.76,1)" text-anchor="end" font-size="4.6" fill="#111" stroke="#111" stroke-width="0.05">0</text>
<line x1="297.50" y1="62.69" x2="299.50" y2="62.69" stroke="#777" stroke-width="0.8"/>
<text transform="translate(296.90,64.29) scale(0.76,1)" text-anchor="end" font-size="4.6" fill="#111" stroke="#111" stroke-width="0.05">20</text>
<line x1="297.50" y1="43.12" x2="299.50" y2="43.12" stroke="#777" stroke-width="0.8"/>
<text transform="translate(296.90,44.73) scale(0.76,1)" text-anchor="end" font-size="4.6" fill="#111" stroke="#111" stroke-width="0.05">40</text>
<line x1="297.50" y1="23.56" x2="299.50" y2="23.56" stroke="#777" stroke-width="0.8"/>
<text transform="translate(296.90,25.16) scale(0.76,1)" text-anchor="end" font-size="4.6" fill="#111" stroke="#111" stroke-width="0.05">60</text>
<line x1="297.50" y1="4.00" x2="299.50" y2="4.00" stroke="#777" stroke-width="0.8"/>
<text transform="translate(296.90,5.60) scale(0.76,1)" text-anchor="end" font-size="4.6" fill="#111" stroke="#111" stroke-width="0.05">80</text>
<rect x="18.70" y="211.20" width="246.30" height="158.80" fill="none" stroke="#a8a8a8" stroke-width="1"/>
<line x1="29.90" y1="370.00" x2="29.90" y2="372.00" stroke="#777" stroke-width="0.8"/>
<text transform="translate(29.90,376.40) scale(0.76,1)" text-anchor="middle" font-size="4.6" fill="#111" stroke="#111" stroke-width="0.05">0</text>
<line x1="74.68" y1="370.00" x2="74.68" y2="372.00" stroke="#777" stroke-width="0.8"/>
<text transform="translate(74.68,376.40) scale(0.76,1)" text-anchor="middle" font-size="4.6" fill="#111" stroke="#111" stroke-width="0.05">20</text>
<line x1="119.46" y1="370.00" x2="119.46" y2="372.00" stroke="#777" stroke-width="0.8"/>
<text transform="translate(119.46,376.40) scale(0.76,1)" text-anchor="middle" font-size="4.6" fill="#111" stroke="#111" stroke-width="0.05">40</text>
<line x1="164.24" y1="370.00" x2="164.24" y2="372.00" stroke="#777" stroke-width="0.8"/>
<text transform="translate(164.24,376.40) scale(0.76,1)" text-anchor="middle" font-size="4.6" fill="#111" stroke="#111" stroke-width="0.05">60</text>
<line x1="209.02" y1="370.00" x2="209.02" y2="372.00" stroke="#777" stroke-width="0.8"/>
<text transform="translate(209.02,376.40) scale(0.76,1)" text-anchor="middle" font-size="4.6" fill="#111" stroke="#111" stroke-width="0.05">80</text>
<line x1="253.80" y1="370.00" x2="253.80" y2="372.00" stroke="#777" stroke-width="0.8"/>
<text transform="translate(253.80,376.40) scale(0.76,1)" text-anchor="middle" font-size="4.6" fill="#111" stroke="#111" stroke-width="0.05">100</text>
<line x1="16.70" y1="370.00" x2="18.70" y2="370.00" stroke="#777" stroke-width="0.8"/>
<text transform="translate(16.10,371.60) scale(0.76,1)" text-anchor="end" font-size="4.6" fill="#111" stroke="#111" stroke-width="0.05">−80</text>
<line x1="16.70" y1="350.15" x2="18.70" y2="350.15" stroke="#777" stroke-width="0.8"/>
<text transform="translate(16.10,351.75) scale(0.76,1)" text-anchor="end" font-size="4.6" fill="#111" stroke="#111" stroke-width="0.05">−60</text>
<line x1="16.70" y1="330.30" x2="18.70" y2="330.30" stroke="#777" stroke-width="0.8"/>
<text transform="translate(16.10,331.90) scale(0.76,1)" text-anchor="end" font-size="4.6" fill="#111" stroke="#111" stroke-width="0.05">−40</text>
<line x1="16.70" y1="310.45" x2="18.70" y2="310.45" stroke="#777" stroke-width="0.8"/>
<text transform="translate(16.10,312.05) scale(0.76,1)" text-anchor="end" font-size="4.6" fill="#111" stroke="#111" stroke-width="0.05">−20</text>
<line x1="16.70" y1="290.60" x2="18.70" y2="290.60" stroke="#777" stroke-width="0.8"/>
<text transform="translate(16.10,292.20) scale(0.76,1)" text-anchor="end" font-size="4.6" fill="#111" stroke="#111" stroke-width="0.05">0</text>
<line x1="16.70" y1="270.75" x2="18.70" y2="270.75" stroke="#777" stroke-width="0.8"/>
<text transform="translate(16.10,272.35) scale(0.76,1)" text-anchor="end" font-size="4.6" fill="#111" stroke="#111" stroke-width="0.05">20</text>
<line x1="16.70" y1="250.90" x2="18.70" y2="250.90" stroke="#777" stroke-width="0.8"/>
<text transform="translate(16.10,252.50) scale(0.76,1)" text-anchor="end" font-size="4.6" fill="#111" stroke="#111" stroke-width="0.05">40</text>
<line x1="16.70" y1="231.05" x2="18.70" y2="231.05" stroke="#777" stroke-width="0.8"/>
<text transform="translate(16.10,232.65) scale(0.76,1)" text-anchor="end" font-size="4.6" fill="#111" stroke="#111" stroke-width="0.05">60</text>
<line x1="16.70" y1="211.20" x2="18.70" y2="211.20" stroke="#777" stroke-width="0.8"/>
<text transform="translate(16.10,212.80) scale(0.76,1)" text-anchor="end" font-size="4.6" fill="#111" stroke="#111" stroke-width="0.05">80</text>
<rect x="299.60" y="211.00" width="249.00" height="157.50" fill="none" stroke="#a8a8a8" stroke-width="1"/>
<line x1="310.92" y1="368.50" x2="310.92" y2="370.50" stroke="#777" stroke-width="0.8"/>
<text transform="translate(310.92,374.90) scale(0.76,1)" text-anchor="middle" font-size="4.6" fill="#111" stroke="#111" stroke-width="0.05">0</text>
<line x1="356.19" y1="368.50" x2="356.19" y2="370.50" stroke="#777" stroke-width="0.8"/>
<text transform="translate(356.19,374.90) scale(0.76,1)" text-anchor="middle" font-size="4.6" fill="#111" stroke="#111" stroke-width="0.05">20</text>
<line x1="401.46" y1="368.50" x2="401.46" y2="370.50" stroke="#777" stroke-width="0.8"/>
<text transform="translate(401.46,374.90) scale(0.76,1)" text-anchor="middle" font-size="4.6" fill="#111" stroke="#111" stroke-width="0.05">40</text>
<line x1="446.74" y1="368.50" x2="446.74" y2="370.50" stroke="#777" stroke-width="0.8"/>
<text transform="translate(446.74,374.90) scale(0.76,1)" text-anchor="middle" font-size="4.6" fill="#111" stroke="#111" stroke-width="0.05">60</text>
<line x1="492.01" y1="368.50" x2="492.01" y2="370.50" stroke="#777" stroke-width="0.8"/>
<text transform="translate(492.01,374.90) scale(0.76,1)" text-anchor="middle" font-size="4.6" fill="#111" stroke="#111" stroke-width="0.05">80</text>
<line x1="537.28" y1="368.50" x2="537.28" y2="370.50" stroke="#777" stroke-width="0.8"/>
<text transform="translate(537.28,374.90) scale(0.76,1)" text-anchor="middle" font-size="4.6" fill="#111" stroke="#111" stroke-width="0.05">100</text>
<line x1="297.60" y1="368.50" x2="299.60" y2="368.50" stroke="#777" stroke-width="0.8"/>
<text transform="translate(297.00,370.10) scale(0.76,1)" text-anchor="end" font-size="4.6" fill="#111" stroke="#111" stroke-width="0.05">−80</text>
<line x1="297.60" y1="348.81" x2="299.60" y2="348.81" stroke="#777" stroke-width="0.8"/>
<text transform="translate(297.00,350.41) scale(0.76,1)" text-anchor="end" font-size="4.6" fill="#111" stroke="#111" stroke-width="0.05">−60</text>
<line x1="297.60" y1="329.12" x2="299.60" y2="329.12" stroke="#777" stroke-width="0.8"/>
<text transform="translate(297.00,330.73) scale(0.76,1)" text-anchor="end" font-size="4.6" fill="#111" stroke="#111" stroke-width="0.05">−40</text>
<line x1="297.60" y1="309.44" x2="299.60" y2="309.44" stroke="#777" stroke-width="0.8"/>
<text transform="translate(297.00,311.04) scale(0.76,1)" text-anchor="end" font-size="4.6" fill="#111" stroke="#111" stroke-width="0.05">−20</text>
<line x1="297.60" y1="289.75" x2="299.60" y2="289.75" stroke="#777" stroke-width="0.8"/>
<text transform="translate(297.00,291.35) scale(0.76,1)" text-anchor="end" font-size="4.6" fill="#111" stroke="#111" stroke-width="0.05">0</text>
<line x1="297.60" y1="270.06" x2="299.60" y2="270.06" stroke="#777" stroke-width="0.8"/>
<text transform="translate(297.00,271.66) scale(0.76,1)" text-anchor="end" font-size="4.6" fill="#111" stroke="#111" stroke-width="0.05">20</text>
<line x1="297.60" y1="250.38" x2="299.60" y2="250.38" stroke="#777" stroke-width="0.8"/>
<text transform="translate(297.00,251.97) scale(0.76,1)" text-anchor="end" font-size="4.6" fill="#111" stroke="#111" stroke-width="0.05">40</text>
<line x1="297.60" y1="230.69" x2="299.60" y2="230.69" stroke="#777" stroke-width="0.8"/>
<text transform="translate(297.00,232.29) scale(0.76,1)" text-anchor="end" font-size="4.6" fill="#111" stroke="#111" stroke-width="0.05">60</text>
<line x1="297.60" y1="211.00" x2="299.60" y2="211.00" stroke="#777" stroke-width="0.8"/>
<text transform="translate(297.00,212.60) scale(0.76,1)" text-anchor="end" font-size="4.6" fill="#111" stroke="#111" stroke-width="0.05">80</text>
<text transform="translate(142.00,175.70) scale(0.725,1)" text-anchor="middle" font-size="8.2" fill="#111" stroke="#111" stroke-width="0.15">Features</text>
<text transform="translate(7.90,82.20) rotate(-90) scale(1.12,0.88)" text-anchor="middle" font-size="7.2" fill="#111" stroke="#111" stroke-width="0.15">Sensor Values</text>
<text transform="translate(423.40,175.70) scale(0.725,1)" text-anchor="middle" font-size="8.2" fill="#111" stroke="#111" stroke-width="0.15">Features</text>
<text transform="translate(287.30,82.30) rotate(-90) scale(1.12,0.88)" text-anchor="middle" font-size="7.2" fill="#111" stroke="#111" stroke-width="0.15">Sensor Values</text>
<text transform="translate(141.90,385.70) scale(0.725,1)" text-anchor="middle" font-size="8.2" fill="#111" stroke="#111" stroke-width="0.15">Features</text>
<text transform="translate(6.00,290.50) rotate(-90) scale(1.12,0.88)" text-anchor="middle" font-size="7.2" fill="#111" stroke="#111" stroke-width="0.15">Sensor Values</text>
<text transform="translate(423.90,383.70) scale(0.725,1)" text-anchor="middle" font-size="8.2" fill="#111" stroke="#111" stroke-width="0.15">Features</text>
<text transform="translate(287.00,289.60) rotate(-90) scale(1.12,0.88)" text-anchor="middle" font-size="7.2" fill="#111" stroke="#111" stroke-width="0.15">Sensor Values</text>
</g>
<text x="133.65" y="196.9" text-anchor="middle" font-family="Liberation Serif, serif" font-weight="bold" font-size="11.2" fill="#000">(a)</text>
<text x="415.3" y="197.0" text-anchor="middle" font-family="Liberation Serif, serif" font-weight="bold" font-size="11.2" fill="#000">(b)</text>
<text x="133.85" y="406.6" text-anchor="middle" font-family="Liberation Serif, serif" font-weight="bold" font-size="11.2" fill="#000">(c)</text>
<text x="415.45" y="405.9" text-anchor="middle" font-family="Liberation Serif, serif" font-weight="bold" font-size="11.2" fill="#000">(d)</text>
</svg></body></html>
